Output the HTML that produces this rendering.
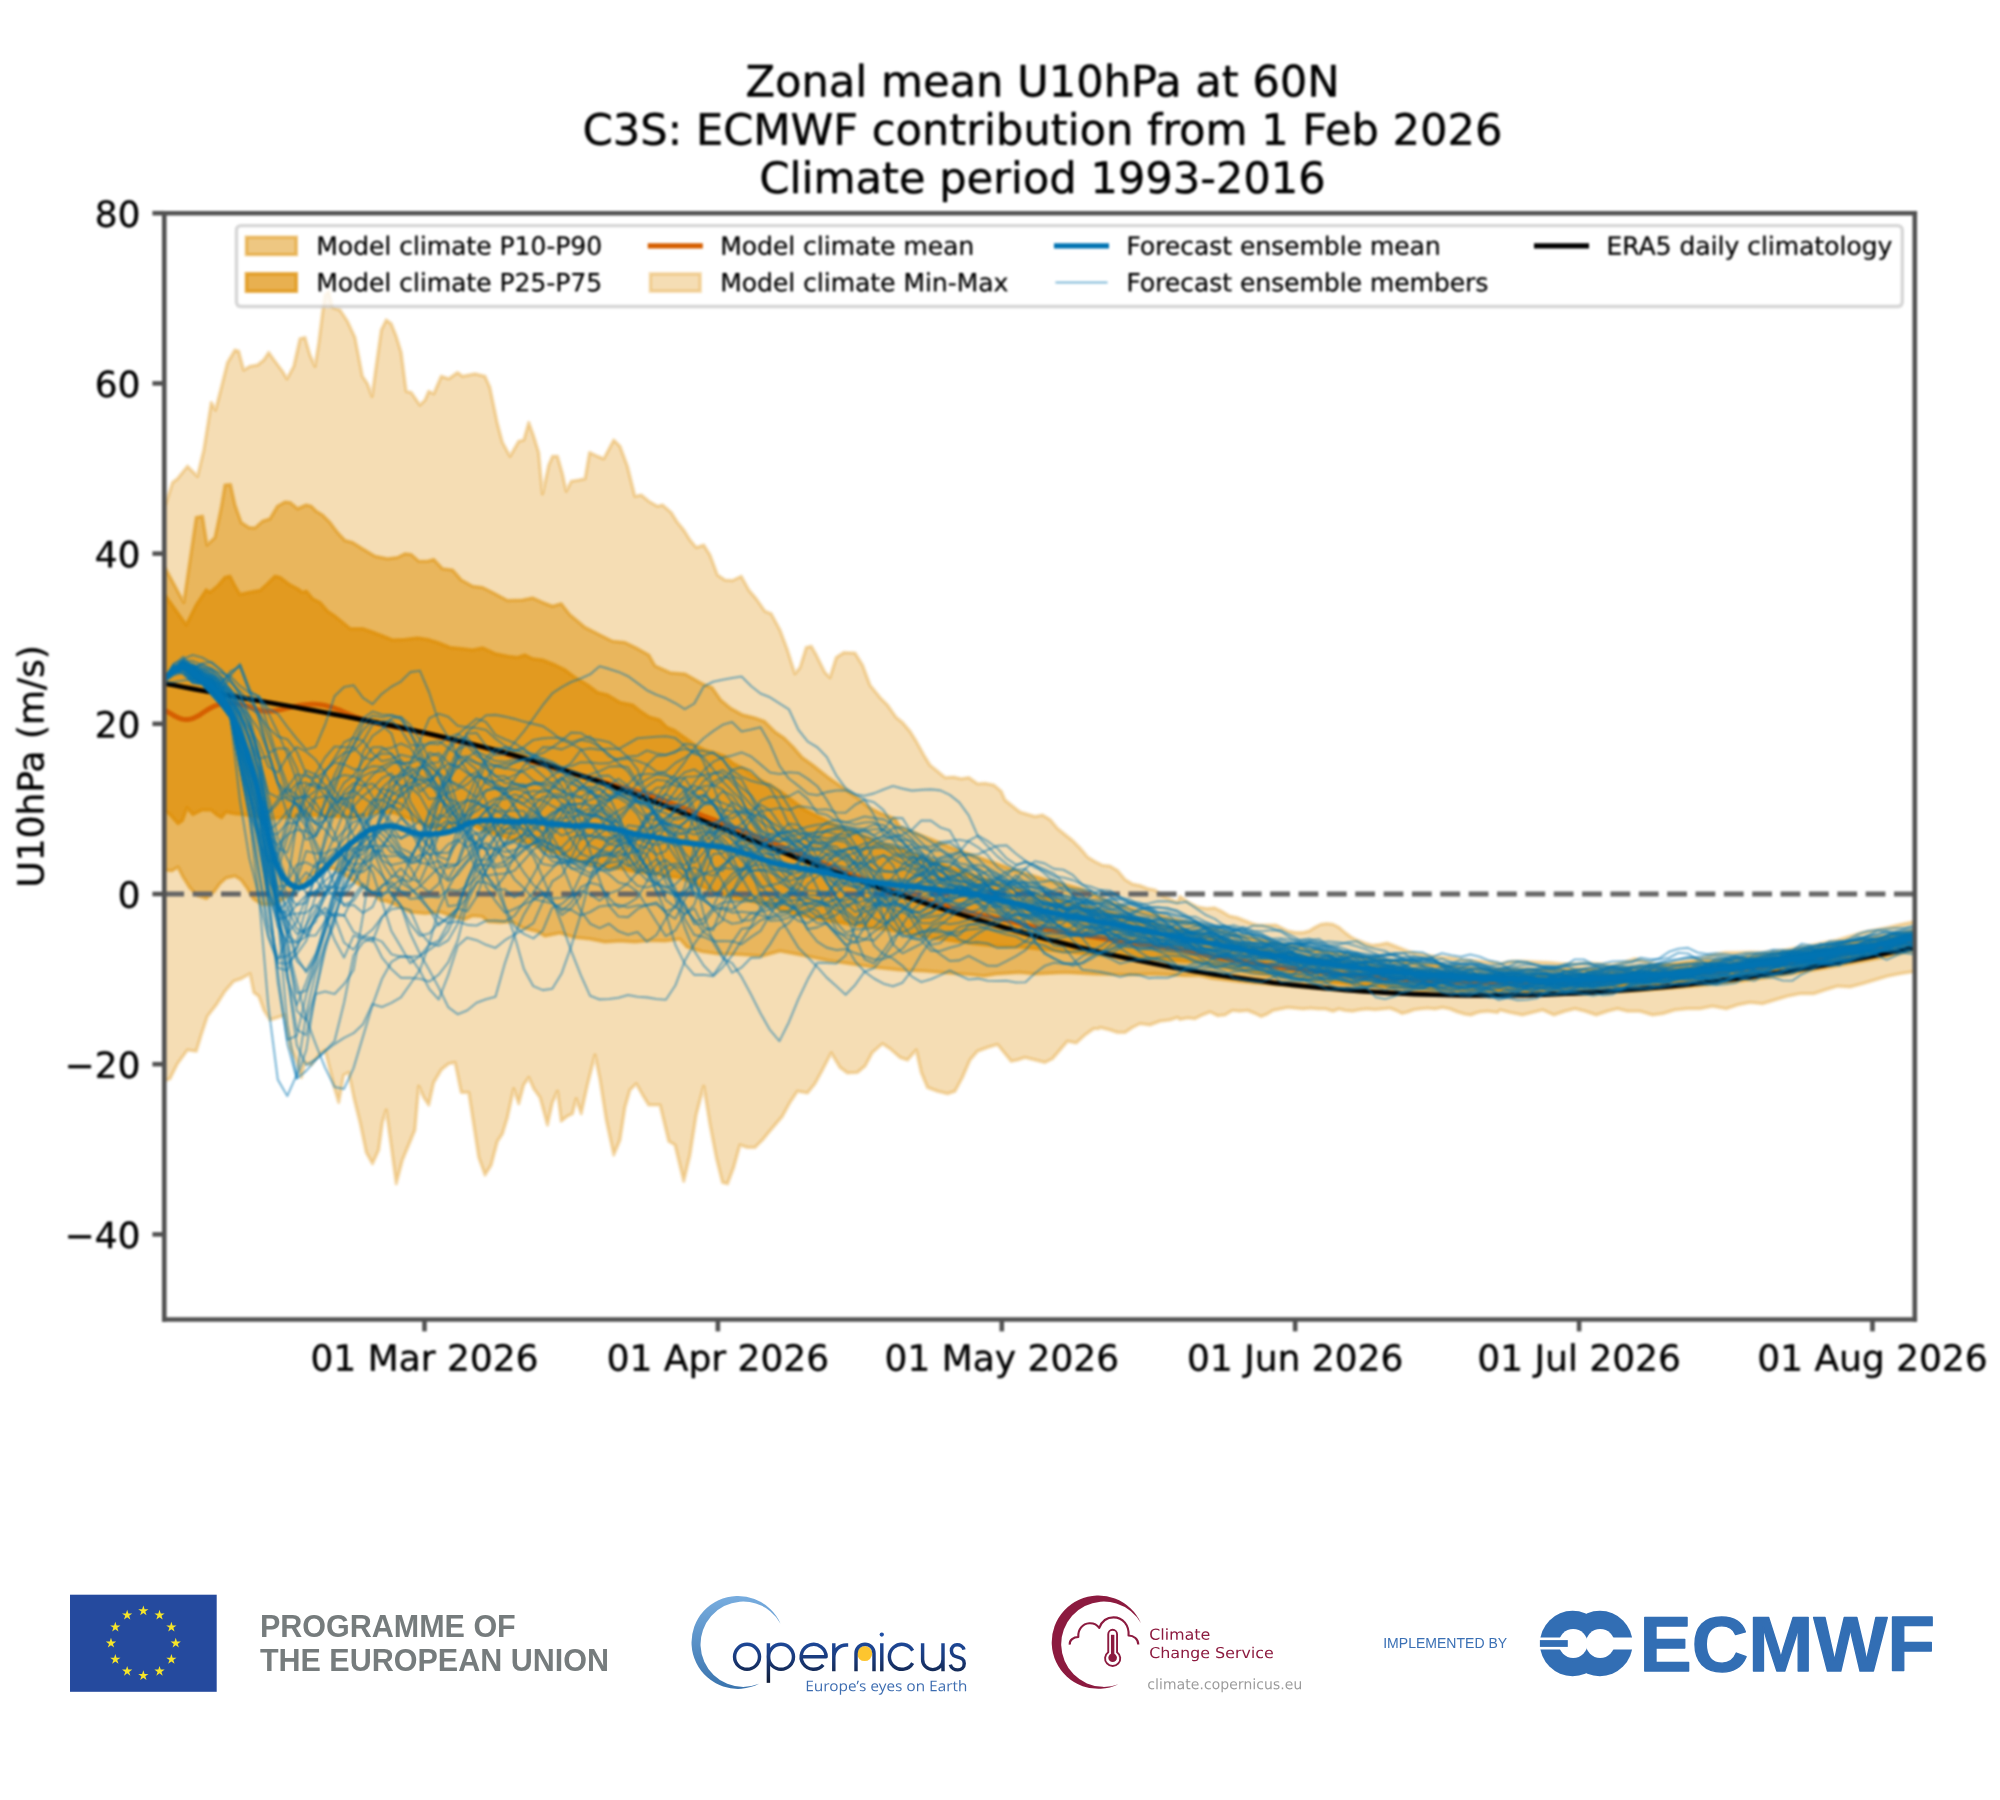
<!DOCTYPE html>
<html lang="en"><head><meta charset="utf-8"><title>Zonal mean U10hPa at 60N</title>
<style>
html,body{margin:0;padding:0;background:#fff;}
body{width:2000px;height:1800px;position:relative;overflow:hidden;font-family:"Liberation Sans",sans-serif;}
#page{position:relative;width:2000px;height:1800px;overflow:hidden;background:#fff;}
#chart{position:absolute;left:0;top:0;width:2000px;height:1800px;}
#txt span{position:absolute;color:transparent;white-space:nowrap;line-height:1.15;pointer-events:none;}
#chart svg{display:block;filter:blur(0.9px);}
#footer{filter:blur(0.55px);}
#chart g[id^="text_"] use{stroke:#000;stroke-width:70;}
</style></head><body>
<div id="page">
<div id="chart">
<svg width="2000" height="1800" viewBox="0 0 588.235294 529.411765" version="1.1">
 <defs>
  <style type="text/css">*{stroke-linejoin: round; stroke-linecap: butt}</style>
 </defs>
 <g id="figure_1">
  <g id="patch_1">
   <path d="M 0 529.41 L 588.23 529.41 L 588.23 0 L 0 0 L 0 529.41 z " style="fill: none"/>
  </g>
  <g id="axes_1">
   <g id="patch_2">
    <path d="M 48.32 388.08 L 563.17 388.08 L 563.17 62.70 L 48.32 62.70 L 48.32 388.08 z " style="fill: none"/>
   </g>
   <g id="patch_3">
    <path d="M 48.32 148.89 L 48.52 148.89 L 50.73 141.91 L 52.20 140.80 L 55.14 137.13 L 58.08 140.07 L 59.92 132.35 L 62.13 118.38 L 63.38 120.58 L 64.70 115.44 L 66.91 106.61 L 69.11 102.94 L 70.22 103.30 L 71.69 108.82 L 73.52 107.72 L 75.73 107.35 L 77.57 105.88 L 79.04 103.67 L 80.88 106.25 L 83.08 109.19 L 84.41 111.39 L 86.39 107.72 L 88.23 99.63 L 89.70 99.26 L 91.17 104.41 L 92.64 107.72 L 93.75 100.73 L 94.85 91.91 L 95.58 86.76 L 96.69 85.66 L 97.79 90.44 L 100 91.17 L 102.20 94.48 L 104.41 99.26 L 106.61 110.66 L 108.08 112.86 L 109.41 116.54 L 110.66 107.35 L 112.13 97.05 L 113.60 94.11 L 115.07 95.22 L 116.54 98.89 L 118.01 103.67 L 119.48 115.07 L 120.95 115.44 L 123.52 119.11 L 125 117.64 L 126.10 115.07 L 127.57 115.80 L 129.77 110.66 L 131.98 111.39 L 134.55 109.55 L 136.02 110.66 L 139.70 109.92 L 142.64 110.66 L 144.11 113.97 L 146.32 124.63 L 147.79 130.14 L 150 134.19 L 152.57 129.77 L 154.04 129.41 L 155.51 124.26 L 156.98 128.30 L 158.45 133.08 L 159.55 145.22 L 161.39 136.76 L 162.5 134.19 L 163.97 134.19 L 165.44 139.33 L 166.54 144.48 L 168.01 141.54 L 170.22 141.17 L 172.05 140.80 L 173.38 133.08 L 175.73 134.19 L 177.57 134.92 L 180.51 129.41 L 182.35 131.25 L 184.55 137.13 L 186.76 145.95 L 188.60 145.58 L 190.80 147.42 L 193.38 148.89 L 194.85 148.52 L 197.42 150.73 L 199.26 153.67 L 201.10 155.88 L 202.94 158.82 L 204.77 161.02 L 206.98 160.29 L 208.82 163.23 L 211.02 169.11 L 213.23 170.58 L 215.44 170.73 L 218.01 169.48 L 220.22 173.52 L 222.42 176.10 L 225 179.77 L 226.83 180.51 L 229.41 185.29 L 231.61 191.17 L 233.82 198.16 L 235.29 196.32 L 237.13 190.44 L 238.60 190.07 L 240.07 192.64 L 242.64 197.79 L 244.11 199.26 L 245.95 193.38 L 248.16 191.91 L 251.47 192.05 L 253.67 195.58 L 255.88 201.47 L 258.82 205.14 L 261.02 207.35 L 263.60 211.02 L 265.44 212.5 L 267.64 215.07 L 269.48 218.01 L 271.69 222.05 L 273.52 225 L 275.73 226.83 L 277.94 228.67 L 280.51 228.52 L 282.72 229.04 L 284.92 228.67 L 287.5 230.51 L 289.70 230.36 L 292.27 230.88 L 294.48 232.72 L 295.58 235.29 L 299.99 238.82 L 304.41 240.14 L 306.61 239.70 L 308.82 241.02 L 311.02 243.67 L 313.23 245.44 L 315.44 247.20 L 317.64 249.41 L 319.85 252.05 L 322.05 253.38 L 324.26 254.48 L 326.47 254.70 L 328.67 256.02 L 330.88 258.67 L 333.08 259.99 L 335.29 260.44 L 337.49 261.32 L 339.70 261.76 L 341.91 263.52 L 344.11 264.41 L 346.32 265.29 L 346.32 265.44 L 347.05 263.67 L 349.70 265.44 L 352.35 266.76 L 354.99 267.20 L 357.20 266.98 L 359.41 268.08 L 361.61 269.41 L 363.82 269.85 L 366.02 270.73 L 368.23 271.61 L 369.99 272.05 L 372.64 272.05 L 375.29 272.05 L 377.05 272.94 L 378.82 273.82 L 381.02 274.26 L 383.23 274.26 L 384.99 273.82 L 386.76 272.72 L 388.52 271.83 L 390.29 271.61 L 392.05 271.83 L 393.82 272.72 L 395.58 274.26 L 397.35 275.58 L 399.11 276.47 L 401.32 277.35 L 403.52 278.01 L 405.73 277.79 L 407.94 277.35 L 409.70 278.01 L 411.91 278.89 L 414.11 279.77 L 416.76 280.44 L 419.41 280.88 L 422.05 281.32 L 424.70 281.54 L 427.35 281.76 L 429.99 282.20 L 432.64 282.42 L 435.29 282.64 L 437.5 282.94 L 440.44 283.23 L 441.17 283.45 L 444.85 282.72 L 448.52 282.72 L 452.20 282.94 L 455.88 283.08 L 459.55 283.45 L 463.23 283.45 L 466.91 283.23 L 470.58 283.45 L 474.26 283.82 L 477.94 282.94 L 480.88 281.98 L 483.82 282.72 L 486.76 283.45 L 491.17 283.45 L 495.58 282.72 L 500 281.98 L 503.67 280.88 L 507.35 280.14 L 511.02 280.14 L 514.70 280 L 518.38 280.14 L 522.05 279.77 L 525.73 279.26 L 529.41 278.52 L 533.08 277.94 L 536.76 277.20 L 540.44 276.47 L 544.11 275.36 L 547.79 274.26 L 551.47 273.52 L 555.14 272.79 L 558.82 271.91 L 563.17 271.04 L 563.17 285.74 L 558.82 286.39 L 555.14 287.13 L 551.47 288.23 L 547.79 289.33 L 544.11 290.29 L 540.44 290.07 L 536.76 291.17 L 533.45 292.27 L 529.41 292.27 L 525.73 293.01 L 522.05 294.11 L 518.38 295.22 L 514.70 294.85 L 511.02 295.58 L 507.72 296.69 L 503.67 295.95 L 500 296.69 L 496.32 296.69 L 492.64 297.05 L 488.97 298.16 L 486.02 298.52 L 482.35 297.42 L 478.67 297.42 L 475.73 296.69 L 472.79 297.42 L 469.48 298.52 L 466.17 297.42 L 463.23 296.69 L 460.29 297.42 L 456.98 298.52 L 453.67 297.05 L 450.73 297.79 L 447.79 298.52 L 444.11 297.79 L 441.17 297.05 L 440.44 297.79 L 437.5 297.42 L 435.29 297.64 L 434.41 297.86 L 432.64 298.52 L 430.88 298.30 L 428.67 297.64 L 426.47 296.76 L 424.26 296.32 L 422.05 296.76 L 419.85 296.54 L 417.64 296.76 L 415.88 296.98 L 414.11 297.64 L 412.35 298.08 L 410.58 297.20 L 408.82 296.54 L 406.61 296.76 L 404.41 296.98 L 402.20 296.76 L 399.99 296.98 L 397.79 297.42 L 395.58 297.20 L 393.82 296.76 L 392.05 297.42 L 389.85 296.76 L 387.64 296.76 L 385.44 296.54 L 383.23 296.76 L 381.02 296.54 L 378.82 296.32 L 376.61 296.76 L 374.41 297.20 L 372.64 298.30 L 370.88 298.97 L 369.11 298.08 L 366.91 297.20 L 364.70 297.42 L 362.49 297.20 L 360.29 298.52 L 358.08 298.74 L 355.88 297.64 L 353.67 298.52 L 351.47 299.63 L 349.26 299.41 L 347.05 299.85 L 346.32 299.26 L 344.11 300 L 341.17 300.36 L 338.23 301.47 L 335.29 301.10 L 333.08 302.20 L 330.88 303.67 L 328.67 303.67 L 326.47 302.94 L 323.52 302.20 L 323.16 302.57 L 321.69 302.57 L 319.11 304.41 L 316.54 306.76 L 313.97 306.25 L 311.76 308.82 L 309.55 311.39 L 307.35 312.5 L 304.41 311.76 L 301.47 311.02 L 299.26 311.76 L 297.42 312.13 L 295.58 309.92 L 293.38 307.20 L 290.44 308.08 L 287.5 309.19 L 285.29 311.76 L 283.08 316.91 L 280.88 320.95 L 278.67 321.69 L 275.73 320.95 L 272.79 319.85 L 270.95 315.44 L 269.48 308.82 L 266.91 311.76 L 264.70 311.02 L 261.76 308.45 L 259.55 306.98 L 256.61 309.55 L 254.41 313.60 L 252.20 315.44 L 249.26 315.58 L 247.05 313.97 L 244.48 309.70 L 241.91 314.70 L 239.70 318.75 L 237.5 321.47 L 234.55 320.95 L 232.35 324.26 L 230.14 328.30 L 227.94 330.88 L 226.10 333.08 L 224.26 335.29 L 222.05 337.5 L 219.85 337.5 L 217.64 336.76 L 215.80 343.38 L 213.97 348.16 L 212.5 347.79 L 210.66 340.44 L 208.82 330.88 L 206.98 319.48 L 204.77 327.94 L 202.94 339.70 L 201.10 347.42 L 198.52 336.76 L 196.69 335.66 L 194.11 325 L 191.54 325 L 190.80 325 L 188.97 322.05 L 187.13 318.75 L 185.29 320.58 L 183.82 325.73 L 182.35 335.29 L 180.51 339.70 L 178.30 329.41 L 176.47 317.64 L 175 310.29 L 172.79 319.11 L 170.95 327.57 L 169.48 323.16 L 168.38 327.57 L 166.91 328.30 L 165.07 329.77 L 163.97 320.95 L 162.5 324.26 L 161.02 330.88 L 158.82 322.79 L 156.98 320.22 L 155.51 316.91 L 154.04 319.11 L 152.57 324.63 L 151.10 320.22 L 149.26 328.67 L 147.79 333.45 L 146.32 335.66 L 144.48 342.64 L 142.64 345.58 L 140.80 340.44 L 139.33 330.88 L 137.86 321.32 L 135.66 321.32 L 133.82 312.5 L 131.98 312.86 L 129.77 314.70 L 127.57 318.38 L 126.10 325 L 124.63 322.79 L 123.16 319.48 L 122.05 332.35 L 120.22 336.76 L 118.38 341.17 L 116.54 348.16 L 114.70 334.55 L 113.60 326.47 L 112.5 330.14 L 111.39 338.23 L 109.55 342.27 L 107.72 338.97 L 105.88 330.14 L 104.04 322.79 L 102.57 315.44 L 101.10 316.17 L 99.63 324.26 L 98.52 320.58 L 97.05 314.70 L 95.58 308.82 L 94.11 309.92 L 91.54 313.23 L 89.70 312.5 L 88.60 316.91 L 87.13 311.76 L 85.29 308.08 L 83.82 298.52 L 81.61 299.26 L 79.41 300 L 77.57 297.05 L 76.10 293.01 L 74.63 291.91 L 73.52 286.39 L 70.95 287.86 L 68.75 288.60 L 66.17 291.54 L 63.60 295.58 L 61.02 298.89 L 59.19 304.41 L 57.72 309.19 L 55.14 308.82 L 52.20 312.86 L 50 317.27 L 48.32 318.00 z " clip-path="url(#p6716cef48e)" style="fill: #de8f05; fill-opacity: 0.3; stroke: #de8f05; stroke-opacity: 0.3; stroke-width: 1.05"/>
   </g>
   <g id="patch_4">
    <path d="M 48.32 166.91 L 48.52 166.91 L 54.04 177.20 L 57.72 152.20 L 59.55 151.83 L 60.88 160.29 L 63.23 158.08 L 65.07 149.26 L 66.17 142.64 L 67.79 142.5 L 69.11 148.52 L 70.95 153.67 L 73.16 155.14 L 75 155.29 L 77.20 153.30 L 79.41 152.57 L 81.61 148.89 L 83.82 147.64 L 85.29 147.79 L 87.5 149.63 L 90.07 148.52 L 91.54 148.89 L 93.01 150.36 L 94.85 151.47 L 97.05 153.67 L 99.26 156.61 L 101.47 158.97 L 103.67 159.55 L 106.61 161.39 L 110.29 163.60 L 113.97 164.33 L 116.91 163.97 L 119.11 162.86 L 120.95 163.08 L 123.16 165.07 L 125.73 165.07 L 127.57 164.55 L 130.14 167.27 L 133.08 167.64 L 135.66 170.58 L 138.97 172.42 L 141.91 172.79 L 144.85 174.26 L 149.26 176.61 L 153.67 176.47 L 156.61 175.88 L 159.55 177.20 L 162.5 178.30 L 165.07 177.57 L 167.64 180.88 L 172.05 184.55 L 176.47 186.76 L 180.14 188.60 L 183.82 188.97 L 187.5 190.80 L 190.80 192.64 L 192.64 195.88 L 197.05 197.85 L 201.47 198.23 L 205.88 200.73 L 207.64 201.61 L 209.41 202.26 L 212.05 206.02 L 214.70 208.23 L 218.23 210.20 L 221.76 211.08 L 224.85 212.20 L 227.94 215.29 L 230.58 217.05 L 233.23 219.70 L 235.88 222.79 L 238.97 225 L 243.38 228.52 L 247.79 231.61 L 252.20 234.70 L 255.29 237.35 L 258.82 239.11 L 263.23 240.88 L 264.70 243.23 L 273.52 246.76 L 282.35 250.29 L 291.17 253.38 L 300 256.47 L 308.82 259.11 L 317.64 261.32 L 326.47 265.29 L 335.29 267.94 L 344.11 270.14 L 352.94 271.91 L 355.88 272.96 L 360.29 274.02 L 364.70 275.05 L 369.11 276.03 L 373.52 276.97 L 377.94 277.88 L 382.35 278.74 L 386.76 279.46 L 391.17 280.14 L 395.58 280.79 L 400 281.39 L 404.41 281.95 L 408.82 282.48 L 413.23 282.97 L 417.64 283.42 L 422.05 283.83 L 426.47 284.20 L 430.88 284.54 L 435.29 284.84 L 439.70 284.99 L 444.11 285.09 L 448.52 285.16 L 452.94 285.19 L 457.35 285.19 L 461.76 285.15 L 466.17 285.08 L 470.58 284.97 L 475 284.77 L 479.41 284.53 L 483.82 284.26 L 488.23 283.95 L 492.64 283.61 L 497.05 283.23 L 501.47 282.83 L 505.88 282.39 L 510.29 281.91 L 514.70 281.40 L 519.11 280.86 L 523.52 280.28 L 527.94 279.67 L 532.35 279.02 L 536.76 278.34 L 541.17 277.64 L 545.58 276.90 L 550 276.13 L 554.41 275.33 L 558.82 274.49 L 563.17 273.69 L 563.17 279.57 L 558.82 280.45 L 554.41 281.37 L 550 282.25 L 545.58 283.10 L 541.17 283.92 L 536.76 284.71 L 532.35 285.46 L 527.94 286.19 L 523.52 286.88 L 519.11 287.54 L 514.70 288.17 L 510.29 288.71 L 505.88 289.21 L 501.47 289.68 L 497.05 290.12 L 492.64 290.52 L 488.23 290.89 L 483.82 291.23 L 479.41 291.53 L 475 291.79 L 470.58 292.03 L 466.17 292.25 L 461.76 292.43 L 457.35 292.58 L 452.94 292.69 L 448.52 292.77 L 444.11 292.81 L 439.70 292.82 L 435.29 292.78 L 430.88 292.78 L 426.47 292.73 L 422.05 292.65 L 417.64 292.53 L 413.23 292.38 L 408.82 292.18 L 404.41 291.95 L 400 291.68 L 395.58 291.37 L 391.17 291.03 L 386.76 290.64 L 382.35 290.21 L 377.94 289.88 L 373.52 289.50 L 369.11 289.09 L 364.70 288.64 L 360.29 288.14 L 355.88 287.61 L 352.94 286.91 L 348.52 286.91 L 339.70 286.47 L 330.88 286.67 L 322.05 286.47 L 313.23 286.02 L 304.41 286.47 L 300 286 L 292.94 286.47 L 289.41 287.05 L 285.88 286.70 L 278.82 286.17 L 271.76 285.58 L 264.70 285.29 L 257.64 284.58 L 250.58 283.52 L 243.52 282.47 L 236.47 281.05 L 229.41 279.70 L 224.11 281.17 L 217.64 280.73 L 210.88 280.5 L 206.47 279.85 L 202.05 278.52 L 200 276.17 L 195.58 276.76 L 191.17 276.61 L 186.76 277.05 L 182.35 276.76 L 177.94 277.05 L 173.52 276.17 L 169.11 275.73 L 164.70 274.41 L 160.29 275.29 L 158.08 273.97 L 153.67 272.85 L 150.58 271.08 L 147.05 271.32 L 143.52 271.08 L 141.76 269.55 L 139.11 269.32 L 136.47 270.44 L 133.82 269.70 L 129.41 268.23 L 125 268.67 L 120.58 268.23 L 116.17 266.02 L 113.97 265.14 L 111.76 264.70 L 108.82 262.05 L 104.41 259.41 L 100 256.32 L 97.64 255.29 L 93.52 255.88 L 89.70 258.82 L 85.29 263.23 L 80.58 266.02 L 77.05 266.02 L 74.41 264.26 L 72.64 261.17 L 70.88 258.73 L 69.11 257.64 L 66.47 258.23 L 64.70 259.85 L 62.94 262.26 L 60.73 264.26 L 58.08 263.38 L 55.88 261.17 L 53.67 257.64 L 52.35 255 L 50.58 256.08 L 48.32 255.88 z " clip-path="url(#p6716cef48e)" style="fill: #de8f05; fill-opacity: 0.5; stroke: #de8f05; stroke-opacity: 0.5; stroke-width: 1.05"/>
   </g>
   <g id="patch_5">
    <path d="M 48.32 175 L 48.52 175 L 54.77 183.82 L 57.72 177.94 L 60.66 173.52 L 61.76 174.26 L 63.97 172.42 L 66.17 169.85 L 67.64 169.48 L 69.11 172.42 L 70.58 174.85 L 73.16 174.26 L 76.47 173.67 L 78.67 171.69 L 80.88 169.48 L 82.35 169.85 L 85.29 172.05 L 87.5 173.16 L 88.97 174.26 L 90.07 173.89 L 91.91 176.10 L 94.11 177.20 L 96.32 179.77 L 98.52 181.25 L 100.73 183.08 L 102.94 184.92 L 106.61 184.92 L 108.82 185.66 L 111.76 186.76 L 115.44 188.23 L 119.11 188.08 L 122.79 187.64 L 125.73 188.08 L 128.67 188.97 L 132.35 190.44 L 136.02 190.80 L 138.97 191.17 L 141.91 190.58 L 145.58 192.27 L 149.26 193.01 L 152.20 193.38 L 154.41 192.64 L 156.61 193.75 L 159.55 194.11 L 163.23 195.58 L 166.17 197.05 L 169.11 199.26 L 172.79 201.47 L 175.73 203.67 L 178.67 204.41 L 182.35 206.61 L 186.02 207.35 L 188.23 209.11 L 190.88 210.88 L 193.97 211.76 L 196.17 213.97 L 198.38 214.85 L 201.47 217.05 L 204.55 219.26 L 207.20 220.58 L 210.29 221.47 L 212.94 222.35 L 215.58 224.55 L 219.11 226.32 L 222.64 228.97 L 226.17 230.73 L 229.70 232.94 L 233.23 235.58 L 236.76 238.23 L 241.17 240.44 L 245.58 242.64 L 250 244.41 L 254.41 246.17 L 258.82 247.94 L 263.23 249.26 L 264.70 249.70 L 273.52 252.94 L 282.35 256.17 L 291.17 259.11 L 300 261.76 L 308.82 264.11 L 317.64 266.32 L 326.47 268.52 L 335.29 270.73 L 344.11 272.79 L 352.94 274.70 L 355.88 275.71 L 360.29 276.71 L 364.70 277.66 L 369.11 278.58 L 373.52 279.46 L 377.94 280.30 L 382.35 281.10 L 386.76 281.77 L 391.17 282.40 L 395.58 282.99 L 400 283.54 L 404.41 284.06 L 408.82 284.54 L 413.23 284.98 L 417.64 285.38 L 422.05 285.74 L 426.47 286.07 L 430.88 286.36 L 435.29 286.61 L 439.70 286.71 L 444.11 286.78 L 448.52 286.81 L 452.94 286.81 L 457.35 286.77 L 461.76 286.69 L 466.17 286.58 L 470.58 286.44 L 475 286.24 L 479.41 286.00 L 483.82 285.73 L 488.23 285.42 L 492.64 285.08 L 497.05 284.70 L 501.47 284.30 L 505.88 283.86 L 510.29 283.38 L 514.70 282.87 L 519.11 282.30 L 523.52 281.69 L 527.94 281.06 L 532.35 280.38 L 536.76 279.68 L 541.17 278.95 L 545.58 278.18 L 550 277.38 L 554.41 276.56 L 558.82 275.70 L 563.17 274.86 L 563.17 277.80 L 558.82 278.66 L 554.41 279.55 L 550 280.40 L 545.58 281.23 L 541.17 282.02 L 536.76 282.78 L 532.35 283.51 L 527.94 284.21 L 523.52 284.88 L 519.11 285.51 L 514.70 286.11 L 510.29 286.69 L 505.88 287.24 L 501.47 287.75 L 497.05 288.23 L 492.64 288.67 L 488.23 289.09 L 483.82 289.47 L 479.41 289.81 L 475 290.12 L 470.58 290.39 L 466.17 290.63 L 461.76 290.84 L 457.35 291.01 L 452.94 291.14 L 448.52 291.24 L 444.11 291.30 L 439.70 291.32 L 435.29 291.31 L 430.88 291.23 L 426.47 291.11 L 422.05 290.96 L 417.64 290.77 L 413.23 290.54 L 408.82 290.27 L 404.41 289.97 L 400 289.62 L 395.58 289.24 L 391.17 288.82 L 386.76 288.36 L 382.35 287.86 L 377.94 287.28 L 373.52 286.67 L 369.11 286.01 L 364.70 285.31 L 360.29 284.58 L 355.88 283.80 L 352.94 282.94 L 338.23 282.05 L 323.52 280.88 L 311.76 279.70 L 300 278.52 L 292.94 278.23 L 285.88 277.52 L 278.82 276.47 L 271.76 275.41 L 264.70 274 L 257.64 272.94 L 250.58 271.88 L 243.52 270.82 L 236.47 269.41 L 229.41 267.64 L 228.67 267.05 L 222.05 265.29 L 215.44 263.97 L 208.82 261.76 L 200 258.08 L 195.58 257.64 L 191.17 256.76 L 186.76 256.32 L 182.35 255.44 L 177.94 255 L 173.52 254.11 L 169.11 252.79 L 164.70 251.02 L 160.29 250.14 L 155.88 247.94 L 151.47 247.05 L 147.05 245.73 L 142.64 244.41 L 138.23 242.20 L 133.82 242.64 L 129.41 243.97 L 125 242.64 L 120.58 240.88 L 116.17 239.11 L 111.76 238.82 L 104.41 240.44 L 91.17 239.70 L 77.94 240.88 L 71.76 239.55 L 69.11 239.32 L 66.47 238.82 L 65.14 240.44 L 63.82 239.70 L 62.05 238.23 L 59.41 238.23 L 56.76 239.55 L 55 237.55 L 53.67 241.32 L 52.35 242.20 L 50.14 239.70 L 48.32 238.23 z " clip-path="url(#p6716cef48e)" style="fill: #de8f05; fill-opacity: 0.7; stroke: #de8f05; stroke-opacity: 0.7; stroke-width: 1.05"/>
   </g>
   <g id="line2d_1">
    <path d="M 48.32 262.94 L 563.17 262.94 " clip-path="url(#p6716cef48e)" style="fill: none; stroke-dasharray: 5.82,2.52; stroke-dashoffset: 0; stroke: #666666; stroke-width: 1.5"/>
   </g>
   <g id="matplotlib.axis_1">
    <g id="xtick_1">
     <g id="line2d_2">
      <defs>
       <path id="m277474217e" d="M 0 0 L 0 3.5 " style="stroke: #525252; stroke-width: 1.35"/>
      </defs>
      <g>
       <use href="#m277474217e" x="124.850588" y="388.088235" style="fill: #525252; stroke: #525252; stroke-width: 1.35"/>
      </g>
     </g>
     <g id="text_1">
      <g transform="translate(91.312815 403.127382) scale(0.1058 -0.1058)">
       <defs>
        <path id="DejaVuSans-30" d="M 2034 4250 Q 1547 4250 1301 3770 Q 1056 3291 1056 2328 Q 1056 1369 1301 889 Q 1547 409 2034 409 Q 2525 409 2770 889 Q 3016 1369 3016 2328 Q 3016 3291 2770 3770 Q 2525 4250 2034 4250 z M 2034 4750 Q 2819 4750 3233 4129 Q 3647 3509 3647 2328 Q 3647 1150 3233 529 Q 2819 -91 2034 -91 Q 1250 -91 836 529 Q 422 1150 422 2328 Q 422 3509 836 4129 Q 1250 4750 2034 4750 z " transform="scale(0.015625)"/>
        <path id="DejaVuSans-31" d="M 794 531 L 1825 531 L 1825 4091 L 703 3866 L 703 4441 L 1819 4666 L 2450 4666 L 2450 531 L 3481 531 L 3481 0 L 794 0 L 794 531 z " transform="scale(0.015625)"/>
        <path id="DejaVuSans-20" transform="scale(0.015625)"/>
        <path id="DejaVuSans-4d" d="M 628 4666 L 1569 4666 L 2759 1491 L 3956 4666 L 4897 4666 L 4897 0 L 4281 0 L 4281 4097 L 3078 897 L 2444 897 L 1241 4097 L 1241 0 L 628 0 L 628 4666 z " transform="scale(0.015625)"/>
        <path id="DejaVuSans-61" d="M 2194 1759 Q 1497 1759 1228 1600 Q 959 1441 959 1056 Q 959 750 1161 570 Q 1363 391 1709 391 Q 2188 391 2477 730 Q 2766 1069 2766 1631 L 2766 1759 L 2194 1759 z M 3341 1997 L 3341 0 L 2766 0 L 2766 531 Q 2569 213 2275 61 Q 1981 -91 1556 -91 Q 1019 -91 701 211 Q 384 513 384 1019 Q 384 1609 779 1909 Q 1175 2209 1959 2209 L 2766 2209 L 2766 2266 Q 2766 2663 2505 2880 Q 2244 3097 1772 3097 Q 1472 3097 1187 3025 Q 903 2953 641 2809 L 641 3341 Q 956 3463 1253 3523 Q 1550 3584 1831 3584 Q 2591 3584 2966 3190 Q 3341 2797 3341 1997 z " transform="scale(0.015625)"/>
        <path id="DejaVuSans-72" d="M 2631 2963 Q 2534 3019 2420 3045 Q 2306 3072 2169 3072 Q 1681 3072 1420 2755 Q 1159 2438 1159 1844 L 1159 0 L 581 0 L 581 3500 L 1159 3500 L 1159 2956 Q 1341 3275 1631 3429 Q 1922 3584 2338 3584 Q 2397 3584 2469 3576 Q 2541 3569 2628 3553 L 2631 2963 z " transform="scale(0.015625)"/>
        <path id="DejaVuSans-32" d="M 1228 531 L 3431 531 L 3431 0 L 469 0 L 469 531 Q 828 903 1448 1529 Q 2069 2156 2228 2338 Q 2531 2678 2651 2914 Q 2772 3150 2772 3378 Q 2772 3750 2511 3984 Q 2250 4219 1831 4219 Q 1534 4219 1204 4116 Q 875 4013 500 3803 L 500 4441 Q 881 4594 1212 4672 Q 1544 4750 1819 4750 Q 2544 4750 2975 4387 Q 3406 4025 3406 3419 Q 3406 3131 3298 2873 Q 3191 2616 2906 2266 Q 2828 2175 2409 1742 Q 1991 1309 1228 531 z " transform="scale(0.015625)"/>
        <path id="DejaVuSans-36" d="M 2113 2584 Q 1688 2584 1439 2293 Q 1191 2003 1191 1497 Q 1191 994 1439 701 Q 1688 409 2113 409 Q 2538 409 2786 701 Q 3034 994 3034 1497 Q 3034 2003 2786 2293 Q 2538 2584 2113 2584 z M 3366 4563 L 3366 3988 Q 3128 4100 2886 4159 Q 2644 4219 2406 4219 Q 1781 4219 1451 3797 Q 1122 3375 1075 2522 Q 1259 2794 1537 2939 Q 1816 3084 2150 3084 Q 2853 3084 3261 2657 Q 3669 2231 3669 1497 Q 3669 778 3244 343 Q 2819 -91 2113 -91 Q 1303 -91 875 529 Q 447 1150 447 2328 Q 447 3434 972 4092 Q 1497 4750 2381 4750 Q 2619 4750 2861 4703 Q 3103 4656 3366 4563 z " transform="scale(0.015625)"/>
       </defs>
       <use href="#DejaVuSans-30"/>
       <use href="#DejaVuSans-31" transform="translate(63.623047 0)"/>
       <use href="#DejaVuSans-20" transform="translate(127.246094 0)"/>
       <use href="#DejaVuSans-4d" transform="translate(159.033203 0)"/>
       <use href="#DejaVuSans-61" transform="translate(245.3125 0)"/>
       <use href="#DejaVuSans-72" transform="translate(306.591797 0)"/>
       <use href="#DejaVuSans-20" transform="translate(347.705078 0)"/>
       <use href="#DejaVuSans-32" transform="translate(379.492188 0)"/>
       <use href="#DejaVuSans-30" transform="translate(443.115234 0)"/>
       <use href="#DejaVuSans-32" transform="translate(506.738281 0)"/>
       <use href="#DejaVuSans-36" transform="translate(570.361328 0)"/>
      </g>
     </g>
    </g>
    <g id="xtick_2">
     <g id="line2d_3">
      <g>
       <use href="#m277474217e" x="211.14" y="388.088235" style="fill: #525252; stroke: #525252; stroke-width: 1.35"/>
      </g>
     </g>
     <g id="text_2">
      <g transform="translate(178.431269 403.127382) scale(0.1058 -0.1058)">
       <defs>
        <path id="DejaVuSans-41" d="M 2188 4044 L 1331 1722 L 3047 1722 L 2188 4044 z M 1831 4666 L 2547 4666 L 4325 0 L 3669 0 L 3244 1197 L 1141 1197 L 716 0 L 50 0 L 1831 4666 z " transform="scale(0.015625)"/>
        <path id="DejaVuSans-70" d="M 1159 525 L 1159 -1331 L 581 -1331 L 581 3500 L 1159 3500 L 1159 2969 Q 1341 3281 1617 3432 Q 1894 3584 2278 3584 Q 2916 3584 3314 3078 Q 3713 2572 3713 1747 Q 3713 922 3314 415 Q 2916 -91 2278 -91 Q 1894 -91 1617 61 Q 1341 213 1159 525 z M 3116 1747 Q 3116 2381 2855 2742 Q 2594 3103 2138 3103 Q 1681 3103 1420 2742 Q 1159 2381 1159 1747 Q 1159 1113 1420 752 Q 1681 391 2138 391 Q 2594 391 2855 752 Q 3116 1113 3116 1747 z " transform="scale(0.015625)"/>
       </defs>
       <use href="#DejaVuSans-30"/>
       <use href="#DejaVuSans-31" transform="translate(63.623047 0)"/>
       <use href="#DejaVuSans-20" transform="translate(127.246094 0)"/>
       <use href="#DejaVuSans-41" transform="translate(159.033203 0)"/>
       <use href="#DejaVuSans-70" transform="translate(227.441406 0)"/>
       <use href="#DejaVuSans-72" transform="translate(290.917969 0)"/>
       <use href="#DejaVuSans-20" transform="translate(332.03125 0)"/>
       <use href="#DejaVuSans-32" transform="translate(363.818359 0)"/>
       <use href="#DejaVuSans-30" transform="translate(427.441406 0)"/>
       <use href="#DejaVuSans-32" transform="translate(491.064453 0)"/>
       <use href="#DejaVuSans-36" transform="translate(554.6875 0)"/>
      </g>
     </g>
    </g>
    <g id="xtick_3">
     <g id="line2d_4">
      <g>
       <use href="#m277474217e" x="294.645882" y="388.088235" style="fill: #525252; stroke: #525252; stroke-width: 1.35"/>
      </g>
     </g>
     <g id="text_3">
      <g transform="translate(260.151776 403.127382) scale(0.1058 -0.1058)">
       <defs>
        <path id="DejaVuSans-79" d="M 2059 -325 Q 1816 -950 1584 -1140 Q 1353 -1331 966 -1331 L 506 -1331 L 506 -850 L 844 -850 Q 1081 -850 1212 -737 Q 1344 -625 1503 -206 L 1606 56 L 191 3500 L 800 3500 L 1894 763 L 2988 3500 L 3597 3500 L 2059 -325 z " transform="scale(0.015625)"/>
       </defs>
       <use href="#DejaVuSans-30"/>
       <use href="#DejaVuSans-31" transform="translate(63.623047 0)"/>
       <use href="#DejaVuSans-20" transform="translate(127.246094 0)"/>
       <use href="#DejaVuSans-4d" transform="translate(159.033203 0)"/>
       <use href="#DejaVuSans-61" transform="translate(245.3125 0)"/>
       <use href="#DejaVuSans-79" transform="translate(306.591797 0)"/>
       <use href="#DejaVuSans-20" transform="translate(365.771484 0)"/>
       <use href="#DejaVuSans-32" transform="translate(397.558594 0)"/>
       <use href="#DejaVuSans-30" transform="translate(461.181641 0)"/>
       <use href="#DejaVuSans-32" transform="translate(524.804688 0)"/>
       <use href="#DejaVuSans-36" transform="translate(588.427734 0)"/>
      </g>
     </g>
    </g>
    <g id="xtick_4">
     <g id="line2d_5">
      <g>
       <use href="#m277474217e" x="380.935294" y="388.088235" style="fill: #525252; stroke: #525252; stroke-width: 1.35"/>
      </g>
     </g>
     <g id="text_4">
      <g transform="translate(349.112638 403.127382) scale(0.1058 -0.1058)">
       <defs>
        <path id="DejaVuSans-4a" d="M 628 4666 L 1259 4666 L 1259 325 Q 1259 -519 939 -900 Q 619 -1281 -91 -1281 L -331 -1281 L -331 -750 L -134 -750 Q 284 -750 456 -515 Q 628 -281 628 325 L 628 4666 z " transform="scale(0.015625)"/>
        <path id="DejaVuSans-75" d="M 544 1381 L 544 3500 L 1119 3500 L 1119 1403 Q 1119 906 1312 657 Q 1506 409 1894 409 Q 2359 409 2629 706 Q 2900 1003 2900 1516 L 2900 3500 L 3475 3500 L 3475 0 L 2900 0 L 2900 538 Q 2691 219 2414 64 Q 2138 -91 1772 -91 Q 1169 -91 856 284 Q 544 659 544 1381 z M 1991 3584 L 1991 3584 z " transform="scale(0.015625)"/>
        <path id="DejaVuSans-6e" d="M 3513 2113 L 3513 0 L 2938 0 L 2938 2094 Q 2938 2591 2744 2837 Q 2550 3084 2163 3084 Q 1697 3084 1428 2787 Q 1159 2491 1159 1978 L 1159 0 L 581 0 L 581 3500 L 1159 3500 L 1159 2956 Q 1366 3272 1645 3428 Q 1925 3584 2291 3584 Q 2894 3584 3203 3211 Q 3513 2838 3513 2113 z " transform="scale(0.015625)"/>
       </defs>
       <use href="#DejaVuSans-30"/>
       <use href="#DejaVuSans-31" transform="translate(63.623047 0)"/>
       <use href="#DejaVuSans-20" transform="translate(127.246094 0)"/>
       <use href="#DejaVuSans-4a" transform="translate(159.033203 0)"/>
       <use href="#DejaVuSans-75" transform="translate(188.525391 0)"/>
       <use href="#DejaVuSans-6e" transform="translate(251.904297 0)"/>
       <use href="#DejaVuSans-20" transform="translate(315.283203 0)"/>
       <use href="#DejaVuSans-32" transform="translate(347.070312 0)"/>
       <use href="#DejaVuSans-30" transform="translate(410.693359 0)"/>
       <use href="#DejaVuSans-32" transform="translate(474.316406 0)"/>
       <use href="#DejaVuSans-36" transform="translate(537.939453 0)"/>
      </g>
     </g>
    </g>
    <g id="xtick_5">
     <g id="line2d_6">
      <g>
       <use href="#m277474217e" x="464.441176" y="388.088235" style="fill: #525252; stroke: #525252; stroke-width: 1.35"/>
      </g>
     </g>
     <g id="text_5">
      <g transform="translate(434.50143 403.127382) scale(0.1058 -0.1058)">
       <defs>
        <path id="DejaVuSans-6c" d="M 603 4863 L 1178 4863 L 1178 0 L 603 0 L 603 4863 z " transform="scale(0.015625)"/>
       </defs>
       <use href="#DejaVuSans-30"/>
       <use href="#DejaVuSans-31" transform="translate(63.623047 0)"/>
       <use href="#DejaVuSans-20" transform="translate(127.246094 0)"/>
       <use href="#DejaVuSans-4a" transform="translate(159.033203 0)"/>
       <use href="#DejaVuSans-75" transform="translate(188.525391 0)"/>
       <use href="#DejaVuSans-6c" transform="translate(251.904297 0)"/>
       <use href="#DejaVuSans-20" transform="translate(279.6875 0)"/>
       <use href="#DejaVuSans-32" transform="translate(311.474609 0)"/>
       <use href="#DejaVuSans-30" transform="translate(375.097656 0)"/>
       <use href="#DejaVuSans-32" transform="translate(438.720703 0)"/>
       <use href="#DejaVuSans-36" transform="translate(502.34375 0)"/>
      </g>
     </g>
    </g>
    <g id="xtick_6">
     <g id="line2d_7">
      <g>
       <use href="#m277474217e" x="550.730588" y="388.088235" style="fill: #525252; stroke: #525252; stroke-width: 1.35"/>
      </g>
     </g>
     <g id="text_6">
      <g transform="translate(516.844005 403.127382) scale(0.1058 -0.1058)">
       <defs>
        <path id="DejaVuSans-67" d="M 2906 1791 Q 2906 2416 2648 2759 Q 2391 3103 1925 3103 Q 1463 3103 1205 2759 Q 947 2416 947 1791 Q 947 1169 1205 825 Q 1463 481 1925 481 Q 2391 481 2648 825 Q 2906 1169 2906 1791 z M 3481 434 Q 3481 -459 3084 -895 Q 2688 -1331 1869 -1331 Q 1566 -1331 1297 -1286 Q 1028 -1241 775 -1147 L 775 -588 Q 1028 -725 1275 -790 Q 1522 -856 1778 -856 Q 2344 -856 2625 -561 Q 2906 -266 2906 331 L 2906 616 Q 2728 306 2450 153 Q 2172 0 1784 0 Q 1141 0 747 490 Q 353 981 353 1791 Q 353 2603 747 3093 Q 1141 3584 1784 3584 Q 2172 3584 2450 3431 Q 2728 3278 2906 2969 L 2906 3500 L 3481 3500 L 3481 434 z " transform="scale(0.015625)"/>
       </defs>
       <use href="#DejaVuSans-30"/>
       <use href="#DejaVuSans-31" transform="translate(63.623047 0)"/>
       <use href="#DejaVuSans-20" transform="translate(127.246094 0)"/>
       <use href="#DejaVuSans-41" transform="translate(159.033203 0)"/>
       <use href="#DejaVuSans-75" transform="translate(227.441406 0)"/>
       <use href="#DejaVuSans-67" transform="translate(290.820312 0)"/>
       <use href="#DejaVuSans-20" transform="translate(354.296875 0)"/>
       <use href="#DejaVuSans-32" transform="translate(386.083984 0)"/>
       <use href="#DejaVuSans-30" transform="translate(449.707031 0)"/>
       <use href="#DejaVuSans-32" transform="translate(513.330078 0)"/>
       <use href="#DejaVuSans-36" transform="translate(576.953125 0)"/>
      </g>
     </g>
    </g>
   </g>
   <g id="matplotlib.axis_2">
    <g id="ytick_1">
     <g id="line2d_8">
      <defs>
       <path id="m984b49b2c6" d="M 0 0 L -3.5 0 " style="stroke: #525252; stroke-width: 1.35"/>
      </defs>
      <g>
       <use href="#m984b49b2c6" x="48.323529" y="62.705882" style="fill: #525252; stroke: #525252; stroke-width: 1.35"/>
      </g>
     </g>
     <g id="text_7">
      <g transform="translate(27.860479 66.725456) scale(0.1058 -0.1058)">
       <defs>
        <path id="DejaVuSans-38" d="M 2034 2216 Q 1584 2216 1326 1975 Q 1069 1734 1069 1313 Q 1069 891 1326 650 Q 1584 409 2034 409 Q 2484 409 2743 651 Q 3003 894 3003 1313 Q 3003 1734 2745 1975 Q 2488 2216 2034 2216 z M 1403 2484 Q 997 2584 770 2862 Q 544 3141 544 3541 Q 544 4100 942 4425 Q 1341 4750 2034 4750 Q 2731 4750 3128 4425 Q 3525 4100 3525 3541 Q 3525 3141 3298 2862 Q 3072 2584 2669 2484 Q 3125 2378 3379 2068 Q 3634 1759 3634 1313 Q 3634 634 3220 271 Q 2806 -91 2034 -91 Q 1263 -91 848 271 Q 434 634 434 1313 Q 434 1759 690 2068 Q 947 2378 1403 2484 z M 1172 3481 Q 1172 3119 1398 2916 Q 1625 2713 2034 2713 Q 2441 2713 2670 2916 Q 2900 3119 2900 3481 Q 2900 3844 2670 4047 Q 2441 4250 2034 4250 Q 1625 4250 1398 4047 Q 1172 3844 1172 3481 z " transform="scale(0.015625)"/>
       </defs>
       <use href="#DejaVuSans-38"/>
       <use href="#DejaVuSans-30" transform="translate(63.623047 0)"/>
      </g>
     </g>
    </g>
    <g id="ytick_2">
     <g id="line2d_9">
      <g>
       <use href="#m984b49b2c6" x="48.323529" y="112.764706" style="fill: #525252; stroke: #525252; stroke-width: 1.35"/>
      </g>
     </g>
     <g id="text_8">
      <g transform="translate(27.860479 116.784279) scale(0.1058 -0.1058)">
       <use href="#DejaVuSans-36"/>
       <use href="#DejaVuSans-30" transform="translate(63.623047 0)"/>
      </g>
     </g>
    </g>
    <g id="ytick_3">
     <g id="line2d_10">
      <g>
       <use href="#m984b49b2c6" x="48.323529" y="162.823529" style="fill: #525252; stroke: #525252; stroke-width: 1.35"/>
      </g>
     </g>
     <g id="text_9">
      <g transform="translate(27.860479 166.843103) scale(0.1058 -0.1058)">
       <defs>
        <path id="DejaVuSans-34" d="M 2419 4116 L 825 1625 L 2419 1625 L 2419 4116 z M 2253 4666 L 3047 4666 L 3047 1625 L 3713 1625 L 3713 1100 L 3047 1100 L 3047 0 L 2419 0 L 2419 1100 L 313 1100 L 313 1709 L 2253 4666 z " transform="scale(0.015625)"/>
       </defs>
       <use href="#DejaVuSans-34"/>
       <use href="#DejaVuSans-30" transform="translate(63.623047 0)"/>
      </g>
     </g>
    </g>
    <g id="ytick_4">
     <g id="line2d_11">
      <g>
       <use href="#m984b49b2c6" x="48.323529" y="212.882353" style="fill: #525252; stroke: #525252; stroke-width: 1.35"/>
      </g>
     </g>
     <g id="text_10">
      <g transform="translate(27.860479 216.901926) scale(0.1058 -0.1058)">
       <use href="#DejaVuSans-32"/>
       <use href="#DejaVuSans-30" transform="translate(63.623047 0)"/>
      </g>
     </g>
    </g>
    <g id="ytick_5">
     <g id="line2d_12">
      <g>
       <use href="#m984b49b2c6" x="48.323529" y="262.941176" style="fill: #525252; stroke: #525252; stroke-width: 1.35"/>
      </g>
     </g>
     <g id="text_11">
      <g transform="translate(34.592004 266.96075) scale(0.1058 -0.1058)">
       <use href="#DejaVuSans-30"/>
      </g>
     </g>
    </g>
    <g id="ytick_6">
     <g id="line2d_13">
      <g>
       <use href="#m984b49b2c6" x="48.323529" y="313" style="fill: #525252; stroke: #525252; stroke-width: 1.35"/>
      </g>
     </g>
     <g id="text_12">
      <g transform="translate(18.99477 317.019573) scale(0.1058 -0.1058)">
       <defs>
        <path id="DejaVuSans-2212" d="M 678 2272 L 4684 2272 L 4684 1741 L 678 1741 L 678 2272 z " transform="scale(0.015625)"/>
       </defs>
       <use href="#DejaVuSans-2212"/>
       <use href="#DejaVuSans-32" transform="translate(83.789062 0)"/>
       <use href="#DejaVuSans-30" transform="translate(147.412109 0)"/>
      </g>
     </g>
    </g>
    <g id="ytick_7">
     <g id="line2d_14">
      <g>
       <use href="#m984b49b2c6" x="48.323529" y="363.058824" style="fill: #525252; stroke: #525252; stroke-width: 1.35"/>
      </g>
     </g>
     <g id="text_13">
      <g transform="translate(18.99477 367.078397) scale(0.1058 -0.1058)">
       <use href="#DejaVuSans-2212"/>
       <use href="#DejaVuSans-34" transform="translate(83.789062 0)"/>
       <use href="#DejaVuSans-30" transform="translate(147.412109 0)"/>
      </g>
     </g>
    </g>
    <g id="text_14">
     <g transform="translate(12.794461 261.045873) rotate(-90) scale(0.1058 -0.1058)">
      <defs>
       <path id="DejaVuSans-55" d="M 556 4666 L 1191 4666 L 1191 1831 Q 1191 1081 1462 751 Q 1734 422 2344 422 Q 2950 422 3222 751 Q 3494 1081 3494 1831 L 3494 4666 L 4128 4666 L 4128 1753 Q 4128 841 3676 375 Q 3225 -91 2344 -91 Q 1459 -91 1007 375 Q 556 841 556 1753 L 556 4666 z " transform="scale(0.015625)"/>
       <path id="DejaVuSans-68" d="M 3513 2113 L 3513 0 L 2938 0 L 2938 2094 Q 2938 2591 2744 2837 Q 2550 3084 2163 3084 Q 1697 3084 1428 2787 Q 1159 2491 1159 1978 L 1159 0 L 581 0 L 581 4863 L 1159 4863 L 1159 2956 Q 1366 3272 1645 3428 Q 1925 3584 2291 3584 Q 2894 3584 3203 3211 Q 3513 2838 3513 2113 z " transform="scale(0.015625)"/>
       <path id="DejaVuSans-50" d="M 1259 4147 L 1259 2394 L 2053 2394 Q 2494 2394 2734 2622 Q 2975 2850 2975 3272 Q 2975 3691 2734 3919 Q 2494 4147 2053 4147 L 1259 4147 z M 628 4666 L 2053 4666 Q 2838 4666 3239 4311 Q 3641 3956 3641 3272 Q 3641 2581 3239 2228 Q 2838 1875 2053 1875 L 1259 1875 L 1259 0 L 628 0 L 628 4666 z " transform="scale(0.015625)"/>
       <path id="DejaVuSans-28" d="M 1984 4856 Q 1566 4138 1362 3434 Q 1159 2731 1159 2009 Q 1159 1288 1364 580 Q 1569 -128 1984 -844 L 1484 -844 Q 1016 -109 783 600 Q 550 1309 550 2009 Q 550 2706 781 3412 Q 1013 4119 1484 4856 L 1984 4856 z " transform="scale(0.015625)"/>
       <path id="DejaVuSans-6d" d="M 3328 2828 Q 3544 3216 3844 3400 Q 4144 3584 4550 3584 Q 5097 3584 5394 3201 Q 5691 2819 5691 2113 L 5691 0 L 5113 0 L 5113 2094 Q 5113 2597 4934 2840 Q 4756 3084 4391 3084 Q 3944 3084 3684 2787 Q 3425 2491 3425 1978 L 3425 0 L 2847 0 L 2847 2094 Q 2847 2600 2669 2842 Q 2491 3084 2119 3084 Q 1678 3084 1418 2786 Q 1159 2488 1159 1978 L 1159 0 L 581 0 L 581 3500 L 1159 3500 L 1159 2956 Q 1356 3278 1631 3431 Q 1906 3584 2284 3584 Q 2666 3584 2933 3390 Q 3200 3197 3328 2828 z " transform="scale(0.015625)"/>
       <path id="DejaVuSans-2f" d="M 1625 4666 L 2156 4666 L 531 -594 L 0 -594 L 1625 4666 z " transform="scale(0.015625)"/>
       <path id="DejaVuSans-73" d="M 2834 3397 L 2834 2853 Q 2591 2978 2328 3040 Q 2066 3103 1784 3103 Q 1356 3103 1142 2972 Q 928 2841 928 2578 Q 928 2378 1081 2264 Q 1234 2150 1697 2047 L 1894 2003 Q 2506 1872 2764 1633 Q 3022 1394 3022 966 Q 3022 478 2636 193 Q 2250 -91 1575 -91 Q 1294 -91 989 -36 Q 684 19 347 128 L 347 722 Q 666 556 975 473 Q 1284 391 1588 391 Q 1994 391 2212 530 Q 2431 669 2431 922 Q 2431 1156 2273 1281 Q 2116 1406 1581 1522 L 1381 1569 Q 847 1681 609 1914 Q 372 2147 372 2553 Q 372 3047 722 3315 Q 1072 3584 1716 3584 Q 2034 3584 2315 3537 Q 2597 3491 2834 3397 z " transform="scale(0.015625)"/>
       <path id="DejaVuSans-29" d="M 513 4856 L 1013 4856 Q 1481 4119 1714 3412 Q 1947 2706 1947 2009 Q 1947 1309 1714 600 Q 1481 -109 1013 -844 L 513 -844 Q 928 -128 1133 580 Q 1338 1288 1338 2009 Q 1338 2731 1133 3434 Q 928 4138 513 4856 z " transform="scale(0.015625)"/>
      </defs>
      <use href="#DejaVuSans-55"/>
      <use href="#DejaVuSans-31" transform="translate(73.193359 0)"/>
      <use href="#DejaVuSans-30" transform="translate(136.816406 0)"/>
      <use href="#DejaVuSans-68" transform="translate(200.439453 0)"/>
      <use href="#DejaVuSans-50" transform="translate(263.818359 0)"/>
      <use href="#DejaVuSans-61" transform="translate(319.621094 0)"/>
      <use href="#DejaVuSans-20" transform="translate(380.900391 0)"/>
      <use href="#DejaVuSans-28" transform="translate(412.6875 0)"/>
      <use href="#DejaVuSans-6d" transform="translate(451.701172 0)"/>
      <use href="#DejaVuSans-2f" transform="translate(549.113281 0)"/>
      <use href="#DejaVuSans-73" transform="translate(582.804688 0)"/>
      <use href="#DejaVuSans-29" transform="translate(634.904297 0)"/>
     </g>
    </g>
   </g>
   <g id="line2d_15">
    <path d="M 48.32 208.88 L 49.20 209.32 L 50.08 209.83 L 50.97 210.36 L 51.85 210.84 L 52.73 211.23 L 53.61 211.50 L 54.5 211.64 L 55.38 211.62 L 56.26 211.45 L 57.14 211.13 L 58.02 210.68 L 58.91 210.15 L 59.79 209.57 L 60.67 208.98 L 61.55 208.44 L 62.44 207.97 L 63.32 207.57 L 64.20 207.27 L 65.08 207.05 L 65.97 206.91 L 66.85 206.83 L 67.73 206.82 L 68.61 206.86 L 69.5 206.95 L 70.38 207.08 L 71.26 207.27 L 72.14 207.49 L 73.02 207.77 L 73.91 208.07 L 74.79 208.39 L 75.67 208.69 L 76.55 208.94 L 77.44 209.12 L 78.32 209.21 L 79.20 209.22 L 80.08 209.16 L 80.97 209.04 L 81.85 208.88 L 82.73 208.70 L 83.61 208.49 L 84.5 208.28 L 85.38 208.07 L 86.26 207.87 L 87.14 207.68 L 88.02 207.50 L 88.91 207.36 L 89.79 207.24 L 90.67 207.17 L 91.55 207.13 L 92.44 207.14 L 93.32 207.18 L 94.20 207.27 L 95.08 207.40 L 95.97 207.58 L 96.85 207.81 L 97.73 208.07 L 98.61 208.38 L 99.5 208.72 L 100.38 209.08 L 101.26 209.46 L 102.14 209.84 L 103.02 210.22 L 103.91 210.58 L 104.79 210.91 L 105.67 211.23 L 106.55 211.52 L 107.44 211.80 L 108.32 212.06 L 109.20 212.30 L 110.08 212.52 L 110.97 212.73 L 111.85 212.93 L 112.73 213.12 L 113.61 213.30 L 114.5 213.48 L 115.38 213.66 L 116.26 213.84 L 117.14 214.01 L 118.02 214.19 L 118.91 214.37 L 119.79 214.54 L 120.67 214.72 L 121.55 214.90 L 122.44 215.08 L 123.32 215.26 L 124.20 215.45 L 125.08 215.65 L 125.97 215.86 L 126.85 216.08 L 127.73 216.30 L 128.61 216.52 L 129.5 216.75 L 130.38 216.98 L 131.26 217.20 L 132.14 217.41 L 133.02 217.62 L 133.91 217.83 L 134.79 218.03 L 135.67 218.23 L 136.55 218.42 L 137.44 218.62 L 138.32 218.83 L 139.20 219.04 L 140.08 219.26 L 140.97 219.49 L 141.85 219.72 L 142.73 219.97 L 143.61 220.21 L 144.5 220.46 L 145.38 220.71 L 146.26 220.96 L 147.14 221.21 L 148.02 221.47 L 148.91 221.73 L 149.79 221.99 L 150.67 222.26 L 151.55 222.52 L 152.44 222.78 L 153.32 223.05 L 154.20 223.31 L 155.08 223.57 L 155.97 223.83 L 156.85 224.08 L 157.73 224.34 L 158.61 224.60 L 159.5 224.85 L 160.38 225.11 L 161.26 225.36 L 162.14 225.62 L 163.02 225.88 L 163.91 226.13 L 164.79 226.39 L 165.67 226.64 L 166.55 226.90 L 167.44 227.16 L 168.32 227.41 L 169.20 227.67 L 170.08 227.92 L 170.97 228.18 L 171.85 228.44 L 172.73 228.69 L 173.61 228.95 L 174.5 229.20 L 175.38 229.45 L 176.26 229.70 L 177.14 229.95 L 178.02 230.20 L 178.91 230.44 L 179.79 230.69 L 180.67 230.93 L 181.55 231.17 L 182.44 231.42 L 183.32 231.66 L 184.20 231.90 L 185.08 232.14 L 185.97 232.39 L 186.85 232.63 L 187.73 232.88 L 188.61 233.13 L 189.5 233.38 L 190.38 233.66 L 191.26 233.94 L 192.14 234.25 L 193.02 234.56 L 193.91 234.90 L 194.79 235.23 L 195.67 235.57 L 196.55 235.92 L 197.44 236.26 L 198.32 236.61 L 199.20 236.95 L 200.08 237.29 L 200.97 237.64 L 201.85 237.98 L 202.73 238.33 L 203.61 238.67 L 204.5 239.01 L 205.38 239.36 L 206.26 239.70 L 207.14 240.05 L 208.02 240.39 L 208.91 240.74 L 209.79 241.08 L 210.67 241.42 L 211.55 241.77 L 212.44 242.11 L 213.32 242.46 L 214.20 242.80 L 215.08 243.14 L 215.97 243.49 L 216.85 243.83 L 217.73 244.18 L 218.61 244.52 L 219.5 244.87 L 220.38 245.22 L 221.26 245.56 L 222.14 245.92 L 223.02 246.27 L 223.91 246.62 L 224.79 246.97 L 225.67 247.32 L 226.55 247.68 L 227.44 248.03 L 228.32 248.38 L 229.20 248.74 L 230.08 249.09 L 230.97 249.44 L 231.85 249.8 L 232.73 250.15 L 233.61 250.50 L 234.5 250.85 L 235.38 251.21 L 236.26 251.56 L 237.14 251.91 L 238.02 252.27 L 238.91 252.62 L 239.79 252.97 L 240.67 253.32 L 241.55 253.68 L 242.44 254.03 L 243.32 254.38 L 244.20 254.74 L 245.08 255.09 L 245.97 255.44 L 246.85 255.79 L 247.73 256.15 L 248.61 256.49 L 249.5 256.84 L 250.38 257.19 L 251.26 257.53 L 252.14 257.87 L 253.02 258.20 L 253.91 258.54 L 254.79 258.88 L 255.67 259.21 L 256.55 259.55 L 257.44 259.88 L 258.32 260.22 L 259.20 260.55 L 260.08 260.89 L 260.97 261.22 L 261.85 261.55 L 262.73 261.87 L 263.61 262.19 L 264.5 262.49 L 265.38 262.78 L 266.26 263.05 L 267.14 263.31 L 268.02 263.57 L 268.91 263.82 L 269.79 264.07 L 270.67 264.31 L 271.55 264.56 L 272.44 264.81 L 273.32 265.05 L 274.20 265.30 L 275.08 265.55 L 275.97 265.80 L 276.85 266.04 L 277.73 266.29 L 278.61 266.54 L 279.5 266.78 L 280.38 267.03 L 281.26 267.28 L 282.14 267.52 L 283.02 267.77 L 283.91 268.01 L 284.79 268.25 L 285.67 268.48 L 286.55 268.70 L 287.44 268.91 L 288.32 269.11 L 289.20 269.30 L 290.08 269.48 L 290.97 269.66 L 291.85 269.84 L 292.73 270.02 L 293.61 270.20 L 294.5 270.39 L 295.38 270.58 L 296.26 270.78 L 297.14 270.99 L 298.02 271.20 L 298.91 271.42 L 299.79 271.63 L 300.67 271.85 L 301.55 272.07 L 302.44 272.28 L 303.32 272.49 L 304.20 272.68 L 305.08 272.87 L 305.97 273.04 L 306.85 273.20 L 307.73 273.36 L 308.61 273.52 L 309.5 273.67 L 310.38 273.82 L 311.26 273.97 L 312.14 274.12 L 313.02 274.26 L 313.91 274.40 L 314.79 274.53 L 315.67 274.66 L 316.55 274.79 L 317.44 274.92 L 318.32 275.05 L 319.20 275.18 L 320.08 275.31 L 320.97 275.44 L 321.85 275.58 L 322.73 275.73 L 323.61 275.88 L 324.5 276.04 L 325.38 276.19 L 326.26 276.35 L 327.14 276.51 L 328.02 276.67 L 328.91 276.83 L 329.79 276.98 L 330.67 277.11 L 331.55 277.24 L 332.44 277.36 L 333.32 277.48 L 334.20 277.59 L 335.08 277.69 L 335.97 277.79 L 336.85 277.90 L 337.73 278.00 L 338.61 278.11 L 339.5 278.22 L 340.38 278.33 L 341.26 278.44 L 342.14 278.56 L 343.02 278.67 L 343.91 278.79 L 344.79 278.91 L 345.67 279.03 L 346.55 279.16 L 347.44 279.30 L 348.32 279.45 L 349.20 279.62 L 350.08 279.80 L 350.97 280.00 L 351.85 280.20 L 352.73 280.40 L 353.61 280.60 L 354.5 280.80 L 355.38 280.99 L 356.26 281.18 L 357.14 281.35 L 358.02 281.52 L 358.91 281.68 L 359.79 281.83 L 360.67 281.99 L 361.55 282.14 L 362.44 282.28 L 363.32 282.43 L 364.20 282.58 L 365.08 282.72 L 365.97 282.86 L 366.85 283.00 L 367.73 283.14 L 368.61 283.28 L 369.5 283.41 L 370.38 283.55 L 371.26 283.68 L 372.14 283.81 L 373.02 283.94 L 373.91 284.07 L 374.79 284.19 L 375.67 284.32 L 376.55 284.44 L 377.44 284.56 L 378.32 284.68 L 379.20 284.80 L 380.08 284.91 L 380.97 285.03 L 381.85 285.14 L 382.73 285.25 L 383.61 285.36 L 384.5 285.47 L 385.38 285.57 L 386.26 285.67 L 387.14 285.77 L 388.02 285.87 L 388.91 285.97 L 389.79 286.07 L 390.67 286.16 L 391.55 286.25 L 392.44 286.35 L 393.32 286.44 L 394.20 286.52 L 395.08 286.61 L 395.97 286.70 L 396.85 286.78 L 397.73 286.86 L 398.61 286.94 L 399.5 287.02 L 400.38 287.10 L 401.26 287.18 L 402.14 287.25 L 403.02 287.32 L 403.91 287.40 L 404.79 287.47 L 405.67 287.53 L 406.55 287.60 L 407.44 287.67 L 408.32 287.73 L 409.20 287.79 L 410.08 287.85 L 410.97 287.91 L 411.85 287.97 L 412.73 288.03 L 413.61 288.08 L 414.5 288.13 L 415.38 288.18 L 416.26 288.24 L 417.14 288.28 L 418.02 288.33 L 418.91 288.38 L 419.79 288.42 L 420.67 288.46 L 421.55 288.50 L 422.44 288.54 L 423.32 288.58 L 424.20 288.62 L 425.08 288.65 L 425.97 288.69 L 426.85 288.72 L 427.73 288.75 L 428.61 288.78 L 429.5 288.81 L 430.38 288.83 L 431.26 288.86 L 432.14 288.88 L 433.02 288.90 L 433.91 288.92 L 434.79 288.94 L 435.67 288.96 L 436.55 288.97 L 437.44 288.99 L 438.32 289.00 L 439.20 289.01 L 440.08 289.02 L 440.97 289.02 L 441.85 289.03 L 442.73 289.03 L 443.61 289.04 L 444.5 289.04 L 445.38 289.04 L 446.26 289.04 L 447.14 289.03 L 448.02 289.03 L 448.91 289.02 L 449.79 289.01 L 450.67 289.00 L 451.55 288.99 L 452.44 288.98 L 453.32 288.97 L 454.20 288.95 L 455.08 288.94 L 455.97 288.92 L 456.85 288.90 L 457.73 288.88 L 458.61 288.86 L 459.5 288.84 L 460.38 288.81 L 461.26 288.79 L 462.14 288.76 L 463.02 288.73 L 463.91 288.70 L 464.79 288.67 L 465.67 288.63 L 466.55 288.60 L 467.44 288.56 L 468.32 288.53 L 469.20 288.49 L 470.08 288.45 L 470.97 288.41 L 471.85 288.36 L 472.73 288.32 L 473.61 288.27 L 474.5 288.23 L 475.38 288.18 L 476.26 288.13 L 477.14 288.08 L 478.02 288.02 L 478.91 287.97 L 479.79 287.91 L 480.67 287.86 L 481.55 287.80 L 482.44 287.74 L 483.32 287.68 L 484.20 287.62 L 485.08 287.55 L 485.97 287.49 L 486.85 287.42 L 487.73 287.35 L 488.61 287.28 L 489.5 287.21 L 490.38 287.14 L 491.26 287.07 L 492.14 287.00 L 493.02 286.92 L 493.91 286.84 L 494.79 286.76 L 495.67 286.68 L 496.55 286.60 L 497.44 286.52 L 498.32 286.44 L 499.20 286.35 L 500.08 286.26 L 500.97 286.18 L 501.85 286.09 L 502.73 286.00 L 503.61 285.90 L 504.5 285.81 L 505.38 285.71 L 506.26 285.62 L 507.14 285.52 L 508.02 285.42 L 508.91 285.32 L 509.79 285.22 L 510.67 285.12 L 511.55 285.02 L 512.44 284.91 L 513.32 284.80 L 514.20 284.69 L 515.08 284.58 L 515.97 284.47 L 516.85 284.36 L 517.73 284.24 L 518.61 284.13 L 519.5 284.01 L 520.38 283.89 L 521.26 283.77 L 522.14 283.65 L 523.02 283.52 L 523.91 283.40 L 524.79 283.27 L 525.67 283.15 L 526.55 283.02 L 527.44 282.89 L 528.32 282.76 L 529.20 282.62 L 530.08 282.49 L 530.97 282.36 L 531.85 282.22 L 532.73 282.08 L 533.61 281.94 L 534.5 281.80 L 535.38 281.66 L 536.26 281.52 L 537.14 281.38 L 538.02 281.23 L 538.91 281.09 L 539.79 280.94 L 540.67 280.79 L 541.55 280.64 L 542.44 280.49 L 543.32 280.34 L 544.20 280.18 L 545.08 280.03 L 545.97 279.87 L 546.85 279.71 L 547.73 279.55 L 548.61 279.39 L 549.5 279.23 L 550.38 279.07 L 551.26 278.91 L 552.14 278.74 L 553.02 278.58 L 553.91 278.41 L 554.79 278.24 L 555.67 278.07 L 556.55 277.90 L 557.44 277.73 L 558.32 277.56 L 559.20 277.40 L 560.08 277.24 L 560.97 277.09 L 561.85 276.97 L 562.73 276.87 " clip-path="url(#p6716cef48e)" style="fill: none; stroke: #d55e00; stroke-width: 1.45; stroke-linecap: square"/>
   </g>
   <g id="line2d_16">
    <path d="M 48.32 200.99 L 51.26 201.56 L 54.20 202.13 L 57.14 202.68 L 60.08 203.22 L 63.02 203.76 L 65.97 204.30 L 68.91 204.82 L 71.85 205.35 L 74.79 205.87 L 77.73 206.39 L 80.67 206.91 L 83.61 207.43 L 86.55 207.95 L 89.5 208.48 L 92.44 209.01 L 95.38 209.55 L 98.32 210.10 L 101.26 210.65 L 104.20 211.21 L 107.14 211.79 L 110.08 212.37 L 113.02 212.97 L 115.97 213.58 L 118.91 214.20 L 121.85 214.84 L 124.79 215.50 L 127.73 216.17 L 130.67 216.86 L 133.61 217.56 L 136.55 218.28 L 139.5 219.02 L 142.44 219.77 L 145.38 220.55 L 148.32 221.34 L 151.26 222.16 L 154.20 222.99 L 157.14 223.84 L 160.08 224.72 L 163.02 225.62 L 165.97 226.54 L 168.91 227.48 L 171.85 228.45 L 174.79 229.44 L 177.73 230.45 L 180.67 231.49 L 183.61 232.55 L 186.55 233.63 L 189.5 234.72 L 192.44 235.84 L 195.38 236.96 L 198.32 238.10 L 201.26 239.25 L 204.20 240.41 L 207.14 241.57 L 210.08 242.74 L 213.02 243.91 L 215.97 245.07 L 218.91 246.24 L 221.85 247.40 L 224.79 248.56 L 227.73 249.71 L 230.67 250.84 L 233.61 251.97 L 236.55 253.09 L 239.5 254.20 L 242.44 255.29 L 245.38 256.37 L 248.32 257.45 L 251.26 258.50 L 254.20 259.55 L 257.14 260.59 L 260.08 261.61 L 263.02 262.62 L 265.97 263.61 L 268.91 264.60 L 271.85 265.57 L 274.79 266.52 L 277.73 267.46 L 280.67 268.39 L 283.61 269.30 L 286.55 270.19 L 289.5 271.08 L 292.44 271.94 L 295.38 272.79 L 298.32 273.62 L 301.26 274.44 L 304.20 275.24 L 307.14 276.03 L 310.08 276.79 L 313.02 277.54 L 315.97 278.27 L 318.91 278.99 L 321.85 279.68 L 324.79 280.36 L 327.73 281.02 L 330.67 281.66 L 333.61 282.28 L 336.55 282.88 L 339.5 283.47 L 342.44 284.03 L 345.38 284.58 L 348.32 285.11 L 351.26 285.62 L 354.20 286.11 L 357.14 286.59 L 360.08 287.05 L 363.02 287.48 L 365.97 287.90 L 368.91 288.31 L 371.85 288.69 L 374.79 289.06 L 377.73 289.41 L 380.67 289.74 L 383.61 290.05 L 386.55 290.35 L 389.5 290.63 L 392.44 290.89 L 395.38 291.14 L 398.32 291.37 L 401.26 291.58 L 404.20 291.77 L 407.14 291.95 L 410.08 292.10 L 413.02 292.25 L 415.97 292.37 L 418.91 292.48 L 421.85 292.57 L 424.79 292.65 L 427.73 292.71 L 430.67 292.75 L 433.61 292.78 L 436.55 292.79 L 439.5 292.78 L 442.44 292.76 L 445.38 292.72 L 448.32 292.66 L 451.26 292.59 L 454.20 292.51 L 457.14 292.40 L 460.08 292.28 L 463.02 292.15 L 465.97 292.00 L 468.91 291.83 L 471.85 291.65 L 474.79 291.46 L 477.73 291.24 L 480.67 291.02 L 483.61 290.77 L 486.55 290.52 L 489.5 290.24 L 492.44 289.95 L 495.38 289.65 L 498.32 289.33 L 501.26 289.00 L 504.20 288.65 L 507.14 288.29 L 510.08 287.91 L 513.02 287.52 L 515.97 287.11 L 518.91 286.69 L 521.85 286.25 L 524.79 285.80 L 527.73 285.34 L 530.67 284.86 L 533.61 284.37 L 536.55 283.86 L 539.5 283.34 L 542.44 282.81 L 545.38 282.26 L 548.32 281.69 L 551.26 281.12 L 554.20 280.53 L 557.14 279.92 L 560.08 279.31 L 563.02 278.68 " clip-path="url(#p6716cef48e)" style="fill: none; stroke: #000000; stroke-width: 1.38; stroke-linecap: square"/>
   </g>
   <g id="line2d_17">
    <path d="M 48.31 199.91 L 51.09 196.70 L 53.88 194.94 L 56.66 197.64 L 59.44 199.56 L 62.23 202.22 L 65.01 205.51 L 67.79 210.33 L 70.58 218.08 L 73.36 228.47 L 76.15 239.90 L 78.93 255.84 L 81.71 265.52 L 84.50 271.47 L 87.28 281.43 L 90.06 286.00 L 92.85 282.04 L 95.63 273.57 L 98.41 264.88 L 101.20 255.28 L 103.98 251.11 L 106.76 249.42 L 109.55 247.26 L 112.33 244.02 L 115.11 238.56 L 117.90 232.63 L 120.68 228.75 L 123.47 225.78 L 126.25 226.41 L 129.03 232.93 L 131.82 239.40 L 134.60 242.78 L 137.38 244.94 L 140.17 249.41 L 142.95 249.42 L 145.73 246.13 L 148.52 242.34 L 151.30 241.57 L 154.08 241.84 L 156.87 240.51 L 159.65 240.59 L 162.43 242.44 L 165.22 241.61 L 168.00 237.93 L 170.79 239.03 L 173.57 242.59 L 176.35 245.56 L 179.14 248.23 L 181.92 248.94 L 184.70 247.79 L 187.49 246.92 L 190.27 246.84 L 193.05 246.06 L 195.84 247.00 L 198.62 248.89 L 201.40 247.20 L 204.19 240.31 L 206.97 234.50 L 209.75 230.12 L 212.54 228.53 L 215.32 228.91 L 218.11 231.74 L 220.89 233.88 L 223.67 237.90 L 226.46 242.38 L 229.24 245.89 L 232.02 248.09 L 234.81 248.75 L 237.59 252.06 L 240.37 255.75 L 243.16 253.92 L 245.94 250.80 L 248.72 249.78 L 251.51 249.30 L 254.29 248.06 L 257.07 247.34 L 259.86 249.21 L 262.64 251.14 L 265.43 251.50 L 268.21 249.73 L 270.99 248.95 L 273.78 249.05 L 276.56 247.65 L 279.34 247.35 L 282.13 246.98 L 284.91 247.54 L 287.69 249.21 L 290.48 251.56 L 293.26 255.06 L 296.04 256.97 L 298.83 259.21 L 301.61 261.80 L 304.39 263.69 L 307.18 265.53 L 309.96 265.89 L 312.75 267.00 L 315.53 269.33 L 318.31 269.97 L 321.10 269.70 L 323.88 268.99 L 326.66 270.15 L 329.45 270.88 L 332.23 270.74 L 335.01 271.03 L 337.80 272.00 L 340.58 273.40 L 343.36 273.59 L 346.15 274.64 L 348.93 274.37 L 351.71 274.58 L 354.50 274.73 L 357.28 275.41 L 360.07 275.88 L 362.85 275.08 L 365.63 274.83 L 368.42 274.64 L 371.20 274.93 L 373.98 276.12 L 376.77 276.00 L 379.55 276.42 L 382.33 276.47 L 385.12 276.07 L 387.90 276.97 L 390.68 278.63 L 393.47 279.01 L 396.25 280.40 L 399.03 280.98 L 401.82 281.18 L 404.60 280.98 L 407.39 280.94 L 410.17 280.94 L 412.95 281.90 L 415.74 282.62 L 418.52 282.91 L 421.30 283.04 L 424.09 283.28 L 426.87 285.15 L 429.65 286.07 L 432.44 286.30 L 435.22 285.91 L 438.00 286.00 L 440.79 286.34 L 443.57 287.44 L 446.35 288.22 L 449.14 288.50 L 451.92 289.56 L 454.71 289.79 L 457.49 289.73 L 460.27 289.73 L 463.06 288.93 L 465.84 289.14 L 468.62 289.87 L 471.41 289.31 L 474.19 289.88 L 476.97 290.47 L 479.76 290.14 L 482.54 289.84 L 485.32 288.64 L 488.11 288.11 L 490.89 287.76 L 493.67 287.91 L 496.46 287.06 L 499.24 286.93 L 502.03 286.79 L 504.81 285.65 L 507.59 285.43 L 510.38 284.72 L 513.16 282.96 L 515.94 282.47 L 518.73 281.40 L 521.51 279.77 L 524.29 280.24 L 527.08 279.93 L 529.86 279.04 L 532.64 278.44 L 535.43 277.76 L 538.21 277.45 L 540.99 277.37 L 543.78 276.24 L 546.56 274.71 L 549.35 273.86 L 552.13 273.56 L 554.91 273.18 L 557.70 272.94 L 560.48 272.97 L 563.26 272.11 " clip-path="url(#p6716cef48e)" style="fill: none; stroke: #0173b2; stroke-opacity: 0.5; stroke-width: 0.62; stroke-linecap: square"/>
   </g>
   <g id="line2d_18">
    <path d="M 48.31 199.65 L 51.09 195.17 L 53.88 194.09 L 56.66 196.12 L 59.44 198.60 L 62.23 201.61 L 65.01 206.08 L 67.79 210.63 L 70.58 220.79 L 73.36 232.24 L 76.15 243.74 L 78.93 252.22 L 81.71 261.66 L 84.50 264.20 L 87.28 270.38 L 90.06 275.20 L 92.85 275.12 L 95.63 270.90 L 98.41 268.54 L 101.20 269.32 L 103.98 263.62 L 106.76 259.89 L 109.55 262.69 L 112.33 260.72 L 115.11 258.12 L 117.90 255.38 L 120.68 258.38 L 123.47 259.42 L 126.25 253.04 L 129.03 245.69 L 131.82 241.70 L 134.60 242.40 L 137.38 244.33 L 140.17 250.49 L 142.95 257.32 L 145.73 260.67 L 148.52 267.32 L 151.30 275.14 L 154.08 285.00 L 156.87 290.04 L 159.65 291.22 L 162.43 290.82 L 165.22 286.23 L 168.00 278.34 L 170.79 269.08 L 173.57 258.19 L 176.35 251.33 L 179.14 246.23 L 181.92 245.75 L 184.70 246.37 L 187.49 246.02 L 190.27 246.02 L 193.05 244.82 L 195.84 243.61 L 198.62 245.40 L 201.40 250.92 L 204.19 253.83 L 206.97 250.74 L 209.75 247.47 L 212.54 248.68 L 215.32 251.79 L 218.11 258.05 L 220.89 262.82 L 223.67 266.77 L 226.46 270.82 L 229.24 270.67 L 232.02 269.82 L 234.81 269.07 L 237.59 268.18 L 240.37 266.18 L 243.16 265.20 L 245.94 264.56 L 248.72 264.74 L 251.51 264.17 L 254.29 261.21 L 257.07 259.81 L 259.86 260.59 L 262.64 262.47 L 265.43 262.52 L 268.21 259.61 L 270.99 256.66 L 273.78 256.21 L 276.56 255.58 L 279.34 258.97 L 282.13 260.33 L 284.91 261.18 L 287.69 265.22 L 290.48 267.77 L 293.26 268.54 L 296.04 270.11 L 298.83 271.07 L 301.61 270.30 L 304.39 269.61 L 307.18 269.73 L 309.96 270.02 L 312.75 269.85 L 315.53 269.69 L 318.31 269.27 L 321.10 269.35 L 323.88 269.89 L 326.66 270.40 L 329.45 271.03 L 332.23 272.96 L 335.01 274.36 L 337.80 275.49 L 340.58 276.55 L 343.36 276.37 L 346.15 276.66 L 348.93 277.63 L 351.71 278.79 L 354.50 279.85 L 357.28 281.46 L 360.07 280.62 L 362.85 280.28 L 365.63 280.75 L 368.42 282.37 L 371.20 283.27 L 373.98 285.32 L 376.77 287.57 L 379.55 287.77 L 382.33 287.87 L 385.12 288.06 L 387.90 288.37 L 390.68 287.91 L 393.47 287.06 L 396.25 288.42 L 399.03 290.25 L 401.82 290.57 L 404.60 289.62 L 407.39 288.60 L 410.17 288.71 L 412.95 288.00 L 415.74 287.55 L 418.52 287.42 L 421.30 286.98 L 424.09 286.93 L 426.87 286.33 L 429.65 286.39 L 432.44 286.65 L 435.22 286.45 L 438.00 286.78 L 440.79 287.16 L 443.57 288.13 L 446.35 288.49 L 449.14 287.26 L 451.92 285.84 L 454.71 286.11 L 457.49 286.63 L 460.27 286.86 L 463.06 287.73 L 465.84 288.15 L 468.62 287.47 L 471.41 287.35 L 474.19 288.21 L 476.97 288.78 L 479.76 288.71 L 482.54 287.71 L 485.32 287.69 L 488.11 288.76 L 490.89 288.60 L 493.67 288.17 L 496.46 287.58 L 499.24 287.47 L 502.03 287.43 L 504.81 286.42 L 507.59 287.37 L 510.38 286.56 L 513.16 286.93 L 515.94 286.52 L 518.73 285.96 L 521.51 285.08 L 524.29 283.80 L 527.08 282.35 L 529.86 281.22 L 532.64 280.16 L 535.43 279.09 L 538.21 278.19 L 540.99 277.24 L 543.78 276.46 L 546.56 276.40 L 549.35 275.38 L 552.13 274.90 L 554.91 273.91 L 557.70 274.14 L 560.48 273.05 L 563.26 272.98 " clip-path="url(#p6716cef48e)" style="fill: none; stroke: #0173b2; stroke-opacity: 0.5; stroke-width: 0.62; stroke-linecap: square"/>
   </g>
   <g id="line2d_19">
    <path d="M 48.31 199.91 L 51.09 198.29 L 53.88 197.00 L 56.66 196.62 L 59.44 195.16 L 62.23 194.69 L 65.01 197.11 L 67.79 200.12 L 70.58 204.13 L 73.36 210.56 L 76.15 221.53 L 78.93 241.61 L 81.71 269.01 L 84.50 301.31 L 87.28 317.01 L 90.06 308.86 L 92.85 291.48 L 95.63 277.67 L 98.41 269.07 L 101.20 262.12 L 103.98 255.50 L 106.76 245.80 L 109.55 236.17 L 112.33 231.99 L 115.11 232.82 L 117.90 234.40 L 120.68 231.80 L 123.47 230.60 L 126.25 229.58 L 129.03 226.52 L 131.82 220.79 L 134.60 217.50 L 137.38 216.82 L 140.17 220.49 L 142.95 225.02 L 145.73 228.34 L 148.52 228.24 L 151.30 230.51 L 154.08 231.68 L 156.87 230.70 L 159.65 230.23 L 162.43 228.14 L 165.22 226.51 L 168.00 224.39 L 170.79 220.60 L 173.57 220.10 L 176.35 220.48 L 179.14 220.17 L 181.92 220.33 L 184.70 218.74 L 187.49 217.14 L 190.27 216.89 L 193.05 216.67 L 195.84 216.55 L 198.62 217.08 L 201.40 219.41 L 204.19 221.75 L 206.97 222.28 L 209.75 221.24 L 212.54 223.54 L 215.32 226.54 L 218.11 228.49 L 220.89 229.65 L 223.67 230.35 L 226.46 230.76 L 229.24 232.72 L 232.02 237.23 L 234.81 242.39 L 237.59 247.09 L 240.37 252.30 L 243.16 259.50 L 245.94 263.97 L 248.72 268.63 L 251.51 275.42 L 254.29 282.13 L 257.07 283.38 L 259.86 279.77 L 262.64 275.63 L 265.43 274.26 L 268.21 272.89 L 270.99 269.97 L 273.78 269.67 L 276.56 269.22 L 279.34 268.01 L 282.13 266.86 L 284.91 264.50 L 287.69 262.31 L 290.48 260.28 L 293.26 260.19 L 296.04 259.26 L 298.83 259.53 L 301.61 259.80 L 304.39 259.54 L 307.18 259.30 L 309.96 258.69 L 312.75 260.18 L 315.53 263.30 L 318.31 265.29 L 321.10 266.54 L 323.88 269.56 L 326.66 269.39 L 329.45 269.72 L 332.23 270.79 L 335.01 271.30 L 337.80 271.74 L 340.58 273.03 L 343.36 273.40 L 346.15 274.04 L 348.93 275.51 L 351.71 277.53 L 354.50 279.32 L 357.28 279.58 L 360.07 280.27 L 362.85 280.88 L 365.63 281.59 L 368.42 280.67 L 371.20 280.10 L 373.98 281.49 L 376.77 283.10 L 379.55 284.59 L 382.33 285.47 L 385.12 285.80 L 387.90 286.17 L 390.68 286.81 L 393.47 286.75 L 396.25 287.34 L 399.03 287.28 L 401.82 286.73 L 404.60 286.13 L 407.39 286.53 L 410.17 286.77 L 412.95 285.44 L 415.74 284.78 L 418.52 285.51 L 421.30 286.03 L 424.09 286.48 L 426.87 287.28 L 429.65 287.47 L 432.44 288.41 L 435.22 288.60 L 438.00 288.07 L 440.79 287.12 L 443.57 286.00 L 446.35 285.87 L 449.14 286.89 L 451.92 287.46 L 454.71 288.29 L 457.49 288.29 L 460.27 288.80 L 463.06 288.35 L 465.84 286.56 L 468.62 286.50 L 471.41 285.56 L 474.19 284.14 L 476.97 283.48 L 479.76 283.10 L 482.54 281.71 L 485.32 282.14 L 488.11 282.14 L 490.89 281.70 L 493.67 280.23 L 496.46 280.44 L 499.24 282.11 L 502.03 281.89 L 504.81 282.09 L 507.59 281.93 L 510.38 281.64 L 513.16 281.96 L 515.94 283.12 L 518.73 283.10 L 521.51 282.60 L 524.29 282.86 L 527.08 282.75 L 529.86 283.61 L 532.64 283.32 L 535.43 283.61 L 538.21 283.26 L 540.99 282.14 L 543.78 282.08 L 546.56 281.42 L 549.35 281.26 L 552.13 280.03 L 554.91 279.14 L 557.70 278.39 L 560.48 279.20 L 563.26 279.85 " clip-path="url(#p6716cef48e)" style="fill: none; stroke: #0173b2; stroke-opacity: 0.5; stroke-width: 0.62; stroke-linecap: square"/>
   </g>
   <g id="line2d_20">
    <path d="M 48.31 200.32 L 51.09 197.75 L 53.88 197.96 L 56.66 200.71 L 59.44 201.16 L 62.23 204.19 L 65.01 207.34 L 67.79 211.08 L 70.58 225.04 L 73.36 235.76 L 76.15 247.79 L 78.93 253.46 L 81.71 252.66 L 84.50 243.39 L 87.28 231.71 L 90.06 226.60 L 92.85 227.82 L 95.63 230.94 L 98.41 235.50 L 101.20 239.64 L 103.98 245.82 L 106.76 249.06 L 109.55 249.12 L 112.33 251.85 L 115.11 251.83 L 117.90 251.56 L 120.68 253.99 L 123.47 253.36 L 126.25 245.54 L 129.03 235.93 L 131.82 229.47 L 134.60 223.39 L 137.38 215.80 L 140.17 215.54 L 142.95 219.40 L 145.73 222.13 L 148.52 221.77 L 151.30 218.43 L 154.08 215.09 L 156.87 211.26 L 159.65 207.36 L 162.43 203.96 L 165.22 202.10 L 168.00 200.59 L 170.79 199.58 L 173.57 198.33 L 176.35 195.97 L 179.14 196.73 L 181.92 197.62 L 184.70 198.88 L 187.49 200.94 L 190.27 203.00 L 193.05 204.33 L 195.84 205.39 L 198.62 206.82 L 201.40 208.56 L 204.19 206.95 L 206.97 201.90 L 209.75 200.53 L 212.54 199.93 L 215.32 199.40 L 218.11 198.99 L 220.89 201.77 L 223.67 203.98 L 226.46 205.09 L 229.24 206.85 L 232.02 208.62 L 234.81 214.63 L 237.59 218.14 L 240.37 219.77 L 243.16 222.67 L 245.94 228.03 L 248.72 231.81 L 251.51 233.59 L 254.29 234.03 L 257.07 233.34 L 259.86 232.23 L 262.64 231.20 L 265.43 231.95 L 268.21 232.54 L 270.99 232.32 L 273.78 232.17 L 276.56 232.45 L 279.34 233.79 L 282.13 235.99 L 284.91 239.80 L 287.69 246.09 L 290.48 248.92 L 293.26 251.80 L 296.04 254.09 L 298.83 255.77 L 301.61 257.46 L 304.39 259.69 L 307.18 261.10 L 309.96 262.45 L 312.75 264.12 L 315.53 265.79 L 318.31 267.03 L 321.10 268.64 L 323.88 270.06 L 326.66 270.69 L 329.45 271.93 L 332.23 272.28 L 335.01 272.41 L 337.80 272.86 L 340.58 274.00 L 343.36 274.74 L 346.15 274.10 L 348.93 273.26 L 351.71 272.46 L 354.50 272.00 L 357.28 272.36 L 360.07 273.33 L 362.85 274.64 L 365.63 276.82 L 368.42 277.56 L 371.20 278.84 L 373.98 280.78 L 376.77 280.30 L 379.55 281.34 L 382.33 284.61 L 385.12 285.30 L 387.90 284.67 L 390.68 282.84 L 393.47 281.91 L 396.25 282.55 L 399.03 283.93 L 401.82 285.03 L 404.60 286.30 L 407.39 287.61 L 410.17 288.41 L 412.95 287.88 L 415.74 287.15 L 418.52 288.78 L 421.30 289.80 L 424.09 291.96 L 426.87 292.65 L 429.65 291.97 L 432.44 292.53 L 435.22 291.79 L 438.00 290.42 L 440.79 289.65 L 443.57 289.70 L 446.35 290.45 L 449.14 290.36 L 451.92 290.91 L 454.71 291.16 L 457.49 290.35 L 460.27 290.10 L 463.06 289.94 L 465.84 290.15 L 468.62 288.95 L 471.41 288.25 L 474.19 287.69 L 476.97 287.08 L 479.76 287.03 L 482.54 286.49 L 485.32 285.69 L 488.11 286.45 L 490.89 286.32 L 493.67 286.87 L 496.46 286.04 L 499.24 284.95 L 502.03 283.72 L 504.81 281.94 L 507.59 281.92 L 510.38 283.43 L 513.16 283.43 L 515.94 282.14 L 518.73 282.11 L 521.51 282.94 L 524.29 282.42 L 527.08 281.39 L 529.86 281.51 L 532.64 282.59 L 535.43 282.59 L 538.21 281.92 L 540.99 281.27 L 543.78 280.84 L 546.56 280.54 L 549.35 279.07 L 552.13 277.57 L 554.91 277.32 L 557.70 276.28 L 560.48 274.50 L 563.26 274.81 " clip-path="url(#p6716cef48e)" style="fill: none; stroke: #0173b2; stroke-opacity: 0.5; stroke-width: 0.62; stroke-linecap: square"/>
   </g>
   <g id="line2d_21">
    <path d="M 48.31 199.84 L 51.09 196.53 L 53.88 194.06 L 56.66 196.25 L 59.44 197.86 L 62.23 199.07 L 65.01 201.57 L 67.79 204.54 L 70.58 207.68 L 73.36 210.62 L 76.15 214.55 L 78.93 221.50 L 81.71 220.12 L 84.50 220.17 L 87.28 225.99 L 90.06 235.33 L 92.85 238.49 L 95.63 240.30 L 98.41 245.08 L 101.20 252.24 L 103.98 254.31 L 106.76 253.83 L 109.55 252.56 L 112.33 249.83 L 115.11 244.69 L 117.90 240.49 L 120.68 242.78 L 123.47 245.04 L 126.25 249.02 L 129.03 251.92 L 131.82 252.92 L 134.60 246.83 L 137.38 238.73 L 140.17 236.39 L 142.95 237.43 L 145.73 241.77 L 148.52 244.91 L 151.30 245.23 L 154.08 240.95 L 156.87 238.39 L 159.65 241.41 L 162.43 243.40 L 165.22 243.15 L 168.00 243.49 L 170.79 243.34 L 173.57 239.81 L 176.35 235.55 L 179.14 234.85 L 181.92 233.23 L 184.70 232.61 L 187.49 235.86 L 190.27 236.21 L 193.05 234.90 L 195.84 233.61 L 198.62 235.17 L 201.40 234.97 L 204.19 232.50 L 206.97 231.28 L 209.75 230.87 L 212.54 232.18 L 215.32 236.07 L 218.11 241.56 L 220.89 245.10 L 223.67 245.80 L 226.46 246.77 L 229.24 244.91 L 232.02 242.22 L 234.81 242.67 L 237.59 245.28 L 240.37 246.23 L 243.16 248.47 L 245.94 250.27 L 248.72 249.80 L 251.51 249.23 L 254.29 251.91 L 257.07 254.18 L 259.86 256.01 L 262.64 256.60 L 265.43 255.79 L 268.21 253.79 L 270.99 252.08 L 273.78 252.90 L 276.56 254.64 L 279.34 256.64 L 282.13 259.13 L 284.91 260.05 L 287.69 260.79 L 290.48 261.92 L 293.26 262.17 L 296.04 263.51 L 298.83 265.83 L 301.61 267.06 L 304.39 269.20 L 307.18 270.92 L 309.96 271.01 L 312.75 269.43 L 315.53 269.41 L 318.31 268.96 L 321.10 268.75 L 323.88 268.35 L 326.66 269.29 L 329.45 269.62 L 332.23 270.01 L 335.01 271.06 L 337.80 271.24 L 340.58 272.78 L 343.36 274.18 L 346.15 274.39 L 348.93 274.88 L 351.71 275.92 L 354.50 276.58 L 357.28 277.52 L 360.07 277.61 L 362.85 277.88 L 365.63 278.99 L 368.42 280.80 L 371.20 281.29 L 373.98 280.81 L 376.77 280.64 L 379.55 282.13 L 382.33 281.43 L 385.12 283.21 L 387.90 284.66 L 390.68 285.98 L 393.47 288.01 L 396.25 288.87 L 399.03 289.01 L 401.82 288.14 L 404.60 288.69 L 407.39 287.43 L 410.17 287.99 L 412.95 289.12 L 415.74 289.14 L 418.52 289.02 L 421.30 288.97 L 424.09 289.09 L 426.87 290.41 L 429.65 291.47 L 432.44 291.53 L 435.22 291.11 L 438.00 291.06 L 440.79 290.46 L 443.57 291.40 L 446.35 291.85 L 449.14 290.39 L 451.92 289.30 L 454.71 288.54 L 457.49 288.31 L 460.27 287.63 L 463.06 287.53 L 465.84 287.27 L 468.62 287.65 L 471.41 287.99 L 474.19 288.98 L 476.97 288.75 L 479.76 288.29 L 482.54 288.27 L 485.32 288.22 L 488.11 287.69 L 490.89 286.74 L 493.67 286.28 L 496.46 285.08 L 499.24 283.34 L 502.03 283.48 L 504.81 284.05 L 507.59 284.15 L 510.38 283.55 L 513.16 282.47 L 515.94 281.58 L 518.73 281.37 L 521.51 281.48 L 524.29 281.50 L 527.08 281.04 L 529.86 281.42 L 532.64 280.77 L 535.43 280.08 L 538.21 280.03 L 540.99 279.78 L 543.78 278.02 L 546.56 278.19 L 549.35 277.47 L 552.13 277.60 L 554.91 278.30 L 557.70 277.05 L 560.48 276.14 L 563.26 277.45 " clip-path="url(#p6716cef48e)" style="fill: none; stroke: #0173b2; stroke-opacity: 0.5; stroke-width: 0.62; stroke-linecap: square"/>
   </g>
   <g id="line2d_22">
    <path d="M 48.31 199.88 L 51.09 196.55 L 53.88 195.85 L 56.66 199.39 L 59.44 200.72 L 62.23 203.72 L 65.01 207.07 L 67.79 211.03 L 70.58 222.48 L 73.36 232.13 L 76.15 244.87 L 78.93 261.53 L 81.71 272.63 L 84.50 276.89 L 87.28 277.27 L 90.06 275.49 L 92.85 269.86 L 95.63 268.21 L 98.41 269.38 L 101.20 269.12 L 103.98 274.10 L 106.76 275.41 L 109.55 275.95 L 112.33 281.57 L 115.11 284.99 L 117.90 287.60 L 120.68 287.62 L 123.47 287.88 L 126.25 288.69 L 129.03 286.64 L 131.82 283.08 L 134.60 276.66 L 137.38 265.56 L 140.17 259.41 L 142.95 259.55 L 145.73 261.17 L 148.52 257.64 L 151.30 251.51 L 154.08 244.98 L 156.87 241.46 L 159.65 237.63 L 162.43 234.48 L 165.22 234.24 L 168.00 236.86 L 170.79 236.31 L 173.57 235.30 L 176.35 234.07 L 179.14 230.90 L 181.92 229.04 L 184.70 231.15 L 187.49 235.36 L 190.27 240.38 L 193.05 246.70 L 195.84 254.51 L 198.62 262.75 L 201.40 267.47 L 204.19 270.31 L 206.97 274.24 L 209.75 276.10 L 212.54 281.02 L 215.32 286.08 L 218.11 284.55 L 220.89 281.72 L 223.67 281.58 L 226.46 277.76 L 229.24 273.18 L 232.02 271.47 L 234.81 268.35 L 237.59 267.44 L 240.37 269.54 L 243.16 270.22 L 245.94 269.09 L 248.72 266.94 L 251.51 265.46 L 254.29 265.01 L 257.07 263.39 L 259.86 263.66 L 262.64 265.12 L 265.43 266.25 L 268.21 270.62 L 270.99 275.28 L 273.78 277.85 L 276.56 277.35 L 279.34 274.69 L 282.13 272.65 L 284.91 271.84 L 287.69 272.14 L 290.48 273.25 L 293.26 274.07 L 296.04 274.85 L 298.83 275.38 L 301.61 276.99 L 304.39 277.50 L 307.18 278.09 L 309.96 279.48 L 312.75 280.11 L 315.53 279.94 L 318.31 279.60 L 321.10 279.49 L 323.88 280.35 L 326.66 279.07 L 329.45 277.75 L 332.23 277.22 L 335.01 277.03 L 337.80 277.76 L 340.58 278.08 L 343.36 277.29 L 346.15 277.24 L 348.93 277.62 L 351.71 277.87 L 354.50 279.03 L 357.28 279.66 L 360.07 279.30 L 362.85 279.32 L 365.63 279.27 L 368.42 279.20 L 371.20 279.90 L 373.98 281.75 L 376.77 281.07 L 379.55 280.02 L 382.33 278.30 L 385.12 277.37 L 387.90 277.60 L 390.68 278.90 L 393.47 279.83 L 396.25 279.76 L 399.03 280.07 L 401.82 281.12 L 404.60 281.24 L 407.39 281.09 L 410.17 280.68 L 412.95 282.03 L 415.74 283.45 L 418.52 284.25 L 421.30 285.94 L 424.09 286.85 L 426.87 287.17 L 429.65 287.85 L 432.44 288.56 L 435.22 287.53 L 438.00 287.86 L 440.79 288.28 L 443.57 289.43 L 446.35 290.37 L 449.14 290.28 L 451.92 290.21 L 454.71 290.72 L 457.49 290.56 L 460.27 291.77 L 463.06 292.06 L 465.84 292.18 L 468.62 291.69 L 471.41 292.71 L 474.19 292.52 L 476.97 291.02 L 479.76 289.08 L 482.54 288.89 L 485.32 288.83 L 488.11 287.81 L 490.89 286.94 L 493.67 285.21 L 496.46 284.89 L 499.24 286.04 L 502.03 284.98 L 504.81 283.64 L 507.59 283.48 L 510.38 283.83 L 513.16 283.43 L 515.94 283.53 L 518.73 283.27 L 521.51 282.35 L 524.29 281.03 L 527.08 279.98 L 529.86 280.78 L 532.64 280.68 L 535.43 280.08 L 538.21 279.07 L 540.99 278.23 L 543.78 277.03 L 546.56 276.21 L 549.35 275.18 L 552.13 274.80 L 554.91 274.27 L 557.70 274.89 L 560.48 274.77 L 563.26 274.11 " clip-path="url(#p6716cef48e)" style="fill: none; stroke: #0173b2; stroke-opacity: 0.5; stroke-width: 0.62; stroke-linecap: square"/>
   </g>
   <g id="line2d_23">
    <path d="M 48.31 199.81 L 51.09 196.56 L 53.88 194.77 L 56.66 197.47 L 59.44 198.91 L 62.23 200.25 L 65.01 202.88 L 67.79 207.66 L 70.58 214.50 L 73.36 221.46 L 76.15 229.94 L 78.93 248.99 L 81.71 261.65 L 84.50 266.85 L 87.28 273.16 L 90.06 274.38 L 92.85 269.43 L 95.63 267.01 L 98.41 269.74 L 101.20 277.27 L 103.98 279.33 L 106.76 275.63 L 109.55 273.39 L 112.33 269.77 L 115.11 266.29 L 117.90 259.84 L 120.68 252.63 L 123.47 247.67 L 126.25 239.54 L 129.03 235.44 L 131.82 236.95 L 134.60 241.35 L 137.38 246.49 L 140.17 247.82 L 142.95 249.98 L 145.73 256.65 L 148.52 266.54 L 151.30 272.39 L 154.08 274.67 L 156.87 275.99 L 159.65 273.66 L 162.43 266.95 L 165.22 265.89 L 168.00 263.51 L 170.79 257.31 L 173.57 252.69 L 176.35 251.92 L 179.14 251.17 L 181.92 248.72 L 184.70 247.16 L 187.49 250.08 L 190.27 255.33 L 193.05 256.73 L 195.84 257.85 L 198.62 261.20 L 201.40 270.30 L 204.19 274.96 L 206.97 275.55 L 209.75 276.79 L 212.54 276.75 L 215.32 276.86 L 218.11 277.72 L 220.89 275.63 L 223.67 273.81 L 226.46 269.08 L 229.24 264.98 L 232.02 262.16 L 234.81 258.54 L 237.59 255.60 L 240.37 253.63 L 243.16 251.11 L 245.94 250.38 L 248.72 250.50 L 251.51 254.12 L 254.29 255.92 L 257.07 260.43 L 259.86 269.98 L 262.64 277.74 L 265.43 280.39 L 268.21 278.97 L 270.99 277.59 L 273.78 274.15 L 276.56 272.12 L 279.34 269.84 L 282.13 267.47 L 284.91 266.16 L 287.69 264.94 L 290.48 264.99 L 293.26 265.58 L 296.04 265.64 L 298.83 267.75 L 301.61 269.70 L 304.39 270.55 L 307.18 270.87 L 309.96 270.90 L 312.75 270.47 L 315.53 268.87 L 318.31 267.60 L 321.10 267.47 L 323.88 268.03 L 326.66 268.78 L 329.45 269.85 L 332.23 270.57 L 335.01 272.28 L 337.80 273.61 L 340.58 274.15 L 343.36 275.05 L 346.15 274.68 L 348.93 274.18 L 351.71 274.07 L 354.50 274.30 L 357.28 274.35 L 360.07 275.04 L 362.85 275.26 L 365.63 275.64 L 368.42 275.81 L 371.20 276.76 L 373.98 277.94 L 376.77 278.38 L 379.55 277.62 L 382.33 277.11 L 385.12 278.26 L 387.90 279.45 L 390.68 281.16 L 393.47 282.31 L 396.25 281.84 L 399.03 282.95 L 401.82 282.89 L 404.60 283.62 L 407.39 284.33 L 410.17 283.75 L 412.95 284.72 L 415.74 284.92 L 418.52 284.28 L 421.30 284.72 L 424.09 285.86 L 426.87 286.94 L 429.65 286.91 L 432.44 286.75 L 435.22 286.79 L 438.00 286.92 L 440.79 286.38 L 443.57 287.71 L 446.35 290.16 L 449.14 290.72 L 451.92 289.36 L 454.71 289.06 L 457.49 289.58 L 460.27 289.25 L 463.06 288.91 L 465.84 288.93 L 468.62 289.56 L 471.41 289.07 L 474.19 289.41 L 476.97 288.39 L 479.76 288.32 L 482.54 288.36 L 485.32 286.84 L 488.11 285.06 L 490.89 285.30 L 493.67 285.00 L 496.46 284.84 L 499.24 284.70 L 502.03 285.69 L 504.81 284.70 L 507.59 284.90 L 510.38 283.88 L 513.16 284.28 L 515.94 285.46 L 518.73 285.45 L 521.51 286.27 L 524.29 285.93 L 527.08 284.45 L 529.86 283.10 L 532.64 282.78 L 535.43 282.59 L 538.21 281.42 L 540.99 280.20 L 543.78 279.81 L 546.56 279.35 L 549.35 278.93 L 552.13 277.71 L 554.91 277.28 L 557.70 277.08 L 560.48 275.54 L 563.26 274.13 " clip-path="url(#p6716cef48e)" style="fill: none; stroke: #0173b2; stroke-opacity: 0.5; stroke-width: 0.62; stroke-linecap: square"/>
   </g>
   <g id="line2d_24">
    <path d="M 48.31 200.55 L 51.09 198.61 L 53.88 197.89 L 56.66 200.39 L 59.44 200.97 L 62.23 203.75 L 65.01 206.90 L 67.79 211.00 L 70.58 222.26 L 73.36 232.85 L 76.15 244.14 L 78.93 258.99 L 81.71 263.87 L 84.50 259.54 L 87.28 254.36 L 90.06 253.62 L 92.85 255.10 L 95.63 252.25 L 98.41 245.80 L 101.20 238.51 L 103.98 231.85 L 106.76 226.87 L 109.55 223.11 L 112.33 221.63 L 115.11 221.76 L 117.90 225.82 L 120.68 228.14 L 123.47 230.89 L 126.25 235.00 L 129.03 234.61 L 131.82 233.27 L 134.60 232.06 L 137.38 230.74 L 140.17 228.16 L 142.95 228.95 L 145.73 230.43 L 148.52 232.06 L 151.30 236.82 L 154.08 242.02 L 156.87 245.82 L 159.65 250.32 L 162.43 253.35 L 165.22 253.80 L 168.00 253.89 L 170.79 254.56 L 173.57 253.04 L 176.35 250.26 L 179.14 248.29 L 181.92 247.19 L 184.70 242.71 L 187.49 243.12 L 190.27 243.44 L 193.05 243.35 L 195.84 241.01 L 198.62 237.70 L 201.40 233.70 L 204.19 230.17 L 206.97 226.63 L 209.75 224.09 L 212.54 222.81 L 215.32 222.24 L 218.11 221.29 L 220.89 222.51 L 223.67 224.81 L 226.46 227.22 L 229.24 227.65 L 232.02 227.14 L 234.81 227.34 L 237.59 229.09 L 240.37 231.24 L 243.16 235.26 L 245.94 239.96 L 248.72 244.31 L 251.51 248.42 L 254.29 253.56 L 257.07 256.26 L 259.86 259.18 L 262.64 264.50 L 265.43 267.36 L 268.21 268.42 L 270.99 268.15 L 273.78 266.54 L 276.56 262.91 L 279.34 260.24 L 282.13 261.04 L 284.91 261.40 L 287.69 263.38 L 290.48 265.29 L 293.26 266.52 L 296.04 269.34 L 298.83 270.73 L 301.61 271.88 L 304.39 273.62 L 307.18 275.46 L 309.96 278.12 L 312.75 278.41 L 315.53 281.80 L 318.31 285.22 L 321.10 285.52 L 323.88 285.91 L 326.66 286.50 L 329.45 287.28 L 332.23 286.61 L 335.01 286.79 L 337.80 287.67 L 340.58 287.52 L 343.36 287.58 L 346.15 286.69 L 348.93 284.81 L 351.71 284.14 L 354.50 284.70 L 357.28 284.49 L 360.07 284.07 L 362.85 284.85 L 365.63 285.63 L 368.42 286.32 L 371.20 286.45 L 373.98 286.46 L 376.77 286.26 L 379.55 287.30 L 382.33 287.83 L 385.12 289.03 L 387.90 289.78 L 390.68 291.11 L 393.47 290.93 L 396.25 290.46 L 399.03 290.38 L 401.82 290.15 L 404.60 290.33 L 407.39 291.08 L 410.17 290.37 L 412.95 290.78 L 415.74 290.37 L 418.52 288.85 L 421.30 286.28 L 424.09 284.80 L 426.87 283.43 L 429.65 282.25 L 432.44 282.36 L 435.22 283.40 L 438.00 284.30 L 440.79 284.95 L 443.57 285.04 L 446.35 286.22 L 449.14 286.77 L 451.92 288.54 L 454.71 289.61 L 457.49 290.52 L 460.27 290.09 L 463.06 289.34 L 465.84 289.82 L 468.62 290.65 L 471.41 290.30 L 474.19 290.90 L 476.97 290.59 L 479.76 290.27 L 482.54 290.70 L 485.32 290.54 L 488.11 289.90 L 490.89 288.67 L 493.67 287.05 L 496.46 286.03 L 499.24 285.14 L 502.03 284.68 L 504.81 283.75 L 507.59 284.34 L 510.38 284.09 L 513.16 282.95 L 515.94 282.47 L 518.73 282.88 L 521.51 284.01 L 524.29 283.93 L 527.08 283.82 L 529.86 284.39 L 532.64 283.49 L 535.43 282.36 L 538.21 281.40 L 540.99 280.49 L 543.78 279.57 L 546.56 279.62 L 549.35 278.09 L 552.13 277.57 L 554.91 278.55 L 557.70 278.18 L 560.48 276.79 L 563.26 275.40 " clip-path="url(#p6716cef48e)" style="fill: none; stroke: #0173b2; stroke-opacity: 0.5; stroke-width: 0.62; stroke-linecap: square"/>
   </g>
   <g id="line2d_25">
    <path d="M 48.31 199.87 L 51.09 197.26 L 53.88 196.01 L 56.66 198.25 L 59.44 200.43 L 62.23 202.95 L 65.01 205.92 L 67.79 210.43 L 70.58 219.05 L 73.36 230.78 L 76.15 245.80 L 78.93 265.95 L 81.71 284.64 L 84.50 285.49 L 87.28 278.45 L 90.06 272.18 L 92.85 267.46 L 95.63 262.55 L 98.41 260.15 L 101.20 255.51 L 103.98 252.12 L 106.76 251.28 L 109.55 246.93 L 112.33 240.02 L 115.11 234.05 L 117.90 231.84 L 120.68 230.25 L 123.47 229.00 L 126.25 231.17 L 129.03 232.26 L 131.82 229.54 L 134.60 225.39 L 137.38 223.34 L 140.17 224.46 L 142.95 226.01 L 145.73 228.18 L 148.52 230.35 L 151.30 230.28 L 154.08 231.17 L 156.87 230.23 L 159.65 230.48 L 162.43 230.30 L 165.22 228.98 L 168.00 230.48 L 170.79 231.45 L 173.57 231.41 L 176.35 231.80 L 179.14 234.30 L 181.92 239.98 L 184.70 246.44 L 187.49 251.50 L 190.27 254.79 L 193.05 259.76 L 195.84 262.43 L 198.62 263.47 L 201.40 266.21 L 204.19 271.07 L 206.97 270.25 L 209.75 266.96 L 212.54 265.50 L 215.32 265.14 L 218.11 265.20 L 220.89 263.05 L 223.67 264.78 L 226.46 267.10 L 229.24 265.53 L 232.02 262.92 L 234.81 259.62 L 237.59 261.96 L 240.37 262.12 L 243.16 262.37 L 245.94 266.18 L 248.72 270.62 L 251.51 272.08 L 254.29 270.44 L 257.07 266.05 L 259.86 262.32 L 262.64 260.31 L 265.43 260.75 L 268.21 263.51 L 270.99 264.49 L 273.78 265.34 L 276.56 265.48 L 279.34 265.14 L 282.13 263.55 L 284.91 261.70 L 287.69 260.21 L 290.48 261.70 L 293.26 262.23 L 296.04 263.11 L 298.83 263.55 L 301.61 262.81 L 304.39 262.95 L 307.18 263.56 L 309.96 264.31 L 312.75 264.37 L 315.53 265.15 L 318.31 265.56 L 321.10 265.54 L 323.88 265.69 L 326.66 265.55 L 329.45 267.20 L 332.23 269.02 L 335.01 270.87 L 337.80 272.64 L 340.58 274.01 L 343.36 274.86 L 346.15 274.98 L 348.93 274.56 L 351.71 275.52 L 354.50 275.72 L 357.28 275.04 L 360.07 275.37 L 362.85 276.99 L 365.63 277.01 L 368.42 278.36 L 371.20 278.75 L 373.98 278.61 L 376.77 278.92 L 379.55 278.83 L 382.33 278.33 L 385.12 278.59 L 387.90 278.43 L 390.68 278.56 L 393.47 278.47 L 396.25 279.31 L 399.03 280.36 L 401.82 281.55 L 404.60 282.05 L 407.39 282.60 L 410.17 282.78 L 412.95 281.56 L 415.74 281.10 L 418.52 281.87 L 421.30 282.27 L 424.09 283.57 L 426.87 284.70 L 429.65 284.58 L 432.44 285.09 L 435.22 285.42 L 438.00 285.51 L 440.79 285.88 L 443.57 286.92 L 446.35 287.24 L 449.14 287.43 L 451.92 286.60 L 454.71 285.95 L 457.49 285.94 L 460.27 286.68 L 463.06 286.86 L 465.84 286.89 L 468.62 287.11 L 471.41 286.87 L 474.19 287.24 L 476.97 287.32 L 479.76 288.66 L 482.54 288.91 L 485.32 288.58 L 488.11 288.42 L 490.89 288.42 L 493.67 287.48 L 496.46 286.33 L 499.24 286.43 L 502.03 287.75 L 504.81 287.84 L 507.59 287.14 L 510.38 287.03 L 513.16 287.52 L 515.94 286.89 L 518.73 286.29 L 521.51 286.83 L 524.29 285.91 L 527.08 284.80 L 529.86 284.43 L 532.64 284.17 L 535.43 282.73 L 538.21 281.76 L 540.99 281.02 L 543.78 279.85 L 546.56 278.64 L 549.35 278.62 L 552.13 278.15 L 554.91 278.41 L 557.70 278.73 L 560.48 277.82 L 563.26 277.50 " clip-path="url(#p6716cef48e)" style="fill: none; stroke: #0173b2; stroke-opacity: 0.5; stroke-width: 0.62; stroke-linecap: square"/>
   </g>
   <g id="line2d_26">
    <path d="M 48.31 199.90 L 51.09 196.40 L 53.88 195.20 L 56.66 198.55 L 59.44 200.32 L 62.23 203.20 L 65.01 206.78 L 67.79 210.94 L 70.58 220.00 L 73.36 225.67 L 76.15 232.83 L 78.93 238.93 L 81.71 235.15 L 84.50 234.47 L 87.28 236.69 L 90.06 239.74 L 92.85 245.78 L 95.63 240.45 L 98.41 235.95 L 101.20 234.84 L 103.98 234.54 L 106.76 231.42 L 109.55 227.99 L 112.33 225.52 L 115.11 224.00 L 117.90 224.57 L 120.68 224.23 L 123.47 217.89 L 126.25 211.27 L 129.03 209.90 L 131.82 210.79 L 134.60 213.45 L 137.38 213.92 L 140.17 214.12 L 142.95 214.70 L 145.73 217.24 L 148.52 219.34 L 151.30 220.62 L 154.08 221.59 L 156.87 221.72 L 159.65 223.47 L 162.43 227.74 L 165.22 231.23 L 168.00 237.88 L 170.79 244.64 L 173.57 248.77 L 176.35 249.94 L 179.14 250.70 L 181.92 252.75 L 184.70 254.76 L 187.49 253.71 L 190.27 248.23 L 193.05 242.86 L 195.84 240.40 L 198.62 238.97 L 201.40 238.39 L 204.19 235.56 L 206.97 233.77 L 209.75 235.91 L 212.54 240.06 L 215.32 240.80 L 218.11 238.96 L 220.89 240.96 L 223.67 244.88 L 226.46 249.76 L 229.24 255.62 L 232.02 259.09 L 234.81 258.28 L 237.59 256.56 L 240.37 255.87 L 243.16 259.55 L 245.94 262.79 L 248.72 259.79 L 251.51 259.29 L 254.29 262.54 L 257.07 262.81 L 259.86 262.54 L 262.64 262.05 L 265.43 262.67 L 268.21 260.22 L 270.99 259.43 L 273.78 259.63 L 276.56 258.62 L 279.34 257.73 L 282.13 257.40 L 284.91 255.78 L 287.69 255.64 L 290.48 257.59 L 293.26 260.49 L 296.04 260.21 L 298.83 258.66 L 301.61 259.93 L 304.39 261.28 L 307.18 262.36 L 309.96 264.96 L 312.75 267.31 L 315.53 268.25 L 318.31 269.38 L 321.10 270.08 L 323.88 271.68 L 326.66 274.23 L 329.45 275.91 L 332.23 277.23 L 335.01 279.24 L 337.80 279.06 L 340.58 277.71 L 343.36 277.72 L 346.15 278.09 L 348.93 278.33 L 351.71 278.26 L 354.50 277.76 L 357.28 276.83 L 360.07 275.19 L 362.85 273.82 L 365.63 272.65 L 368.42 273.76 L 371.20 273.88 L 373.98 273.61 L 376.77 273.63 L 379.55 275.02 L 382.33 276.51 L 385.12 276.57 L 387.90 276.16 L 390.68 278.05 L 393.47 279.36 L 396.25 281.14 L 399.03 282.07 L 401.82 281.54 L 404.60 281.48 L 407.39 281.14 L 410.17 280.28 L 412.95 280.35 L 415.74 282.36 L 418.52 283.52 L 421.30 283.33 L 424.09 283.77 L 426.87 284.10 L 429.65 283.37 L 432.44 282.95 L 435.22 284.54 L 438.00 285.39 L 440.79 285.71 L 443.57 284.93 L 446.35 285.21 L 449.14 286.33 L 451.92 285.46 L 454.71 284.82 L 457.49 285.09 L 460.27 285.74 L 463.06 285.57 L 465.84 284.90 L 468.62 284.59 L 471.41 284.19 L 474.19 284.17 L 476.97 285.16 L 479.76 285.80 L 482.54 286.31 L 485.32 286.30 L 488.11 286.04 L 490.89 286.48 L 493.67 287.22 L 496.46 287.69 L 499.24 286.69 L 502.03 285.48 L 504.81 284.83 L 507.59 283.90 L 510.38 283.81 L 513.16 283.10 L 515.94 283.68 L 518.73 283.10 L 521.51 282.27 L 524.29 281.36 L 527.08 280.80 L 529.86 280.99 L 532.64 281.09 L 535.43 280.36 L 538.21 279.57 L 540.99 279.90 L 543.78 279.72 L 546.56 278.74 L 549.35 278.53 L 552.13 277.36 L 554.91 275.49 L 557.70 274.19 L 560.48 274.79 L 563.26 274.67 " clip-path="url(#p6716cef48e)" style="fill: none; stroke: #0173b2; stroke-opacity: 0.5; stroke-width: 0.62; stroke-linecap: square"/>
   </g>
   <g id="line2d_27">
    <path d="M 48.31 200.04 L 51.09 197.69 L 53.88 195.95 L 56.66 196.67 L 59.44 198.74 L 62.23 199.91 L 65.01 201.55 L 67.79 203.72 L 70.58 206.01 L 73.36 208.23 L 76.15 210.16 L 78.93 214.06 L 81.71 216.63 L 84.50 217.43 L 87.28 221.02 L 90.06 227.66 L 92.85 230.53 L 95.63 234.14 L 98.41 238.23 L 101.20 240.10 L 103.98 240.46 L 106.76 239.34 L 109.55 244.64 L 112.33 253.45 L 115.11 257.74 L 117.90 257.85 L 120.68 260.91 L 123.47 264.42 L 126.25 267.41 L 129.03 272.21 L 131.82 269.56 L 134.60 267.16 L 137.38 264.08 L 140.17 255.31 L 142.95 251.46 L 145.73 246.09 L 148.52 244.21 L 151.30 243.30 L 154.08 241.82 L 156.87 241.14 L 159.65 240.47 L 162.43 241.25 L 165.22 240.66 L 168.00 240.28 L 170.79 239.75 L 173.57 239.55 L 176.35 239.85 L 179.14 241.91 L 181.92 243.33 L 184.70 246.03 L 187.49 250.54 L 190.27 248.61 L 193.05 244.41 L 195.84 242.42 L 198.62 237.89 L 201.40 236.02 L 204.19 234.45 L 206.97 233.86 L 209.75 236.60 L 212.54 240.63 L 215.32 244.51 L 218.11 246.86 L 220.89 250.27 L 223.67 252.78 L 226.46 253.20 L 229.24 254.61 L 232.02 257.03 L 234.81 256.70 L 237.59 255.68 L 240.37 255.48 L 243.16 256.99 L 245.94 260.64 L 248.72 263.02 L 251.51 265.21 L 254.29 271.48 L 257.07 278.06 L 259.86 280.66 L 262.64 281.95 L 265.43 284.06 L 268.21 287.23 L 270.99 288.85 L 273.78 288.02 L 276.56 286.81 L 279.34 285.45 L 282.13 286.85 L 284.91 288.10 L 287.69 287.82 L 290.48 288.47 L 293.26 288.55 L 296.04 288.46 L 298.83 288.95 L 301.61 288.89 L 304.39 286.26 L 307.18 284.15 L 309.96 283.17 L 312.75 283.44 L 315.53 283.54 L 318.31 283.37 L 321.10 281.94 L 323.88 280.18 L 326.66 277.88 L 329.45 276.03 L 332.23 275.39 L 335.01 275.17 L 337.80 274.67 L 340.58 274.19 L 343.36 274.59 L 346.15 275.87 L 348.93 276.23 L 351.71 276.76 L 354.50 277.17 L 357.28 277.65 L 360.07 278.14 L 362.85 278.34 L 365.63 278.25 L 368.42 278.30 L 371.20 278.87 L 373.98 279.17 L 376.77 279.94 L 379.55 280.15 L 382.33 281.98 L 385.12 283.20 L 387.90 283.53 L 390.68 285.12 L 393.47 286.42 L 396.25 286.75 L 399.03 286.76 L 401.82 286.73 L 404.60 286.30 L 407.39 286.54 L 410.17 285.93 L 412.95 286.20 L 415.74 286.82 L 418.52 286.49 L 421.30 286.54 L 424.09 285.60 L 426.87 283.98 L 429.65 283.54 L 432.44 283.51 L 435.22 283.47 L 438.00 284.81 L 440.79 286.34 L 443.57 286.22 L 446.35 286.89 L 449.14 288.31 L 451.92 289.18 L 454.71 289.25 L 457.49 289.81 L 460.27 289.65 L 463.06 287.50 L 465.84 286.46 L 468.62 285.32 L 471.41 285.42 L 474.19 285.24 L 476.97 285.39 L 479.76 286.69 L 482.54 286.79 L 485.32 287.02 L 488.11 287.22 L 490.89 286.48 L 493.67 285.10 L 496.46 284.44 L 499.24 285.92 L 502.03 285.94 L 504.81 285.92 L 507.59 286.40 L 510.38 285.18 L 513.16 285.23 L 515.94 284.47 L 518.73 284.76 L 521.51 284.25 L 524.29 282.93 L 527.08 282.52 L 529.86 283.02 L 532.64 283.21 L 535.43 282.73 L 538.21 281.32 L 540.99 280.33 L 543.78 279.86 L 546.56 279.71 L 549.35 279.62 L 552.13 278.35 L 554.91 277.88 L 557.70 277.47 L 560.48 277.33 L 563.26 278.36 " clip-path="url(#p6716cef48e)" style="fill: none; stroke: #0173b2; stroke-opacity: 0.5; stroke-width: 0.62; stroke-linecap: square"/>
   </g>
   <g id="line2d_28">
    <path d="M 48.31 200.05 L 51.09 197.88 L 53.88 195.84 L 56.66 195.74 L 59.44 197.71 L 62.23 198.90 L 65.01 199.97 L 67.79 204.21 L 70.58 209.57 L 73.36 217.08 L 76.15 226.90 L 78.93 240.44 L 81.71 256.89 L 84.50 263.27 L 87.28 266.15 L 90.06 265.55 L 92.85 257.45 L 95.63 245.82 L 98.41 236.88 L 101.20 233.68 L 103.98 232.44 L 106.76 234.59 L 109.55 236.36 L 112.33 239.03 L 115.11 242.94 L 117.90 246.74 L 120.68 244.53 L 123.47 246.12 L 126.25 249.41 L 129.03 245.36 L 131.82 242.19 L 134.60 241.86 L 137.38 239.16 L 140.17 231.51 L 142.95 224.16 L 145.73 221.35 L 148.52 219.75 L 151.30 220.81 L 154.08 219.68 L 156.87 217.63 L 159.65 217.17 L 162.43 216.98 L 165.22 217.07 L 168.00 218.30 L 170.79 217.42 L 173.57 216.62 L 176.35 219.54 L 179.14 222.46 L 181.92 223.47 L 184.70 223.18 L 187.49 223.80 L 190.27 224.88 L 193.05 226.94 L 195.84 227.53 L 198.62 229.91 L 201.40 231.81 L 204.19 237.83 L 206.97 244.48 L 209.75 248.29 L 212.54 251.92 L 215.32 254.58 L 218.11 255.67 L 220.89 254.95 L 223.67 254.27 L 226.46 254.96 L 229.24 255.81 L 232.02 256.67 L 234.81 258.66 L 237.59 257.65 L 240.37 256.23 L 243.16 255.30 L 245.94 254.99 L 248.72 256.81 L 251.51 260.31 L 254.29 263.98 L 257.07 265.50 L 259.86 265.64 L 262.64 267.81 L 265.43 271.85 L 268.21 275.78 L 270.99 276.19 L 273.78 272.42 L 276.56 271.26 L 279.34 271.84 L 282.13 271.41 L 284.91 270.51 L 287.69 269.81 L 290.48 266.34 L 293.26 262.39 L 296.04 260.71 L 298.83 259.79 L 301.61 260.49 L 304.39 261.32 L 307.18 261.06 L 309.96 262.39 L 312.75 263.50 L 315.53 264.15 L 318.31 264.72 L 321.10 265.91 L 323.88 267.61 L 326.66 267.61 L 329.45 268.42 L 332.23 270.39 L 335.01 270.13 L 337.80 270.61 L 340.58 271.86 L 343.36 273.06 L 346.15 273.64 L 348.93 273.23 L 351.71 274.86 L 354.50 276.52 L 357.28 278.80 L 360.07 280.08 L 362.85 279.61 L 365.63 279.27 L 368.42 279.35 L 371.20 279.70 L 373.98 280.10 L 376.77 280.18 L 379.55 279.48 L 382.33 279.53 L 385.12 279.76 L 387.90 279.16 L 390.68 279.82 L 393.47 280.09 L 396.25 280.04 L 399.03 281.15 L 401.82 282.72 L 404.60 282.88 L 407.39 283.73 L 410.17 285.65 L 412.95 287.04 L 415.74 286.44 L 418.52 286.98 L 421.30 288.24 L 424.09 289.26 L 426.87 289.67 L 429.65 290.17 L 432.44 290.09 L 435.22 289.34 L 438.00 289.29 L 440.79 288.02 L 443.57 286.58 L 446.35 286.94 L 449.14 288.02 L 451.92 288.83 L 454.71 288.25 L 457.49 288.12 L 460.27 288.06 L 463.06 288.38 L 465.84 288.59 L 468.62 288.86 L 471.41 288.04 L 474.19 287.61 L 476.97 288.00 L 479.76 287.80 L 482.54 287.83 L 485.32 288.27 L 488.11 287.51 L 490.89 287.01 L 493.67 285.89 L 496.46 286.42 L 499.24 286.78 L 502.03 285.84 L 504.81 285.38 L 507.59 285.20 L 510.38 286.03 L 513.16 285.12 L 515.94 283.80 L 518.73 283.37 L 521.51 283.60 L 524.29 282.32 L 527.08 281.15 L 529.86 279.99 L 532.64 279.56 L 535.43 279.73 L 538.21 279.79 L 540.99 280.10 L 543.78 279.29 L 546.56 279.61 L 549.35 279.61 L 552.13 278.56 L 554.91 277.69 L 557.70 276.28 L 560.48 274.82 L 563.26 275.17 " clip-path="url(#p6716cef48e)" style="fill: none; stroke: #0173b2; stroke-opacity: 0.5; stroke-width: 0.62; stroke-linecap: square"/>
   </g>
   <g id="line2d_29">
    <path d="M 48.31 200.20 L 51.09 197.43 L 53.88 197.26 L 56.66 200.21 L 59.44 201.03 L 62.23 204.07 L 65.01 207.31 L 67.79 211.08 L 70.58 225.34 L 73.36 238.86 L 76.15 256.92 L 78.93 275.09 L 81.71 282.53 L 84.50 275.68 L 87.28 256.72 L 90.06 242.58 L 92.85 234.79 L 95.63 234.16 L 98.41 234.90 L 101.20 234.68 L 103.98 237.07 L 106.76 242.79 L 109.55 249.09 L 112.33 256.80 L 115.11 263.40 L 117.90 266.26 L 120.68 274.58 L 123.47 280.44 L 126.25 285.30 L 129.03 290.46 L 131.82 296.19 L 134.60 298.28 L 137.38 297.21 L 140.17 294.94 L 142.95 293.88 L 145.73 293.15 L 148.52 283.26 L 151.30 275.06 L 154.08 268.95 L 156.87 264.37 L 159.65 263.06 L 162.43 265.32 L 165.22 267.91 L 168.00 265.42 L 170.79 260.94 L 173.57 259.61 L 176.35 260.30 L 179.14 264.15 L 181.92 266.91 L 184.70 265.84 L 187.49 264.01 L 190.27 259.24 L 193.05 254.29 L 195.84 252.90 L 198.62 255.37 L 201.40 258.00 L 204.19 258.85 L 206.97 256.95 L 209.75 256.13 L 212.54 254.51 L 215.32 252.57 L 218.11 249.12 L 220.89 247.95 L 223.67 249.61 L 226.46 251.48 L 229.24 250.86 L 232.02 248.74 L 234.81 247.45 L 237.59 246.18 L 240.37 245.93 L 243.16 246.66 L 245.94 246.07 L 248.72 246.87 L 251.51 249.74 L 254.29 253.02 L 257.07 258.08 L 259.86 263.18 L 262.64 267.57 L 265.43 268.26 L 268.21 269.76 L 270.99 269.60 L 273.78 268.16 L 276.56 266.71 L 279.34 263.57 L 282.13 262.12 L 284.91 260.89 L 287.69 260.10 L 290.48 260.21 L 293.26 260.39 L 296.04 261.81 L 298.83 264.13 L 301.61 267.02 L 304.39 268.56 L 307.18 270.14 L 309.96 270.38 L 312.75 269.03 L 315.53 266.43 L 318.31 265.18 L 321.10 265.05 L 323.88 266.28 L 326.66 267.19 L 329.45 267.76 L 332.23 269.38 L 335.01 270.60 L 337.80 270.92 L 340.58 270.18 L 343.36 270.12 L 346.15 271.79 L 348.93 274.18 L 351.71 275.14 L 354.50 274.80 L 357.28 275.76 L 360.07 276.61 L 362.85 277.29 L 365.63 278.47 L 368.42 279.40 L 371.20 278.35 L 373.98 277.14 L 376.77 278.23 L 379.55 279.59 L 382.33 281.84 L 385.12 282.57 L 387.90 282.48 L 390.68 282.85 L 393.47 283.90 L 396.25 283.27 L 399.03 283.17 L 401.82 283.78 L 404.60 284.73 L 407.39 286.01 L 410.17 286.98 L 412.95 288.54 L 415.74 289.91 L 418.52 290.08 L 421.30 289.82 L 424.09 290.17 L 426.87 290.06 L 429.65 290.04 L 432.44 290.73 L 435.22 291.07 L 438.00 290.23 L 440.79 289.89 L 443.57 290.06 L 446.35 290.56 L 449.14 289.70 L 451.92 289.48 L 454.71 289.69 L 457.49 290.43 L 460.27 290.14 L 463.06 289.13 L 465.84 288.33 L 468.62 288.96 L 471.41 288.70 L 474.19 287.96 L 476.97 288.24 L 479.76 289.00 L 482.54 288.87 L 485.32 289.14 L 488.11 288.75 L 490.89 288.19 L 493.67 287.51 L 496.46 285.86 L 499.24 285.21 L 502.03 284.71 L 504.81 284.68 L 507.59 284.55 L 510.38 284.75 L 513.16 286.19 L 515.94 285.79 L 518.73 285.74 L 521.51 284.83 L 524.29 284.41 L 527.08 284.83 L 529.86 283.98 L 532.64 283.45 L 535.43 282.66 L 538.21 281.54 L 540.99 280.97 L 543.78 279.96 L 546.56 279.59 L 549.35 278.77 L 552.13 278.02 L 554.91 276.53 L 557.70 275.60 L 560.48 274.93 L 563.26 275.02 " clip-path="url(#p6716cef48e)" style="fill: none; stroke: #0173b2; stroke-opacity: 0.5; stroke-width: 0.62; stroke-linecap: square"/>
   </g>
   <g id="line2d_30">
    <path d="M 48.31 199.80 L 51.09 196.94 L 53.88 194.70 L 56.66 195.25 L 59.44 197.22 L 62.23 198.47 L 65.01 201.08 L 67.79 205.72 L 70.58 212.57 L 73.36 220.96 L 76.15 231.37 L 78.93 247.59 L 81.71 266.30 L 84.50 274.55 L 87.28 271.17 L 90.06 263.89 L 92.85 261.84 L 95.63 263.19 L 98.41 262.49 L 101.20 263.14 L 103.98 260.02 L 106.76 255.16 L 109.55 251.64 L 112.33 248.83 L 115.11 248.81 L 117.90 252.44 L 120.68 252.02 L 123.47 247.43 L 126.25 242.44 L 129.03 242.47 L 131.82 244.14 L 134.60 244.06 L 137.38 242.15 L 140.17 236.77 L 142.95 232.66 L 145.73 231.59 L 148.52 232.01 L 151.30 231.96 L 154.08 231.37 L 156.87 230.30 L 159.65 231.30 L 162.43 233.44 L 165.22 233.58 L 168.00 230.28 L 170.79 228.73 L 173.57 227.77 L 176.35 226.85 L 179.14 225.48 L 181.92 225.34 L 184.70 225.62 L 187.49 229.87 L 190.27 234.24 L 193.05 240.27 L 195.84 243.94 L 198.62 247.38 L 201.40 252.88 L 204.19 257.17 L 206.97 268.88 L 209.75 277.14 L 212.54 281.83 L 215.32 283.26 L 218.11 287.34 L 220.89 292.52 L 223.67 297.99 L 226.46 302.92 L 229.24 306.21 L 232.02 300.65 L 234.81 293.85 L 237.59 288.04 L 240.37 283.19 L 243.16 283.19 L 245.94 283.39 L 248.72 281.03 L 251.51 272.05 L 254.29 266.19 L 257.07 263.81 L 259.86 265.43 L 262.64 269.96 L 265.43 274.89 L 268.21 276.02 L 270.99 276.61 L 273.78 279.66 L 276.56 279.71 L 279.34 278.78 L 282.13 278.01 L 284.91 276.53 L 287.69 274.48 L 290.48 272.91 L 293.26 273.66 L 296.04 273.85 L 298.83 273.69 L 301.61 272.83 L 304.39 273.10 L 307.18 273.04 L 309.96 272.96 L 312.75 271.60 L 315.53 269.15 L 318.31 268.26 L 321.10 268.23 L 323.88 266.62 L 326.66 266.36 L 329.45 266.07 L 332.23 265.53 L 335.01 266.25 L 337.80 267.75 L 340.58 269.44 L 343.36 272.03 L 346.15 273.87 L 348.93 276.83 L 351.71 279.77 L 354.50 281.39 L 357.28 282.43 L 360.07 283.14 L 362.85 284.12 L 365.63 283.93 L 368.42 284.35 L 371.20 285.19 L 373.98 286.45 L 376.77 288.86 L 379.55 288.61 L 382.33 288.52 L 385.12 287.91 L 387.90 287.35 L 390.68 286.95 L 393.47 287.20 L 396.25 286.64 L 399.03 286.72 L 401.82 286.91 L 404.60 286.33 L 407.39 284.81 L 410.17 284.69 L 412.95 284.34 L 415.74 283.22 L 418.52 282.15 L 421.30 281.50 L 424.09 280.39 L 426.87 280.98 L 429.65 281.44 L 432.44 280.73 L 435.22 281.37 L 438.00 282.54 L 440.79 283.12 L 443.57 284.77 L 446.35 284.90 L 449.14 285.47 L 451.92 285.53 L 454.71 286.09 L 457.49 287.41 L 460.27 287.44 L 463.06 286.75 L 465.84 286.49 L 468.62 286.16 L 471.41 285.89 L 474.19 286.57 L 476.97 286.95 L 479.76 287.94 L 482.54 287.94 L 485.32 286.78 L 488.11 286.76 L 490.89 285.97 L 493.67 285.47 L 496.46 285.98 L 499.24 285.26 L 502.03 285.35 L 504.81 284.56 L 507.59 283.27 L 510.38 283.86 L 513.16 284.21 L 515.94 283.65 L 518.73 282.82 L 521.51 283.23 L 524.29 283.92 L 527.08 283.76 L 529.86 283.29 L 532.64 282.18 L 535.43 280.47 L 538.21 279.69 L 540.99 279.80 L 543.78 279.82 L 546.56 279.31 L 549.35 278.56 L 552.13 277.77 L 554.91 276.91 L 557.70 275.76 L 560.48 275.40 L 563.26 275.55 " clip-path="url(#p6716cef48e)" style="fill: none; stroke: #0173b2; stroke-opacity: 0.5; stroke-width: 0.62; stroke-linecap: square"/>
   </g>
   <g id="line2d_31">
    <path d="M 48.31 199.89 L 51.09 196.96 L 53.88 194.94 L 56.66 197.12 L 59.44 198.68 L 62.23 199.77 L 65.01 202.38 L 67.79 207.00 L 70.58 213.78 L 73.36 221.48 L 76.15 231.37 L 78.93 249.75 L 81.71 268.60 L 84.50 286.33 L 87.28 307.34 L 90.06 313.26 L 92.85 311.54 L 95.63 309.09 L 98.41 306.14 L 101.20 294.95 L 103.98 280.96 L 106.76 277.18 L 109.55 275.82 L 112.33 276.95 L 115.11 280.64 L 117.90 281.38 L 120.68 281.44 L 123.47 285.45 L 126.25 290.90 L 129.03 293.98 L 131.82 286.82 L 134.60 278.23 L 137.38 275.78 L 140.17 276.52 L 142.95 277.90 L 145.73 278.80 L 148.52 276.53 L 151.30 274.91 L 154.08 273.36 L 156.87 271.51 L 159.65 265.24 L 162.43 259.25 L 165.22 257.48 L 168.00 252.40 L 170.79 246.30 L 173.57 240.62 L 176.35 237.75 L 179.14 240.00 L 181.92 242.24 L 184.70 247.49 L 187.49 250.31 L 190.27 251.21 L 193.05 258.19 L 195.84 264.75 L 198.62 266.80 L 201.40 268.87 L 204.19 266.10 L 206.97 258.30 L 209.75 251.22 L 212.54 250.94 L 215.32 248.45 L 218.11 247.05 L 220.89 245.60 L 223.67 247.45 L 226.46 250.03 L 229.24 250.32 L 232.02 250.12 L 234.81 250.62 L 237.59 252.44 L 240.37 252.86 L 243.16 251.50 L 245.94 251.47 L 248.72 253.26 L 251.51 257.27 L 254.29 260.17 L 257.07 263.59 L 259.86 266.37 L 262.64 266.04 L 265.43 265.87 L 268.21 268.71 L 270.99 271.45 L 273.78 271.55 L 276.56 270.01 L 279.34 267.45 L 282.13 266.11 L 284.91 264.56 L 287.69 262.08 L 290.48 261.97 L 293.26 262.17 L 296.04 260.43 L 298.83 257.39 L 301.61 259.74 L 304.39 264.28 L 307.18 265.63 L 309.96 266.56 L 312.75 265.95 L 315.53 264.52 L 318.31 264.03 L 321.10 265.34 L 323.88 265.98 L 326.66 265.57 L 329.45 267.02 L 332.23 268.60 L 335.01 269.76 L 337.80 270.18 L 340.58 272.26 L 343.36 274.40 L 346.15 275.85 L 348.93 277.98 L 351.71 279.36 L 354.50 280.35 L 357.28 280.80 L 360.07 281.88 L 362.85 283.39 L 365.63 283.96 L 368.42 284.58 L 371.20 284.54 L 373.98 284.03 L 376.77 283.06 L 379.55 282.52 L 382.33 282.22 L 385.12 281.54 L 387.90 282.26 L 390.68 282.74 L 393.47 282.66 L 396.25 281.85 L 399.03 281.07 L 401.82 281.45 L 404.60 282.65 L 407.39 282.59 L 410.17 282.35 L 412.95 282.51 L 415.74 282.07 L 418.52 282.83 L 421.30 282.40 L 424.09 281.97 L 426.87 283.10 L 429.65 283.84 L 432.44 284.28 L 435.22 284.45 L 438.00 285.27 L 440.79 286.25 L 443.57 285.79 L 446.35 286.04 L 449.14 285.17 L 451.92 285.13 L 454.71 285.21 L 457.49 284.64 L 460.27 283.58 L 463.06 283.63 L 465.84 283.34 L 468.62 283.83 L 471.41 285.01 L 474.19 285.78 L 476.97 286.55 L 479.76 286.55 L 482.54 285.29 L 485.32 283.88 L 488.11 283.18 L 490.89 282.36 L 493.67 282.15 L 496.46 281.51 L 499.24 281.95 L 502.03 283.54 L 504.81 283.74 L 507.59 284.38 L 510.38 284.54 L 513.16 284.48 L 515.94 283.85 L 518.73 283.17 L 521.51 282.94 L 524.29 283.32 L 527.08 282.64 L 529.86 281.46 L 532.64 282.01 L 535.43 283.15 L 538.21 282.63 L 540.99 282.32 L 543.78 281.71 L 546.56 280.69 L 549.35 280.99 L 552.13 280.22 L 554.91 279.54 L 557.70 277.74 L 560.48 277.31 L 563.26 278.91 " clip-path="url(#p6716cef48e)" style="fill: none; stroke: #0173b2; stroke-opacity: 0.5; stroke-width: 0.62; stroke-linecap: square"/>
   </g>
   <g id="line2d_32">
    <path d="M 48.31 199.86 L 51.09 195.81 L 53.88 196.20 L 56.66 199.19 L 59.44 201.00 L 62.23 204.18 L 65.01 207.37 L 67.79 211.09 L 70.58 225.63 L 73.36 239.41 L 76.15 245.82 L 78.93 259.66 L 81.71 270.81 L 84.50 278.00 L 87.28 289.36 L 90.06 299.61 L 92.85 307.12 L 95.63 314.08 L 98.41 319.68 L 101.20 320.25 L 103.98 314.16 L 106.76 304.88 L 109.55 295.60 L 112.33 287.95 L 115.11 282.93 L 117.90 281.25 L 120.68 281.43 L 123.47 281.17 L 126.25 279.37 L 129.03 277.35 L 131.82 273.83 L 134.60 267.42 L 137.38 259.78 L 140.17 254.35 L 142.95 254.45 L 145.73 255.11 L 148.52 254.70 L 151.30 252.73 L 154.08 250.12 L 156.87 248.12 L 159.65 246.67 L 162.43 240.42 L 165.22 236.56 L 168.00 236.49 L 170.79 236.48 L 173.57 236.87 L 176.35 237.04 L 179.14 238.90 L 181.92 242.10 L 184.70 247.13 L 187.49 253.99 L 190.27 256.97 L 193.05 260.28 L 195.84 261.00 L 198.62 260.18 L 201.40 257.37 L 204.19 252.14 L 206.97 247.60 L 209.75 245.47 L 212.54 243.75 L 215.32 245.52 L 218.11 246.69 L 220.89 248.37 L 223.67 248.51 L 226.46 247.42 L 229.24 245.39 L 232.02 244.47 L 234.81 246.90 L 237.59 250.12 L 240.37 254.18 L 243.16 259.44 L 245.94 263.71 L 248.72 267.75 L 251.51 270.16 L 254.29 268.17 L 257.07 267.12 L 259.86 264.86 L 262.64 262.65 L 265.43 260.82 L 268.21 257.95 L 270.99 257.35 L 273.78 256.89 L 276.56 258.35 L 279.34 260.12 L 282.13 260.82 L 284.91 262.64 L 287.69 265.50 L 290.48 266.92 L 293.26 266.80 L 296.04 265.45 L 298.83 266.21 L 301.61 267.00 L 304.39 267.79 L 307.18 268.86 L 309.96 270.21 L 312.75 270.62 L 315.53 270.68 L 318.31 271.70 L 321.10 272.57 L 323.88 273.62 L 326.66 273.31 L 329.45 273.00 L 332.23 273.33 L 335.01 273.68 L 337.80 274.86 L 340.58 274.67 L 343.36 274.43 L 346.15 275.37 L 348.93 277.01 L 351.71 278.93 L 354.50 278.76 L 357.28 278.96 L 360.07 279.75 L 362.85 281.95 L 365.63 283.33 L 368.42 283.95 L 371.20 284.27 L 373.98 283.68 L 376.77 284.14 L 379.55 284.98 L 382.33 284.87 L 385.12 283.56 L 387.90 281.84 L 390.68 281.19 L 393.47 282.52 L 396.25 283.99 L 399.03 284.63 L 401.82 284.88 L 404.60 284.67 L 407.39 284.59 L 410.17 285.17 L 412.95 286.83 L 415.74 288.10 L 418.52 289.31 L 421.30 289.82 L 424.09 290.63 L 426.87 291.49 L 429.65 290.83 L 432.44 290.44 L 435.22 289.58 L 438.00 287.64 L 440.79 285.82 L 443.57 286.29 L 446.35 285.82 L 449.14 285.21 L 451.92 284.87 L 454.71 284.15 L 457.49 284.33 L 460.27 284.42 L 463.06 283.70 L 465.84 283.32 L 468.62 283.63 L 471.41 283.46 L 474.19 282.81 L 476.97 282.77 L 479.76 282.74 L 482.54 282.43 L 485.32 282.80 L 488.11 281.82 L 490.89 279.95 L 493.67 279.03 L 496.46 278.80 L 499.24 280.13 L 502.03 280.59 L 504.81 280.36 L 507.59 280.71 L 510.38 281.14 L 513.16 281.77 L 515.94 282.48 L 518.73 282.40 L 521.51 282.91 L 524.29 283.03 L 527.08 281.27 L 529.86 280.34 L 532.64 280.21 L 535.43 280.43 L 538.21 280.46 L 540.99 280.39 L 543.78 280.10 L 546.56 280.16 L 549.35 279.83 L 552.13 279.32 L 554.91 278.25 L 557.70 278.36 L 560.48 278.36 L 563.26 277.49 " clip-path="url(#p6716cef48e)" style="fill: none; stroke: #0173b2; stroke-opacity: 0.5; stroke-width: 0.62; stroke-linecap: square"/>
   </g>
   <g id="line2d_33">
    <path d="M 48.31 199.92 L 51.09 197.21 L 53.88 195.05 L 56.66 195.79 L 59.44 197.59 L 62.23 199.42 L 65.01 202.22 L 67.79 205.89 L 70.58 210.61 L 73.36 216.62 L 76.15 226.71 L 78.93 240.10 L 81.71 251.42 L 84.50 259.11 L 87.28 262.67 L 90.06 259.45 L 92.85 253.91 L 95.63 253.51 L 98.41 260.26 L 101.20 266.42 L 103.98 266.14 L 106.76 268.48 L 109.55 266.77 L 112.33 260.44 L 115.11 259.39 L 117.90 262.17 L 120.68 262.53 L 123.47 260.75 L 126.25 257.90 L 129.03 255.22 L 131.82 254.19 L 134.60 254.38 L 137.38 247.23 L 140.17 244.85 L 142.95 250.26 L 145.73 254.43 L 148.52 253.46 L 151.30 250.99 L 154.08 246.97 L 156.87 244.36 L 159.65 242.14 L 162.43 239.42 L 165.22 238.00 L 168.00 242.26 L 170.79 246.95 L 173.57 245.69 L 176.35 246.65 L 179.14 247.33 L 181.92 245.16 L 184.70 245.58 L 187.49 248.63 L 190.27 249.35 L 193.05 251.38 L 195.84 250.27 L 198.62 245.04 L 201.40 241.75 L 204.19 239.84 L 206.97 236.39 L 209.75 235.25 L 212.54 236.14 L 215.32 237.25 L 218.11 240.43 L 220.89 246.29 L 223.67 250.97 L 226.46 255.41 L 229.24 259.40 L 232.02 261.17 L 234.81 261.82 L 237.59 263.37 L 240.37 263.28 L 243.16 262.86 L 245.94 259.43 L 248.72 256.82 L 251.51 255.29 L 254.29 252.84 L 257.07 249.10 L 259.86 248.45 L 262.64 249.19 L 265.43 249.57 L 268.21 248.39 L 270.99 251.00 L 273.78 252.19 L 276.56 252.60 L 279.34 252.11 L 282.13 250.81 L 284.91 251.36 L 287.69 251.26 L 290.48 250.02 L 293.26 248.78 L 296.04 248.64 L 298.83 251.10 L 301.61 253.20 L 304.39 255.17 L 307.18 256.18 L 309.96 257.73 L 312.75 258.07 L 315.53 258.86 L 318.31 260.09 L 321.10 262.17 L 323.88 264.14 L 326.66 265.19 L 329.45 267.46 L 332.23 268.89 L 335.01 269.95 L 337.80 270.52 L 340.58 270.78 L 343.36 271.56 L 346.15 271.33 L 348.93 271.15 L 351.71 271.18 L 354.50 272.91 L 357.28 274.69 L 360.07 276.73 L 362.85 277.95 L 365.63 277.82 L 368.42 278.44 L 371.20 278.70 L 373.98 277.33 L 376.77 277.60 L 379.55 277.51 L 382.33 277.77 L 385.12 278.19 L 387.90 279.19 L 390.68 280.38 L 393.47 282.48 L 396.25 284.00 L 399.03 283.47 L 401.82 283.14 L 404.60 283.79 L 407.39 282.64 L 410.17 282.36 L 412.95 282.46 L 415.74 281.62 L 418.52 281.57 L 421.30 282.02 L 424.09 283.54 L 426.87 284.21 L 429.65 284.74 L 432.44 285.17 L 435.22 287.30 L 438.00 287.83 L 440.79 286.88 L 443.57 286.57 L 446.35 286.30 L 449.14 287.49 L 451.92 288.56 L 454.71 288.16 L 457.49 287.96 L 460.27 288.23 L 463.06 288.67 L 465.84 288.32 L 468.62 287.53 L 471.41 288.28 L 474.19 287.89 L 476.97 287.89 L 479.76 288.36 L 482.54 288.26 L 485.32 287.67 L 488.11 286.42 L 490.89 285.72 L 493.67 285.69 L 496.46 285.80 L 499.24 285.02 L 502.03 284.66 L 504.81 284.34 L 507.59 283.82 L 510.38 283.38 L 513.16 283.71 L 515.94 282.86 L 518.73 282.30 L 521.51 282.11 L 524.29 282.03 L 527.08 281.53 L 529.86 280.50 L 532.64 279.92 L 535.43 279.32 L 538.21 277.81 L 540.99 276.78 L 543.78 276.97 L 546.56 276.66 L 549.35 275.30 L 552.13 273.67 L 554.91 273.95 L 557.70 274.71 L 560.48 274.40 L 563.26 274.33 " clip-path="url(#p6716cef48e)" style="fill: none; stroke: #0173b2; stroke-opacity: 0.5; stroke-width: 0.62; stroke-linecap: square"/>
   </g>
   <g id="line2d_34">
    <path d="M 48.31 200.00 L 51.09 196.90 L 53.88 195.39 L 56.66 198.77 L 59.44 200.50 L 62.23 203.29 L 65.01 206.61 L 67.79 210.95 L 70.58 222.46 L 73.36 233.59 L 76.15 247.00 L 78.93 265.58 L 81.71 285.45 L 84.50 306.97 L 87.28 317.24 L 90.06 314.95 L 92.85 311.75 L 95.63 309.15 L 98.41 307.06 L 101.20 305.26 L 103.98 303.87 L 106.76 301.23 L 109.55 295.33 L 112.33 296.18 L 115.11 294.97 L 117.90 293.37 L 120.68 289.41 L 123.47 285.34 L 126.25 277.62 L 129.03 267.33 L 131.82 261.21 L 134.60 256.28 L 137.38 253.18 L 140.17 249.36 L 142.95 247.91 L 145.73 250.03 L 148.52 252.19 L 151.30 252.07 L 154.08 249.61 L 156.87 247.87 L 159.65 245.41 L 162.43 243.06 L 165.22 242.27 L 168.00 247.04 L 170.79 251.09 L 173.57 252.27 L 176.35 251.56 L 179.14 251.72 L 181.92 251.73 L 184.70 250.97 L 187.49 250.47 L 190.27 245.61 L 193.05 240.16 L 195.84 236.54 L 198.62 232.68 L 201.40 228.52 L 204.19 228.37 L 206.97 227.92 L 209.75 227.38 L 212.54 227.41 L 215.32 230.07 L 218.11 233.49 L 220.89 236.75 L 223.67 239.40 L 226.46 241.56 L 229.24 243.23 L 232.02 246.49 L 234.81 250.97 L 237.59 255.46 L 240.37 261.10 L 243.16 267.64 L 245.94 273.39 L 248.72 275.87 L 251.51 277.24 L 254.29 276.41 L 257.07 274.00 L 259.86 272.21 L 262.64 269.90 L 265.43 267.67 L 268.21 265.01 L 270.99 263.91 L 273.78 262.96 L 276.56 261.86 L 279.34 262.18 L 282.13 260.91 L 284.91 260.90 L 287.69 262.45 L 290.48 264.22 L 293.26 265.95 L 296.04 267.90 L 298.83 270.10 L 301.61 272.09 L 304.39 273.79 L 307.18 274.70 L 309.96 274.86 L 312.75 274.66 L 315.53 274.50 L 318.31 275.47 L 321.10 274.96 L 323.88 274.01 L 326.66 273.29 L 329.45 273.68 L 332.23 273.55 L 335.01 273.69 L 337.80 274.45 L 340.58 276.47 L 343.36 279.08 L 346.15 278.51 L 348.93 277.55 L 351.71 276.72 L 354.50 276.79 L 357.28 277.57 L 360.07 278.30 L 362.85 279.25 L 365.63 279.16 L 368.42 280.24 L 371.20 281.45 L 373.98 281.77 L 376.77 282.60 L 379.55 282.95 L 382.33 283.09 L 385.12 282.36 L 387.90 282.20 L 390.68 281.76 L 393.47 282.78 L 396.25 285.11 L 399.03 285.89 L 401.82 286.04 L 404.60 286.24 L 407.39 287.30 L 410.17 288.59 L 412.95 290.05 L 415.74 289.99 L 418.52 289.81 L 421.30 290.24 L 424.09 290.49 L 426.87 290.93 L 429.65 290.52 L 432.44 290.06 L 435.22 291.05 L 438.00 292.27 L 440.79 292.04 L 443.57 291.02 L 446.35 290.55 L 449.14 289.56 L 451.92 288.94 L 454.71 288.69 L 457.49 289.45 L 460.27 290.29 L 463.06 290.17 L 465.84 290.46 L 468.62 289.88 L 471.41 289.39 L 474.19 287.82 L 476.97 287.39 L 479.76 286.19 L 482.54 285.55 L 485.32 286.46 L 488.11 287.32 L 490.89 286.38 L 493.67 285.69 L 496.46 285.19 L 499.24 284.59 L 502.03 283.62 L 504.81 282.83 L 507.59 282.18 L 510.38 282.66 L 513.16 282.70 L 515.94 282.53 L 518.73 282.55 L 521.51 282.54 L 524.29 281.31 L 527.08 280.80 L 529.86 280.57 L 532.64 280.12 L 535.43 279.47 L 538.21 278.90 L 540.99 277.44 L 543.78 276.79 L 546.56 275.85 L 549.35 276.23 L 552.13 276.01 L 554.91 275.19 L 557.70 274.81 L 560.48 275.38 L 563.26 276.25 " clip-path="url(#p6716cef48e)" style="fill: none; stroke: #0173b2; stroke-opacity: 0.5; stroke-width: 0.62; stroke-linecap: square"/>
   </g>
   <g id="line2d_35">
    <path d="M 48.31 200.03 L 51.09 197.18 L 53.88 195.07 L 56.66 196.81 L 59.44 199.01 L 62.23 200.74 L 65.01 202.88 L 67.79 205.72 L 70.58 210.50 L 73.36 214.44 L 76.15 218.46 L 78.93 225.57 L 81.71 227.23 L 84.50 222.54 L 87.28 219.67 L 90.06 221.07 L 92.85 223.47 L 95.63 227.52 L 98.41 232.50 L 101.20 235.90 L 103.98 237.72 L 106.76 243.48 L 109.55 249.72 L 112.33 253.04 L 115.11 254.42 L 117.90 253.80 L 120.68 252.84 L 123.47 246.74 L 126.25 238.67 L 129.03 233.40 L 131.82 229.38 L 134.60 230.70 L 137.38 232.57 L 140.17 234.57 L 142.95 232.34 L 145.73 231.97 L 148.52 232.02 L 151.30 230.91 L 154.08 230.71 L 156.87 235.60 L 159.65 241.29 L 162.43 245.98 L 165.22 250.73 L 168.00 255.43 L 170.79 255.46 L 173.57 253.37 L 176.35 254.04 L 179.14 256.15 L 181.92 255.28 L 184.70 249.18 L 187.49 244.93 L 190.27 241.86 L 193.05 234.81 L 195.84 230.47 L 198.62 227.78 L 201.40 224.12 L 204.19 219.92 L 206.97 217.14 L 209.75 215.06 L 212.54 213.17 L 215.32 212.38 L 218.11 215.16 L 220.89 214.58 L 223.67 213.89 L 226.46 218.77 L 229.24 225.20 L 232.02 228.98 L 234.81 231.13 L 237.59 233.46 L 240.37 233.92 L 243.16 232.97 L 245.94 232.48 L 248.72 232.42 L 251.51 233.68 L 254.29 235.12 L 257.07 239.79 L 259.86 245.50 L 262.64 247.11 L 265.43 247.38 L 268.21 251.41 L 270.99 254.84 L 273.78 256.08 L 276.56 258.20 L 279.34 258.64 L 282.13 256.96 L 284.91 254.98 L 287.69 254.37 L 290.48 255.23 L 293.26 256.78 L 296.04 258.52 L 298.83 260.73 L 301.61 262.44 L 304.39 264.85 L 307.18 268.48 L 309.96 271.39 L 312.75 273.11 L 315.53 273.86 L 318.31 273.77 L 321.10 274.98 L 323.88 274.30 L 326.66 273.64 L 329.45 273.65 L 332.23 274.21 L 335.01 274.07 L 337.80 274.39 L 340.58 274.45 L 343.36 275.33 L 346.15 277.03 L 348.93 277.34 L 351.71 277.51 L 354.50 276.90 L 357.28 276.87 L 360.07 276.76 L 362.85 278.09 L 365.63 279.07 L 368.42 278.91 L 371.20 280.17 L 373.98 281.16 L 376.77 281.05 L 379.55 280.67 L 382.33 280.85 L 385.12 281.51 L 387.90 281.65 L 390.68 281.14 L 393.47 281.60 L 396.25 281.45 L 399.03 281.47 L 401.82 281.54 L 404.60 282.41 L 407.39 283.83 L 410.17 284.31 L 412.95 284.98 L 415.74 285.83 L 418.52 285.35 L 421.30 285.12 L 424.09 285.52 L 426.87 285.18 L 429.65 285.31 L 432.44 286.48 L 435.22 286.85 L 438.00 286.66 L 440.79 287.27 L 443.57 286.93 L 446.35 287.31 L 449.14 287.79 L 451.92 287.94 L 454.71 287.57 L 457.49 287.05 L 460.27 285.76 L 463.06 285.34 L 465.84 285.23 L 468.62 286.00 L 471.41 285.40 L 474.19 284.36 L 476.97 284.62 L 479.76 284.66 L 482.54 284.40 L 485.32 284.54 L 488.11 284.73 L 490.89 284.56 L 493.67 284.16 L 496.46 283.76 L 499.24 283.58 L 502.03 283.07 L 504.81 283.20 L 507.59 282.58 L 510.38 281.84 L 513.16 280.95 L 515.94 280.64 L 518.73 280.18 L 521.51 279.33 L 524.29 279.40 L 527.08 279.50 L 529.86 279.96 L 532.64 280.11 L 535.43 279.38 L 538.21 279.66 L 540.99 279.87 L 543.78 279.51 L 546.56 277.66 L 549.35 276.28 L 552.13 276.37 L 554.91 275.99 L 557.70 275.70 L 560.48 275.49 L 563.26 275.22 " clip-path="url(#p6716cef48e)" style="fill: none; stroke: #0173b2; stroke-opacity: 0.5; stroke-width: 0.62; stroke-linecap: square"/>
   </g>
   <g id="line2d_36">
    <path d="M 48.31 200.10 L 51.09 197.08 L 53.88 195.55 L 56.66 198.75 L 59.44 200.36 L 62.23 202.97 L 65.01 206.32 L 67.79 210.84 L 70.58 219.89 L 73.36 229.56 L 76.15 240.92 L 78.93 256.93 L 81.71 266.68 L 84.50 269.07 L 87.28 268.70 L 90.06 268.47 L 92.85 266.13 L 95.63 269.21 L 98.41 276.48 L 101.20 281.66 L 103.98 275.18 L 106.76 276.02 L 109.55 276.94 L 112.33 269.78 L 115.11 267.42 L 117.90 266.94 L 120.68 267.72 L 123.47 274.06 L 126.25 277.35 L 129.03 278.20 L 131.82 276.54 L 134.60 271.75 L 137.38 263.67 L 140.17 259.83 L 142.95 256.23 L 145.73 248.94 L 148.52 243.99 L 151.30 242.32 L 154.08 240.60 L 156.87 239.86 L 159.65 236.11 L 162.43 231.43 L 165.22 228.43 L 168.00 233.01 L 170.79 241.94 L 173.57 250.31 L 176.35 258.80 L 179.14 266.38 L 181.92 269.58 L 184.70 269.74 L 187.49 267.39 L 190.27 266.06 L 193.05 265.95 L 195.84 268.00 L 198.62 266.95 L 201.40 262.64 L 204.19 258.56 L 206.97 253.26 L 209.75 247.41 L 212.54 244.98 L 215.32 244.13 L 218.11 242.31 L 220.89 239.86 L 223.67 235.48 L 226.46 234.33 L 229.24 234.49 L 232.02 234.22 L 234.81 232.69 L 237.59 235.04 L 240.37 239.04 L 243.16 239.65 L 245.94 241.52 L 248.72 241.93 L 251.51 241.10 L 254.29 240.14 L 257.07 240.62 L 259.86 240.99 L 262.64 242.52 L 265.43 244.29 L 268.21 246.64 L 270.99 250.47 L 273.78 254.65 L 276.56 258.46 L 279.34 258.93 L 282.13 259.23 L 284.91 259.23 L 287.69 257.54 L 290.48 256.14 L 293.26 257.12 L 296.04 259.48 L 298.83 262.51 L 301.61 265.32 L 304.39 265.95 L 307.18 266.54 L 309.96 266.65 L 312.75 267.02 L 315.53 267.64 L 318.31 269.48 L 321.10 272.46 L 323.88 274.05 L 326.66 275.83 L 329.45 277.27 L 332.23 277.31 L 335.01 276.45 L 337.80 277.37 L 340.58 277.99 L 343.36 276.93 L 346.15 275.05 L 348.93 274.40 L 351.71 274.90 L 354.50 275.40 L 357.28 276.24 L 360.07 277.88 L 362.85 278.46 L 365.63 277.20 L 368.42 277.42 L 371.20 277.70 L 373.98 278.25 L 376.77 279.87 L 379.55 281.36 L 382.33 282.15 L 385.12 283.74 L 387.90 283.97 L 390.68 284.94 L 393.47 285.65 L 396.25 287.28 L 399.03 288.36 L 401.82 287.77 L 404.60 288.26 L 407.39 288.91 L 410.17 290.19 L 412.95 290.41 L 415.74 290.17 L 418.52 289.10 L 421.30 290.05 L 424.09 290.46 L 426.87 289.99 L 429.65 290.68 L 432.44 290.51 L 435.22 288.92 L 438.00 288.40 L 440.79 288.84 L 443.57 289.00 L 446.35 287.91 L 449.14 287.55 L 451.92 287.80 L 454.71 287.90 L 457.49 288.02 L 460.27 287.53 L 463.06 288.08 L 465.84 289.23 L 468.62 288.29 L 471.41 286.98 L 474.19 287.12 L 476.97 288.03 L 479.76 287.77 L 482.54 288.33 L 485.32 288.53 L 488.11 289.21 L 490.89 288.89 L 493.67 288.08 L 496.46 288.18 L 499.24 289.06 L 502.03 289.08 L 504.81 289.09 L 507.59 288.12 L 510.38 287.13 L 513.16 287.93 L 515.94 288.47 L 518.73 286.93 L 521.51 286.67 L 524.29 286.74 L 527.08 286.41 L 529.86 285.04 L 532.64 283.65 L 535.43 281.66 L 538.21 280.33 L 540.99 279.16 L 543.78 278.21 L 546.56 277.71 L 549.35 276.74 L 552.13 277.83 L 554.91 278.02 L 557.70 276.45 L 560.48 274.86 L 563.26 274.83 " clip-path="url(#p6716cef48e)" style="fill: none; stroke: #0173b2; stroke-opacity: 0.5; stroke-width: 0.62; stroke-linecap: square"/>
   </g>
   <g id="line2d_37">
    <path d="M 48.31 200.09 L 51.09 197.58 L 53.88 196.21 L 56.66 197.67 L 59.44 197.73 L 62.23 199.21 L 65.01 203.63 L 67.79 198.80 L 70.58 195.28 L 73.36 202.45 L 76.15 211.12 L 78.93 221.00 L 81.71 230.15 L 84.50 233.41 L 87.28 230.42 L 90.06 230.18 L 92.85 231.55 L 95.63 231.87 L 98.41 229.08 L 101.20 227.97 L 103.98 228.29 L 106.76 229.89 L 109.55 234.27 L 112.33 238.18 L 115.11 241.74 L 117.90 243.47 L 120.68 243.59 L 123.47 241.38 L 126.25 243.52 L 129.03 243.14 L 131.82 241.04 L 134.60 245.07 L 137.38 241.99 L 140.17 234.18 L 142.95 229.39 L 145.73 225.10 L 148.52 224.83 L 151.30 224.31 L 154.08 223.14 L 156.87 222.79 L 159.65 223.04 L 162.43 224.12 L 165.22 225.62 L 168.00 225.36 L 170.79 224.21 L 173.57 224.22 L 176.35 224.56 L 179.14 224.46 L 181.92 223.18 L 184.70 222.53 L 187.49 222.31 L 190.27 220.74 L 193.05 221.61 L 195.84 222.02 L 198.62 221.35 L 201.40 218.77 L 204.19 219.11 L 206.97 224.20 L 209.75 231.10 L 212.54 238.47 L 215.32 243.12 L 218.11 243.63 L 220.89 244.53 L 223.67 246.90 L 226.46 245.21 L 229.24 244.93 L 232.02 244.25 L 234.81 244.66 L 237.59 245.66 L 240.37 247.74 L 243.16 249.23 L 245.94 250.85 L 248.72 251.74 L 251.51 250.80 L 254.29 249.41 L 257.07 249.36 L 259.86 249.35 L 262.64 249.73 L 265.43 252.58 L 268.21 255.89 L 270.99 255.24 L 273.78 253.93 L 276.56 254.60 L 279.34 255.51 L 282.13 257.18 L 284.91 259.78 L 287.69 261.49 L 290.48 263.02 L 293.26 261.93 L 296.04 261.53 L 298.83 261.22 L 301.61 261.02 L 304.39 263.57 L 307.18 265.78 L 309.96 265.43 L 312.75 266.40 L 315.53 268.87 L 318.31 269.18 L 321.10 269.90 L 323.88 271.57 L 326.66 272.90 L 329.45 273.93 L 332.23 275.39 L 335.01 276.51 L 337.80 276.81 L 340.58 276.80 L 343.36 278.23 L 346.15 278.80 L 348.93 279.28 L 351.71 279.54 L 354.50 280.12 L 357.28 281.39 L 360.07 281.52 L 362.85 281.08 L 365.63 281.41 L 368.42 281.14 L 371.20 281.59 L 373.98 281.42 L 376.77 280.59 L 379.55 280.07 L 382.33 280.67 L 385.12 281.81 L 387.90 283.37 L 390.68 284.39 L 393.47 284.99 L 396.25 285.69 L 399.03 286.06 L 401.82 286.09 L 404.60 285.96 L 407.39 285.62 L 410.17 285.70 L 412.95 286.65 L 415.74 288.76 L 418.52 289.17 L 421.30 290.26 L 424.09 291.16 L 426.87 291.44 L 429.65 292.75 L 432.44 292.82 L 435.22 291.71 L 438.00 292.28 L 440.79 293.42 L 443.57 293.50 L 446.35 294.16 L 449.14 294.04 L 451.92 293.60 L 454.71 291.91 L 457.49 291.20 L 460.27 290.55 L 463.06 289.67 L 465.84 289.56 L 468.62 290.34 L 471.41 289.84 L 474.19 289.56 L 476.97 289.24 L 479.76 288.54 L 482.54 288.06 L 485.32 288.51 L 488.11 287.95 L 490.89 286.32 L 493.67 286.82 L 496.46 286.48 L 499.24 285.23 L 502.03 284.60 L 504.81 284.72 L 507.59 284.15 L 510.38 283.74 L 513.16 283.15 L 515.94 282.05 L 518.73 281.82 L 521.51 281.69 L 524.29 282.02 L 527.08 281.53 L 529.86 280.66 L 532.64 280.16 L 535.43 279.36 L 538.21 278.90 L 540.99 279.40 L 543.78 278.99 L 546.56 280.30 L 549.35 280.92 L 552.13 280.18 L 554.91 279.09 L 557.70 278.97 L 560.48 278.47 L 563.26 277.92 " clip-path="url(#p6716cef48e)" style="fill: none; stroke: #0173b2; stroke-opacity: 0.5; stroke-width: 0.62; stroke-linecap: square"/>
   </g>
   <g id="line2d_38">
    <path d="M 48.31 199.99 L 51.09 197.47 L 53.88 195.73 L 56.66 196.40 L 59.44 196.88 L 62.23 198.02 L 65.01 201.19 L 67.79 197.39 L 70.58 196.11 L 73.36 203.62 L 76.15 211.29 L 78.93 221.44 L 81.71 230.44 L 84.50 235.31 L 87.28 236.28 L 90.06 240.70 L 92.85 242.02 L 95.63 244.05 L 98.41 247.38 L 101.20 244.22 L 103.98 237.16 L 106.76 234.15 L 109.55 231.91 L 112.33 228.86 L 115.11 227.46 L 117.90 232.09 L 120.68 238.75 L 123.47 248.73 L 126.25 251.44 L 129.03 250.79 L 131.82 250.85 L 134.60 247.79 L 137.38 244.48 L 140.17 241.60 L 142.95 238.19 L 145.73 236.56 L 148.52 238.89 L 151.30 243.18 L 154.08 247.47 L 156.87 250.70 L 159.65 254.14 L 162.43 254.61 L 165.22 253.81 L 168.00 252.61 L 170.79 253.32 L 173.57 254.78 L 176.35 255.12 L 179.14 253.78 L 181.92 253.35 L 184.70 257.73 L 187.49 260.50 L 190.27 261.04 L 193.05 260.18 L 195.84 257.22 L 198.62 254.68 L 201.40 255.74 L 204.19 262.50 L 206.97 264.33 L 209.75 259.15 L 212.54 254.53 L 215.32 252.15 L 218.11 251.27 L 220.89 250.16 L 223.67 250.65 L 226.46 254.45 L 229.24 258.00 L 232.02 259.40 L 234.81 263.61 L 237.59 266.87 L 240.37 267.84 L 243.16 271.79 L 245.94 274.94 L 248.72 277.86 L 251.51 282.72 L 254.29 285.75 L 257.07 287.80 L 259.86 289.31 L 262.64 290.07 L 265.43 289.02 L 268.21 285.43 L 270.99 280.63 L 273.78 276.61 L 276.56 275.52 L 279.34 274.32 L 282.13 274.05 L 284.91 273.39 L 287.69 273.14 L 290.48 272.50 L 293.26 271.71 L 296.04 269.58 L 298.83 269.07 L 301.61 269.22 L 304.39 270.93 L 307.18 272.40 L 309.96 272.85 L 312.75 274.41 L 315.53 275.31 L 318.31 274.92 L 321.10 275.17 L 323.88 274.70 L 326.66 273.20 L 329.45 272.94 L 332.23 274.22 L 335.01 274.99 L 337.80 276.33 L 340.58 278.32 L 343.36 278.07 L 346.15 277.86 L 348.93 278.35 L 351.71 279.22 L 354.50 279.90 L 357.28 280.01 L 360.07 280.62 L 362.85 282.36 L 365.63 283.98 L 368.42 283.72 L 371.20 283.72 L 373.98 283.26 L 376.77 283.29 L 379.55 283.55 L 382.33 284.41 L 385.12 285.53 L 387.90 285.21 L 390.68 285.60 L 393.47 286.26 L 396.25 286.55 L 399.03 286.05 L 401.82 287.53 L 404.60 286.98 L 407.39 286.24 L 410.17 285.71 L 412.95 285.12 L 415.74 285.91 L 418.52 287.94 L 421.30 288.22 L 424.09 288.31 L 426.87 288.11 L 429.65 287.08 L 432.44 287.27 L 435.22 287.81 L 438.00 287.41 L 440.79 287.98 L 443.57 288.24 L 446.35 288.49 L 449.14 288.15 L 451.92 288.13 L 454.71 288.48 L 457.49 287.94 L 460.27 287.75 L 463.06 286.80 L 465.84 286.69 L 468.62 286.82 L 471.41 287.81 L 474.19 288.55 L 476.97 288.53 L 479.76 288.70 L 482.54 288.92 L 485.32 289.79 L 488.11 288.94 L 490.89 289.09 L 493.67 289.79 L 496.46 289.59 L 499.24 288.11 L 502.03 287.58 L 504.81 287.53 L 507.59 287.13 L 510.38 286.67 L 513.16 286.61 L 515.94 286.32 L 518.73 286.07 L 521.51 284.94 L 524.29 284.19 L 527.08 283.59 L 529.86 282.54 L 532.64 282.29 L 535.43 281.13 L 538.21 280.28 L 540.99 279.46 L 543.78 278.19 L 546.56 278.64 L 549.35 279.30 L 552.13 278.82 L 554.91 278.27 L 557.70 277.01 L 560.48 275.92 L 563.26 275.14 " clip-path="url(#p6716cef48e)" style="fill: none; stroke: #0173b2; stroke-opacity: 0.5; stroke-width: 0.62; stroke-linecap: square"/>
   </g>
   <g id="line2d_39">
    <path d="M 48.31 199.90 L 51.09 197.18 L 53.88 195.02 L 56.66 195.67 L 59.44 196.39 L 62.23 196.85 L 65.01 197.96 L 67.79 198.92 L 70.58 201.75 L 73.36 203.81 L 76.15 204.78 L 78.93 208.39 L 81.71 209.93 L 84.50 213.76 L 87.28 217.28 L 90.06 220.44 L 92.85 219.62 L 95.63 213.09 L 98.41 204.74 L 101.20 202.06 L 103.98 201.53 L 106.76 205.25 L 109.55 207.11 L 112.33 204.06 L 115.11 201.99 L 117.90 200.47 L 120.68 197.69 L 123.47 197.26 L 126.25 203.76 L 129.03 212.34 L 131.82 216.79 L 134.60 222.33 L 137.38 226.69 L 140.17 230.10 L 142.95 235.50 L 145.73 244.53 L 148.52 248.70 L 151.30 247.68 L 154.08 249.10 L 156.87 248.18 L 159.65 247.26 L 162.43 248.43 L 165.22 250.72 L 168.00 252.70 L 170.79 253.60 L 173.57 252.65 L 176.35 250.66 L 179.14 251.22 L 181.92 250.58 L 184.70 251.78 L 187.49 255.39 L 190.27 256.91 L 193.05 257.22 L 195.84 254.80 L 198.62 253.97 L 201.40 254.39 L 204.19 251.69 L 206.97 246.37 L 209.75 242.84 L 212.54 240.93 L 215.32 239.13 L 218.11 238.93 L 220.89 239.35 L 223.67 243.63 L 226.46 247.05 L 229.24 252.36 L 232.02 256.15 L 234.81 254.05 L 237.59 252.09 L 240.37 252.40 L 243.16 248.77 L 245.94 246.69 L 248.72 246.40 L 251.51 245.08 L 254.29 244.40 L 257.07 243.89 L 259.86 243.82 L 262.64 246.79 L 265.43 251.15 L 268.21 253.48 L 270.99 254.53 L 273.78 257.04 L 276.56 258.73 L 279.34 260.99 L 282.13 261.74 L 284.91 261.34 L 287.69 261.04 L 290.48 259.48 L 293.26 258.38 L 296.04 259.91 L 298.83 262.33 L 301.61 263.97 L 304.39 265.19 L 307.18 265.94 L 309.96 268.94 L 312.75 269.34 L 315.53 268.60 L 318.31 269.56 L 321.10 271.78 L 323.88 272.88 L 326.66 274.32 L 329.45 275.59 L 332.23 276.77 L 335.01 276.76 L 337.80 277.11 L 340.58 277.31 L 343.36 277.79 L 346.15 277.63 L 348.93 277.03 L 351.71 275.96 L 354.50 275.97 L 357.28 275.95 L 360.07 276.55 L 362.85 277.55 L 365.63 279.35 L 368.42 280.71 L 371.20 281.26 L 373.98 281.22 L 376.77 281.30 L 379.55 283.72 L 382.33 284.60 L 385.12 283.97 L 387.90 285.01 L 390.68 285.52 L 393.47 285.85 L 396.25 286.96 L 399.03 288.25 L 401.82 288.24 L 404.60 288.89 L 407.39 289.71 L 410.17 290.94 L 412.95 291.99 L 415.74 291.11 L 418.52 290.69 L 421.30 289.86 L 424.09 289.19 L 426.87 289.53 L 429.65 288.03 L 432.44 287.43 L 435.22 287.17 L 438.00 287.02 L 440.79 286.11 L 443.57 286.11 L 446.35 286.29 L 449.14 287.27 L 451.92 287.68 L 454.71 287.89 L 457.49 286.50 L 460.27 287.05 L 463.06 287.09 L 465.84 287.57 L 468.62 288.30 L 471.41 288.12 L 474.19 287.54 L 476.97 286.80 L 479.76 286.61 L 482.54 286.27 L 485.32 285.81 L 488.11 286.67 L 490.89 287.71 L 493.67 287.71 L 496.46 286.99 L 499.24 287.00 L 502.03 286.27 L 504.81 285.56 L 507.59 285.49 L 510.38 284.84 L 513.16 284.84 L 515.94 284.58 L 518.73 283.73 L 521.51 283.90 L 524.29 283.01 L 527.08 281.92 L 529.86 281.09 L 532.64 279.86 L 535.43 279.19 L 538.21 278.74 L 540.99 278.05 L 543.78 278.14 L 546.56 277.83 L 549.35 276.77 L 552.13 276.25 L 554.91 275.14 L 557.70 273.99 L 560.48 274.04 L 563.26 273.96 " clip-path="url(#p6716cef48e)" style="fill: none; stroke: #0173b2; stroke-opacity: 0.5; stroke-width: 0.62; stroke-linecap: square"/>
   </g>
   <g id="line2d_40">
    <path d="M 48.31 200.24 L 51.09 197.51 L 53.88 196.79 L 56.66 199.90 L 59.44 200.86 L 62.23 203.82 L 65.01 207.10 L 67.79 210.99 L 70.58 219.67 L 73.36 226.82 L 76.15 233.27 L 78.93 239.31 L 81.71 236.32 L 84.50 231.93 L 87.28 233.65 L 90.06 241.22 L 92.85 249.34 L 95.63 254.62 L 98.41 251.82 L 101.20 244.53 L 103.98 241.73 L 106.76 240.82 L 109.55 244.49 L 112.33 247.43 L 115.11 250.78 L 117.90 250.65 L 120.68 253.17 L 123.47 251.50 L 126.25 251.04 L 129.03 257.40 L 131.82 266.56 L 134.60 266.17 L 137.38 259.03 L 140.17 252.39 L 142.95 243.53 L 145.73 238.42 L 148.52 239.86 L 151.30 241.82 L 154.08 240.37 L 156.87 237.02 L 159.65 234.35 L 162.43 234.22 L 165.22 234.51 L 168.00 233.68 L 170.79 231.58 L 173.57 232.03 L 176.35 236.34 L 179.14 241.58 L 181.92 247.76 L 184.70 251.43 L 187.49 256.14 L 190.27 258.91 L 193.05 259.58 L 195.84 260.81 L 198.62 262.50 L 201.40 265.96 L 204.19 271.85 L 206.97 271.63 L 209.75 267.81 L 212.54 266.87 L 215.32 267.53 L 218.11 265.28 L 220.89 264.82 L 223.67 265.65 L 226.46 265.56 L 229.24 265.45 L 232.02 264.89 L 234.81 264.68 L 237.59 264.11 L 240.37 265.25 L 243.16 266.29 L 245.94 266.34 L 248.72 266.41 L 251.51 265.00 L 254.29 261.71 L 257.07 260.64 L 259.86 264.13 L 262.64 266.46 L 265.43 266.85 L 268.21 267.63 L 270.99 269.13 L 273.78 268.72 L 276.56 265.88 L 279.34 263.94 L 282.13 263.85 L 284.91 263.05 L 287.69 262.38 L 290.48 261.96 L 293.26 262.88 L 296.04 263.75 L 298.83 263.00 L 301.61 261.97 L 304.39 262.24 L 307.18 264.61 L 309.96 265.97 L 312.75 266.27 L 315.53 266.66 L 318.31 266.88 L 321.10 267.97 L 323.88 268.85 L 326.66 269.58 L 329.45 269.46 L 332.23 269.18 L 335.01 267.77 L 337.80 266.80 L 340.58 266.75 L 343.36 267.34 L 346.15 267.76 L 348.93 269.19 L 351.71 271.12 L 354.50 271.49 L 357.28 272.44 L 360.07 272.87 L 362.85 273.31 L 365.63 274.20 L 368.42 275.05 L 371.20 275.93 L 373.98 276.22 L 376.77 277.42 L 379.55 279.63 L 382.33 280.96 L 385.12 281.52 L 387.90 280.45 L 390.68 280.99 L 393.47 282.21 L 396.25 283.14 L 399.03 282.82 L 401.82 282.55 L 404.60 282.09 L 407.39 282.02 L 410.17 282.36 L 412.95 283.91 L 415.74 285.69 L 418.52 285.96 L 421.30 286.48 L 424.09 286.83 L 426.87 287.66 L 429.65 288.15 L 432.44 287.64 L 435.22 286.30 L 438.00 286.52 L 440.79 287.48 L 443.57 287.05 L 446.35 288.04 L 449.14 288.23 L 451.92 289.01 L 454.71 289.59 L 457.49 288.81 L 460.27 288.65 L 463.06 287.91 L 465.84 288.24 L 468.62 287.85 L 471.41 287.09 L 474.19 286.63 L 476.97 286.54 L 479.76 286.33 L 482.54 285.02 L 485.32 283.66 L 488.11 284.22 L 490.89 285.26 L 493.67 285.80 L 496.46 285.91 L 499.24 286.15 L 502.03 285.26 L 504.81 284.82 L 507.59 285.11 L 510.38 285.71 L 513.16 286.05 L 515.94 285.95 L 518.73 284.83 L 521.51 284.48 L 524.29 283.74 L 527.08 283.84 L 529.86 283.49 L 532.64 283.41 L 535.43 283.21 L 538.21 282.39 L 540.99 281.45 L 543.78 280.88 L 546.56 280.23 L 549.35 279.87 L 552.13 279.98 L 554.91 279.16 L 557.70 277.72 L 560.48 277.33 L 563.26 275.82 " clip-path="url(#p6716cef48e)" style="fill: none; stroke: #0173b2; stroke-opacity: 0.5; stroke-width: 0.62; stroke-linecap: square"/>
   </g>
   <g id="line2d_41">
    <path d="M 48.31 199.88 L 51.09 195.94 L 53.88 196.10 L 56.66 199.15 L 59.44 200.90 L 62.23 203.96 L 65.01 207.33 L 67.79 211.08 L 70.58 224.90 L 73.36 233.68 L 76.15 240.67 L 78.93 244.32 L 81.71 242.15 L 84.50 238.61 L 87.28 236.24 L 90.06 238.82 L 92.85 242.49 L 95.63 241.31 L 98.41 235.26 L 101.20 230.24 L 103.98 228.10 L 106.76 223.78 L 109.55 219.79 L 112.33 219.70 L 115.11 221.71 L 117.90 224.77 L 120.68 224.22 L 123.47 220.89 L 126.25 218.37 L 129.03 217.94 L 131.82 219.94 L 134.60 221.93 L 137.38 224.15 L 140.17 226.38 L 142.95 230.31 L 145.73 231.84 L 148.52 233.44 L 151.30 237.54 L 154.08 241.73 L 156.87 246.24 L 159.65 248.82 L 162.43 250.36 L 165.22 253.18 L 168.00 255.25 L 170.79 256.65 L 173.57 257.89 L 176.35 255.68 L 179.14 252.32 L 181.92 247.86 L 184.70 245.76 L 187.49 245.00 L 190.27 244.09 L 193.05 242.59 L 195.84 242.17 L 198.62 243.52 L 201.40 241.96 L 204.19 239.04 L 206.97 236.68 L 209.75 236.32 L 212.54 241.50 L 215.32 247.06 L 218.11 249.76 L 220.89 251.76 L 223.67 256.12 L 226.46 260.49 L 229.24 262.74 L 232.02 264.05 L 234.81 268.58 L 237.59 273.28 L 240.37 272.75 L 243.16 271.50 L 245.94 274.37 L 248.72 277.89 L 251.51 277.02 L 254.29 272.62 L 257.07 267.47 L 259.86 261.44 L 262.64 257.91 L 265.43 254.38 L 268.21 252.22 L 270.99 252.30 L 273.78 253.32 L 276.56 256.51 L 279.34 257.64 L 282.13 257.71 L 284.91 260.05 L 287.69 261.67 L 290.48 260.37 L 293.26 259.12 L 296.04 258.83 L 298.83 259.50 L 301.61 261.35 L 304.39 264.26 L 307.18 265.71 L 309.96 266.76 L 312.75 270.17 L 315.53 271.80 L 318.31 272.47 L 321.10 272.61 L 323.88 272.83 L 326.66 272.96 L 329.45 271.94 L 332.23 270.41 L 335.01 269.99 L 337.80 271.28 L 340.58 273.75 L 343.36 275.74 L 346.15 276.01 L 348.93 275.48 L 351.71 274.36 L 354.50 274.35 L 357.28 275.04 L 360.07 276.08 L 362.85 276.61 L 365.63 277.41 L 368.42 277.31 L 371.20 277.46 L 373.98 277.28 L 376.77 276.55 L 379.55 277.25 L 382.33 277.84 L 385.12 277.43 L 387.90 278.51 L 390.68 279.48 L 393.47 279.86 L 396.25 280.11 L 399.03 281.92 L 401.82 283.64 L 404.60 285.68 L 407.39 287.15 L 410.17 288.03 L 412.95 287.87 L 415.74 287.80 L 418.52 287.30 L 421.30 287.26 L 424.09 285.93 L 426.87 284.94 L 429.65 285.79 L 432.44 287.28 L 435.22 287.71 L 438.00 287.19 L 440.79 288.21 L 443.57 287.66 L 446.35 287.19 L 449.14 286.79 L 451.92 286.25 L 454.71 286.45 L 457.49 286.87 L 460.27 285.65 L 463.06 285.92 L 465.84 286.71 L 468.62 286.82 L 471.41 286.29 L 474.19 286.80 L 476.97 286.83 L 479.76 287.86 L 482.54 288.52 L 485.32 288.42 L 488.11 287.91 L 490.89 287.11 L 493.67 286.28 L 496.46 285.08 L 499.24 284.18 L 502.03 284.22 L 504.81 284.86 L 507.59 285.15 L 510.38 285.05 L 513.16 285.13 L 515.94 285.36 L 518.73 285.44 L 521.51 284.66 L 524.29 284.12 L 527.08 283.65 L 529.86 283.57 L 532.64 282.60 L 535.43 281.38 L 538.21 281.79 L 540.99 281.43 L 543.78 279.76 L 546.56 278.84 L 549.35 278.28 L 552.13 277.42 L 554.91 276.26 L 557.70 275.22 L 560.48 275.77 L 563.26 276.01 " clip-path="url(#p6716cef48e)" style="fill: none; stroke: #0173b2; stroke-opacity: 0.5; stroke-width: 0.62; stroke-linecap: square"/>
   </g>
   <g id="line2d_42">
    <path d="M 48.31 200.07 L 51.09 196.95 L 53.88 195.45 L 56.66 198.63 L 59.44 200.38 L 62.23 203.05 L 65.01 206.32 L 67.79 210.82 L 70.58 219.82 L 73.36 229.07 L 76.15 239.60 L 78.93 253.87 L 81.71 264.84 L 84.50 275.36 L 87.28 277.09 L 90.06 266.82 L 92.85 256.68 L 95.63 247.72 L 98.41 238.87 L 101.20 232.72 L 103.98 230.29 L 106.76 231.11 L 109.55 230.45 L 112.33 233.09 L 115.11 235.48 L 117.90 236.39 L 120.68 238.68 L 123.47 241.57 L 126.25 245.46 L 129.03 251.35 L 131.82 248.35 L 134.60 246.99 L 137.38 249.26 L 140.17 247.68 L 142.95 245.78 L 145.73 243.34 L 148.52 239.58 L 151.30 236.14 L 154.08 233.21 L 156.87 232.62 L 159.65 233.02 L 162.43 232.03 L 165.22 229.40 L 168.00 226.69 L 170.79 227.58 L 173.57 229.75 L 176.35 230.67 L 179.14 231.62 L 181.92 233.67 L 184.70 234.70 L 187.49 235.72 L 190.27 236.05 L 193.05 239.69 L 195.84 244.02 L 198.62 249.59 L 201.40 256.00 L 204.19 263.49 L 206.97 264.80 L 209.75 266.79 L 212.54 267.44 L 215.32 268.41 L 218.11 268.17 L 220.89 268.49 L 223.67 268.23 L 226.46 267.56 L 229.24 266.46 L 232.02 263.62 L 234.81 261.48 L 237.59 255.83 L 240.37 252.22 L 243.16 252.84 L 245.94 251.93 L 248.72 249.93 L 251.51 249.31 L 254.29 249.89 L 257.07 248.57 L 259.86 247.05 L 262.64 246.16 L 265.43 245.47 L 268.21 244.04 L 270.99 241.32 L 273.78 241.35 L 276.56 243.35 L 279.34 244.28 L 282.13 249.17 L 284.91 253.30 L 287.69 255.48 L 290.48 257.26 L 293.26 257.88 L 296.04 259.73 L 298.83 260.59 L 301.61 260.81 L 304.39 260.64 L 307.18 261.97 L 309.96 263.77 L 312.75 264.94 L 315.53 266.00 L 318.31 267.58 L 321.10 269.10 L 323.88 270.59 L 326.66 269.62 L 329.45 268.94 L 332.23 268.65 L 335.01 267.42 L 337.80 266.88 L 340.58 266.98 L 343.36 267.00 L 346.15 268.11 L 348.93 269.83 L 351.71 270.81 L 354.50 272.54 L 357.28 274.28 L 360.07 276.11 L 362.85 277.01 L 365.63 277.67 L 368.42 278.60 L 371.20 280.35 L 373.98 281.92 L 376.77 283.08 L 379.55 283.50 L 382.33 283.58 L 385.12 283.30 L 387.90 282.85 L 390.68 283.23 L 393.47 283.88 L 396.25 283.71 L 399.03 284.37 L 401.82 286.18 L 404.60 287.69 L 407.39 288.98 L 410.17 289.41 L 412.95 289.84 L 415.74 290.19 L 418.52 290.43 L 421.30 289.77 L 424.09 289.02 L 426.87 288.20 L 429.65 287.88 L 432.44 288.97 L 435.22 288.84 L 438.00 288.01 L 440.79 288.42 L 443.57 289.95 L 446.35 289.90 L 449.14 289.83 L 451.92 289.21 L 454.71 289.51 L 457.49 289.51 L 460.27 289.47 L 463.06 290.23 L 465.84 290.09 L 468.62 290.03 L 471.41 289.99 L 474.19 290.00 L 476.97 291.03 L 479.76 289.87 L 482.54 289.27 L 485.32 289.05 L 488.11 287.12 L 490.89 287.20 L 493.67 287.48 L 496.46 286.37 L 499.24 285.64 L 502.03 284.47 L 504.81 283.03 L 507.59 283.75 L 510.38 284.15 L 513.16 283.56 L 515.94 283.29 L 518.73 284.04 L 521.51 284.26 L 524.29 283.45 L 527.08 282.57 L 529.86 282.45 L 532.64 281.52 L 535.43 280.77 L 538.21 280.80 L 540.99 279.91 L 543.78 278.89 L 546.56 278.54 L 549.35 277.61 L 552.13 277.21 L 554.91 277.09 L 557.70 276.28 L 560.48 276.38 L 563.26 277.12 " clip-path="url(#p6716cef48e)" style="fill: none; stroke: #0173b2; stroke-opacity: 0.5; stroke-width: 0.62; stroke-linecap: square"/>
   </g>
   <g id="line2d_43">
    <path d="M 48.31 200.01 L 51.09 197.52 L 53.88 196.17 L 56.66 198.95 L 59.44 200.44 L 62.23 202.39 L 65.01 205.20 L 67.79 209.76 L 70.58 216.68 L 73.36 225.27 L 76.15 234.94 L 78.93 248.58 L 81.71 251.42 L 84.50 240.61 L 87.28 234.29 L 90.06 234.66 L 92.85 232.61 L 95.63 226.52 L 98.41 224.25 L 101.20 224.81 L 103.98 226.21 L 106.76 226.60 L 109.55 225.32 L 112.33 225.56 L 115.11 228.52 L 117.90 228.40 L 120.68 226.77 L 123.47 225.56 L 126.25 225.10 L 129.03 227.80 L 131.82 234.74 L 134.60 239.37 L 137.38 239.95 L 140.17 238.58 L 142.95 236.50 L 145.73 234.85 L 148.52 235.04 L 151.30 233.63 L 154.08 234.64 L 156.87 236.85 L 159.65 240.70 L 162.43 249.33 L 165.22 254.27 L 168.00 261.20 L 170.79 267.89 L 173.57 271.69 L 176.35 272.99 L 179.14 271.70 L 181.92 273.92 L 184.70 274.93 L 187.49 274.12 L 190.27 276.98 L 193.05 275.00 L 195.84 270.14 L 198.62 266.30 L 201.40 260.91 L 204.19 248.92 L 206.97 245.56 L 209.75 244.80 L 212.54 243.24 L 215.32 242.75 L 218.11 243.97 L 220.89 246.77 L 223.67 249.12 L 226.46 249.48 L 229.24 248.71 L 232.02 249.25 L 234.81 252.49 L 237.59 252.30 L 240.37 253.98 L 243.16 256.06 L 245.94 253.65 L 248.72 251.87 L 251.51 254.02 L 254.29 257.52 L 257.07 259.44 L 259.86 261.32 L 262.64 262.62 L 265.43 262.47 L 268.21 260.82 L 270.99 259.02 L 273.78 256.86 L 276.56 253.55 L 279.34 253.03 L 282.13 255.30 L 284.91 258.63 L 287.69 261.03 L 290.48 262.80 L 293.26 263.62 L 296.04 263.94 L 298.83 266.00 L 301.61 268.95 L 304.39 269.30 L 307.18 268.75 L 309.96 269.02 L 312.75 269.71 L 315.53 270.72 L 318.31 272.21 L 321.10 273.56 L 323.88 274.34 L 326.66 275.79 L 329.45 275.81 L 332.23 276.26 L 335.01 277.51 L 337.80 277.07 L 340.58 277.29 L 343.36 277.58 L 346.15 277.87 L 348.93 278.58 L 351.71 278.73 L 354.50 278.96 L 357.28 279.51 L 360.07 280.57 L 362.85 282.09 L 365.63 283.07 L 368.42 283.95 L 371.20 284.41 L 373.98 284.22 L 376.77 284.29 L 379.55 284.01 L 382.33 283.66 L 385.12 284.70 L 387.90 285.22 L 390.68 287.51 L 393.47 287.95 L 396.25 288.58 L 399.03 288.53 L 401.82 287.71 L 404.60 286.32 L 407.39 286.25 L 410.17 287.40 L 412.95 286.51 L 415.74 286.78 L 418.52 287.66 L 421.30 288.60 L 424.09 288.71 L 426.87 287.68 L 429.65 288.04 L 432.44 287.93 L 435.22 287.97 L 438.00 287.12 L 440.79 286.49 L 443.57 287.05 L 446.35 286.51 L 449.14 286.17 L 451.92 286.25 L 454.71 286.59 L 457.49 287.23 L 460.27 287.58 L 463.06 287.63 L 465.84 287.34 L 468.62 286.64 L 471.41 287.06 L 474.19 287.75 L 476.97 287.74 L 479.76 287.64 L 482.54 289.02 L 485.32 289.08 L 488.11 287.93 L 490.89 287.52 L 493.67 286.71 L 496.46 286.65 L 499.24 286.10 L 502.03 284.71 L 504.81 284.19 L 507.59 282.36 L 510.38 282.04 L 513.16 282.24 L 515.94 282.61 L 518.73 282.54 L 521.51 281.44 L 524.29 279.72 L 527.08 280.85 L 529.86 282.95 L 532.64 282.54 L 535.43 281.71 L 538.21 282.07 L 540.99 281.89 L 543.78 280.89 L 546.56 280.46 L 549.35 280.46 L 552.13 280.11 L 554.91 278.31 L 557.70 277.24 L 560.48 276.40 L 563.26 277.09 " clip-path="url(#p6716cef48e)" style="fill: none; stroke: #0173b2; stroke-opacity: 0.5; stroke-width: 0.62; stroke-linecap: square"/>
   </g>
   <g id="line2d_44">
    <path d="M 48.31 200.15 L 51.09 197.54 L 53.88 196.29 L 56.66 199.36 L 59.44 200.76 L 62.23 203.63 L 65.01 206.78 L 67.79 210.97 L 70.58 222.33 L 73.36 234.48 L 76.15 246.21 L 78.93 262.32 L 81.71 267.98 L 84.50 265.39 L 87.28 259.96 L 90.06 256.61 L 92.85 258.65 L 95.63 262.81 L 98.41 260.41 L 101.20 252.39 L 103.98 247.02 L 106.76 243.47 L 109.55 238.98 L 112.33 235.19 L 115.11 231.63 L 117.90 229.02 L 120.68 224.56 L 123.47 223.16 L 126.25 225.27 L 129.03 227.56 L 131.82 235.18 L 134.60 241.97 L 137.38 249.46 L 140.17 256.16 L 142.95 257.58 L 145.73 257.13 L 148.52 256.95 L 151.30 256.04 L 154.08 253.08 L 156.87 249.88 L 159.65 248.12 L 162.43 244.40 L 165.22 239.52 L 168.00 234.66 L 170.79 231.75 L 173.57 229.11 L 176.35 228.21 L 179.14 228.14 L 181.92 230.38 L 184.70 232.87 L 187.49 235.52 L 190.27 237.44 L 193.05 238.21 L 195.84 239.17 L 198.62 241.10 L 201.40 240.51 L 204.19 240.27 L 206.97 242.04 L 209.75 245.06 L 212.54 247.68 L 215.32 254.51 L 218.11 258.56 L 220.89 255.03 L 223.67 252.62 L 226.46 252.40 L 229.24 253.24 L 232.02 254.67 L 234.81 256.28 L 237.59 255.56 L 240.37 256.17 L 243.16 258.26 L 245.94 260.43 L 248.72 259.57 L 251.51 256.58 L 254.29 254.60 L 257.07 252.23 L 259.86 251.64 L 262.64 252.63 L 265.43 254.00 L 268.21 254.54 L 270.99 257.68 L 273.78 259.49 L 276.56 259.85 L 279.34 260.54 L 282.13 260.45 L 284.91 261.91 L 287.69 263.30 L 290.48 263.90 L 293.26 263.10 L 296.04 262.93 L 298.83 263.81 L 301.61 264.79 L 304.39 265.47 L 307.18 265.02 L 309.96 266.36 L 312.75 269.10 L 315.53 271.98 L 318.31 273.38 L 321.10 272.10 L 323.88 271.42 L 326.66 271.91 L 329.45 272.45 L 332.23 273.64 L 335.01 274.37 L 337.80 274.08 L 340.58 275.91 L 343.36 276.83 L 346.15 276.56 L 348.93 277.12 L 351.71 278.81 L 354.50 279.25 L 357.28 279.90 L 360.07 281.35 L 362.85 281.84 L 365.63 281.60 L 368.42 282.84 L 371.20 283.98 L 373.98 284.73 L 376.77 285.66 L 379.55 285.08 L 382.33 285.38 L 385.12 286.68 L 387.90 286.00 L 390.68 285.21 L 393.47 284.70 L 396.25 283.63 L 399.03 284.96 L 401.82 285.25 L 404.60 285.47 L 407.39 286.30 L 410.17 287.86 L 412.95 287.87 L 415.74 287.52 L 418.52 288.13 L 421.30 289.69 L 424.09 289.07 L 426.87 288.65 L 429.65 288.38 L 432.44 288.34 L 435.22 288.05 L 438.00 286.36 L 440.79 284.80 L 443.57 284.43 L 446.35 284.19 L 449.14 283.69 L 451.92 283.77 L 454.71 284.71 L 457.49 284.96 L 460.27 284.09 L 463.06 282.21 L 465.84 282.22 L 468.62 283.69 L 471.41 283.90 L 474.19 284.65 L 476.97 284.40 L 479.76 285.33 L 482.54 286.51 L 485.32 285.72 L 488.11 285.47 L 490.89 286.13 L 493.67 285.49 L 496.46 285.16 L 499.24 285.93 L 502.03 286.44 L 504.81 286.32 L 507.59 286.77 L 510.38 286.86 L 513.16 286.53 L 515.94 284.92 L 518.73 283.27 L 521.51 282.13 L 524.29 281.19 L 527.08 280.14 L 529.86 279.63 L 532.64 279.08 L 535.43 279.63 L 538.21 281.85 L 540.99 281.84 L 543.78 280.72 L 546.56 280.23 L 549.35 279.43 L 552.13 278.11 L 554.91 277.13 L 557.70 277.32 L 560.48 276.40 L 563.26 275.23 " clip-path="url(#p6716cef48e)" style="fill: none; stroke: #0173b2; stroke-opacity: 0.5; stroke-width: 0.62; stroke-linecap: square"/>
   </g>
   <g id="line2d_45">
    <path d="M 48.31 200.01 L 51.09 196.83 L 53.88 196.75 L 56.66 199.93 L 59.44 200.98 L 62.23 203.97 L 65.01 207.25 L 67.79 211.01 L 70.58 221.26 L 73.36 229.65 L 76.15 240.14 L 78.93 245.36 L 81.71 245.21 L 84.50 242.07 L 87.28 242.11 L 90.06 246.99 L 92.85 245.82 L 95.63 235.01 L 98.41 227.84 L 101.20 222.16 L 103.98 216.44 L 106.76 211.29 L 109.55 209.27 L 112.33 210.13 L 115.11 210.29 L 117.90 211.00 L 120.68 215.24 L 123.47 222.57 L 126.25 229.68 L 129.03 234.36 L 131.82 237.31 L 134.60 241.19 L 137.38 245.19 L 140.17 253.62 L 142.95 260.86 L 145.73 265.00 L 148.52 268.47 L 151.30 267.36 L 154.08 265.99 L 156.87 264.70 L 159.65 262.70 L 162.43 265.42 L 165.22 269.14 L 168.00 267.07 L 170.79 263.62 L 173.57 258.93 L 176.35 255.51 L 179.14 253.38 L 181.92 250.47 L 184.70 248.43 L 187.49 244.26 L 190.27 239.85 L 193.05 239.12 L 195.84 242.54 L 198.62 246.41 L 201.40 251.85 L 204.19 259.31 L 206.97 263.82 L 209.75 267.30 L 212.54 270.24 L 215.32 271.68 L 218.11 271.23 L 220.89 268.53 L 223.67 269.22 L 226.46 270.10 L 229.24 269.55 L 232.02 268.78 L 234.81 270.89 L 237.59 271.50 L 240.37 269.69 L 243.16 268.89 L 245.94 266.07 L 248.72 263.44 L 251.51 263.07 L 254.29 261.47 L 257.07 257.88 L 259.86 254.28 L 262.64 251.76 L 265.43 252.12 L 268.21 252.13 L 270.99 253.01 L 273.78 253.95 L 276.56 254.66 L 279.34 256.19 L 282.13 257.20 L 284.91 258.70 L 287.69 260.50 L 290.48 259.13 L 293.26 260.19 L 296.04 262.87 L 298.83 265.37 L 301.61 267.46 L 304.39 268.61 L 307.18 269.82 L 309.96 270.15 L 312.75 268.38 L 315.53 266.96 L 318.31 267.38 L 321.10 269.29 L 323.88 272.55 L 326.66 276.38 L 329.45 278.80 L 332.23 280.78 L 335.01 282.04 L 337.80 281.67 L 340.58 282.01 L 343.36 283.10 L 346.15 285.08 L 348.93 285.45 L 351.71 285.09 L 354.50 285.59 L 357.28 285.82 L 360.07 286.49 L 362.85 285.84 L 365.63 285.40 L 368.42 285.02 L 371.20 285.53 L 373.98 285.46 L 376.77 286.21 L 379.55 286.46 L 382.33 286.41 L 385.12 285.90 L 387.90 285.64 L 390.68 284.68 L 393.47 284.25 L 396.25 284.76 L 399.03 285.31 L 401.82 284.65 L 404.60 284.17 L 407.39 283.46 L 410.17 284.49 L 412.95 284.09 L 415.74 282.44 L 418.52 282.02 L 421.30 282.33 L 424.09 284.09 L 426.87 285.90 L 429.65 286.63 L 432.44 285.21 L 435.22 284.79 L 438.00 285.66 L 440.79 286.90 L 443.57 287.04 L 446.35 287.35 L 449.14 287.22 L 451.92 287.33 L 454.71 286.78 L 457.49 286.57 L 460.27 286.51 L 463.06 286.32 L 465.84 286.67 L 468.62 287.32 L 471.41 288.07 L 474.19 288.54 L 476.97 287.89 L 479.76 287.98 L 482.54 287.70 L 485.32 286.62 L 488.11 286.41 L 490.89 287.14 L 493.67 287.74 L 496.46 286.70 L 499.24 284.78 L 502.03 283.60 L 504.81 283.57 L 507.59 282.14 L 510.38 280.95 L 513.16 280.34 L 515.94 280.24 L 518.73 280.18 L 521.51 280.71 L 524.29 280.02 L 527.08 279.40 L 529.86 278.36 L 532.64 278.91 L 535.43 278.76 L 538.21 279.00 L 540.99 279.76 L 543.78 280.39 L 546.56 279.84 L 549.35 280.04 L 552.13 279.87 L 554.91 279.90 L 557.70 280.41 L 560.48 279.67 L 563.26 277.96 " clip-path="url(#p6716cef48e)" style="fill: none; stroke: #0173b2; stroke-opacity: 0.5; stroke-width: 0.62; stroke-linecap: square"/>
   </g>
   <g id="line2d_46">
    <path d="M 48.31 199.92 L 51.09 197.10 L 53.88 195.22 L 56.66 197.56 L 59.44 199.64 L 62.23 201.14 L 65.01 203.51 L 67.79 206.30 L 70.58 210.77 L 73.36 217.44 L 76.15 226.32 L 78.93 243.67 L 81.71 260.89 L 84.50 260.27 L 87.28 241.85 L 90.06 231.00 L 92.85 230.44 L 95.63 232.15 L 98.41 235.29 L 101.20 236.60 L 103.98 238.61 L 106.76 242.18 L 109.55 240.35 L 112.33 238.52 L 115.11 237.25 L 117.90 233.67 L 120.68 231.52 L 123.47 226.34 L 126.25 221.33 L 129.03 222.35 L 131.82 227.57 L 134.60 236.97 L 137.38 242.35 L 140.17 241.93 L 142.95 243.73 L 145.73 247.30 L 148.52 254.21 L 151.30 258.58 L 154.08 261.20 L 156.87 264.38 L 159.65 265.09 L 162.43 265.72 L 165.22 267.19 L 168.00 267.62 L 170.79 269.27 L 173.57 268.24 L 176.35 266.60 L 179.14 266.26 L 181.92 266.07 L 184.70 266.91 L 187.49 266.30 L 190.27 266.35 L 193.05 265.36 L 195.84 268.60 L 198.62 277.86 L 201.40 283.50 L 204.19 286.73 L 206.97 286.71 L 209.75 287.09 L 212.54 284.53 L 215.32 281.01 L 218.11 276.67 L 220.89 272.50 L 223.67 266.88 L 226.46 264.72 L 229.24 263.80 L 232.02 262.56 L 234.81 262.72 L 237.59 264.24 L 240.37 264.91 L 243.16 266.08 L 245.94 267.64 L 248.72 268.87 L 251.51 271.02 L 254.29 271.68 L 257.07 268.70 L 259.86 263.31 L 262.64 260.88 L 265.43 260.11 L 268.21 260.51 L 270.99 260.37 L 273.78 262.56 L 276.56 266.02 L 279.34 268.33 L 282.13 268.09 L 284.91 265.52 L 287.69 262.85 L 290.48 260.36 L 293.26 258.47 L 296.04 257.52 L 298.83 254.60 L 301.61 253.38 L 304.39 254.45 L 307.18 256.92 L 309.96 259.42 L 312.75 261.87 L 315.53 261.91 L 318.31 263.38 L 321.10 265.91 L 323.88 265.71 L 326.66 264.14 L 329.45 264.14 L 332.23 264.51 L 335.01 266.05 L 337.80 265.74 L 340.58 265.07 L 343.36 265.10 L 346.15 265.64 L 348.93 265.23 L 351.71 267.09 L 354.50 269.03 L 357.28 270.25 L 360.07 272.28 L 362.85 272.78 L 365.63 274.58 L 368.42 274.93 L 371.20 275.57 L 373.98 276.84 L 376.77 277.85 L 379.55 277.42 L 382.33 277.83 L 385.12 280.04 L 387.90 281.32 L 390.68 280.87 L 393.47 280.92 L 396.25 282.18 L 399.03 283.39 L 401.82 282.89 L 404.60 282.80 L 407.39 284.30 L 410.17 284.19 L 412.95 285.07 L 415.74 286.36 L 418.52 288.74 L 421.30 289.88 L 424.09 289.10 L 426.87 288.85 L 429.65 289.11 L 432.44 289.71 L 435.22 290.49 L 438.00 290.07 L 440.79 288.86 L 443.57 288.21 L 446.35 286.24 L 449.14 286.05 L 451.92 286.51 L 454.71 286.78 L 457.49 287.73 L 460.27 287.74 L 463.06 287.49 L 465.84 288.25 L 468.62 289.17 L 471.41 289.65 L 474.19 288.92 L 476.97 288.84 L 479.76 288.38 L 482.54 287.40 L 485.32 286.64 L 488.11 287.58 L 490.89 287.48 L 493.67 287.69 L 496.46 287.61 L 499.24 287.83 L 502.03 288.05 L 504.81 287.34 L 507.59 286.72 L 510.38 285.08 L 513.16 284.84 L 515.94 285.17 L 518.73 283.57 L 521.51 281.68 L 524.29 281.32 L 527.08 280.27 L 529.86 279.60 L 532.64 278.93 L 535.43 279.50 L 538.21 279.15 L 540.99 278.53 L 543.78 278.24 L 546.56 278.70 L 549.35 279.81 L 552.13 279.87 L 554.91 279.04 L 557.70 279.41 L 560.48 280.36 L 563.26 280.70 " clip-path="url(#p6716cef48e)" style="fill: none; stroke: #0173b2; stroke-opacity: 0.5; stroke-width: 0.62; stroke-linecap: square"/>
   </g>
   <g id="line2d_47">
    <path d="M 48.31 200.80 L 51.09 200.59 L 53.88 200.17 L 56.66 199.74 L 59.44 198.49 L 62.23 199.71 L 65.01 201.57 L 67.79 203.99 L 70.58 207.51 L 73.36 213.27 L 76.15 222.62 L 78.93 233.14 L 81.71 234.58 L 84.50 231.62 L 87.28 227.79 L 90.06 228.28 L 92.85 228.74 L 95.63 226.96 L 98.41 223.73 L 101.20 221.43 L 103.98 220.83 L 106.76 218.05 L 109.55 213.19 L 112.33 212.18 L 115.11 211.94 L 117.90 214.58 L 120.68 219.12 L 123.47 219.24 L 126.25 218.65 L 129.03 218.88 L 131.82 216.92 L 134.60 215.88 L 137.38 217.81 L 140.17 221.02 L 142.95 224.79 L 145.73 231.69 L 148.52 233.94 L 151.30 235.07 L 154.08 236.30 L 156.87 234.24 L 159.65 232.07 L 162.43 233.63 L 165.22 236.26 L 168.00 240.01 L 170.79 244.00 L 173.57 245.96 L 176.35 246.02 L 179.14 246.40 L 181.92 247.36 L 184.70 248.16 L 187.49 246.50 L 190.27 247.90 L 193.05 248.54 L 195.84 247.71 L 198.62 251.99 L 201.40 256.10 L 204.19 255.13 L 206.97 256.85 L 209.75 257.56 L 212.54 255.18 L 215.32 255.59 L 218.11 255.86 L 220.89 252.14 L 223.67 249.32 L 226.46 246.87 L 229.24 245.24 L 232.02 244.96 L 234.81 244.00 L 237.59 243.17 L 240.37 242.59 L 243.16 242.30 L 245.94 242.69 L 248.72 243.01 L 251.51 243.54 L 254.29 243.83 L 257.07 245.83 L 259.86 248.00 L 262.64 248.41 L 265.43 249.06 L 268.21 252.64 L 270.99 256.76 L 273.78 259.73 L 276.56 261.21 L 279.34 262.53 L 282.13 262.75 L 284.91 263.83 L 287.69 266.03 L 290.48 268.74 L 293.26 270.78 L 296.04 270.63 L 298.83 268.65 L 301.61 269.16 L 304.39 268.75 L 307.18 265.67 L 309.96 266.54 L 312.75 267.21 L 315.53 267.19 L 318.31 267.38 L 321.10 267.83 L 323.88 267.81 L 326.66 269.50 L 329.45 269.91 L 332.23 269.33 L 335.01 270.52 L 337.80 271.27 L 340.58 270.57 L 343.36 270.83 L 346.15 271.28 L 348.93 271.37 L 351.71 272.03 L 354.50 273.32 L 357.28 274.44 L 360.07 275.80 L 362.85 276.53 L 365.63 278.98 L 368.42 281.94 L 371.20 284.48 L 373.98 286.06 L 376.77 287.10 L 379.55 287.84 L 382.33 288.41 L 385.12 288.15 L 387.90 288.23 L 390.68 287.79 L 393.47 286.24 L 396.25 286.46 L 399.03 286.64 L 401.82 286.58 L 404.60 286.41 L 407.39 286.87 L 410.17 287.29 L 412.95 286.74 L 415.74 286.11 L 418.52 285.71 L 421.30 286.81 L 424.09 286.19 L 426.87 286.03 L 429.65 287.83 L 432.44 287.98 L 435.22 288.39 L 438.00 288.47 L 440.79 288.43 L 443.57 289.34 L 446.35 289.67 L 449.14 291.11 L 451.92 292.32 L 454.71 291.83 L 457.49 290.79 L 460.27 289.64 L 463.06 289.60 L 465.84 289.81 L 468.62 289.96 L 471.41 290.01 L 474.19 289.54 L 476.97 289.19 L 479.76 288.81 L 482.54 288.80 L 485.32 288.83 L 488.11 288.70 L 490.89 288.85 L 493.67 288.12 L 496.46 286.51 L 499.24 285.13 L 502.03 284.30 L 504.81 285.00 L 507.59 284.20 L 510.38 283.24 L 513.16 283.19 L 515.94 282.98 L 518.73 282.50 L 521.51 281.71 L 524.29 282.21 L 527.08 282.41 L 529.86 282.66 L 532.64 283.08 L 535.43 283.46 L 538.21 284.08 L 540.99 283.65 L 543.78 282.84 L 546.56 281.29 L 549.35 280.29 L 552.13 278.66 L 554.91 276.83 L 557.70 276.03 L 560.48 275.94 L 563.26 276.31 " clip-path="url(#p6716cef48e)" style="fill: none; stroke: #0173b2; stroke-opacity: 0.5; stroke-width: 0.62; stroke-linecap: square"/>
   </g>
   <g id="line2d_48">
    <path d="M 48.31 199.79 L 51.09 195.56 L 53.88 197.11 L 56.66 200.83 L 59.44 201.26 L 62.23 204.33 L 65.01 207.39 L 67.79 211.09 L 70.58 225.70 L 73.36 240.32 L 76.15 264.57 L 78.93 275.67 L 81.71 283.24 L 84.50 283.44 L 87.28 280.63 L 90.06 276.75 L 92.85 269.05 L 95.63 263.92 L 98.41 256.80 L 101.20 248.94 L 103.98 249.41 L 106.76 250.16 L 109.55 248.85 L 112.33 248.70 L 115.11 245.68 L 117.90 246.44 L 120.68 245.46 L 123.47 246.84 L 126.25 244.85 L 129.03 239.68 L 131.82 240.43 L 134.60 237.86 L 137.38 235.27 L 140.17 236.13 L 142.95 237.31 L 145.73 238.29 L 148.52 238.63 L 151.30 238.38 L 154.08 238.54 L 156.87 243.24 L 159.65 244.91 L 162.43 241.34 L 165.22 237.35 L 168.00 236.40 L 170.79 238.67 L 173.57 239.96 L 176.35 240.49 L 179.14 241.65 L 181.92 241.78 L 184.70 238.05 L 187.49 234.52 L 190.27 231.29 L 193.05 229.36 L 195.84 229.65 L 198.62 231.09 L 201.40 231.53 L 204.19 233.65 L 206.97 236.13 L 209.75 235.49 L 212.54 232.72 L 215.32 233.87 L 218.11 237.86 L 220.89 239.45 L 223.67 239.96 L 226.46 241.60 L 229.24 245.91 L 232.02 247.52 L 234.81 247.41 L 237.59 245.48 L 240.37 244.63 L 243.16 244.64 L 245.94 245.38 L 248.72 245.57 L 251.51 244.67 L 254.29 246.02 L 257.07 246.83 L 259.86 246.18 L 262.64 246.14 L 265.43 246.96 L 268.21 247.30 L 270.99 249.29 L 273.78 250.34 L 276.56 248.30 L 279.34 247.79 L 282.13 249.73 L 284.91 253.19 L 287.69 256.75 L 290.48 260.69 L 293.26 264.17 L 296.04 265.25 L 298.83 267.39 L 301.61 268.84 L 304.39 269.83 L 307.18 270.91 L 309.96 271.02 L 312.75 273.30 L 315.53 275.21 L 318.31 272.89 L 321.10 272.82 L 323.88 274.51 L 326.66 274.81 L 329.45 275.00 L 332.23 274.68 L 335.01 273.79 L 337.80 272.34 L 340.58 272.18 L 343.36 272.58 L 346.15 273.28 L 348.93 273.81 L 351.71 274.60 L 354.50 274.48 L 357.28 273.53 L 360.07 272.13 L 362.85 273.92 L 365.63 276.74 L 368.42 277.33 L 371.20 277.90 L 373.98 279.96 L 376.77 282.21 L 379.55 283.17 L 382.33 283.38 L 385.12 283.54 L 387.90 284.44 L 390.68 284.20 L 393.47 282.17 L 396.25 282.32 L 399.03 282.38 L 401.82 283.87 L 404.60 284.66 L 407.39 284.85 L 410.17 283.53 L 412.95 283.72 L 415.74 285.36 L 418.52 286.25 L 421.30 286.99 L 424.09 287.27 L 426.87 287.77 L 429.65 288.06 L 432.44 287.50 L 435.22 287.19 L 438.00 287.49 L 440.79 288.73 L 443.57 289.36 L 446.35 289.51 L 449.14 288.34 L 451.92 286.68 L 454.71 287.17 L 457.49 287.18 L 460.27 285.66 L 463.06 285.36 L 465.84 286.27 L 468.62 285.57 L 471.41 285.30 L 474.19 284.79 L 476.97 285.08 L 479.76 285.55 L 482.54 286.11 L 485.32 285.14 L 488.11 283.66 L 490.89 283.61 L 493.67 283.93 L 496.46 283.66 L 499.24 282.95 L 502.03 283.44 L 504.81 283.87 L 507.59 283.15 L 510.38 281.93 L 513.16 282.20 L 515.94 282.16 L 518.73 280.96 L 521.51 280.32 L 524.29 280.86 L 527.08 280.26 L 529.86 278.96 L 532.64 278.16 L 535.43 278.09 L 538.21 277.50 L 540.99 277.60 L 543.78 276.90 L 546.56 275.61 L 549.35 275.73 L 552.13 276.31 L 554.91 275.51 L 557.70 274.59 L 560.48 274.92 L 563.26 276.19 " clip-path="url(#p6716cef48e)" style="fill: none; stroke: #0173b2; stroke-opacity: 0.5; stroke-width: 0.62; stroke-linecap: square"/>
   </g>
   <g id="line2d_49">
    <path d="M 48.31 199.90 L 51.09 196.29 L 53.88 195.86 L 56.66 198.82 L 59.44 200.61 L 62.23 203.73 L 65.01 207.31 L 67.79 211.08 L 70.58 225.52 L 73.36 239.31 L 76.15 255.74 L 78.93 271.81 L 81.71 281.65 L 84.50 281.23 L 87.28 278.98 L 90.06 272.02 L 92.85 263.38 L 95.63 256.66 L 98.41 252.84 L 101.20 249.55 L 103.98 250.21 L 106.76 253.18 L 109.55 256.52 L 112.33 265.13 L 115.11 273.81 L 117.90 278.49 L 120.68 283.31 L 123.47 281.22 L 126.25 277.84 L 129.03 276.69 L 131.82 271.65 L 134.60 267.21 L 137.38 268.04 L 140.17 263.76 L 142.95 255.91 L 145.73 251.93 L 148.52 248.22 L 151.30 243.06 L 154.08 241.55 L 156.87 241.19 L 159.65 245.59 L 162.43 251.92 L 165.22 252.68 L 168.00 253.71 L 170.79 253.42 L 173.57 253.40 L 176.35 256.04 L 179.14 255.78 L 181.92 254.47 L 184.70 252.21 L 187.49 246.57 L 190.27 239.59 L 193.05 238.70 L 195.84 237.41 L 198.62 237.28 L 201.40 236.56 L 204.19 233.35 L 206.97 229.68 L 209.75 227.60 L 212.54 226.45 L 215.32 228.24 L 218.11 229.24 L 220.89 234.32 L 223.67 240.23 L 226.46 246.36 L 229.24 247.61 L 232.02 246.71 L 234.81 249.61 L 237.59 251.30 L 240.37 252.45 L 243.16 254.94 L 245.94 257.54 L 248.72 260.41 L 251.51 260.90 L 254.29 259.93 L 257.07 262.01 L 259.86 263.51 L 262.64 263.83 L 265.43 262.89 L 268.21 261.80 L 270.99 260.62 L 273.78 261.36 L 276.56 263.12 L 279.34 264.86 L 282.13 266.55 L 284.91 267.88 L 287.69 269.10 L 290.48 269.95 L 293.26 270.15 L 296.04 270.68 L 298.83 273.86 L 301.61 274.52 L 304.39 274.17 L 307.18 275.75 L 309.96 276.08 L 312.75 275.68 L 315.53 274.98 L 318.31 274.41 L 321.10 274.39 L 323.88 274.40 L 326.66 275.00 L 329.45 275.61 L 332.23 276.59 L 335.01 277.80 L 337.80 278.39 L 340.58 279.79 L 343.36 281.04 L 346.15 281.19 L 348.93 281.47 L 351.71 282.47 L 354.50 283.22 L 357.28 283.14 L 360.07 283.46 L 362.85 283.49 L 365.63 285.19 L 368.42 285.41 L 371.20 285.25 L 373.98 286.44 L 376.77 287.07 L 379.55 287.18 L 382.33 285.13 L 385.12 282.68 L 387.90 282.59 L 390.68 282.67 L 393.47 281.79 L 396.25 280.17 L 399.03 280.61 L 401.82 282.39 L 404.60 281.41 L 407.39 280.51 L 410.17 280.55 L 412.95 280.29 L 415.74 280.00 L 418.52 280.18 L 421.30 281.62 L 424.09 284.44 L 426.87 285.90 L 429.65 285.52 L 432.44 285.48 L 435.22 287.35 L 438.00 289.54 L 440.79 290.24 L 443.57 289.60 L 446.35 289.95 L 449.14 290.26 L 451.92 290.30 L 454.71 289.16 L 457.49 287.89 L 460.27 287.13 L 463.06 287.97 L 465.84 287.98 L 468.62 286.95 L 471.41 286.97 L 474.19 287.91 L 476.97 286.52 L 479.76 286.70 L 482.54 286.38 L 485.32 286.22 L 488.11 286.78 L 490.89 287.70 L 493.67 287.39 L 496.46 287.36 L 499.24 287.86 L 502.03 286.50 L 504.81 286.49 L 507.59 286.14 L 510.38 284.97 L 513.16 284.27 L 515.94 283.89 L 518.73 284.19 L 521.51 283.46 L 524.29 281.75 L 527.08 280.98 L 529.86 280.66 L 532.64 280.35 L 535.43 280.06 L 538.21 279.28 L 540.99 278.69 L 543.78 278.69 L 546.56 278.26 L 549.35 277.83 L 552.13 277.51 L 554.91 277.07 L 557.70 276.48 L 560.48 276.09 L 563.26 275.41 " clip-path="url(#p6716cef48e)" style="fill: none; stroke: #0173b2; stroke-opacity: 0.5; stroke-width: 0.62; stroke-linecap: square"/>
   </g>
   <g id="line2d_50">
    <path d="M 48.31 199.83 L 51.09 196.51 L 53.88 194.38 L 56.66 196.69 L 59.44 198.08 L 62.23 200.05 L 65.01 203.05 L 67.79 208.66 L 70.58 215.56 L 73.36 223.15 L 76.15 233.09 L 78.93 246.02 L 81.71 248.50 L 84.50 245.49 L 87.28 244.08 L 90.06 244.50 L 92.85 246.07 L 95.63 241.14 L 98.41 232.38 L 101.20 224.47 L 103.98 219.23 L 106.76 214.78 L 109.55 211.86 L 112.33 213.38 L 115.11 215.73 L 117.90 224.37 L 120.68 235.80 L 123.47 240.54 L 126.25 245.65 L 129.03 253.96 L 131.82 258.58 L 134.60 253.54 L 137.38 245.40 L 140.17 241.41 L 142.95 238.49 L 145.73 235.85 L 148.52 232.70 L 151.30 229.13 L 154.08 225.22 L 156.87 222.58 L 159.65 221.49 L 162.43 219.79 L 165.22 217.80 L 168.00 215.47 L 170.79 215.58 L 173.57 217.31 L 176.35 217.63 L 179.14 218.29 L 181.92 220.22 L 184.70 222.68 L 187.49 226.30 L 190.27 234.23 L 193.05 240.55 L 195.84 242.14 L 198.62 242.70 L 201.40 243.87 L 204.19 243.99 L 206.97 243.44 L 209.75 245.86 L 212.54 248.37 L 215.32 249.74 L 218.11 248.58 L 220.89 250.22 L 223.67 253.33 L 226.46 259.43 L 229.24 264.79 L 232.02 266.56 L 234.81 267.79 L 237.59 269.31 L 240.37 271.56 L 243.16 271.57 L 245.94 274.31 L 248.72 275.01 L 251.51 275.34 L 254.29 276.22 L 257.07 276.62 L 259.86 273.84 L 262.64 268.31 L 265.43 259.68 L 268.21 254.62 L 270.99 251.56 L 273.78 254.77 L 276.56 259.63 L 279.34 261.93 L 282.13 261.72 L 284.91 262.49 L 287.69 263.47 L 290.48 265.16 L 293.26 266.39 L 296.04 267.00 L 298.83 267.15 L 301.61 267.55 L 304.39 268.63 L 307.18 267.86 L 309.96 265.95 L 312.75 265.37 L 315.53 265.01 L 318.31 265.72 L 321.10 268.69 L 323.88 269.98 L 326.66 271.16 L 329.45 273.04 L 332.23 274.67 L 335.01 275.65 L 337.80 276.44 L 340.58 278.35 L 343.36 279.15 L 346.15 279.24 L 348.93 278.96 L 351.71 279.55 L 354.50 279.19 L 357.28 280.10 L 360.07 281.92 L 362.85 282.26 L 365.63 282.61 L 368.42 283.06 L 371.20 283.63 L 373.98 285.06 L 376.77 286.15 L 379.55 286.47 L 382.33 286.73 L 385.12 286.82 L 387.90 287.63 L 390.68 288.06 L 393.47 288.15 L 396.25 288.55 L 399.03 289.18 L 401.82 290.41 L 404.60 293.27 L 407.39 293.82 L 410.17 293.04 L 412.95 291.57 L 415.74 290.76 L 418.52 290.90 L 421.30 291.22 L 424.09 291.64 L 426.87 292.39 L 429.65 292.25 L 432.44 291.99 L 435.22 292.66 L 438.00 293.39 L 440.79 293.28 L 443.57 292.83 L 446.35 292.68 L 449.14 292.66 L 451.92 290.93 L 454.71 290.11 L 457.49 289.36 L 460.27 289.47 L 463.06 289.85 L 465.84 288.46 L 468.62 287.69 L 471.41 287.11 L 474.19 286.51 L 476.97 285.62 L 479.76 284.64 L 482.54 284.54 L 485.32 284.09 L 488.11 283.27 L 490.89 282.97 L 493.67 282.23 L 496.46 281.79 L 499.24 281.43 L 502.03 280.98 L 504.81 281.08 L 507.59 281.44 L 510.38 281.44 L 513.16 281.51 L 515.94 282.07 L 518.73 282.98 L 521.51 282.55 L 524.29 283.85 L 527.08 285.25 L 529.86 284.54 L 532.64 283.32 L 535.43 282.57 L 538.21 282.30 L 540.99 280.61 L 543.78 279.32 L 546.56 277.75 L 549.35 277.68 L 552.13 277.51 L 554.91 276.37 L 557.70 276.29 L 560.48 275.93 L 563.26 275.25 " clip-path="url(#p6716cef48e)" style="fill: none; stroke: #0173b2; stroke-opacity: 0.5; stroke-width: 0.62; stroke-linecap: square"/>
   </g>
   <g id="line2d_51">
    <path d="M 48.31 199.84 L 51.09 196.88 L 53.88 194.27 L 56.66 194.40 L 59.44 195.51 L 62.23 196.53 L 65.01 199.07 L 67.79 203.26 L 70.58 209.72 L 73.36 218.08 L 76.15 229.32 L 78.93 247.43 L 81.71 268.83 L 84.50 281.00 L 87.28 292.13 L 90.06 291.40 L 92.85 284.61 L 95.63 273.57 L 98.41 262.14 L 101.20 255.40 L 103.98 256.30 L 106.76 256.44 L 109.55 254.40 L 112.33 257.44 L 115.11 260.88 L 117.90 262.14 L 120.68 264.41 L 123.47 264.07 L 126.25 263.66 L 129.03 263.96 L 131.82 261.57 L 134.60 262.02 L 137.38 260.69 L 140.17 258.12 L 142.95 253.84 L 145.73 249.98 L 148.52 247.83 L 151.30 247.00 L 154.08 245.55 L 156.87 245.78 L 159.65 247.29 L 162.43 248.61 L 165.22 249.57 L 168.00 253.31 L 170.79 255.48 L 173.57 256.79 L 176.35 255.41 L 179.14 257.16 L 181.92 259.56 L 184.70 260.26 L 187.49 262.25 L 190.27 266.69 L 193.05 271.10 L 195.84 275.31 L 198.62 273.68 L 201.40 268.86 L 204.19 267.16 L 206.97 272.74 L 209.75 273.58 L 212.54 265.95 L 215.32 261.74 L 218.11 263.69 L 220.89 265.14 L 223.67 262.62 L 226.46 262.66 L 229.24 263.90 L 232.02 266.12 L 234.81 267.23 L 237.59 265.66 L 240.37 265.67 L 243.16 263.64 L 245.94 259.14 L 248.72 259.61 L 251.51 261.11 L 254.29 260.98 L 257.07 260.24 L 259.86 259.56 L 262.64 259.20 L 265.43 259.38 L 268.21 258.42 L 270.99 256.74 L 273.78 254.54 L 276.56 253.22 L 279.34 253.76 L 282.13 254.93 L 284.91 256.19 L 287.69 258.38 L 290.48 260.52 L 293.26 262.44 L 296.04 264.89 L 298.83 266.38 L 301.61 266.77 L 304.39 268.36 L 307.18 269.00 L 309.96 267.18 L 312.75 266.84 L 315.53 267.42 L 318.31 268.31 L 321.10 268.37 L 323.88 268.97 L 326.66 269.96 L 329.45 269.98 L 332.23 269.94 L 335.01 270.78 L 337.80 272.01 L 340.58 273.12 L 343.36 273.02 L 346.15 271.68 L 348.93 273.60 L 351.71 274.16 L 354.50 273.16 L 357.28 273.11 L 360.07 274.65 L 362.85 275.49 L 365.63 277.86 L 368.42 280.14 L 371.20 280.72 L 373.98 280.64 L 376.77 280.73 L 379.55 280.26 L 382.33 280.71 L 385.12 281.70 L 387.90 282.04 L 390.68 282.43 L 393.47 283.42 L 396.25 283.70 L 399.03 283.71 L 401.82 285.42 L 404.60 286.63 L 407.39 286.33 L 410.17 284.60 L 412.95 284.40 L 415.74 285.67 L 418.52 286.48 L 421.30 288.05 L 424.09 288.73 L 426.87 289.56 L 429.65 290.51 L 432.44 291.48 L 435.22 291.78 L 438.00 292.64 L 440.79 294.11 L 443.57 293.35 L 446.35 291.87 L 449.14 292.39 L 451.92 292.56 L 454.71 292.52 L 457.49 292.47 L 460.27 292.30 L 463.06 290.77 L 465.84 289.96 L 468.62 289.76 L 471.41 288.96 L 474.19 289.18 L 476.97 289.14 L 479.76 288.35 L 482.54 288.31 L 485.32 288.46 L 488.11 287.11 L 490.89 286.23 L 493.67 286.89 L 496.46 286.65 L 499.24 287.12 L 502.03 288.09 L 504.81 288.73 L 507.59 288.71 L 510.38 287.56 L 513.16 286.59 L 515.94 285.55 L 518.73 284.49 L 521.51 284.04 L 524.29 285.24 L 527.08 284.05 L 529.86 282.53 L 532.64 281.44 L 535.43 280.83 L 538.21 280.12 L 540.99 280.17 L 543.78 280.76 L 546.56 280.53 L 549.35 280.02 L 552.13 279.12 L 554.91 279.21 L 557.70 279.73 L 560.48 278.27 L 563.26 276.69 " clip-path="url(#p6716cef48e)" style="fill: none; stroke: #0173b2; stroke-opacity: 0.5; stroke-width: 0.62; stroke-linecap: square"/>
   </g>
   <g id="line2d_52">
    <path d="M 48.31 200.25 L 51.09 198.02 L 53.88 195.88 L 56.66 196.64 L 59.44 198.86 L 62.23 200.31 L 65.01 202.33 L 67.79 204.72 L 70.58 209.81 L 73.36 216.76 L 76.15 226.66 L 78.93 239.97 L 81.71 249.48 L 84.50 250.78 L 87.28 242.38 L 90.06 233.68 L 92.85 227.62 L 95.63 222.80 L 98.41 219.56 L 101.20 219.73 L 103.98 219.78 L 106.76 222.74 L 109.55 223.56 L 112.33 220.43 L 115.11 219.96 L 117.90 218.68 L 120.68 219.93 L 123.47 224.16 L 126.25 227.45 L 129.03 231.47 L 131.82 234.93 L 134.60 235.98 L 137.38 240.98 L 140.17 249.94 L 142.95 257.24 L 145.73 261.70 L 148.52 261.54 L 151.30 263.95 L 154.08 262.04 L 156.87 257.34 L 159.65 252.22 L 162.43 245.59 L 165.22 242.39 L 168.00 241.46 L 170.79 238.74 L 173.57 237.77 L 176.35 240.30 L 179.14 244.77 L 181.92 246.77 L 184.70 247.02 L 187.49 244.87 L 190.27 241.09 L 193.05 237.98 L 195.84 233.35 L 198.62 228.95 L 201.40 228.85 L 204.19 233.25 L 206.97 235.68 L 209.75 236.66 L 212.54 238.19 L 215.32 238.60 L 218.11 238.43 L 220.89 239.03 L 223.67 241.77 L 226.46 243.44 L 229.24 244.74 L 232.02 246.63 L 234.81 247.61 L 237.59 249.03 L 240.37 249.37 L 243.16 249.78 L 245.94 251.03 L 248.72 252.71 L 251.51 254.48 L 254.29 259.07 L 257.07 265.81 L 259.86 270.00 L 262.64 272.94 L 265.43 275.48 L 268.21 275.09 L 270.99 274.15 L 273.78 273.12 L 276.56 273.48 L 279.34 275.05 L 282.13 275.04 L 284.91 272.16 L 287.69 271.36 L 290.48 271.71 L 293.26 270.50 L 296.04 268.84 L 298.83 266.69 L 301.61 263.86 L 304.39 262.58 L 307.18 262.33 L 309.96 261.87 L 312.75 260.97 L 315.53 261.56 L 318.31 261.72 L 321.10 262.02 L 323.88 263.18 L 326.66 262.82 L 329.45 263.70 L 332.23 265.47 L 335.01 266.10 L 337.80 267.21 L 340.58 268.47 L 343.36 268.76 L 346.15 271.40 L 348.93 271.97 L 351.71 271.19 L 354.50 272.38 L 357.28 273.64 L 360.07 274.34 L 362.85 275.08 L 365.63 275.66 L 368.42 277.24 L 371.20 277.18 L 373.98 278.19 L 376.77 279.64 L 379.55 280.36 L 382.33 281.71 L 385.12 282.52 L 387.90 283.35 L 390.68 283.70 L 393.47 284.51 L 396.25 283.92 L 399.03 283.43 L 401.82 282.88 L 404.60 282.88 L 407.39 282.22 L 410.17 282.48 L 412.95 283.62 L 415.74 284.94 L 418.52 285.95 L 421.30 286.63 L 424.09 287.91 L 426.87 289.72 L 429.65 290.38 L 432.44 290.14 L 435.22 290.59 L 438.00 291.33 L 440.79 292.01 L 443.57 291.85 L 446.35 291.48 L 449.14 290.83 L 451.92 291.43 L 454.71 292.38 L 457.49 292.35 L 460.27 291.37 L 463.06 291.23 L 465.84 291.07 L 468.62 290.88 L 471.41 291.32 L 474.19 291.39 L 476.97 290.99 L 479.76 289.62 L 482.54 288.83 L 485.32 289.03 L 488.11 288.47 L 490.89 288.14 L 493.67 287.88 L 496.46 287.43 L 499.24 286.54 L 502.03 285.21 L 504.81 284.77 L 507.59 284.36 L 510.38 284.05 L 513.16 282.69 L 515.94 280.77 L 518.73 280.93 L 521.51 280.63 L 524.29 280.22 L 527.08 280.80 L 529.86 280.15 L 532.64 280.08 L 535.43 279.74 L 538.21 279.46 L 540.99 279.51 L 543.78 279.94 L 546.56 280.40 L 549.35 279.32 L 552.13 277.65 L 554.91 277.53 L 557.70 277.19 L 560.48 276.01 L 563.26 275.25 " clip-path="url(#p6716cef48e)" style="fill: none; stroke: #0173b2; stroke-opacity: 0.5; stroke-width: 0.62; stroke-linecap: square"/>
   </g>
   <g id="line2d_53">
    <path d="M 48.31 199.97 L 51.09 197.43 L 53.88 195.73 L 56.66 196.57 L 59.44 198.94 L 62.23 200.79 L 65.01 203.03 L 67.79 207.01 L 70.58 214.03 L 73.36 223.76 L 76.15 237.08 L 78.93 253.74 L 81.71 268.16 L 84.50 268.10 L 87.28 258.94 L 90.06 250.31 L 92.85 251.00 L 95.63 250.89 L 98.41 249.59 L 101.20 252.06 L 103.98 256.10 L 106.76 260.81 L 109.55 262.65 L 112.33 262.75 L 115.11 262.40 L 117.90 266.47 L 120.68 271.69 L 123.47 275.22 L 126.25 274.56 L 129.03 271.56 L 131.82 270.25 L 134.60 267.23 L 137.38 259.19 L 140.17 253.06 L 142.95 252.78 L 145.73 251.26 L 148.52 248.43 L 151.30 247.29 L 154.08 245.31 L 156.87 243.50 L 159.65 241.25 L 162.43 238.94 L 165.22 237.69 L 168.00 237.39 L 170.79 238.87 L 173.57 239.65 L 176.35 240.21 L 179.14 241.00 L 181.92 244.21 L 184.70 247.06 L 187.49 249.95 L 190.27 256.04 L 193.05 262.34 L 195.84 262.11 L 198.62 262.78 L 201.40 263.25 L 204.19 262.60 L 206.97 263.66 L 209.75 263.67 L 212.54 261.28 L 215.32 258.50 L 218.11 256.30 L 220.89 253.89 L 223.67 249.67 L 226.46 247.33 L 229.24 247.46 L 232.02 245.96 L 234.81 245.41 L 237.59 244.97 L 240.37 244.95 L 243.16 244.37 L 245.94 243.87 L 248.72 243.80 L 251.51 244.87 L 254.29 243.77 L 257.07 242.46 L 259.86 242.69 L 262.64 244.95 L 265.43 247.89 L 268.21 250.56 L 270.99 251.52 L 273.78 253.75 L 276.56 256.31 L 279.34 258.21 L 282.13 259.48 L 284.91 262.05 L 287.69 263.94 L 290.48 265.58 L 293.26 265.02 L 296.04 266.45 L 298.83 268.79 L 301.61 269.88 L 304.39 271.71 L 307.18 274.51 L 309.96 273.89 L 312.75 274.51 L 315.53 275.20 L 318.31 275.15 L 321.10 275.58 L 323.88 275.73 L 326.66 276.24 L 329.45 278.06 L 332.23 278.62 L 335.01 278.46 L 337.80 278.63 L 340.58 278.89 L 343.36 278.18 L 346.15 279.25 L 348.93 279.87 L 351.71 280.94 L 354.50 282.57 L 357.28 284.75 L 360.07 285.72 L 362.85 287.61 L 365.63 288.16 L 368.42 288.49 L 371.20 288.79 L 373.98 287.63 L 376.77 286.50 L 379.55 287.63 L 382.33 287.94 L 385.12 286.75 L 387.90 286.15 L 390.68 285.89 L 393.47 286.58 L 396.25 286.95 L 399.03 287.09 L 401.82 287.68 L 404.60 287.60 L 407.39 287.15 L 410.17 287.37 L 412.95 287.76 L 415.74 288.39 L 418.52 288.53 L 421.30 287.78 L 424.09 287.72 L 426.87 286.62 L 429.65 285.81 L 432.44 285.01 L 435.22 285.05 L 438.00 285.04 L 440.79 285.61 L 443.57 285.62 L 446.35 285.23 L 449.14 284.84 L 451.92 285.09 L 454.71 285.06 L 457.49 285.58 L 460.27 286.65 L 463.06 286.58 L 465.84 286.46 L 468.62 285.65 L 471.41 284.86 L 474.19 284.19 L 476.97 284.08 L 479.76 284.57 L 482.54 285.37 L 485.32 284.92 L 488.11 285.44 L 490.89 286.10 L 493.67 286.29 L 496.46 285.68 L 499.24 284.38 L 502.03 284.35 L 504.81 283.81 L 507.59 283.01 L 510.38 283.02 L 513.16 282.29 L 515.94 281.81 L 518.73 281.96 L 521.51 281.92 L 524.29 280.47 L 527.08 279.69 L 529.86 277.62 L 532.64 278.09 L 535.43 278.15 L 538.21 277.83 L 540.99 277.47 L 543.78 276.77 L 546.56 276.39 L 549.35 276.17 L 552.13 275.66 L 554.91 275.66 L 557.70 276.28 L 560.48 275.77 L 563.26 276.21 " clip-path="url(#p6716cef48e)" style="fill: none; stroke: #0173b2; stroke-opacity: 0.5; stroke-width: 0.62; stroke-linecap: square"/>
   </g>
   <g id="line2d_54">
    <path d="M 48.31 199.80 L 51.09 196.82 L 53.88 193.78 L 56.66 192.65 L 59.44 193.39 L 62.23 194.96 L 65.01 197.05 L 67.79 199.93 L 70.58 204.35 L 73.36 212.09 L 76.15 223.65 L 78.93 241.53 L 81.71 264.93 L 84.50 286.45 L 87.28 302.83 L 90.06 304.45 L 92.85 292.36 L 95.63 291.61 L 98.41 292.34 L 101.20 289.44 L 103.98 285.32 L 106.76 269.32 L 109.55 250.36 L 112.33 237.73 L 115.11 228.97 L 117.90 227.57 L 120.68 228.41 L 123.47 229.58 L 126.25 229.15 L 129.03 233.03 L 131.82 238.80 L 134.60 240.25 L 137.38 243.39 L 140.17 248.54 L 142.95 249.63 L 145.73 249.47 L 148.52 250.61 L 151.30 250.04 L 154.08 248.62 L 156.87 251.85 L 159.65 258.13 L 162.43 264.70 L 165.22 271.80 L 168.00 279.69 L 170.79 286.73 L 173.57 292.90 L 176.35 293.94 L 179.14 293.83 L 181.92 293.45 L 184.70 292.67 L 187.49 293.17 L 190.27 293.34 L 193.05 293.84 L 195.84 294.04 L 198.62 289.86 L 201.40 282.61 L 204.19 277.64 L 206.97 273.72 L 209.75 272.79 L 212.54 270.74 L 215.32 262.66 L 218.11 256.71 L 220.89 253.07 L 223.67 251.15 L 226.46 251.30 L 229.24 251.23 L 232.02 250.46 L 234.81 250.16 L 237.59 248.47 L 240.37 247.51 L 243.16 247.75 L 245.94 246.06 L 248.72 244.12 L 251.51 244.06 L 254.29 246.95 L 257.07 253.14 L 259.86 258.75 L 262.64 258.84 L 265.43 258.57 L 268.21 260.08 L 270.99 260.00 L 273.78 258.68 L 276.56 258.71 L 279.34 259.95 L 282.13 261.78 L 284.91 263.82 L 287.69 263.84 L 290.48 264.75 L 293.26 267.48 L 296.04 268.89 L 298.83 271.11 L 301.61 272.61 L 304.39 273.50 L 307.18 271.75 L 309.96 271.59 L 312.75 273.07 L 315.53 276.65 L 318.31 278.96 L 321.10 280.32 L 323.88 280.06 L 326.66 280.54 L 329.45 278.86 L 332.23 277.25 L 335.01 276.03 L 337.80 275.85 L 340.58 276.27 L 343.36 276.09 L 346.15 275.23 L 348.93 274.86 L 351.71 273.86 L 354.50 272.70 L 357.28 272.75 L 360.07 273.50 L 362.85 273.20 L 365.63 273.26 L 368.42 275.32 L 371.20 277.26 L 373.98 278.66 L 376.77 280.81 L 379.55 281.74 L 382.33 282.23 L 385.12 282.80 L 387.90 282.30 L 390.68 282.32 L 393.47 282.81 L 396.25 284.48 L 399.03 283.94 L 401.82 283.87 L 404.60 285.05 L 407.39 284.21 L 410.17 282.31 L 412.95 282.54 L 415.74 282.46 L 418.52 284.19 L 421.30 284.87 L 424.09 285.72 L 426.87 286.39 L 429.65 286.33 L 432.44 286.61 L 435.22 287.61 L 438.00 287.86 L 440.79 287.48 L 443.57 287.76 L 446.35 287.34 L 449.14 288.21 L 451.92 288.61 L 454.71 288.48 L 457.49 289.37 L 460.27 289.03 L 463.06 289.13 L 465.84 290.61 L 468.62 290.10 L 471.41 288.88 L 474.19 287.70 L 476.97 287.31 L 479.76 286.28 L 482.54 285.67 L 485.32 285.81 L 488.11 286.73 L 490.89 286.59 L 493.67 287.04 L 496.46 287.77 L 499.24 287.64 L 502.03 287.87 L 504.81 287.20 L 507.59 286.58 L 510.38 286.87 L 513.16 285.95 L 515.94 286.02 L 518.73 285.67 L 521.51 284.76 L 524.29 283.78 L 527.08 282.98 L 529.86 282.83 L 532.64 282.65 L 535.43 282.28 L 538.21 280.72 L 540.99 278.19 L 543.78 277.76 L 546.56 277.66 L 549.35 276.73 L 552.13 276.66 L 554.91 276.92 L 557.70 276.83 L 560.48 275.64 L 563.26 274.84 " clip-path="url(#p6716cef48e)" style="fill: none; stroke: #0173b2; stroke-opacity: 0.5; stroke-width: 0.62; stroke-linecap: square"/>
   </g>
   <g id="line2d_55">
    <path d="M 48.31 199.87 L 51.09 197.48 L 53.88 195.50 L 56.66 196.59 L 59.44 198.08 L 62.23 199.57 L 65.01 201.18 L 67.79 203.04 L 70.58 204.89 L 73.36 205.62 L 76.15 205.06 L 78.93 209.72 L 81.71 215.46 L 84.50 221.89 L 87.28 229.68 L 90.06 238.46 L 92.85 242.00 L 95.63 236.30 L 98.41 230.40 L 101.20 224.27 L 103.98 219.11 L 106.76 212.84 L 109.55 210.49 L 112.33 210.96 L 115.11 210.35 L 117.90 211.52 L 120.68 215.77 L 123.47 220.00 L 126.25 228.05 L 129.03 231.64 L 131.82 227.85 L 134.60 222.60 L 137.38 222.55 L 140.17 224.33 L 142.95 224.91 L 145.73 225.32 L 148.52 226.06 L 151.30 224.14 L 154.08 223.44 L 156.87 222.52 L 159.65 219.75 L 162.43 219.85 L 165.22 220.41 L 168.00 219.15 L 170.79 217.63 L 173.57 218.12 L 176.35 219.63 L 179.14 221.82 L 181.92 224.48 L 184.70 226.93 L 187.49 230.93 L 190.27 229.23 L 193.05 227.80 L 195.84 228.20 L 198.62 228.51 L 201.40 233.01 L 204.19 240.28 L 206.97 247.09 L 209.75 254.72 L 212.54 259.41 L 215.32 265.13 L 218.11 270.79 L 220.89 270.64 L 223.67 267.77 L 226.46 266.11 L 229.24 265.89 L 232.02 266.05 L 234.81 268.38 L 237.59 273.50 L 240.37 276.93 L 243.16 278.71 L 245.94 279.44 L 248.72 279.10 L 251.51 280.33 L 254.29 281.20 L 257.07 282.23 L 259.86 282.05 L 262.64 280.88 L 265.43 279.04 L 268.21 275.52 L 270.99 274.16 L 273.78 273.79 L 276.56 274.22 L 279.34 273.97 L 282.13 276.32 L 284.91 277.33 L 287.69 277.11 L 290.48 277.50 L 293.26 278.79 L 296.04 278.71 L 298.83 278.59 L 301.61 276.85 L 304.39 274.20 L 307.18 272.18 L 309.96 273.04 L 312.75 273.62 L 315.53 272.71 L 318.31 269.86 L 321.10 269.05 L 323.88 268.88 L 326.66 268.72 L 329.45 269.11 L 332.23 269.89 L 335.01 270.44 L 337.80 271.02 L 340.58 271.54 L 343.36 272.22 L 346.15 273.95 L 348.93 274.07 L 351.71 273.48 L 354.50 273.49 L 357.28 274.91 L 360.07 275.91 L 362.85 277.70 L 365.63 279.29 L 368.42 280.38 L 371.20 280.07 L 373.98 280.20 L 376.77 279.09 L 379.55 277.37 L 382.33 277.14 L 385.12 277.18 L 387.90 277.19 L 390.68 276.91 L 393.47 277.12 L 396.25 277.48 L 399.03 278.31 L 401.82 279.29 L 404.60 280.42 L 407.39 281.96 L 410.17 284.26 L 412.95 285.40 L 415.74 287.20 L 418.52 288.13 L 421.30 288.45 L 424.09 287.93 L 426.87 288.97 L 429.65 288.06 L 432.44 287.95 L 435.22 288.09 L 438.00 288.44 L 440.79 288.11 L 443.57 287.93 L 446.35 289.17 L 449.14 289.68 L 451.92 288.83 L 454.71 288.16 L 457.49 287.82 L 460.27 288.27 L 463.06 289.04 L 465.84 288.97 L 468.62 288.53 L 471.41 288.72 L 474.19 288.41 L 476.97 287.61 L 479.76 286.66 L 482.54 286.38 L 485.32 286.68 L 488.11 287.14 L 490.89 287.15 L 493.67 286.88 L 496.46 287.71 L 499.24 286.39 L 502.03 285.78 L 504.81 285.18 L 507.59 284.55 L 510.38 284.82 L 513.16 284.12 L 515.94 282.87 L 518.73 282.12 L 521.51 281.38 L 524.29 281.62 L 527.08 280.53 L 529.86 279.24 L 532.64 278.74 L 535.43 277.62 L 538.21 277.95 L 540.99 278.24 L 543.78 278.10 L 546.56 277.65 L 549.35 277.15 L 552.13 276.31 L 554.91 275.05 L 557.70 274.71 L 560.48 273.77 L 563.26 273.73 " clip-path="url(#p6716cef48e)" style="fill: none; stroke: #0173b2; stroke-opacity: 0.5; stroke-width: 0.62; stroke-linecap: square"/>
   </g>
   <g id="line2d_56">
    <path d="M 48.31 200.12 L 51.09 197.58 L 53.88 196.01 L 56.66 198.43 L 59.44 200.02 L 62.23 202.18 L 65.01 205.32 L 67.79 210.32 L 70.58 218.01 L 73.36 227.56 L 76.15 238.95 L 78.93 257.03 L 81.71 266.67 L 84.50 270.64 L 87.28 274.64 L 90.06 273.47 L 92.85 271.07 L 95.63 262.39 L 98.41 256.70 L 101.20 256.61 L 103.98 252.11 L 106.76 247.04 L 109.55 242.80 L 112.33 243.53 L 115.11 246.47 L 117.90 250.47 L 120.68 253.75 L 123.47 252.83 L 126.25 249.65 L 129.03 241.55 L 131.82 231.88 L 134.60 220.59 L 137.38 215.42 L 140.17 212.78 L 142.95 210.38 L 145.73 210.26 L 148.52 210.77 L 151.30 211.43 L 154.08 212.25 L 156.87 212.91 L 159.65 213.56 L 162.43 215.48 L 165.22 217.75 L 168.00 218.79 L 170.79 220.29 L 173.57 223.84 L 176.35 228.20 L 179.14 232.02 L 181.92 233.67 L 184.70 233.80 L 187.49 230.33 L 190.27 225.06 L 193.05 222.38 L 195.84 222.10 L 198.62 220.92 L 201.40 220.31 L 204.19 220.99 L 206.97 222.92 L 209.75 226.20 L 212.54 229.83 L 215.32 232.67 L 218.11 235.26 L 220.89 240.47 L 223.67 244.25 L 226.46 245.55 L 229.24 246.11 L 232.02 247.27 L 234.81 249.66 L 237.59 251.69 L 240.37 253.09 L 243.16 255.57 L 245.94 259.18 L 248.72 263.61 L 251.51 264.61 L 254.29 267.61 L 257.07 270.02 L 259.86 271.62 L 262.64 270.67 L 265.43 267.69 L 268.21 264.88 L 270.99 262.84 L 273.78 261.03 L 276.56 259.42 L 279.34 258.26 L 282.13 258.93 L 284.91 259.76 L 287.69 260.04 L 290.48 260.78 L 293.26 263.64 L 296.04 265.68 L 298.83 267.35 L 301.61 266.59 L 304.39 265.95 L 307.18 265.77 L 309.96 266.22 L 312.75 267.52 L 315.53 267.10 L 318.31 265.81 L 321.10 265.65 L 323.88 267.88 L 326.66 269.96 L 329.45 272.06 L 332.23 273.60 L 335.01 273.91 L 337.80 274.56 L 340.58 276.21 L 343.36 276.75 L 346.15 276.56 L 348.93 279.01 L 351.71 279.88 L 354.50 280.79 L 357.28 282.09 L 360.07 281.32 L 362.85 279.12 L 365.63 278.27 L 368.42 278.04 L 371.20 278.24 L 373.98 278.28 L 376.77 278.70 L 379.55 280.58 L 382.33 282.04 L 385.12 281.96 L 387.90 282.08 L 390.68 282.19 L 393.47 282.38 L 396.25 283.00 L 399.03 284.22 L 401.82 285.15 L 404.60 285.90 L 407.39 287.18 L 410.17 287.95 L 412.95 287.15 L 415.74 285.78 L 418.52 285.10 L 421.30 285.32 L 424.09 284.35 L 426.87 284.58 L 429.65 285.80 L 432.44 286.07 L 435.22 286.65 L 438.00 287.75 L 440.79 288.22 L 443.57 288.67 L 446.35 288.12 L 449.14 287.11 L 451.92 287.89 L 454.71 288.04 L 457.49 286.91 L 460.27 287.33 L 463.06 288.44 L 465.84 289.78 L 468.62 289.75 L 471.41 289.92 L 474.19 289.88 L 476.97 289.11 L 479.76 288.15 L 482.54 287.42 L 485.32 287.27 L 488.11 287.13 L 490.89 286.33 L 493.67 286.52 L 496.46 286.80 L 499.24 285.79 L 502.03 285.31 L 504.81 285.48 L 507.59 284.13 L 510.38 284.70 L 513.16 283.73 L 515.94 282.91 L 518.73 282.00 L 521.51 280.85 L 524.29 280.27 L 527.08 279.94 L 529.86 280.26 L 532.64 280.38 L 535.43 279.79 L 538.21 278.95 L 540.99 278.78 L 543.78 279.30 L 546.56 279.21 L 549.35 278.21 L 552.13 278.30 L 554.91 277.31 L 557.70 276.03 L 560.48 275.69 L 563.26 274.84 " clip-path="url(#p6716cef48e)" style="fill: none; stroke: #0173b2; stroke-opacity: 0.5; stroke-width: 0.62; stroke-linecap: square"/>
   </g>
   <g id="line2d_57">
    <path d="M 48.31 199.89 L 51.09 196.63 L 53.88 195.14 L 56.66 198.27 L 59.44 199.69 L 62.23 201.39 L 65.01 204.06 L 67.79 208.40 L 70.58 214.58 L 73.36 222.46 L 76.15 234.03 L 78.93 251.50 L 81.71 256.10 L 84.50 246.35 L 87.28 239.41 L 90.06 243.23 L 92.85 252.85 L 95.63 260.73 L 98.41 263.91 L 101.20 266.05 L 103.98 264.99 L 106.76 260.91 L 109.55 262.28 L 112.33 263.70 L 115.11 260.61 L 117.90 258.68 L 120.68 259.28 L 123.47 254.26 L 126.25 244.38 L 129.03 233.97 L 131.82 226.61 L 134.60 220.39 L 137.38 219.26 L 140.17 222.23 L 142.95 223.79 L 145.73 225.28 L 148.52 225.89 L 151.30 226.47 L 154.08 227.13 L 156.87 229.54 L 159.65 230.86 L 162.43 231.34 L 165.22 232.74 L 168.00 233.46 L 170.79 234.41 L 173.57 237.30 L 176.35 238.80 L 179.14 239.88 L 181.92 245.24 L 184.70 253.96 L 187.49 256.90 L 190.27 254.84 L 193.05 252.73 L 195.84 255.49 L 198.62 264.35 L 201.40 272.87 L 204.19 279.66 L 206.97 283.96 L 209.75 286.86 L 212.54 282.80 L 215.32 277.22 L 218.11 273.17 L 220.89 272.82 L 223.67 270.64 L 226.46 269.76 L 229.24 268.60 L 232.02 267.84 L 234.81 265.03 L 237.59 260.00 L 240.37 257.81 L 243.16 255.83 L 245.94 255.90 L 248.72 256.28 L 251.51 253.30 L 254.29 249.22 L 257.07 246.86 L 259.86 245.81 L 262.64 243.62 L 265.43 243.21 L 268.21 244.55 L 270.99 245.84 L 273.78 247.61 L 276.56 249.73 L 279.34 251.43 L 282.13 253.88 L 284.91 254.44 L 287.69 256.12 L 290.48 260.33 L 293.26 263.44 L 296.04 265.14 L 298.83 267.27 L 301.61 271.28 L 304.39 276.71 L 307.18 280.47 L 309.96 281.82 L 312.75 283.33 L 315.53 283.33 L 318.31 281.29 L 321.10 279.66 L 323.88 278.24 L 326.66 276.17 L 329.45 274.27 L 332.23 274.16 L 335.01 275.94 L 337.80 275.95 L 340.58 275.93 L 343.36 276.60 L 346.15 277.02 L 348.93 277.06 L 351.71 276.36 L 354.50 274.74 L 357.28 274.38 L 360.07 273.99 L 362.85 273.95 L 365.63 274.06 L 368.42 273.83 L 371.20 274.74 L 373.98 276.38 L 376.77 277.43 L 379.55 278.66 L 382.33 279.31 L 385.12 280.15 L 387.90 280.71 L 390.68 281.39 L 393.47 282.43 L 396.25 281.31 L 399.03 280.29 L 401.82 280.51 L 404.60 280.98 L 407.39 283.04 L 410.17 285.44 L 412.95 285.72 L 415.74 284.75 L 418.52 285.08 L 421.30 286.16 L 424.09 286.31 L 426.87 286.06 L 429.65 287.34 L 432.44 287.83 L 435.22 287.90 L 438.00 287.34 L 440.79 287.21 L 443.57 288.32 L 446.35 288.81 L 449.14 289.34 L 451.92 288.46 L 454.71 289.27 L 457.49 289.82 L 460.27 290.56 L 463.06 290.98 L 465.84 290.04 L 468.62 288.48 L 471.41 287.76 L 474.19 287.18 L 476.97 286.31 L 479.76 285.02 L 482.54 283.98 L 485.32 284.29 L 488.11 284.78 L 490.89 285.99 L 493.67 286.87 L 496.46 287.20 L 499.24 287.90 L 502.03 289.10 L 504.81 289.68 L 507.59 289.50 L 510.38 289.12 L 513.16 287.62 L 515.94 286.90 L 518.73 287.52 L 521.51 287.47 L 524.29 288.37 L 527.08 288.47 L 529.86 286.60 L 532.64 285.29 L 535.43 283.63 L 538.21 281.92 L 540.99 280.94 L 543.78 280.78 L 546.56 279.77 L 549.35 278.49 L 552.13 277.07 L 554.91 277.03 L 557.70 276.66 L 560.48 276.12 L 563.26 275.89 " clip-path="url(#p6716cef48e)" style="fill: none; stroke: #0173b2; stroke-opacity: 0.5; stroke-width: 0.62; stroke-linecap: square"/>
   </g>
   <g id="line2d_58">
    <path d="M 48.31 200.10 L 51.09 196.65 L 53.88 198.27 L 56.66 200.89 L 59.44 201.25 L 62.23 204.33 L 65.01 207.39 L 67.79 211.09 L 70.58 235.45 L 73.36 252.51 L 76.15 263.49 L 78.93 295.95 L 81.71 317.54 L 84.50 322.35 L 87.28 316.07 L 90.06 298.19 L 92.85 286.03 L 95.63 278.04 L 98.41 271.49 L 101.20 258.09 L 103.98 233.85 L 106.76 221.20 L 109.55 216.47 L 112.33 214.50 L 115.11 211.24 L 117.90 210.81 L 120.68 213.26 L 123.47 217.55 L 126.25 223.29 L 129.03 226.80 L 131.82 232.00 L 134.60 239.81 L 137.38 242.39 L 140.17 245.39 L 142.95 244.08 L 145.73 241.80 L 148.52 239.88 L 151.30 240.82 L 154.08 244.58 L 156.87 247.32 L 159.65 250.88 L 162.43 252.17 L 165.22 251.52 L 168.00 249.60 L 170.79 242.57 L 173.57 238.64 L 176.35 236.62 L 179.14 235.29 L 181.92 233.89 L 184.70 235.17 L 187.49 238.37 L 190.27 240.87 L 193.05 241.17 L 195.84 242.27 L 198.62 242.67 L 201.40 244.52 L 204.19 245.43 L 206.97 244.64 L 209.75 244.58 L 212.54 246.49 L 215.32 249.65 L 218.11 253.01 L 220.89 256.04 L 223.67 260.10 L 226.46 264.00 L 229.24 267.87 L 232.02 268.33 L 234.81 266.09 L 237.59 265.72 L 240.37 264.82 L 243.16 265.71 L 245.94 271.35 L 248.72 274.33 L 251.51 273.31 L 254.29 273.27 L 257.07 272.85 L 259.86 269.77 L 262.64 264.90 L 265.43 261.25 L 268.21 258.44 L 270.99 255.06 L 273.78 250.28 L 276.56 250.04 L 279.34 252.05 L 282.13 254.67 L 284.91 256.97 L 287.69 258.25 L 290.48 260.65 L 293.26 263.65 L 296.04 265.43 L 298.83 266.45 L 301.61 267.31 L 304.39 267.10 L 307.18 268.65 L 309.96 271.23 L 312.75 273.59 L 315.53 274.79 L 318.31 275.31 L 321.10 273.94 L 323.88 272.64 L 326.66 271.21 L 329.45 269.98 L 332.23 269.82 L 335.01 269.73 L 337.80 270.16 L 340.58 271.75 L 343.36 272.46 L 346.15 272.30 L 348.93 273.37 L 351.71 275.89 L 354.50 277.16 L 357.28 276.71 L 360.07 277.25 L 362.85 277.88 L 365.63 278.92 L 368.42 280.06 L 371.20 280.16 L 373.98 279.49 L 376.77 279.46 L 379.55 278.70 L 382.33 277.52 L 385.12 276.89 L 387.90 278.04 L 390.68 277.90 L 393.47 277.84 L 396.25 277.18 L 399.03 276.84 L 401.82 278.41 L 404.60 279.11 L 407.39 279.70 L 410.17 281.28 L 412.95 282.77 L 415.74 281.87 L 418.52 282.05 L 421.30 283.07 L 424.09 283.28 L 426.87 282.96 L 429.65 283.33 L 432.44 283.54 L 435.22 284.23 L 438.00 284.72 L 440.79 284.92 L 443.57 284.30 L 446.35 283.01 L 449.14 283.08 L 451.92 283.96 L 454.71 284.19 L 457.49 284.23 L 460.27 283.97 L 463.06 285.01 L 465.84 285.04 L 468.62 284.39 L 471.41 284.61 L 474.19 284.68 L 476.97 285.38 L 479.76 286.08 L 482.54 286.14 L 485.32 286.61 L 488.11 286.58 L 490.89 286.41 L 493.67 286.22 L 496.46 286.30 L 499.24 285.07 L 502.03 284.18 L 504.81 283.48 L 507.59 283.57 L 510.38 283.91 L 513.16 283.88 L 515.94 282.13 L 518.73 282.10 L 521.51 283.56 L 524.29 283.83 L 527.08 282.91 L 529.86 282.58 L 532.64 282.14 L 535.43 282.99 L 538.21 282.51 L 540.99 282.69 L 543.78 282.33 L 546.56 281.00 L 549.35 280.01 L 552.13 281.03 L 554.91 282.32 L 557.70 281.02 L 560.48 280.02 L 563.26 279.51 " clip-path="url(#p6716cef48e)" style="fill: none; stroke: #0173b2; stroke-opacity: 0.5; stroke-width: 0.62; stroke-linecap: square"/>
   </g>
   <g id="line2d_59">
    <path d="M 48.31 199.98 L 51.09 197.66 L 53.88 195.74 L 56.66 197.43 L 59.44 199.13 L 62.23 199.96 L 65.01 202.50 L 67.79 205.69 L 70.58 209.40 L 73.36 217.74 L 76.15 223.27 L 78.93 222.37 L 81.71 230.49 L 84.50 239.51 L 87.28 242.20 L 90.06 238.34 L 92.85 234.12 L 95.63 227.22 L 98.41 222.95 L 101.20 218.32 L 103.98 216.99 L 106.76 217.85 L 109.55 221.49 L 112.33 223.92 L 115.11 223.25 L 117.90 221.99 L 120.68 222.62 L 123.47 223.00 L 126.25 224.54 L 129.03 224.19 L 131.82 219.98 L 134.60 216.05 L 137.38 213.71 L 140.17 211.37 L 142.95 212.36 L 145.73 216.15 L 148.52 217.44 L 151.30 218.50 L 154.08 220.38 L 156.87 222.96 L 159.65 224.71 L 162.43 225.12 L 165.22 227.08 L 168.00 229.68 L 170.79 232.22 L 173.57 232.99 L 176.35 232.14 L 179.14 234.17 L 181.92 234.69 L 184.70 236.46 L 187.49 239.47 L 190.27 244.72 L 193.05 251.98 L 195.84 259.60 L 198.62 263.60 L 201.40 262.20 L 204.19 259.87 L 206.97 254.79 L 209.75 247.17 L 212.54 239.18 L 215.32 235.92 L 218.11 237.53 L 220.89 238.40 L 223.67 236.66 L 226.46 238.27 L 229.24 242.27 L 232.02 245.26 L 234.81 247.69 L 237.59 249.72 L 240.37 250.15 L 243.16 248.59 L 245.94 249.00 L 248.72 251.31 L 251.51 253.48 L 254.29 254.57 L 257.07 256.14 L 259.86 256.35 L 262.64 256.34 L 265.43 255.36 L 268.21 256.73 L 270.99 257.79 L 273.78 254.72 L 276.56 252.24 L 279.34 251.32 L 282.13 250.63 L 284.91 247.29 L 287.69 245.76 L 290.48 247.39 L 293.26 249.41 L 296.04 252.46 L 298.83 254.32 L 301.61 253.67 L 304.39 254.48 L 307.18 255.67 L 309.96 256.89 L 312.75 259.68 L 315.53 263.51 L 318.31 267.52 L 321.10 269.69 L 323.88 273.24 L 326.66 275.95 L 329.45 276.20 L 332.23 277.60 L 335.01 279.82 L 337.80 281.64 L 340.58 282.52 L 343.36 282.92 L 346.15 284.08 L 348.93 284.67 L 351.71 284.73 L 354.50 283.38 L 357.28 281.44 L 360.07 280.78 L 362.85 281.09 L 365.63 279.91 L 368.42 279.60 L 371.20 279.14 L 373.98 277.98 L 376.77 277.65 L 379.55 278.21 L 382.33 279.81 L 385.12 280.49 L 387.90 282.37 L 390.68 283.39 L 393.47 284.71 L 396.25 285.47 L 399.03 286.25 L 401.82 286.81 L 404.60 287.82 L 407.39 287.27 L 410.17 287.61 L 412.95 287.26 L 415.74 286.63 L 418.52 285.77 L 421.30 285.04 L 424.09 286.69 L 426.87 287.09 L 429.65 287.51 L 432.44 287.62 L 435.22 287.37 L 438.00 287.92 L 440.79 287.49 L 443.57 287.67 L 446.35 288.38 L 449.14 288.37 L 451.92 289.43 L 454.71 289.26 L 457.49 288.47 L 460.27 288.53 L 463.06 289.54 L 465.84 289.32 L 468.62 289.28 L 471.41 287.97 L 474.19 287.35 L 476.97 286.81 L 479.76 286.32 L 482.54 286.56 L 485.32 287.21 L 488.11 288.09 L 490.89 287.20 L 493.67 287.37 L 496.46 287.23 L 499.24 286.56 L 502.03 286.66 L 504.81 287.15 L 507.59 286.32 L 510.38 285.23 L 513.16 284.15 L 515.94 284.12 L 518.73 282.80 L 521.51 281.74 L 524.29 281.22 L 527.08 281.14 L 529.86 281.22 L 532.64 281.17 L 535.43 281.06 L 538.21 279.53 L 540.99 278.38 L 543.78 279.07 L 546.56 277.92 L 549.35 278.11 L 552.13 277.40 L 554.91 276.81 L 557.70 277.13 L 560.48 276.59 L 563.26 276.16 " clip-path="url(#p6716cef48e)" style="fill: none; stroke: #0173b2; stroke-opacity: 0.5; stroke-width: 0.62; stroke-linecap: square"/>
   </g>
   <g id="line2d_60">
    <path d="M 48.31 200.08 L 51.09 198.20 L 53.88 196.99 L 56.66 197.11 L 59.44 198.81 L 62.23 200.36 L 65.01 202.23 L 67.79 206.01 L 70.58 212.00 L 73.36 222.11 L 76.15 237.19 L 78.93 261.35 L 81.71 289.08 L 84.50 305.83 L 87.28 304.61 L 90.06 292.59 L 92.85 282.16 L 95.63 270.67 L 98.41 261.28 L 101.20 253.36 L 103.98 249.67 L 106.76 247.94 L 109.55 245.45 L 112.33 240.50 L 115.11 233.70 L 117.90 226.91 L 120.68 225.59 L 123.47 228.23 L 126.25 229.60 L 129.03 227.63 L 131.82 229.16 L 134.60 231.45 L 137.38 228.51 L 140.17 227.07 L 142.95 230.19 L 145.73 229.79 L 148.52 229.24 L 151.30 227.97 L 154.08 226.59 L 156.87 225.28 L 159.65 225.29 L 162.43 226.84 L 165.22 227.12 L 168.00 227.91 L 170.79 230.28 L 173.57 233.35 L 176.35 234.40 L 179.14 234.01 L 181.92 232.64 L 184.70 233.74 L 187.49 235.76 L 190.27 234.30 L 193.05 231.69 L 195.84 231.55 L 198.62 229.58 L 201.40 227.16 L 204.19 226.29 L 206.97 228.12 L 209.75 231.27 L 212.54 229.49 L 215.32 226.46 L 218.11 225.68 L 220.89 226.69 L 223.67 229.49 L 226.46 231.68 L 229.24 236.53 L 232.02 242.67 L 234.81 245.21 L 237.59 247.38 L 240.37 248.28 L 243.16 247.98 L 245.94 247.14 L 248.72 247.67 L 251.51 251.33 L 254.29 255.02 L 257.07 257.90 L 259.86 259.57 L 262.64 260.58 L 265.43 263.54 L 268.21 268.08 L 270.99 273.38 L 273.78 278.43 L 276.56 280.72 L 279.34 282.64 L 282.13 282.47 L 284.91 281.14 L 287.69 282.61 L 290.48 284.04 L 293.26 284.07 L 296.04 282.68 L 298.83 281.21 L 301.61 279.43 L 304.39 276.27 L 307.18 272.16 L 309.96 267.94 L 312.75 265.71 L 315.53 264.27 L 318.31 264.49 L 321.10 264.70 L 323.88 264.89 L 326.66 264.74 L 329.45 264.54 L 332.23 265.62 L 335.01 266.82 L 337.80 267.92 L 340.58 268.16 L 343.36 268.24 L 346.15 269.02 L 348.93 269.62 L 351.71 269.68 L 354.50 271.10 L 357.28 272.14 L 360.07 272.32 L 362.85 273.53 L 365.63 273.59 L 368.42 272.29 L 371.20 272.30 L 373.98 272.96 L 376.77 274.03 L 379.55 275.93 L 382.33 277.36 L 385.12 279.23 L 387.90 279.10 L 390.68 279.46 L 393.47 280.77 L 396.25 281.82 L 399.03 283.13 L 401.82 283.15 L 404.60 282.42 L 407.39 283.67 L 410.17 284.73 L 412.95 284.74 L 415.74 286.63 L 418.52 286.97 L 421.30 287.35 L 424.09 288.26 L 426.87 288.06 L 429.65 289.04 L 432.44 289.83 L 435.22 289.68 L 438.00 288.46 L 440.79 287.64 L 443.57 288.43 L 446.35 288.84 L 449.14 288.48 L 451.92 288.81 L 454.71 289.35 L 457.49 290.63 L 460.27 291.34 L 463.06 291.49 L 465.84 291.16 L 468.62 290.65 L 471.41 290.87 L 474.19 290.92 L 476.97 291.39 L 479.76 291.00 L 482.54 290.84 L 485.32 290.80 L 488.11 290.24 L 490.89 289.94 L 493.67 289.14 L 496.46 289.22 L 499.24 288.67 L 502.03 287.78 L 504.81 287.85 L 507.59 288.53 L 510.38 287.15 L 513.16 285.05 L 515.94 283.91 L 518.73 283.32 L 521.51 283.66 L 524.29 282.38 L 527.08 281.64 L 529.86 281.32 L 532.64 280.22 L 535.43 280.25 L 538.21 279.66 L 540.99 278.71 L 543.78 278.32 L 546.56 278.93 L 549.35 278.79 L 552.13 278.08 L 554.91 277.75 L 557.70 277.26 L 560.48 276.12 L 563.26 274.53 " clip-path="url(#p6716cef48e)" style="fill: none; stroke: #0173b2; stroke-opacity: 0.5; stroke-width: 0.62; stroke-linecap: square"/>
   </g>
   <g id="line2d_61">
    <path d="M 48.31 199.88 L 51.09 196.67 L 53.88 195.17 L 56.66 196.86 L 59.44 196.97 L 62.23 197.24 L 65.01 200.85 L 67.79 198.07 L 70.58 195.63 L 73.36 203.18 L 76.15 204.89 L 78.93 214.09 L 81.71 223.09 L 84.50 230.76 L 87.28 236.99 L 90.06 242.09 L 92.85 247.70 L 95.63 253.22 L 98.41 250.51 L 101.20 246.82 L 103.98 244.20 L 106.76 239.60 L 109.55 235.32 L 112.33 235.20 L 115.11 236.90 L 117.90 238.33 L 120.68 233.04 L 123.47 226.25 L 126.25 222.51 L 129.03 221.50 L 131.82 224.37 L 134.60 225.93 L 137.38 222.76 L 140.17 221.07 L 142.95 222.35 L 145.73 223.84 L 148.52 224.09 L 151.30 223.34 L 154.08 223.66 L 156.87 225.78 L 159.65 228.15 L 162.43 230.60 L 165.22 232.52 L 168.00 234.24 L 170.79 234.59 L 173.57 232.52 L 176.35 234.26 L 179.14 235.51 L 181.92 233.51 L 184.70 231.92 L 187.49 232.85 L 190.27 236.69 L 193.05 239.38 L 195.84 241.77 L 198.62 244.75 L 201.40 245.21 L 204.19 249.62 L 206.97 258.06 L 209.75 262.37 L 212.54 264.10 L 215.32 262.66 L 218.11 258.80 L 220.89 256.06 L 223.67 255.94 L 226.46 256.64 L 229.24 257.90 L 232.02 260.92 L 234.81 264.37 L 237.59 265.81 L 240.37 266.41 L 243.16 266.21 L 245.94 263.98 L 248.72 265.67 L 251.51 268.25 L 254.29 267.01 L 257.07 266.14 L 259.86 266.57 L 262.64 265.53 L 265.43 263.90 L 268.21 262.66 L 270.99 259.33 L 273.78 257.24 L 276.56 256.11 L 279.34 254.97 L 282.13 251.84 L 284.91 251.33 L 287.69 252.49 L 290.48 255.50 L 293.26 258.52 L 296.04 260.38 L 298.83 258.65 L 301.61 255.42 L 304.39 253.30 L 307.18 253.93 L 309.96 255.54 L 312.75 255.80 L 315.53 257.35 L 318.31 260.22 L 321.10 260.85 L 323.88 261.90 L 326.66 263.73 L 329.45 266.04 L 332.23 267.48 L 335.01 268.53 L 337.80 269.31 L 340.58 270.04 L 343.36 270.90 L 346.15 270.69 L 348.93 270.65 L 351.71 271.65 L 354.50 272.64 L 357.28 272.40 L 360.07 272.75 L 362.85 272.15 L 365.63 273.12 L 368.42 274.46 L 371.20 275.40 L 373.98 277.33 L 376.77 279.12 L 379.55 279.93 L 382.33 281.16 L 385.12 281.79 L 387.90 282.55 L 390.68 282.19 L 393.47 281.86 L 396.25 282.98 L 399.03 283.46 L 401.82 283.04 L 404.60 283.49 L 407.39 285.00 L 410.17 286.05 L 412.95 286.08 L 415.74 287.24 L 418.52 286.62 L 421.30 285.81 L 424.09 286.42 L 426.87 286.78 L 429.65 287.78 L 432.44 289.09 L 435.22 290.02 L 438.00 289.90 L 440.79 289.46 L 443.57 289.46 L 446.35 289.14 L 449.14 289.84 L 451.92 290.76 L 454.71 290.24 L 457.49 289.80 L 460.27 289.81 L 463.06 289.65 L 465.84 287.65 L 468.62 285.99 L 471.41 286.50 L 474.19 286.68 L 476.97 286.46 L 479.76 286.08 L 482.54 285.28 L 485.32 285.64 L 488.11 286.06 L 490.89 284.43 L 493.67 283.77 L 496.46 283.40 L 499.24 283.85 L 502.03 284.38 L 504.81 284.71 L 507.59 284.13 L 510.38 283.66 L 513.16 283.89 L 515.94 283.85 L 518.73 284.60 L 521.51 283.94 L 524.29 283.26 L 527.08 282.97 L 529.86 282.86 L 532.64 281.97 L 535.43 280.77 L 538.21 279.75 L 540.99 278.89 L 543.78 280.11 L 546.56 280.13 L 549.35 279.18 L 552.13 279.27 L 554.91 279.31 L 557.70 277.87 L 560.48 276.95 L 563.26 275.46 " clip-path="url(#p6716cef48e)" style="fill: none; stroke: #0173b2; stroke-opacity: 0.5; stroke-width: 0.62; stroke-linecap: square"/>
   </g>
   <g id="line2d_62">
    <path d="M 48.31 199.99 L 51.09 197.44 L 53.88 195.47 L 56.66 195.95 L 59.44 197.61 L 62.23 198.92 L 65.01 200.57 L 67.79 202.98 L 70.58 207.86 L 73.36 214.11 L 76.15 222.83 L 78.93 234.08 L 81.71 246.37 L 84.50 252.61 L 87.28 257.75 L 90.06 262.72 L 92.85 262.99 L 95.63 260.56 L 98.41 261.12 L 101.20 261.39 L 103.98 259.73 L 106.76 253.65 L 109.55 246.51 L 112.33 238.51 L 115.11 236.63 L 117.90 239.91 L 120.68 244.01 L 123.47 249.66 L 126.25 254.42 L 129.03 256.85 L 131.82 259.12 L 134.60 257.26 L 137.38 253.57 L 140.17 250.88 L 142.95 245.38 L 145.73 241.92 L 148.52 240.74 L 151.30 243.77 L 154.08 243.61 L 156.87 245.63 L 159.65 248.40 L 162.43 249.93 L 165.22 249.27 L 168.00 246.41 L 170.79 245.50 L 173.57 245.98 L 176.35 243.50 L 179.14 240.24 L 181.92 238.40 L 184.70 236.94 L 187.49 233.63 L 190.27 232.65 L 193.05 233.80 L 195.84 235.25 L 198.62 235.02 L 201.40 232.40 L 204.19 231.10 L 206.97 232.35 L 209.75 236.73 L 212.54 240.58 L 215.32 242.41 L 218.11 248.71 L 220.89 255.79 L 223.67 263.61 L 226.46 267.42 L 229.24 269.76 L 232.02 274.16 L 234.81 278.72 L 237.59 281.56 L 240.37 284.38 L 243.16 287.53 L 245.94 290.00 L 248.72 292.60 L 251.51 289.70 L 254.29 285.80 L 257.07 284.70 L 259.86 281.52 L 262.64 277.55 L 265.43 271.92 L 268.21 267.85 L 270.99 265.33 L 273.78 263.58 L 276.56 263.30 L 279.34 262.22 L 282.13 260.78 L 284.91 261.63 L 287.69 262.43 L 290.48 264.93 L 293.26 267.89 L 296.04 270.16 L 298.83 270.81 L 301.61 272.55 L 304.39 276.92 L 307.18 280.17 L 309.96 281.95 L 312.75 283.14 L 315.53 284.03 L 318.31 283.11 L 321.10 281.25 L 323.88 279.84 L 326.66 279.45 L 329.45 278.22 L 332.23 278.31 L 335.01 279.01 L 337.80 279.20 L 340.58 279.46 L 343.36 279.82 L 346.15 280.08 L 348.93 281.67 L 351.71 283.05 L 354.50 283.90 L 357.28 284.39 L 360.07 284.41 L 362.85 284.92 L 365.63 283.91 L 368.42 282.33 L 371.20 281.66 L 373.98 281.34 L 376.77 280.52 L 379.55 281.19 L 382.33 282.31 L 385.12 283.86 L 387.90 287.26 L 390.68 289.55 L 393.47 290.57 L 396.25 291.14 L 399.03 290.86 L 401.82 290.48 L 404.60 288.91 L 407.39 288.66 L 410.17 287.80 L 412.95 287.58 L 415.74 289.07 L 418.52 289.79 L 421.30 289.34 L 424.09 289.24 L 426.87 289.81 L 429.65 289.68 L 432.44 289.51 L 435.22 289.80 L 438.00 290.82 L 440.79 290.71 L 443.57 289.53 L 446.35 289.38 L 449.14 289.78 L 451.92 290.32 L 454.71 291.00 L 457.49 291.55 L 460.27 292.23 L 463.06 292.01 L 465.84 292.36 L 468.62 292.83 L 471.41 292.21 L 474.19 291.61 L 476.97 290.56 L 479.76 289.70 L 482.54 289.59 L 485.32 289.97 L 488.11 290.45 L 490.89 289.93 L 493.67 289.12 L 496.46 288.96 L 499.24 289.43 L 502.03 289.61 L 504.81 289.54 L 507.59 288.44 L 510.38 286.97 L 513.16 285.92 L 515.94 285.51 L 518.73 286.22 L 521.51 286.35 L 524.29 285.47 L 527.08 285.87 L 529.86 285.19 L 532.64 284.54 L 535.43 284.03 L 538.21 283.27 L 540.99 282.46 L 543.78 282.56 L 546.56 281.58 L 549.35 279.77 L 552.13 279.74 L 554.91 279.52 L 557.70 278.26 L 560.48 277.23 L 563.26 276.98 " clip-path="url(#p6716cef48e)" style="fill: none; stroke: #0173b2; stroke-opacity: 0.5; stroke-width: 0.62; stroke-linecap: square"/>
   </g>
   <g id="line2d_63">
    <path d="M 48.31 199.63 L 51.09 195.54 L 53.88 193.14 L 56.66 196.14 L 59.44 198.45 L 62.23 201.59 L 65.01 205.71 L 67.79 210.72 L 70.58 219.64 L 73.36 227.94 L 76.15 237.31 L 78.93 252.35 L 81.71 262.56 L 84.50 274.92 L 87.28 297.25 L 90.06 300.04 L 92.85 291.53 L 95.63 279.65 L 98.41 269.75 L 101.20 261.29 L 103.98 256.56 L 106.76 253.81 L 109.55 250.29 L 112.33 250.22 L 115.11 254.91 L 117.90 259.56 L 120.68 261.44 L 123.47 263.39 L 126.25 267.39 L 129.03 269.85 L 131.82 271.47 L 134.60 271.02 L 137.38 272.01 L 140.17 272.20 L 142.95 270.80 L 145.73 270.78 L 148.52 270.99 L 151.30 269.36 L 154.08 265.52 L 156.87 262.46 L 159.65 258.37 L 162.43 255.42 L 165.22 252.36 L 168.00 253.69 L 170.79 251.06 L 173.57 247.33 L 176.35 245.30 L 179.14 243.36 L 181.92 240.24 L 184.70 237.63 L 187.49 235.36 L 190.27 236.09 L 193.05 240.78 L 195.84 244.40 L 198.62 245.64 L 201.40 245.03 L 204.19 243.63 L 206.97 242.11 L 209.75 242.01 L 212.54 240.91 L 215.32 243.89 L 218.11 251.39 L 220.89 257.58 L 223.67 261.03 L 226.46 260.41 L 229.24 259.79 L 232.02 257.61 L 234.81 253.88 L 237.59 249.54 L 240.37 244.09 L 243.16 241.89 L 245.94 241.08 L 248.72 241.85 L 251.51 242.50 L 254.29 241.91 L 257.07 241.77 L 259.86 244.19 L 262.64 245.57 L 265.43 245.87 L 268.21 248.11 L 270.99 252.69 L 273.78 258.61 L 276.56 263.48 L 279.34 265.34 L 282.13 265.70 L 284.91 266.15 L 287.69 264.93 L 290.48 264.34 L 293.26 266.39 L 296.04 268.71 L 298.83 269.18 L 301.61 269.50 L 304.39 268.98 L 307.18 268.67 L 309.96 268.51 L 312.75 267.58 L 315.53 266.20 L 318.31 265.54 L 321.10 263.28 L 323.88 261.77 L 326.66 262.01 L 329.45 264.06 L 332.23 265.13 L 335.01 265.44 L 337.80 266.48 L 340.58 268.39 L 343.36 268.85 L 346.15 269.58 L 348.93 269.75 L 351.71 270.90 L 354.50 273.10 L 357.28 276.09 L 360.07 278.60 L 362.85 279.69 L 365.63 280.86 L 368.42 280.54 L 371.20 280.38 L 373.98 281.93 L 376.77 283.14 L 379.55 282.81 L 382.33 282.90 L 385.12 284.89 L 387.90 285.71 L 390.68 286.28 L 393.47 286.95 L 396.25 286.88 L 399.03 287.67 L 401.82 288.46 L 404.60 288.68 L 407.39 288.55 L 410.17 289.27 L 412.95 289.63 L 415.74 288.07 L 418.52 287.82 L 421.30 287.77 L 424.09 287.78 L 426.87 286.80 L 429.65 287.12 L 432.44 287.58 L 435.22 287.88 L 438.00 287.77 L 440.79 288.11 L 443.57 287.34 L 446.35 287.31 L 449.14 287.05 L 451.92 286.55 L 454.71 286.32 L 457.49 286.60 L 460.27 286.81 L 463.06 287.73 L 465.84 287.24 L 468.62 286.48 L 471.41 286.11 L 474.19 285.68 L 476.97 285.17 L 479.76 284.16 L 482.54 283.73 L 485.32 283.52 L 488.11 283.70 L 490.89 284.71 L 493.67 285.34 L 496.46 286.08 L 499.24 285.40 L 502.03 285.80 L 504.81 285.23 L 507.59 283.89 L 510.38 284.11 L 513.16 284.08 L 515.94 283.64 L 518.73 282.28 L 521.51 280.40 L 524.29 280.75 L 527.08 281.46 L 529.86 280.12 L 532.64 279.12 L 535.43 279.28 L 538.21 279.38 L 540.99 279.72 L 543.78 279.68 L 546.56 279.20 L 549.35 279.36 L 552.13 278.39 L 554.91 277.04 L 557.70 276.37 L 560.48 275.87 L 563.26 276.02 " clip-path="url(#p6716cef48e)" style="fill: none; stroke: #0173b2; stroke-opacity: 0.5; stroke-width: 0.62; stroke-linecap: square"/>
   </g>
   <g id="line2d_64">
    <path d="M 48.31 200.11 L 51.09 197.29 L 53.88 195.13 L 56.66 197.41 L 59.44 199.27 L 62.23 200.85 L 65.01 204.06 L 67.79 208.13 L 70.58 214.36 L 73.36 223.81 L 76.15 235.37 L 78.93 253.80 L 81.71 270.81 L 84.50 287.90 L 87.28 295.63 L 90.06 288.93 L 92.85 281.09 L 95.63 274.06 L 98.41 266.00 L 101.20 260.37 L 103.98 255.39 L 106.76 248.76 L 109.55 238.72 L 112.33 231.79 L 115.11 229.25 L 117.90 231.04 L 120.68 231.43 L 123.47 234.01 L 126.25 239.06 L 129.03 241.16 L 131.82 238.32 L 134.60 236.26 L 137.38 235.51 L 140.17 235.47 L 142.95 237.89 L 145.73 243.71 L 148.52 249.10 L 151.30 252.22 L 154.08 256.61 L 156.87 260.29 L 159.65 262.36 L 162.43 264.22 L 165.22 264.06 L 168.00 263.76 L 170.79 262.00 L 173.57 263.02 L 176.35 264.87 L 179.14 262.80 L 181.92 261.80 L 184.70 259.73 L 187.49 256.55 L 190.27 251.22 L 193.05 247.22 L 195.84 243.41 L 198.62 240.38 L 201.40 239.88 L 204.19 241.24 L 206.97 242.50 L 209.75 243.93 L 212.54 245.12 L 215.32 246.86 L 218.11 249.44 L 220.89 249.46 L 223.67 249.41 L 226.46 249.90 L 229.24 249.46 L 232.02 249.08 L 234.81 250.20 L 237.59 248.99 L 240.37 246.43 L 243.16 244.14 L 245.94 243.36 L 248.72 243.19 L 251.51 244.08 L 254.29 244.62 L 257.07 245.68 L 259.86 243.92 L 262.64 240.56 L 265.43 240.64 L 268.21 245.07 L 270.99 247.76 L 273.78 250.44 L 276.56 254.70 L 279.34 259.36 L 282.13 261.76 L 284.91 262.55 L 287.69 263.93 L 290.48 264.32 L 293.26 263.73 L 296.04 265.90 L 298.83 265.98 L 301.61 267.26 L 304.39 267.78 L 307.18 269.50 L 309.96 269.48 L 312.75 269.12 L 315.53 267.15 L 318.31 267.61 L 321.10 267.69 L 323.88 266.78 L 326.66 267.52 L 329.45 266.76 L 332.23 265.92 L 335.01 266.78 L 337.80 267.28 L 340.58 269.35 L 343.36 271.59 L 346.15 273.93 L 348.93 276.79 L 351.71 277.47 L 354.50 279.08 L 357.28 279.34 L 360.07 278.76 L 362.85 279.41 L 365.63 279.24 L 368.42 278.99 L 371.20 280.34 L 373.98 282.16 L 376.77 282.49 L 379.55 282.78 L 382.33 283.13 L 385.12 285.03 L 387.90 285.67 L 390.68 285.94 L 393.47 286.20 L 396.25 286.19 L 399.03 284.95 L 401.82 284.35 L 404.60 285.17 L 407.39 286.44 L 410.17 284.99 L 412.95 284.99 L 415.74 286.13 L 418.52 286.19 L 421.30 285.98 L 424.09 286.23 L 426.87 285.91 L 429.65 286.86 L 432.44 286.85 L 435.22 286.94 L 438.00 287.22 L 440.79 289.02 L 443.57 290.96 L 446.35 291.44 L 449.14 290.34 L 451.92 289.91 L 454.71 290.41 L 457.49 290.77 L 460.27 291.46 L 463.06 290.60 L 465.84 288.71 L 468.62 289.20 L 471.41 289.33 L 474.19 288.71 L 476.97 288.88 L 479.76 289.16 L 482.54 288.80 L 485.32 287.42 L 488.11 286.06 L 490.89 286.06 L 493.67 285.54 L 496.46 286.18 L 499.24 286.38 L 502.03 285.11 L 504.81 284.72 L 507.59 285.56 L 510.38 285.95 L 513.16 284.72 L 515.94 283.69 L 518.73 283.81 L 521.51 282.21 L 524.29 281.38 L 527.08 282.05 L 529.86 282.11 L 532.64 282.09 L 535.43 282.88 L 538.21 283.34 L 540.99 282.92 L 543.78 282.71 L 546.56 282.05 L 549.35 281.20 L 552.13 280.49 L 554.91 278.61 L 557.70 277.80 L 560.48 277.63 L 563.26 277.38 " clip-path="url(#p6716cef48e)" style="fill: none; stroke: #0173b2; stroke-opacity: 0.5; stroke-width: 0.62; stroke-linecap: square"/>
   </g>
   <g id="line2d_65">
    <path d="M 48.31 199.85 L 51.09 196.23 L 53.88 195.75 L 56.66 199.32 L 59.44 200.97 L 62.23 204.03 L 65.01 207.30 L 67.79 211.07 L 70.58 224.71 L 73.36 235.20 L 76.15 249.79 L 78.93 263.22 L 81.71 270.43 L 84.50 269.67 L 87.28 266.09 L 90.06 263.30 L 92.85 262.30 L 95.63 258.98 L 98.41 256.85 L 101.20 251.93 L 103.98 247.19 L 106.76 245.45 L 109.55 243.62 L 112.33 245.34 L 115.11 248.21 L 117.90 251.68 L 120.68 255.17 L 123.47 260.29 L 126.25 262.37 L 129.03 259.97 L 131.82 252.97 L 134.60 243.57 L 137.38 234.97 L 140.17 228.41 L 142.95 222.84 L 145.73 220.07 L 148.52 220.10 L 151.30 220.85 L 154.08 220.29 L 156.87 222.23 L 159.65 223.45 L 162.43 224.33 L 165.22 226.20 L 168.00 228.79 L 170.79 230.37 L 173.57 232.85 L 176.35 235.44 L 179.14 237.66 L 181.92 240.36 L 184.70 246.02 L 187.49 251.87 L 190.27 255.22 L 193.05 261.80 L 195.84 268.54 L 198.62 270.22 L 201.40 264.64 L 204.19 260.05 L 206.97 264.89 L 209.75 266.66 L 212.54 260.36 L 215.32 257.00 L 218.11 255.51 L 220.89 256.11 L 223.67 255.77 L 226.46 255.75 L 229.24 256.05 L 232.02 256.02 L 234.81 253.38 L 237.59 250.14 L 240.37 249.70 L 243.16 251.23 L 245.94 254.59 L 248.72 256.99 L 251.51 260.75 L 254.29 264.60 L 257.07 266.21 L 259.86 265.72 L 262.64 265.73 L 265.43 266.38 L 268.21 268.25 L 270.99 268.07 L 273.78 265.85 L 276.56 264.58 L 279.34 264.49 L 282.13 262.50 L 284.91 260.25 L 287.69 258.67 L 290.48 258.63 L 293.26 258.15 L 296.04 256.36 L 298.83 255.75 L 301.61 255.61 L 304.39 258.58 L 307.18 262.19 L 309.96 264.90 L 312.75 266.91 L 315.53 271.02 L 318.31 275.83 L 321.10 279.40 L 323.88 280.87 L 326.66 281.99 L 329.45 283.37 L 332.23 282.72 L 335.01 282.20 L 337.80 282.30 L 340.58 281.58 L 343.36 281.34 L 346.15 283.98 L 348.93 284.24 L 351.71 283.09 L 354.50 283.49 L 357.28 283.83 L 360.07 283.96 L 362.85 283.17 L 365.63 281.93 L 368.42 281.60 L 371.20 282.14 L 373.98 282.08 L 376.77 282.74 L 379.55 283.51 L 382.33 284.65 L 385.12 286.94 L 387.90 287.55 L 390.68 286.98 L 393.47 287.68 L 396.25 287.86 L 399.03 287.59 L 401.82 287.57 L 404.60 287.73 L 407.39 288.30 L 410.17 288.90 L 412.95 289.19 L 415.74 289.49 L 418.52 289.43 L 421.30 289.20 L 424.09 287.79 L 426.87 285.96 L 429.65 284.58 L 432.44 283.53 L 435.22 283.72 L 438.00 284.08 L 440.79 283.75 L 443.57 282.79 L 446.35 282.68 L 449.14 283.04 L 451.92 283.83 L 454.71 284.48 L 457.49 284.51 L 460.27 285.54 L 463.06 286.38 L 465.84 286.49 L 468.62 287.17 L 471.41 288.68 L 474.19 288.21 L 476.97 286.79 L 479.76 285.95 L 482.54 285.75 L 485.32 284.82 L 488.11 284.57 L 490.89 285.90 L 493.67 286.21 L 496.46 286.82 L 499.24 288.01 L 502.03 287.06 L 504.81 285.61 L 507.59 285.11 L 510.38 284.23 L 513.16 283.82 L 515.94 284.63 L 518.73 282.93 L 521.51 282.46 L 524.29 283.09 L 527.08 284.15 L 529.86 283.75 L 532.64 282.44 L 535.43 282.32 L 538.21 283.14 L 540.99 282.76 L 543.78 281.19 L 546.56 280.31 L 549.35 279.58 L 552.13 279.28 L 554.91 279.61 L 557.70 279.37 L 560.48 277.05 L 563.26 275.39 " clip-path="url(#p6716cef48e)" style="fill: none; stroke: #0173b2; stroke-opacity: 0.5; stroke-width: 0.62; stroke-linecap: square"/>
   </g>
   <g id="line2d_66">
    <path d="M 48.31 199.92 L 51.09 198.05 L 53.88 196.64 L 56.66 196.37 L 59.44 195.34 L 62.23 197.07 L 65.01 199.13 L 67.79 200.69 L 70.58 203.28 L 73.36 206.14 L 76.15 209.30 L 78.93 216.76 L 81.71 224.50 L 84.50 233.74 L 87.28 235.06 L 90.06 233.81 L 92.85 236.11 L 95.63 240.69 L 98.41 240.00 L 101.20 236.00 L 103.98 231.39 L 106.76 228.27 L 109.55 227.01 L 112.33 226.80 L 115.11 224.80 L 117.90 223.57 L 120.68 226.77 L 123.47 232.91 L 126.25 230.75 L 129.03 226.57 L 131.82 224.64 L 134.60 225.29 L 137.38 227.37 L 140.17 228.56 L 142.95 228.97 L 145.73 230.99 L 148.52 233.20 L 151.30 235.33 L 154.08 236.72 L 156.87 238.38 L 159.65 240.56 L 162.43 243.82 L 165.22 245.74 L 168.00 244.76 L 170.79 242.76 L 173.57 240.89 L 176.35 238.57 L 179.14 235.45 L 181.92 232.61 L 184.70 230.74 L 187.49 227.92 L 190.27 227.63 L 193.05 227.66 L 195.84 226.87 L 198.62 224.41 L 201.40 222.88 L 204.19 220.77 L 206.97 220.86 L 209.75 221.58 L 212.54 223.05 L 215.32 227.78 L 218.11 234.80 L 220.89 241.63 L 223.67 245.95 L 226.46 251.32 L 229.24 253.17 L 232.02 254.27 L 234.81 255.14 L 237.59 256.00 L 240.37 256.34 L 243.16 254.95 L 245.94 254.40 L 248.72 255.19 L 251.51 253.78 L 254.29 253.88 L 257.07 253.36 L 259.86 251.47 L 262.64 254.46 L 265.43 260.47 L 268.21 261.23 L 270.99 261.16 L 273.78 263.15 L 276.56 264.47 L 279.34 264.97 L 282.13 263.66 L 284.91 263.76 L 287.69 263.61 L 290.48 263.15 L 293.26 264.52 L 296.04 265.11 L 298.83 265.45 L 301.61 267.06 L 304.39 268.87 L 307.18 270.52 L 309.96 272.62 L 312.75 272.77 L 315.53 274.26 L 318.31 275.10 L 321.10 272.89 L 323.88 272.32 L 326.66 274.15 L 329.45 275.08 L 332.23 274.93 L 335.01 275.15 L 337.80 276.15 L 340.58 276.78 L 343.36 277.33 L 346.15 279.61 L 348.93 280.62 L 351.71 280.70 L 354.50 280.16 L 357.28 280.74 L 360.07 280.87 L 362.85 281.34 L 365.63 280.90 L 368.42 281.55 L 371.20 282.09 L 373.98 282.05 L 376.77 281.23 L 379.55 281.85 L 382.33 282.09 L 385.12 282.09 L 387.90 284.43 L 390.68 286.21 L 393.47 287.02 L 396.25 286.48 L 399.03 286.38 L 401.82 286.15 L 404.60 286.35 L 407.39 286.58 L 410.17 286.77 L 412.95 287.63 L 415.74 288.42 L 418.52 287.82 L 421.30 287.29 L 424.09 285.66 L 426.87 286.04 L 429.65 286.51 L 432.44 287.37 L 435.22 287.29 L 438.00 287.03 L 440.79 286.32 L 443.57 286.12 L 446.35 286.08 L 449.14 287.30 L 451.92 287.80 L 454.71 288.59 L 457.49 288.13 L 460.27 286.70 L 463.06 285.94 L 465.84 286.46 L 468.62 287.05 L 471.41 286.51 L 474.19 285.38 L 476.97 286.18 L 479.76 287.50 L 482.54 287.39 L 485.32 287.46 L 488.11 287.32 L 490.89 287.43 L 493.67 287.88 L 496.46 288.45 L 499.24 287.83 L 502.03 287.42 L 504.81 286.80 L 507.59 285.61 L 510.38 284.92 L 513.16 284.53 L 515.94 284.61 L 518.73 283.40 L 521.51 282.30 L 524.29 281.59 L 527.08 280.58 L 529.86 280.51 L 532.64 279.81 L 535.43 278.31 L 538.21 276.83 L 540.99 276.88 L 543.78 276.77 L 546.56 276.65 L 549.35 276.46 L 552.13 276.34 L 554.91 276.88 L 557.70 275.83 L 560.48 275.04 L 563.26 274.97 " clip-path="url(#p6716cef48e)" style="fill: none; stroke: #0173b2; stroke-opacity: 0.5; stroke-width: 0.62; stroke-linecap: square"/>
   </g>
   <g id="line2d_67">
    <path d="M 48.31 200.03 L 51.09 197.90 L 53.88 195.96 L 56.66 195.71 L 59.44 196.18 L 62.23 198.35 L 65.01 199.57 L 67.79 202.64 L 70.58 207.03 L 73.36 213.20 L 76.15 221.51 L 78.93 237.16 L 81.71 254.10 L 84.50 272.45 L 87.28 282.62 L 90.06 285.45 L 92.85 280.54 L 95.63 272.30 L 98.41 262.75 L 101.20 256.01 L 103.98 250.87 L 106.76 246.49 L 109.55 245.89 L 112.33 244.06 L 115.11 244.36 L 117.90 249.53 L 120.68 250.83 L 123.47 253.75 L 126.25 254.15 L 129.03 253.19 L 131.82 255.23 L 134.60 254.21 L 137.38 251.71 L 140.17 248.16 L 142.95 242.38 L 145.73 237.74 L 148.52 233.36 L 151.30 231.96 L 154.08 232.66 L 156.87 234.95 L 159.65 235.43 L 162.43 237.07 L 165.22 238.44 L 168.00 239.25 L 170.79 237.96 L 173.57 232.77 L 176.35 230.05 L 179.14 231.12 L 181.92 233.28 L 184.70 235.22 L 187.49 236.33 L 190.27 236.64 L 193.05 236.80 L 195.84 237.07 L 198.62 236.71 L 201.40 238.68 L 204.19 243.21 L 206.97 248.80 L 209.75 255.05 L 212.54 256.14 L 215.32 250.93 L 218.11 244.93 L 220.89 241.14 L 223.67 238.62 L 226.46 238.18 L 229.24 237.64 L 232.02 238.24 L 234.81 237.15 L 237.59 237.42 L 240.37 238.17 L 243.16 238.05 L 245.94 238.99 L 248.72 239.06 L 251.51 236.68 L 254.29 235.19 L 257.07 235.95 L 259.86 238.27 L 262.64 242.71 L 265.43 247.37 L 268.21 250.15 L 270.99 255.25 L 273.78 260.80 L 276.56 263.37 L 279.34 266.19 L 282.13 267.61 L 284.91 268.43 L 287.69 267.61 L 290.48 265.96 L 293.26 263.21 L 296.04 261.36 L 298.83 259.97 L 301.61 259.25 L 304.39 260.03 L 307.18 261.91 L 309.96 263.49 L 312.75 263.35 L 315.53 264.03 L 318.31 265.01 L 321.10 267.70 L 323.88 269.78 L 326.66 270.55 L 329.45 271.25 L 332.23 271.75 L 335.01 273.29 L 337.80 276.32 L 340.58 277.20 L 343.36 277.51 L 346.15 277.22 L 348.93 276.91 L 351.71 276.10 L 354.50 276.98 L 357.28 277.92 L 360.07 279.23 L 362.85 281.11 L 365.63 283.02 L 368.42 284.21 L 371.20 285.60 L 373.98 285.96 L 376.77 286.22 L 379.55 287.25 L 382.33 287.85 L 385.12 288.65 L 387.90 289.54 L 390.68 288.95 L 393.47 287.14 L 396.25 286.60 L 399.03 286.16 L 401.82 286.63 L 404.60 288.30 L 407.39 289.13 L 410.17 289.01 L 412.95 289.33 L 415.74 290.42 L 418.52 290.72 L 421.30 289.37 L 424.09 288.89 L 426.87 288.47 L 429.65 288.55 L 432.44 290.01 L 435.22 290.29 L 438.00 290.78 L 440.79 292.24 L 443.57 292.50 L 446.35 291.04 L 449.14 291.24 L 451.92 290.90 L 454.71 290.40 L 457.49 289.12 L 460.27 288.83 L 463.06 289.69 L 465.84 288.75 L 468.62 288.19 L 471.41 288.78 L 474.19 289.05 L 476.97 288.99 L 479.76 288.96 L 482.54 288.89 L 485.32 288.02 L 488.11 287.33 L 490.89 286.35 L 493.67 286.51 L 496.46 286.12 L 499.24 285.34 L 502.03 284.88 L 504.81 284.95 L 507.59 284.84 L 510.38 283.72 L 513.16 283.94 L 515.94 283.28 L 518.73 283.69 L 521.51 283.73 L 524.29 281.87 L 527.08 281.94 L 529.86 282.99 L 532.64 282.82 L 535.43 283.11 L 538.21 283.50 L 540.99 283.96 L 543.78 281.97 L 546.56 280.33 L 549.35 279.85 L 552.13 279.74 L 554.91 278.55 L 557.70 277.95 L 560.48 277.79 L 563.26 277.64 " clip-path="url(#p6716cef48e)" style="fill: none; stroke: #0173b2; stroke-opacity: 0.5; stroke-width: 0.62; stroke-linecap: square"/>
   </g>
   <g id="line2d_68">
    <path d="M 48.32 199.51 L 49.20 198.91 L 50.08 198.15 L 50.97 197.38 L 51.85 196.73 L 52.73 196.29 L 53.61 196.13 L 54.5 196.31 L 55.38 196.79 L 56.26 197.41 L 57.14 198.06 L 58.02 198.69 L 58.91 199.28 L 59.79 199.86 L 60.67 200.46 L 61.55 201.16 L 62.44 201.97 L 63.32 202.90 L 64.20 203.90 L 65.08 205.02 L 65.97 206.30 L 66.85 207.79 L 67.73 209.47 L 68.61 211.31 L 69.5 213.29 L 70.38 215.42 L 71.26 217.71 L 72.14 220.20 L 73.02 222.89 L 73.91 225.75 L 74.79 228.75 L 75.67 231.91 L 76.55 235.34 L 77.44 239.09 L 78.32 243.05 L 79.20 246.88 L 80.08 250.27 L 80.97 253.08 L 81.85 255.31 L 82.73 257.06 L 83.61 258.40 L 84.5 259.37 L 85.38 260.08 L 86.26 260.59 L 87.14 260.92 L 88.02 261.03 L 88.91 260.88 L 89.79 260.50 L 90.67 259.95 L 91.55 259.30 L 92.44 258.55 L 93.32 257.71 L 94.20 256.80 L 95.08 255.86 L 95.97 254.91 L 96.85 253.97 L 97.73 253.05 L 98.61 252.16 L 99.5 251.29 L 100.38 250.46 L 101.26 249.66 L 102.14 248.90 L 103.02 248.18 L 103.91 247.48 L 104.79 246.82 L 105.67 246.17 L 106.55 245.52 L 107.44 244.89 L 108.32 244.34 L 109.20 243.92 L 110.08 243.64 L 110.97 243.42 L 111.85 243.23 L 112.73 243.06 L 113.61 242.95 L 114.5 242.92 L 115.38 242.97 L 116.26 243.11 L 117.14 243.31 L 118.02 243.58 L 118.91 243.90 L 119.79 244.23 L 120.67 244.55 L 121.55 244.84 L 122.44 245.07 L 123.32 245.23 L 124.20 245.33 L 125.08 245.37 L 125.97 245.36 L 126.85 245.32 L 127.73 245.26 L 128.61 245.18 L 129.5 245.09 L 130.38 244.97 L 131.26 244.82 L 132.14 244.63 L 133.02 244.36 L 133.91 244.02 L 134.79 243.62 L 135.67 243.19 L 136.55 242.75 L 137.44 242.35 L 138.32 242.01 L 139.20 241.75 L 140.08 241.56 L 140.97 241.43 L 141.85 241.34 L 142.73 241.28 L 143.61 241.27 L 144.5 241.30 L 145.38 241.37 L 146.26 241.45 L 147.14 241.53 L 148.02 241.59 L 148.91 241.65 L 149.79 241.69 L 150.67 241.71 L 151.55 241.69 L 152.44 241.66 L 153.32 241.62 L 154.20 241.60 L 155.08 241.61 L 155.97 241.64 L 156.85 241.69 L 157.73 241.76 L 158.61 241.85 L 159.5 241.96 L 160.38 242.08 L 161.26 242.18 L 162.14 242.27 L 163.02 242.34 L 163.91 242.41 L 164.79 242.47 L 165.67 242.56 L 166.55 242.66 L 167.44 242.77 L 168.32 242.87 L 169.20 242.92 L 170.08 242.93 L 170.97 242.90 L 171.85 242.86 L 172.73 242.84 L 173.61 242.86 L 174.5 242.90 L 175.38 242.96 L 176.26 243.05 L 177.14 243.17 L 178.02 243.33 L 178.91 243.50 L 179.79 243.67 L 180.67 243.85 L 181.55 244.03 L 182.44 244.21 L 183.32 244.41 L 184.20 244.63 L 185.08 244.87 L 185.97 245.11 L 186.85 245.35 L 187.73 245.53 L 188.61 245.67 L 189.5 245.78 L 190.38 245.89 L 191.26 246.01 L 192.14 246.16 L 193.02 246.32 L 193.91 246.50 L 194.79 246.67 L 195.67 246.85 L 196.55 247.03 L 197.44 247.20 L 198.32 247.35 L 199.20 247.49 L 200.08 247.62 L 200.97 247.74 L 201.85 247.85 L 202.73 247.97 L 203.61 248.08 L 204.5 248.20 L 205.38 248.31 L 206.26 248.42 L 207.14 248.53 L 208.02 248.63 L 208.91 248.74 L 209.79 248.85 L 210.67 248.95 L 211.55 249.07 L 212.44 249.19 L 213.32 249.36 L 214.20 249.57 L 215.08 249.82 L 215.97 250.08 L 216.85 250.35 L 217.73 250.61 L 218.61 250.88 L 219.5 251.14 L 220.38 251.42 L 221.26 251.71 L 222.14 252.01 L 223.02 252.32 L 223.91 252.63 L 224.79 252.94 L 225.67 253.24 L 226.55 253.54 L 227.44 253.82 L 228.32 254.05 L 229.20 254.24 L 230.08 254.40 L 230.97 254.55 L 231.85 254.70 L 232.73 254.85 L 233.61 255.00 L 234.5 255.16 L 235.38 255.31 L 236.26 255.47 L 237.14 255.62 L 238.02 255.78 L 238.91 255.94 L 239.79 256.10 L 240.67 256.26 L 241.55 256.42 L 242.44 256.60 L 243.32 256.80 L 244.20 257.01 L 245.08 257.22 L 245.97 257.44 L 246.85 257.66 L 247.73 257.88 L 248.61 258.10 L 249.5 258.30 L 250.38 258.48 L 251.26 258.63 L 252.14 258.77 L 253.02 258.91 L 253.91 259.04 L 254.79 259.17 L 255.67 259.30 L 256.55 259.43 L 257.44 259.55 L 258.32 259.67 L 259.20 259.78 L 260.08 259.88 L 260.97 259.99 L 261.85 260.09 L 262.73 260.20 L 263.61 260.30 L 264.5 260.40 L 265.38 260.50 L 266.26 260.59 L 267.14 260.68 L 268.02 260.77 L 268.91 260.86 L 269.79 260.95 L 270.67 261.04 L 271.55 261.13 L 272.44 261.23 L 273.32 261.34 L 274.20 261.45 L 275.08 261.57 L 275.97 261.68 L 276.85 261.79 L 277.73 261.91 L 278.61 262.02 L 279.5 262.12 L 280.38 262.22 L 281.26 262.31 L 282.14 262.40 L 283.02 262.49 L 283.91 262.58 L 284.79 262.67 L 285.67 262.77 L 286.55 262.90 L 287.44 263.06 L 288.32 263.26 L 289.20 263.47 L 290.08 263.69 L 290.97 263.91 L 291.85 264.13 L 292.73 264.35 L 293.61 264.57 L 294.5 264.78 L 295.38 264.98 L 296.26 265.17 L 297.14 265.37 L 298.02 265.56 L 298.91 265.76 L 299.79 265.95 L 300.67 266.15 L 301.55 266.37 L 302.44 266.60 L 303.32 266.84 L 304.20 267.08 L 305.08 267.33 L 305.97 267.58 L 306.85 267.82 L 307.73 268.06 L 308.61 268.29 L 309.5 268.50 L 310.38 268.68 L 311.26 268.86 L 312.14 269.04 L 313.02 269.22 L 313.91 269.39 L 314.79 269.57 L 315.67 269.74 L 316.55 269.91 L 317.44 270.07 L 318.32 270.23 L 319.20 270.39 L 320.08 270.55 L 320.97 270.71 L 321.85 270.87 L 322.73 271.03 L 323.61 271.18 L 324.5 271.34 L 325.38 271.49 L 326.26 271.64 L 327.14 271.79 L 328.02 271.94 L 328.91 272.09 L 329.79 272.24 L 330.67 272.40 L 331.55 272.56 L 332.44 272.73 L 333.32 272.91 L 334.20 273.09 L 335.08 273.26 L 335.97 273.44 L 336.85 273.62 L 337.73 273.81 L 338.61 274.01 L 339.5 274.23 L 340.38 274.45 L 341.26 274.66 L 342.14 274.85 L 343.02 275.02 L 343.91 275.19 L 344.79 275.35 L 345.67 275.51 L 346.55 275.67 L 347.44 275.83 L 348.32 275.99 L 349.20 276.14 L 350.08 276.30 L 350.97 276.47 L 351.85 276.63 L 352.73 276.79 L 353.61 276.96 L 354.5 277.13 L 355.38 277.31 L 356.26 277.49 L 357.14 277.68 L 358.02 277.86 L 358.91 278.04 L 359.79 278.22 L 360.67 278.40 L 361.55 278.57 L 362.44 278.75 L 363.32 278.92 L 364.20 279.09 L 365.08 279.26 L 365.97 279.43 L 366.85 279.60 L 367.73 279.76 L 368.61 279.93 L 369.5 280.09 L 370.38 280.25 L 371.26 280.41 L 372.14 280.57 L 373.02 280.72 L 373.91 280.88 L 374.79 281.03 L 375.67 281.18 L 376.55 281.33 L 377.44 281.48 L 378.32 281.62 L 379.20 281.77 L 380.08 281.91 L 380.97 282.05 L 381.85 282.19 L 382.73 282.33 L 383.61 282.46 L 384.5 282.60 L 385.38 282.73 L 386.26 282.86 L 387.14 282.99 L 388.02 283.12 L 388.91 283.25 L 389.79 283.38 L 390.67 283.50 L 391.55 283.62 L 392.44 283.74 L 393.32 283.86 L 394.20 283.98 L 395.08 284.10 L 395.97 284.21 L 396.85 284.33 L 397.73 284.44 L 398.61 284.55 L 399.5 284.66 L 400.38 284.76 L 401.26 284.87 L 402.14 284.97 L 403.02 285.07 L 403.91 285.18 L 404.79 285.27 L 405.67 285.37 L 406.55 285.47 L 407.44 285.56 L 408.32 285.66 L 409.20 285.75 L 410.08 285.84 L 410.97 285.93 L 411.85 286.01 L 412.73 286.10 L 413.61 286.18 L 414.5 286.27 L 415.38 286.35 L 416.26 286.43 L 417.14 286.51 L 418.02 286.58 L 418.91 286.66 L 419.79 286.73 L 420.67 286.80 L 421.55 286.87 L 422.44 286.94 L 423.32 287.01 L 424.20 287.08 L 425.08 287.14 L 425.97 287.20 L 426.85 287.26 L 427.73 287.32 L 428.61 287.38 L 429.5 287.44 L 430.38 287.50 L 431.26 287.55 L 432.14 287.60 L 433.02 287.65 L 433.91 287.70 L 434.79 287.75 L 435.67 287.79 L 436.55 287.83 L 437.44 287.87 L 438.32 287.91 L 439.20 287.94 L 440.08 287.98 L 440.97 288.01 L 441.85 288.04 L 442.73 288.07 L 443.61 288.10 L 444.5 288.12 L 445.38 288.15 L 446.26 288.17 L 447.14 288.19 L 448.02 288.21 L 448.91 288.23 L 449.79 288.25 L 450.67 288.26 L 451.55 288.28 L 452.44 288.29 L 453.32 288.30 L 454.20 288.31 L 455.08 288.32 L 455.97 288.31 L 456.85 288.30 L 457.73 288.28 L 458.61 288.26 L 459.5 288.24 L 460.38 288.22 L 461.26 288.19 L 462.14 288.16 L 463.02 288.13 L 463.91 288.10 L 464.79 288.07 L 465.67 288.04 L 466.55 288.01 L 467.44 287.97 L 468.32 287.93 L 469.20 287.90 L 470.08 287.85 L 470.97 287.81 L 471.85 287.77 L 472.73 287.73 L 473.61 287.68 L 474.5 287.63 L 475.38 287.58 L 476.26 287.54 L 477.14 287.48 L 478.02 287.43 L 478.91 287.38 L 479.79 287.32 L 480.67 287.27 L 481.55 287.21 L 482.44 287.15 L 483.32 287.09 L 484.20 287.02 L 485.08 286.96 L 485.97 286.89 L 486.85 286.83 L 487.73 286.76 L 488.61 286.69 L 489.5 286.61 L 490.38 286.54 L 491.26 286.46 L 492.14 286.39 L 493.02 286.31 L 493.91 286.23 L 494.79 286.15 L 495.67 286.07 L 496.55 285.99 L 497.44 285.90 L 498.32 285.81 L 499.20 285.73 L 500.08 285.64 L 500.97 285.55 L 501.85 285.46 L 502.73 285.36 L 503.61 285.27 L 504.5 285.18 L 505.38 285.08 L 506.26 284.98 L 507.14 284.88 L 508.02 284.78 L 508.91 284.68 L 509.79 284.57 L 510.67 284.47 L 511.55 284.36 L 512.44 284.26 L 513.32 284.15 L 514.20 284.03 L 515.08 283.92 L 515.97 283.80 L 516.85 283.69 L 517.73 283.57 L 518.61 283.45 L 519.5 283.33 L 520.38 283.20 L 521.26 283.08 L 522.14 282.95 L 523.02 282.83 L 523.91 282.70 L 524.79 282.57 L 525.67 282.44 L 526.55 282.30 L 527.44 282.17 L 528.32 282.03 L 529.20 281.90 L 530.08 281.76 L 530.97 281.62 L 531.85 281.48 L 532.73 281.34 L 533.61 281.20 L 534.5 281.05 L 535.38 280.91 L 536.26 280.76 L 537.14 280.61 L 538.02 280.47 L 538.91 280.32 L 539.79 280.17 L 540.67 280.01 L 541.55 279.86 L 542.44 279.70 L 543.32 279.55 L 544.20 279.39 L 545.08 279.23 L 545.97 279.07 L 546.85 278.91 L 547.73 278.75 L 548.61 278.58 L 549.5 278.42 L 550.38 278.25 L 551.26 278.08 L 552.14 277.91 L 553.02 277.74 L 553.91 277.57 L 554.79 277.40 L 555.67 277.22 L 556.55 277.05 L 557.44 276.87 L 558.32 276.70 L 559.20 276.52 L 560.08 276.34 L 560.97 276.19 L 561.85 276.08 L 562.73 276.02 " clip-path="url(#p6716cef48e)" style="fill: none; stroke: #0173b2; stroke-width: 1.7; stroke-linecap: square"/>
   </g>
   <g id="patch_6">
    <path d="M 48.32 388.08 L 48.32 62.70 " style="fill: none; stroke: #525252; stroke-width: 1.35; stroke-linejoin: miter; stroke-linecap: square"/>
   </g>
   <g id="patch_7">
    <path d="M 563.17 388.08 L 563.17 62.70 " style="fill: none; stroke: #525252; stroke-width: 1.35; stroke-linejoin: miter; stroke-linecap: square"/>
   </g>
   <g id="patch_8">
    <path d="M 48.32 388.08 L 563.17 388.08 " style="fill: none; stroke: #525252; stroke-width: 1.35; stroke-linejoin: miter; stroke-linecap: square"/>
   </g>
   <g id="patch_9">
    <path d="M 48.32 62.70 L 563.17 62.70 " style="fill: none; stroke: #525252; stroke-width: 1.35; stroke-linejoin: miter; stroke-linecap: square"/>
   </g>
   <g id="text_15">
    <g transform="translate(219.266019 28.352397) scale(0.12696 -0.12696)">
     <defs>
      <path id="DejaVuSans-5a" d="M 359 4666 L 4025 4666 L 4025 4184 L 1075 531 L 4097 531 L 4097 0 L 288 0 L 288 481 L 3238 4134 L 359 4134 L 359 4666 z " transform="scale(0.015625)"/>
      <path id="DejaVuSans-6f" d="M 1959 3097 Q 1497 3097 1228 2736 Q 959 2375 959 1747 Q 959 1119 1226 758 Q 1494 397 1959 397 Q 2419 397 2687 759 Q 2956 1122 2956 1747 Q 2956 2369 2687 2733 Q 2419 3097 1959 3097 z M 1959 3584 Q 2709 3584 3137 3096 Q 3566 2609 3566 1747 Q 3566 888 3137 398 Q 2709 -91 1959 -91 Q 1206 -91 779 398 Q 353 888 353 1747 Q 353 2609 779 3096 Q 1206 3584 1959 3584 z " transform="scale(0.015625)"/>
      <path id="DejaVuSans-65" d="M 3597 1894 L 3597 1613 L 953 1613 Q 991 1019 1311 708 Q 1631 397 2203 397 Q 2534 397 2845 478 Q 3156 559 3463 722 L 3463 178 Q 3153 47 2828 -22 Q 2503 -91 2169 -91 Q 1331 -91 842 396 Q 353 884 353 1716 Q 353 2575 817 3079 Q 1281 3584 2069 3584 Q 2775 3584 3186 3129 Q 3597 2675 3597 1894 z M 3022 2063 Q 3016 2534 2758 2815 Q 2500 3097 2075 3097 Q 1594 3097 1305 2825 Q 1016 2553 972 2059 L 3022 2063 z " transform="scale(0.015625)"/>
      <path id="DejaVuSans-74" d="M 1172 4494 L 1172 3500 L 2356 3500 L 2356 3053 L 1172 3053 L 1172 1153 Q 1172 725 1289 603 Q 1406 481 1766 481 L 2356 481 L 2356 0 L 1766 0 Q 1100 0 847 248 Q 594 497 594 1153 L 594 3053 L 172 3053 L 172 3500 L 594 3500 L 594 4494 L 1172 4494 z " transform="scale(0.015625)"/>
      <path id="DejaVuSans-4e" d="M 628 4666 L 1478 4666 L 3547 763 L 3547 4666 L 4159 4666 L 4159 0 L 3309 0 L 1241 3903 L 1241 0 L 628 0 L 628 4666 z " transform="scale(0.015625)"/>
     </defs>
     <use href="#DejaVuSans-5a"/>
     <use href="#DejaVuSans-6f" transform="translate(68.505859 0)"/>
     <use href="#DejaVuSans-6e" transform="translate(129.6875 0)"/>
     <use href="#DejaVuSans-61" transform="translate(193.066406 0)"/>
     <use href="#DejaVuSans-6c" transform="translate(254.345703 0)"/>
     <use href="#DejaVuSans-20" transform="translate(282.128906 0)"/>
     <use href="#DejaVuSans-6d" transform="translate(313.916016 0)"/>
     <use href="#DejaVuSans-65" transform="translate(411.328125 0)"/>
     <use href="#DejaVuSans-61" transform="translate(472.851562 0)"/>
     <use href="#DejaVuSans-6e" transform="translate(534.130859 0)"/>
     <use href="#DejaVuSans-20" transform="translate(597.509766 0)"/>
     <use href="#DejaVuSans-55" transform="translate(629.296875 0)"/>
     <use href="#DejaVuSans-31" transform="translate(702.490234 0)"/>
     <use href="#DejaVuSans-30" transform="translate(766.113281 0)"/>
     <use href="#DejaVuSans-68" transform="translate(829.736328 0)"/>
     <use href="#DejaVuSans-50" transform="translate(893.115234 0)"/>
     <use href="#DejaVuSans-61" transform="translate(948.917969 0)"/>
     <use href="#DejaVuSans-20" transform="translate(1010.197266 0)"/>
     <use href="#DejaVuSans-61" transform="translate(1041.984375 0)"/>
     <use href="#DejaVuSans-74" transform="translate(1103.263672 0)"/>
     <use href="#DejaVuSans-20" transform="translate(1142.472656 0)"/>
     <use href="#DejaVuSans-36" transform="translate(1174.259766 0)"/>
     <use href="#DejaVuSans-30" transform="translate(1237.882812 0)"/>
     <use href="#DejaVuSans-4e" transform="translate(1301.505859 0)"/>
    </g>
    <g transform="translate(171.3654 42.56914) scale(0.12696 -0.12696)">
     <defs>
      <path id="DejaVuSans-43" d="M 4122 4306 L 4122 3641 Q 3803 3938 3442 4084 Q 3081 4231 2675 4231 Q 1875 4231 1450 3742 Q 1025 3253 1025 2328 Q 1025 1406 1450 917 Q 1875 428 2675 428 Q 3081 428 3442 575 Q 3803 722 4122 1019 L 4122 359 Q 3791 134 3420 21 Q 3050 -91 2638 -91 Q 1578 -91 968 557 Q 359 1206 359 2328 Q 359 3453 968 4101 Q 1578 4750 2638 4750 Q 3056 4750 3426 4639 Q 3797 4528 4122 4306 z " transform="scale(0.015625)"/>
      <path id="DejaVuSans-33" d="M 2597 2516 Q 3050 2419 3304 2112 Q 3559 1806 3559 1356 Q 3559 666 3084 287 Q 2609 -91 1734 -91 Q 1441 -91 1130 -33 Q 819 25 488 141 L 488 750 Q 750 597 1062 519 Q 1375 441 1716 441 Q 2309 441 2620 675 Q 2931 909 2931 1356 Q 2931 1769 2642 2001 Q 2353 2234 1838 2234 L 1294 2234 L 1294 2753 L 1863 2753 Q 2328 2753 2575 2939 Q 2822 3125 2822 3475 Q 2822 3834 2567 4026 Q 2313 4219 1838 4219 Q 1578 4219 1281 4162 Q 984 4106 628 3988 L 628 4550 Q 988 4650 1302 4700 Q 1616 4750 1894 4750 Q 2613 4750 3031 4423 Q 3450 4097 3450 3541 Q 3450 3153 3228 2886 Q 3006 2619 2597 2516 z " transform="scale(0.015625)"/>
      <path id="DejaVuSans-53" d="M 3425 4513 L 3425 3897 Q 3066 4069 2747 4153 Q 2428 4238 2131 4238 Q 1616 4238 1336 4038 Q 1056 3838 1056 3469 Q 1056 3159 1242 3001 Q 1428 2844 1947 2747 L 2328 2669 Q 3034 2534 3370 2195 Q 3706 1856 3706 1288 Q 3706 609 3251 259 Q 2797 -91 1919 -91 Q 1588 -91 1214 -16 Q 841 59 441 206 L 441 856 Q 825 641 1194 531 Q 1563 422 1919 422 Q 2459 422 2753 634 Q 3047 847 3047 1241 Q 3047 1584 2836 1778 Q 2625 1972 2144 2069 L 1759 2144 Q 1053 2284 737 2584 Q 422 2884 422 3419 Q 422 4038 858 4394 Q 1294 4750 2059 4750 Q 2388 4750 2728 4690 Q 3069 4631 3425 4513 z " transform="scale(0.015625)"/>
      <path id="DejaVuSans-3a" d="M 750 794 L 1409 794 L 1409 0 L 750 0 L 750 794 z M 750 3309 L 1409 3309 L 1409 2516 L 750 2516 L 750 3309 z " transform="scale(0.015625)"/>
      <path id="DejaVuSans-45" d="M 628 4666 L 3578 4666 L 3578 4134 L 1259 4134 L 1259 2753 L 3481 2753 L 3481 2222 L 1259 2222 L 1259 531 L 3634 531 L 3634 0 L 628 0 L 628 4666 z " transform="scale(0.015625)"/>
      <path id="DejaVuSans-57" d="M 213 4666 L 850 4666 L 1831 722 L 2809 4666 L 3519 4666 L 4500 722 L 5478 4666 L 6119 4666 L 4947 0 L 4153 0 L 3169 4050 L 2175 0 L 1381 0 L 213 4666 z " transform="scale(0.015625)"/>
      <path id="DejaVuSans-46" d="M 628 4666 L 3309 4666 L 3309 4134 L 1259 4134 L 1259 2759 L 3109 2759 L 3109 2228 L 1259 2228 L 1259 0 L 628 0 L 628 4666 z " transform="scale(0.015625)"/>
      <path id="DejaVuSans-63" d="M 3122 3366 L 3122 2828 Q 2878 2963 2633 3030 Q 2388 3097 2138 3097 Q 1578 3097 1268 2742 Q 959 2388 959 1747 Q 959 1106 1268 751 Q 1578 397 2138 397 Q 2388 397 2633 464 Q 2878 531 3122 666 L 3122 134 Q 2881 22 2623 -34 Q 2366 -91 2075 -91 Q 1284 -91 818 406 Q 353 903 353 1747 Q 353 2603 823 3093 Q 1294 3584 2113 3584 Q 2378 3584 2631 3529 Q 2884 3475 3122 3366 z " transform="scale(0.015625)"/>
      <path id="DejaVuSans-69" d="M 603 3500 L 1178 3500 L 1178 0 L 603 0 L 603 3500 z M 603 4863 L 1178 4863 L 1178 4134 L 603 4134 L 603 4863 z " transform="scale(0.015625)"/>
      <path id="DejaVuSans-62" d="M 3116 1747 Q 3116 2381 2855 2742 Q 2594 3103 2138 3103 Q 1681 3103 1420 2742 Q 1159 2381 1159 1747 Q 1159 1113 1420 752 Q 1681 391 2138 391 Q 2594 391 2855 752 Q 3116 1113 3116 1747 z M 1159 2969 Q 1341 3281 1617 3432 Q 1894 3584 2278 3584 Q 2916 3584 3314 3078 Q 3713 2572 3713 1747 Q 3713 922 3314 415 Q 2916 -91 2278 -91 Q 1894 -91 1617 61 Q 1341 213 1159 525 L 1159 0 L 581 0 L 581 4863 L 1159 4863 L 1159 2969 z " transform="scale(0.015625)"/>
      <path id="DejaVuSans-66" d="M 2375 4863 L 2375 4384 L 1825 4384 Q 1516 4384 1395 4259 Q 1275 4134 1275 3809 L 1275 3500 L 2222 3500 L 2222 3053 L 1275 3053 L 1275 0 L 697 0 L 697 3053 L 147 3053 L 147 3500 L 697 3500 L 697 3744 Q 697 4328 969 4595 Q 1241 4863 1831 4863 L 2375 4863 z " transform="scale(0.015625)"/>
     </defs>
     <use href="#DejaVuSans-43"/>
     <use href="#DejaVuSans-33" transform="translate(69.824219 0)"/>
     <use href="#DejaVuSans-53" transform="translate(133.447266 0)"/>
     <use href="#DejaVuSans-3a" transform="translate(196.923828 0)"/>
     <use href="#DejaVuSans-20" transform="translate(230.615234 0)"/>
     <use href="#DejaVuSans-45" transform="translate(262.402344 0)"/>
     <use href="#DejaVuSans-43" transform="translate(325.585938 0)"/>
     <use href="#DejaVuSans-4d" transform="translate(395.410156 0)"/>
     <use href="#DejaVuSans-57" transform="translate(481.689453 0)"/>
     <use href="#DejaVuSans-46" transform="translate(580.566406 0)"/>
     <use href="#DejaVuSans-20" transform="translate(638.085938 0)"/>
     <use href="#DejaVuSans-63" transform="translate(669.873047 0)"/>
     <use href="#DejaVuSans-6f" transform="translate(724.853516 0)"/>
     <use href="#DejaVuSans-6e" transform="translate(786.035156 0)"/>
     <use href="#DejaVuSans-74" transform="translate(849.414062 0)"/>
     <use href="#DejaVuSans-72" transform="translate(888.623047 0)"/>
     <use href="#DejaVuSans-69" transform="translate(929.736328 0)"/>
     <use href="#DejaVuSans-62" transform="translate(957.519531 0)"/>
     <use href="#DejaVuSans-75" transform="translate(1020.996094 0)"/>
     <use href="#DejaVuSans-74" transform="translate(1084.375 0)"/>
     <use href="#DejaVuSans-69" transform="translate(1123.583984 0)"/>
     <use href="#DejaVuSans-6f" transform="translate(1151.367188 0)"/>
     <use href="#DejaVuSans-6e" transform="translate(1212.548828 0)"/>
     <use href="#DejaVuSans-20" transform="translate(1275.927734 0)"/>
     <use href="#DejaVuSans-66" transform="translate(1307.714844 0)"/>
     <use href="#DejaVuSans-72" transform="translate(1342.919922 0)"/>
     <use href="#DejaVuSans-6f" transform="translate(1381.783203 0)"/>
     <use href="#DejaVuSans-6d" transform="translate(1442.964844 0)"/>
     <use href="#DejaVuSans-20" transform="translate(1540.376953 0)"/>
     <use href="#DejaVuSans-31" transform="translate(1572.164062 0)"/>
     <use href="#DejaVuSans-20" transform="translate(1635.787109 0)"/>
     <use href="#DejaVuSans-46" transform="translate(1667.574219 0)"/>
     <use href="#DejaVuSans-65" transform="translate(1719.59375 0)"/>
     <use href="#DejaVuSans-62" transform="translate(1781.117188 0)"/>
     <use href="#DejaVuSans-20" transform="translate(1844.59375 0)"/>
     <use href="#DejaVuSans-32" transform="translate(1876.380859 0)"/>
     <use href="#DejaVuSans-30" transform="translate(1940.003906 0)"/>
     <use href="#DejaVuSans-32" transform="translate(2003.626953 0)"/>
     <use href="#DejaVuSans-36" transform="translate(2067.25 0)"/>
    </g>
    <g transform="translate(223.344609 56.785882) scale(0.12696 -0.12696)">
     <defs>
      <path id="DejaVuSans-64" d="M 2906 2969 L 2906 4863 L 3481 4863 L 3481 0 L 2906 0 L 2906 525 Q 2725 213 2448 61 Q 2172 -91 1784 -91 Q 1150 -91 751 415 Q 353 922 353 1747 Q 353 2572 751 3078 Q 1150 3584 1784 3584 Q 2172 3584 2448 3432 Q 2725 3281 2906 2969 z M 947 1747 Q 947 1113 1208 752 Q 1469 391 1925 391 Q 2381 391 2643 752 Q 2906 1113 2906 1747 Q 2906 2381 2643 2742 Q 2381 3103 1925 3103 Q 1469 3103 1208 2742 Q 947 2381 947 1747 z " transform="scale(0.015625)"/>
      <path id="DejaVuSans-39" d="M 703 97 L 703 672 Q 941 559 1184 500 Q 1428 441 1663 441 Q 2288 441 2617 861 Q 2947 1281 2994 2138 Q 2813 1869 2534 1725 Q 2256 1581 1919 1581 Q 1219 1581 811 2004 Q 403 2428 403 3163 Q 403 3881 828 4315 Q 1253 4750 1959 4750 Q 2769 4750 3195 4129 Q 3622 3509 3622 2328 Q 3622 1225 3098 567 Q 2575 -91 1691 -91 Q 1453 -91 1209 -44 Q 966 3 703 97 z M 1959 2075 Q 2384 2075 2632 2365 Q 2881 2656 2881 3163 Q 2881 3666 2632 3958 Q 2384 4250 1959 4250 Q 1534 4250 1286 3958 Q 1038 3666 1038 3163 Q 1038 2656 1286 2365 Q 1534 2075 1959 2075 z " transform="scale(0.015625)"/>
      <path id="DejaVuSans-2d" d="M 313 2009 L 1997 2009 L 1997 1497 L 313 1497 L 313 2009 z " transform="scale(0.015625)"/>
     </defs>
     <use href="#DejaVuSans-43"/>
     <use href="#DejaVuSans-6c" transform="translate(69.824219 0)"/>
     <use href="#DejaVuSans-69" transform="translate(97.607422 0)"/>
     <use href="#DejaVuSans-6d" transform="translate(125.390625 0)"/>
     <use href="#DejaVuSans-61" transform="translate(222.802734 0)"/>
     <use href="#DejaVuSans-74" transform="translate(284.082031 0)"/>
     <use href="#DejaVuSans-65" transform="translate(323.291016 0)"/>
     <use href="#DejaVuSans-20" transform="translate(384.814453 0)"/>
     <use href="#DejaVuSans-70" transform="translate(416.601562 0)"/>
     <use href="#DejaVuSans-65" transform="translate(480.078125 0)"/>
     <use href="#DejaVuSans-72" transform="translate(541.601562 0)"/>
     <use href="#DejaVuSans-69" transform="translate(582.714844 0)"/>
     <use href="#DejaVuSans-6f" transform="translate(610.498047 0)"/>
     <use href="#DejaVuSans-64" transform="translate(671.679688 0)"/>
     <use href="#DejaVuSans-20" transform="translate(735.15625 0)"/>
     <use href="#DejaVuSans-31" transform="translate(766.943359 0)"/>
     <use href="#DejaVuSans-39" transform="translate(830.566406 0)"/>
     <use href="#DejaVuSans-39" transform="translate(894.189453 0)"/>
     <use href="#DejaVuSans-33" transform="translate(957.8125 0)"/>
     <use href="#DejaVuSans-2d" transform="translate(1021.435547 0)"/>
     <use href="#DejaVuSans-32" transform="translate(1057.519531 0)"/>
     <use href="#DejaVuSans-30" transform="translate(1121.142578 0)"/>
     <use href="#DejaVuSans-31" transform="translate(1184.765625 0)"/>
     <use href="#DejaVuSans-36" transform="translate(1248.388672 0)"/>
    </g>
   </g>
   <g id="legend_1">
    <g id="patch_10">
     <path d="M 71.00 90.13 L 558.03 90.13 Q 559.50 90.13 559.50 88.66 L 559.50 67.84 Q 559.50 66.37 558.03 66.37 L 71.00 66.37 Q 69.54 66.37 69.54 67.84 L 69.54 88.66 Q 69.54 90.13 71.00 90.13 z " style="fill: #ffffff; opacity: 0.8; stroke: #cccccc; stroke-linejoin: miter"/>
    </g>
    <g id="patch_11">
     <path d="M 72.47 74.89 L 87.16 74.89 L 87.16 69.75 L 72.47 69.75 z " style="fill: #de8f05; fill-opacity: 0.5; stroke: #de8f05; stroke-opacity: 0.5; stroke-linejoin: miter"/>
    </g>
    <g id="text_16">
     <g transform="translate(93.03721 74.893318) scale(0.073425 -0.073425)">
      <use href="#DejaVuSans-4d"/>
      <use href="#DejaVuSans-6f" transform="translate(86.279297 0)"/>
      <use href="#DejaVuSans-64" transform="translate(147.460938 0)"/>
      <use href="#DejaVuSans-65" transform="translate(210.9375 0)"/>
      <use href="#DejaVuSans-6c" transform="translate(272.460938 0)"/>
      <use href="#DejaVuSans-20" transform="translate(300.244141 0)"/>
      <use href="#DejaVuSans-63" transform="translate(332.03125 0)"/>
      <use href="#DejaVuSans-6c" transform="translate(387.011719 0)"/>
      <use href="#DejaVuSans-69" transform="translate(414.794922 0)"/>
      <use href="#DejaVuSans-6d" transform="translate(442.578125 0)"/>
      <use href="#DejaVuSans-61" transform="translate(539.990234 0)"/>
      <use href="#DejaVuSans-74" transform="translate(601.269531 0)"/>
      <use href="#DejaVuSans-65" transform="translate(640.478516 0)"/>
      <use href="#DejaVuSans-20" transform="translate(702.001953 0)"/>
      <use href="#DejaVuSans-50" transform="translate(733.789062 0)"/>
      <use href="#DejaVuSans-31" transform="translate(794.091797 0)"/>
      <use href="#DejaVuSans-30" transform="translate(857.714844 0)"/>
      <use href="#DejaVuSans-2d" transform="translate(921.337891 0)"/>
      <use href="#DejaVuSans-50" transform="translate(957.421875 0)"/>
      <use href="#DejaVuSans-39" transform="translate(1017.724609 0)"/>
      <use href="#DejaVuSans-30" transform="translate(1081.347656 0)"/>
     </g>
    </g>
    <g id="patch_12">
     <path d="M 72.47 85.67 L 87.16 85.67 L 87.16 80.53 L 72.47 80.53 z " style="fill: #de8f05; fill-opacity: 0.7; stroke: #de8f05; stroke-opacity: 0.7; stroke-linejoin: miter"/>
    </g>
    <g id="text_17">
     <g transform="translate(93.03721 85.670761) scale(0.073425 -0.073425)">
      <defs>
       <path id="DejaVuSans-35" d="M 691 4666 L 3169 4666 L 3169 4134 L 1269 4134 L 1269 2991 Q 1406 3038 1543 3061 Q 1681 3084 1819 3084 Q 2600 3084 3056 2656 Q 3513 2228 3513 1497 Q 3513 744 3044 326 Q 2575 -91 1722 -91 Q 1428 -91 1123 -41 Q 819 9 494 109 L 494 744 Q 775 591 1075 516 Q 1375 441 1709 441 Q 2250 441 2565 725 Q 2881 1009 2881 1497 Q 2881 1984 2565 2268 Q 2250 2553 1709 2553 Q 1456 2553 1204 2497 Q 953 2441 691 2322 L 691 4666 z " transform="scale(0.015625)"/>
       <path id="DejaVuSans-37" d="M 525 4666 L 3525 4666 L 3525 4397 L 1831 0 L 1172 0 L 2766 4134 L 525 4134 L 525 4666 z " transform="scale(0.015625)"/>
      </defs>
      <use href="#DejaVuSans-4d"/>
      <use href="#DejaVuSans-6f" transform="translate(86.279297 0)"/>
      <use href="#DejaVuSans-64" transform="translate(147.460938 0)"/>
      <use href="#DejaVuSans-65" transform="translate(210.9375 0)"/>
      <use href="#DejaVuSans-6c" transform="translate(272.460938 0)"/>
      <use href="#DejaVuSans-20" transform="translate(300.244141 0)"/>
      <use href="#DejaVuSans-63" transform="translate(332.03125 0)"/>
      <use href="#DejaVuSans-6c" transform="translate(387.011719 0)"/>
      <use href="#DejaVuSans-69" transform="translate(414.794922 0)"/>
      <use href="#DejaVuSans-6d" transform="translate(442.578125 0)"/>
      <use href="#DejaVuSans-61" transform="translate(539.990234 0)"/>
      <use href="#DejaVuSans-74" transform="translate(601.269531 0)"/>
      <use href="#DejaVuSans-65" transform="translate(640.478516 0)"/>
      <use href="#DejaVuSans-20" transform="translate(702.001953 0)"/>
      <use href="#DejaVuSans-50" transform="translate(733.789062 0)"/>
      <use href="#DejaVuSans-32" transform="translate(794.091797 0)"/>
      <use href="#DejaVuSans-35" transform="translate(857.714844 0)"/>
      <use href="#DejaVuSans-2d" transform="translate(921.337891 0)"/>
      <use href="#DejaVuSans-50" transform="translate(957.421875 0)"/>
      <use href="#DejaVuSans-37" transform="translate(1017.724609 0)"/>
      <use href="#DejaVuSans-35" transform="translate(1081.347656 0)"/>
     </g>
    </g>
    <g id="line2d_69">
     <path d="M 191.27 72.32 L 198.62 72.32 L 205.96 72.32 " style="fill: none; stroke: #d55e00; stroke-width: 1.5; stroke-linecap: square"/>
    </g>
    <g id="text_18">
     <g transform="translate(211.836889 74.893318) scale(0.073425 -0.073425)">
      <use href="#DejaVuSans-4d"/>
      <use href="#DejaVuSans-6f" transform="translate(86.279297 0)"/>
      <use href="#DejaVuSans-64" transform="translate(147.460938 0)"/>
      <use href="#DejaVuSans-65" transform="translate(210.9375 0)"/>
      <use href="#DejaVuSans-6c" transform="translate(272.460938 0)"/>
      <use href="#DejaVuSans-20" transform="translate(300.244141 0)"/>
      <use href="#DejaVuSans-63" transform="translate(332.03125 0)"/>
      <use href="#DejaVuSans-6c" transform="translate(387.011719 0)"/>
      <use href="#DejaVuSans-69" transform="translate(414.794922 0)"/>
      <use href="#DejaVuSans-6d" transform="translate(442.578125 0)"/>
      <use href="#DejaVuSans-61" transform="translate(539.990234 0)"/>
      <use href="#DejaVuSans-74" transform="translate(601.269531 0)"/>
      <use href="#DejaVuSans-65" transform="translate(640.478516 0)"/>
      <use href="#DejaVuSans-20" transform="translate(702.001953 0)"/>
      <use href="#DejaVuSans-6d" transform="translate(733.789062 0)"/>
      <use href="#DejaVuSans-65" transform="translate(831.201172 0)"/>
      <use href="#DejaVuSans-61" transform="translate(892.724609 0)"/>
      <use href="#DejaVuSans-6e" transform="translate(954.003906 0)"/>
     </g>
    </g>
    <g id="patch_13">
     <path d="M 191.27 85.67 L 205.96 85.67 L 205.96 80.53 L 191.27 80.53 z " style="fill: #de8f05; fill-opacity: 0.3; stroke: #de8f05; stroke-opacity: 0.3; stroke-linejoin: miter"/>
    </g>
    <g id="text_19">
     <g transform="translate(211.836889 85.670761) scale(0.073425 -0.073425)">
      <defs>
       <path id="DejaVuSans-78" d="M 3513 3500 L 2247 1797 L 3578 0 L 2900 0 L 1881 1375 L 863 0 L 184 0 L 1544 1831 L 300 3500 L 978 3500 L 1906 2253 L 2834 3500 L 3513 3500 z " transform="scale(0.015625)"/>
      </defs>
      <use href="#DejaVuSans-4d"/>
      <use href="#DejaVuSans-6f" transform="translate(86.279297 0)"/>
      <use href="#DejaVuSans-64" transform="translate(147.460938 0)"/>
      <use href="#DejaVuSans-65" transform="translate(210.9375 0)"/>
      <use href="#DejaVuSans-6c" transform="translate(272.460938 0)"/>
      <use href="#DejaVuSans-20" transform="translate(300.244141 0)"/>
      <use href="#DejaVuSans-63" transform="translate(332.03125 0)"/>
      <use href="#DejaVuSans-6c" transform="translate(387.011719 0)"/>
      <use href="#DejaVuSans-69" transform="translate(414.794922 0)"/>
      <use href="#DejaVuSans-6d" transform="translate(442.578125 0)"/>
      <use href="#DejaVuSans-61" transform="translate(539.990234 0)"/>
      <use href="#DejaVuSans-74" transform="translate(601.269531 0)"/>
      <use href="#DejaVuSans-65" transform="translate(640.478516 0)"/>
      <use href="#DejaVuSans-20" transform="translate(702.001953 0)"/>
      <use href="#DejaVuSans-4d" transform="translate(733.789062 0)"/>
      <use href="#DejaVuSans-69" transform="translate(820.068359 0)"/>
      <use href="#DejaVuSans-6e" transform="translate(847.851562 0)"/>
      <use href="#DejaVuSans-2d" transform="translate(911.230469 0)"/>
      <use href="#DejaVuSans-4d" transform="translate(947.314453 0)"/>
      <use href="#DejaVuSans-61" transform="translate(1033.59375 0)"/>
      <use href="#DejaVuSans-78" transform="translate(1094.873047 0)"/>
     </g>
    </g>
    <g id="line2d_70">
     <path d="M 310.74 72.32 L 318.08 72.32 L 325.43 72.32 " style="fill: none; stroke: #0173b2; stroke-width: 1.5; stroke-linecap: square"/>
    </g>
    <g id="text_20">
     <g transform="translate(331.304278 74.893318) scale(0.073425 -0.073425)">
      <use href="#DejaVuSans-46"/>
      <use href="#DejaVuSans-6f" transform="translate(53.894531 0)"/>
      <use href="#DejaVuSans-72" transform="translate(115.076172 0)"/>
      <use href="#DejaVuSans-65" transform="translate(153.939453 0)"/>
      <use href="#DejaVuSans-63" transform="translate(215.462891 0)"/>
      <use href="#DejaVuSans-61" transform="translate(270.443359 0)"/>
      <use href="#DejaVuSans-73" transform="translate(331.722656 0)"/>
      <use href="#DejaVuSans-74" transform="translate(383.822266 0)"/>
      <use href="#DejaVuSans-20" transform="translate(423.03125 0)"/>
      <use href="#DejaVuSans-65" transform="translate(454.818359 0)"/>
      <use href="#DejaVuSans-6e" transform="translate(516.341797 0)"/>
      <use href="#DejaVuSans-73" transform="translate(579.720703 0)"/>
      <use href="#DejaVuSans-65" transform="translate(631.820312 0)"/>
      <use href="#DejaVuSans-6d" transform="translate(693.34375 0)"/>
      <use href="#DejaVuSans-62" transform="translate(790.755859 0)"/>
      <use href="#DejaVuSans-6c" transform="translate(854.232422 0)"/>
      <use href="#DejaVuSans-65" transform="translate(882.015625 0)"/>
      <use href="#DejaVuSans-20" transform="translate(943.539062 0)"/>
      <use href="#DejaVuSans-6d" transform="translate(975.326172 0)"/>
      <use href="#DejaVuSans-65" transform="translate(1072.738281 0)"/>
      <use href="#DejaVuSans-61" transform="translate(1134.261719 0)"/>
      <use href="#DejaVuSans-6e" transform="translate(1195.541016 0)"/>
     </g>
    </g>
    <g id="line2d_71">
     <path d="M 310.74 83.10 L 318.08 83.10 L 325.43 83.10 " style="fill: none; stroke: #0173b2; stroke-opacity: 0.5; stroke-width: 0.62; stroke-linecap: square"/>
    </g>
    <g id="text_21">
     <g transform="translate(331.304278 85.670761) scale(0.073425 -0.073425)">
      <use href="#DejaVuSans-46"/>
      <use href="#DejaVuSans-6f" transform="translate(53.894531 0)"/>
      <use href="#DejaVuSans-72" transform="translate(115.076172 0)"/>
      <use href="#DejaVuSans-65" transform="translate(153.939453 0)"/>
      <use href="#DejaVuSans-63" transform="translate(215.462891 0)"/>
      <use href="#DejaVuSans-61" transform="translate(270.443359 0)"/>
      <use href="#DejaVuSans-73" transform="translate(331.722656 0)"/>
      <use href="#DejaVuSans-74" transform="translate(383.822266 0)"/>
      <use href="#DejaVuSans-20" transform="translate(423.03125 0)"/>
      <use href="#DejaVuSans-65" transform="translate(454.818359 0)"/>
      <use href="#DejaVuSans-6e" transform="translate(516.341797 0)"/>
      <use href="#DejaVuSans-73" transform="translate(579.720703 0)"/>
      <use href="#DejaVuSans-65" transform="translate(631.820312 0)"/>
      <use href="#DejaVuSans-6d" transform="translate(693.34375 0)"/>
      <use href="#DejaVuSans-62" transform="translate(790.755859 0)"/>
      <use href="#DejaVuSans-6c" transform="translate(854.232422 0)"/>
      <use href="#DejaVuSans-65" transform="translate(882.015625 0)"/>
      <use href="#DejaVuSans-20" transform="translate(943.539062 0)"/>
      <use href="#DejaVuSans-6d" transform="translate(975.326172 0)"/>
      <use href="#DejaVuSans-65" transform="translate(1072.738281 0)"/>
      <use href="#DejaVuSans-6d" transform="translate(1134.261719 0)"/>
      <use href="#DejaVuSans-62" transform="translate(1231.673828 0)"/>
      <use href="#DejaVuSans-65" transform="translate(1295.150391 0)"/>
      <use href="#DejaVuSans-72" transform="translate(1356.673828 0)"/>
      <use href="#DejaVuSans-73" transform="translate(1397.787109 0)"/>
     </g>
    </g>
    <g id="line2d_72">
     <path d="M 451.93 72.32 L 459.27 72.32 L 466.61 72.32 " style="fill: none; stroke: #000000; stroke-width: 1.5; stroke-linecap: square"/>
    </g>
    <g id="text_22">
     <g transform="translate(472.492907 74.893318) scale(0.073425 -0.073425)">
      <defs>
       <path id="DejaVuSans-52" d="M 2841 2188 Q 3044 2119 3236 1894 Q 3428 1669 3622 1275 L 4263 0 L 3584 0 L 2988 1197 Q 2756 1666 2539 1819 Q 2322 1972 1947 1972 L 1259 1972 L 1259 0 L 628 0 L 628 4666 L 2053 4666 Q 2853 4666 3247 4331 Q 3641 3997 3641 3322 Q 3641 2881 3436 2590 Q 3231 2300 2841 2188 z M 1259 4147 L 1259 2491 L 2053 2491 Q 2509 2491 2742 2702 Q 2975 2913 2975 3322 Q 2975 3731 2742 3939 Q 2509 4147 2053 4147 L 1259 4147 z " transform="scale(0.015625)"/>
      </defs>
      <use href="#DejaVuSans-45"/>
      <use href="#DejaVuSans-52" transform="translate(63.183594 0)"/>
      <use href="#DejaVuSans-41" transform="translate(128.666016 0)"/>
      <use href="#DejaVuSans-35" transform="translate(197.074219 0)"/>
      <use href="#DejaVuSans-20" transform="translate(260.697266 0)"/>
      <use href="#DejaVuSans-64" transform="translate(292.484375 0)"/>
      <use href="#DejaVuSans-61" transform="translate(355.960938 0)"/>
      <use href="#DejaVuSans-69" transform="translate(417.240234 0)"/>
      <use href="#DejaVuSans-6c" transform="translate(445.023438 0)"/>
      <use href="#DejaVuSans-79" transform="translate(472.806641 0)"/>
      <use href="#DejaVuSans-20" transform="translate(531.986328 0)"/>
      <use href="#DejaVuSans-63" transform="translate(563.773438 0)"/>
      <use href="#DejaVuSans-6c" transform="translate(618.753906 0)"/>
      <use href="#DejaVuSans-69" transform="translate(646.537109 0)"/>
      <use href="#DejaVuSans-6d" transform="translate(674.320312 0)"/>
      <use href="#DejaVuSans-61" transform="translate(771.732422 0)"/>
      <use href="#DejaVuSans-74" transform="translate(833.011719 0)"/>
      <use href="#DejaVuSans-6f" transform="translate(872.220703 0)"/>
      <use href="#DejaVuSans-6c" transform="translate(933.402344 0)"/>
      <use href="#DejaVuSans-6f" transform="translate(961.185547 0)"/>
      <use href="#DejaVuSans-67" transform="translate(1022.367188 0)"/>
      <use href="#DejaVuSans-79" transform="translate(1085.84375 0)"/>
     </g>
    </g>
   </g>
  </g>
 </g>
 <defs>
  <clipPath id="p6716cef48e">
   <rect x="48.323529" y="62.705882" width="514.852941" height="325.382353"/>
  </clipPath>
 </defs>
</svg>

</div>
<svg id="footer" width="2000" height="260" viewBox="0 1540 2000 260" style="position:absolute;left:0;top:1540px;display:block">
<defs><linearGradient id="gC" x1="0" y1="0" x2="0" y2="1"><stop offset="0" stop-color="#78ADDF"/><stop offset="1" stop-color="#3A74AE"/></linearGradient><linearGradient id="gT" gradientUnits="userSpaceOnUse" x1="0" y1="1634" x2="0" y2="1683"><stop offset="0" stop-color="#1F4FA6"/><stop offset="0.45" stop-color="#1A3C80"/><stop offset="1" stop-color="#101C36"/></linearGradient></defs>
<rect x="70.0" y="1594.7" width="146.7" height="97.1" fill="#254A9E"/>
<g fill="#F6E52A"><polygon points="143.35,1605.49 144.56,1609.22 148.48,1609.22 145.31,1611.52 146.52,1615.25 143.35,1612.94 140.18,1615.25 141.39,1611.52 138.22,1609.22 142.14,1609.22"/><polygon points="159.53,1609.83 160.74,1613.55 164.66,1613.55 161.49,1615.86 162.70,1619.58 159.53,1617.28 156.36,1619.58 157.57,1615.86 154.40,1613.55 158.32,1613.55"/><polygon points="171.38,1621.67 172.59,1625.40 176.51,1625.40 173.34,1627.70 174.55,1631.43 171.38,1629.13 168.21,1631.43 169.42,1627.70 166.25,1625.40 170.17,1625.40"/><polygon points="175.72,1637.86 176.93,1641.58 180.85,1641.58 177.68,1643.89 178.89,1647.61 175.72,1645.31 172.55,1647.61 173.76,1643.89 170.59,1641.58 174.51,1641.58"/><polygon points="171.38,1654.04 172.59,1657.77 176.51,1657.77 173.34,1660.07 174.55,1663.80 171.38,1661.49 168.21,1663.80 169.42,1660.07 166.25,1657.77 170.17,1657.77"/><polygon points="159.53,1665.89 160.74,1669.61 164.66,1669.61 161.49,1671.92 162.70,1675.64 159.53,1673.34 156.36,1675.64 157.57,1671.92 154.40,1669.61 158.32,1669.61"/><polygon points="143.35,1670.22 144.56,1673.95 148.48,1673.95 145.31,1676.25 146.52,1679.98 143.35,1677.68 140.18,1679.98 141.39,1676.25 138.22,1673.95 142.14,1673.95"/><polygon points="127.17,1665.89 128.38,1669.61 132.30,1669.61 129.13,1671.92 130.34,1675.64 127.17,1673.34 124.00,1675.64 125.21,1671.92 122.04,1669.61 125.96,1669.61"/><polygon points="115.32,1654.04 116.53,1657.77 120.45,1657.77 117.28,1660.07 118.49,1663.80 115.32,1661.49 112.15,1663.80 113.36,1660.07 110.19,1657.77 114.11,1657.77"/><polygon points="110.98,1637.86 112.19,1641.58 116.11,1641.58 112.94,1643.89 114.15,1647.61 110.98,1645.31 107.81,1647.61 109.02,1643.89 105.85,1641.58 109.77,1641.58"/><polygon points="115.32,1621.67 116.53,1625.40 120.45,1625.40 117.28,1627.70 118.49,1631.43 115.32,1629.13 112.15,1631.43 113.36,1627.70 110.19,1625.40 114.11,1625.40"/><polygon points="127.17,1609.83 128.38,1613.55 132.30,1613.55 129.13,1615.86 130.34,1619.58 127.17,1617.28 124.00,1619.58 125.21,1615.86 122.04,1613.55 125.96,1613.55"/></g>
<g font-family="'Liberation Sans',sans-serif" font-weight="700" font-size="30.5" fill="#767C7D"><text x="259.9" y="1637.1">PROGRAMME OF</text><text x="259.9" y="1671.3">THE EUROPEAN UNION</text></g>
<path fill="url(#gC)" d="M780.56 1623.63A46.5 46.5 0 1 0 759.1 1683.86A42.67 42.67 0 1 1 780.56 1623.63Z"/>
<circle cx="864.64" cy="1653.56" r="7.56" fill="#FDC52F"/>
<g fill="none" stroke="url(#gT)" stroke-width="3.45" stroke-linecap="butt"><circle cx="747.04" cy="1656.80" r="12.48"/><path d="M768.40 1643.24V1682.84"/><circle cx="781.00" cy="1656.80" r="12.48"/><path d="M801.16 1656.80H826.12A12.48 12.48 0 1 0 823.20 1664.82"/><path d="M833.80 1643.24V1671.32M833.80 1657.40A12.48 12.48 0 0 1 846.28 1644.92h1.9"/><path d="M856.00 1671.32V1653.20A9.00 9.00 0 0 1 874.00 1653.20V1671.32"/><path d="M881.80 1643.24V1671.32"/><path d="M912.65 1650.56A12.48 12.48 0 1 0 912.65 1663.04"/><path d="M922.60 1643.24V1659.44A10.20 10.20 0 0 0 943.00 1659.44M943.00 1643.24V1671.32"/><path d="M964.00 1649.60C962.20 1643.00 951.40 1642.76 951.40 1650.80C951.40 1659.80 964.24 1654.40 964.24 1663.40C964.24 1672.04 952.00 1671.56 950.32 1664.60"/></g>
<circle cx="881.80" cy="1634.60" r="2.15" fill="#1F4FA6"/>
<path fill="#3C6CB0" d="M812.93 1691.20L806.81 1691.20L806.81 1680.78L812.93 1680.78L812.93 1681.85L808.08 1681.85L808.08 1685.21L812.63 1685.21L812.63 1686.28L808.08 1686.28L808.08 1690.12L812.93 1690.12L812.93 1691.20ZM816.34 1683.39L816.34 1688.46Q816.34 1689.41 816.80 1689.88Q817.26 1690.35 818.23 1690.35Q819.53 1690.35 820.12 1689.68Q820.72 1689.01 820.72 1687.49L820.72 1683.39L821.96 1683.39L821.96 1691.20L820.94 1691.20L820.76 1690.15L820.69 1690.15Q820.31 1690.73 819.63 1691.04Q818.95 1691.34 818.08 1691.34Q816.57 1691.34 815.83 1690.67Q815.08 1689.99 815.08 1688.50L815.08 1683.39L816.34 1683.39ZM828.36 1683.24Q828.91 1683.24 829.34 1683.33L829.17 1684.43Q828.66 1684.32 828.27 1684.32Q827.27 1684.32 826.56 1685.09Q825.85 1685.86 825.85 1687.01L825.85 1691.20L824.61 1691.20L824.61 1683.39L825.64 1683.39L825.78 1684.83L825.84 1684.83Q826.30 1684.07 826.94 1683.66Q827.59 1683.24 828.36 1683.24ZM837.68 1687.29Q837.68 1689.20 836.66 1690.27Q835.65 1691.34 833.86 1691.34Q832.76 1691.34 831.90 1690.85Q831.05 1690.36 830.58 1689.44Q830.12 1688.52 830.12 1687.29Q830.12 1685.38 831.12 1684.31Q832.13 1683.24 833.92 1683.24Q835.64 1683.24 836.66 1684.34Q837.68 1685.43 837.68 1687.29ZM831.41 1687.29Q831.41 1688.78 832.04 1689.57Q832.67 1690.35 833.89 1690.35Q835.12 1690.35 835.75 1689.57Q836.39 1688.79 836.39 1687.29Q836.39 1685.80 835.75 1685.02Q835.12 1684.25 833.88 1684.25Q832.66 1684.25 832.03 1685.01Q831.41 1685.78 831.41 1687.29ZM843.69 1691.34Q842.89 1691.34 842.22 1691.06Q841.56 1690.78 841.11 1690.19L841.02 1690.19Q841.11 1690.88 841.11 1691.49L841.11 1694.71L839.86 1694.71L839.86 1683.39L840.88 1683.39L841.05 1684.46L841.11 1684.46Q841.59 1683.81 842.23 1683.53Q842.86 1683.24 843.69 1683.24Q845.33 1683.24 846.22 1684.31Q847.11 1685.37 847.11 1687.29Q847.11 1689.21 846.20 1690.28Q845.30 1691.34 843.69 1691.34ZM843.51 1684.25Q842.25 1684.25 841.68 1684.91Q841.12 1685.57 841.11 1687.02L841.11 1687.29Q841.11 1688.93 841.68 1689.64Q842.26 1690.35 843.54 1690.35Q844.61 1690.35 845.21 1689.53Q845.81 1688.71 845.81 1687.27Q845.81 1685.81 845.21 1685.03Q844.61 1684.25 843.51 1684.25ZM852.76 1691.34Q850.94 1691.34 849.88 1690.29Q848.82 1689.23 848.82 1687.36Q848.82 1685.47 849.80 1684.36Q850.78 1683.24 852.44 1683.24Q853.98 1683.24 854.88 1684.21Q855.78 1685.18 855.78 1686.76L855.78 1687.51L850.12 1687.51Q850.15 1688.88 850.85 1689.60Q851.54 1690.31 852.80 1690.31Q854.13 1690.31 855.43 1689.78L855.43 1690.84Q854.77 1691.11 854.18 1691.23Q853.59 1691.34 852.76 1691.34ZM852.42 1684.24Q851.43 1684.24 850.84 1684.85Q850.25 1685.46 850.14 1686.54L854.45 1686.54Q854.45 1685.43 853.92 1684.83Q853.40 1684.24 852.42 1684.24ZM858.75 1680.78L858.87 1680.93Q858.67 1681.65 858.30 1682.59Q857.93 1683.54 857.54 1684.35L856.62 1684.35Q857.15 1682.32 857.39 1680.78L858.75 1680.78ZM865.67 1689.07Q865.67 1690.16 864.82 1690.75Q863.96 1691.34 862.42 1691.34Q860.78 1691.34 859.86 1690.85L859.86 1689.75Q860.46 1690.04 861.14 1690.20Q861.81 1690.37 862.45 1690.37Q863.42 1690.37 863.95 1690.07Q864.47 1689.77 864.47 1689.17Q864.47 1688.71 864.06 1688.39Q863.64 1688.06 862.43 1687.62Q861.28 1687.21 860.80 1686.91Q860.31 1686.61 860.08 1686.22Q859.84 1685.84 859.84 1685.31Q859.84 1684.35 860.66 1683.80Q861.48 1683.24 862.90 1683.24Q864.23 1683.24 865.50 1683.76L865.06 1684.72Q863.82 1684.24 862.81 1684.24Q861.93 1684.24 861.48 1684.50Q861.03 1684.76 861.03 1685.23Q861.03 1685.54 861.20 1685.76Q861.37 1685.98 861.74 1686.18Q862.12 1686.38 863.18 1686.76Q864.64 1687.26 865.16 1687.78Q865.67 1688.29 865.67 1689.07ZM875.17 1691.34Q873.35 1691.34 872.29 1690.29Q871.24 1689.23 871.24 1687.36Q871.24 1685.47 872.22 1684.36Q873.20 1683.24 874.85 1683.24Q876.39 1683.24 877.29 1684.21Q878.19 1685.18 878.19 1686.76L878.19 1687.51L872.53 1687.51Q872.57 1688.88 873.26 1689.60Q873.95 1690.31 875.22 1690.31Q876.54 1690.31 877.84 1689.78L877.84 1690.84Q877.18 1691.11 876.59 1691.23Q876.00 1691.34 875.17 1691.34ZM874.83 1684.24Q873.84 1684.24 873.25 1684.85Q872.66 1685.46 872.56 1686.54L876.86 1686.54Q876.86 1685.43 876.33 1684.83Q875.81 1684.24 874.83 1684.24ZM878.71 1683.39L880.04 1683.39L881.84 1687.84Q882.44 1689.37 882.58 1690.05L882.64 1690.05Q882.74 1689.68 883.05 1688.80Q883.36 1687.92 885.09 1683.39L886.42 1683.39L882.89 1692.28Q882.36 1693.60 881.66 1694.15Q880.96 1694.71 879.94 1694.71Q879.37 1694.71 878.81 1694.59L878.81 1693.64Q879.22 1693.72 879.73 1693.72Q881.02 1693.72 881.57 1692.35L882.03 1691.24L878.71 1683.39ZM891.23 1691.34Q889.41 1691.34 888.35 1690.29Q887.30 1689.23 887.30 1687.36Q887.30 1685.47 888.28 1684.36Q889.26 1683.24 890.91 1683.24Q892.46 1683.24 893.36 1684.21Q894.26 1685.18 894.26 1686.76L894.26 1687.51L888.59 1687.51Q888.63 1688.88 889.33 1689.60Q890.02 1690.31 891.28 1690.31Q892.61 1690.31 893.91 1689.78L893.91 1690.84Q893.25 1691.11 892.66 1691.23Q892.07 1691.34 891.23 1691.34ZM890.90 1684.24Q889.91 1684.24 889.32 1684.85Q888.73 1685.46 888.62 1686.54L892.92 1686.54Q892.92 1685.43 892.40 1684.83Q891.87 1684.24 890.90 1684.24ZM901.69 1689.07Q901.69 1690.16 900.84 1690.75Q899.98 1691.34 898.43 1691.34Q896.80 1691.34 895.88 1690.85L895.88 1689.75Q896.48 1690.04 897.15 1690.20Q897.83 1690.37 898.46 1690.37Q899.44 1690.37 899.96 1690.07Q900.49 1689.77 900.49 1689.17Q900.49 1688.71 900.07 1688.39Q899.66 1688.06 898.45 1687.62Q897.30 1687.21 896.81 1686.91Q896.33 1686.61 896.09 1686.22Q895.86 1685.84 895.86 1685.31Q895.86 1684.35 896.68 1683.80Q897.50 1683.24 898.92 1683.24Q900.25 1683.24 901.52 1683.76L901.08 1684.72Q899.84 1684.24 898.83 1684.24Q897.95 1684.24 897.49 1684.50Q897.04 1684.76 897.04 1685.23Q897.04 1685.54 897.21 1685.76Q897.38 1685.98 897.76 1686.18Q898.13 1686.38 899.20 1686.76Q900.66 1687.26 901.18 1687.78Q901.69 1688.29 901.69 1689.07ZM914.81 1687.29Q914.81 1689.20 913.80 1690.27Q912.79 1691.34 911.00 1691.34Q909.90 1691.34 909.04 1690.85Q908.19 1690.36 907.72 1689.44Q907.25 1688.52 907.25 1687.29Q907.25 1685.38 908.26 1684.31Q909.27 1683.24 911.05 1683.24Q912.78 1683.24 913.79 1684.34Q914.81 1685.43 914.81 1687.29ZM908.55 1687.29Q908.55 1688.78 909.17 1689.57Q909.81 1690.35 911.03 1690.35Q912.25 1690.35 912.89 1689.57Q913.52 1688.79 913.52 1687.29Q913.52 1685.80 912.89 1685.02Q912.25 1684.25 911.02 1684.25Q909.79 1684.25 909.17 1685.01Q908.55 1685.78 908.55 1687.29ZM922.63 1691.20L922.63 1686.14Q922.63 1685.19 922.17 1684.72Q921.71 1684.25 920.74 1684.25Q919.45 1684.25 918.85 1684.91Q918.24 1685.57 918.24 1687.10L918.24 1691.20L917.00 1691.20L917.00 1683.39L918.01 1683.39L918.21 1684.46L918.27 1684.46Q918.66 1683.88 919.35 1683.56Q920.04 1683.24 920.89 1683.24Q922.37 1683.24 923.12 1683.93Q923.88 1684.60 923.88 1686.10L923.88 1691.20L922.63 1691.20ZM936.73 1691.20L930.61 1691.20L930.61 1680.78L936.73 1680.78L936.73 1681.85L931.89 1681.85L931.89 1685.21L936.44 1685.21L936.44 1686.28L931.89 1686.28L931.89 1690.12L936.73 1690.12L936.73 1691.20ZM944.04 1691.20L943.79 1690.09L943.73 1690.09Q943.11 1690.82 942.50 1691.08Q941.89 1691.34 940.97 1691.34Q939.75 1691.34 939.06 1690.74Q938.36 1690.14 938.36 1689.04Q938.36 1686.67 942.35 1686.56L943.74 1686.52L943.74 1686.03Q943.74 1685.11 943.33 1684.67Q942.91 1684.24 941.99 1684.24Q940.97 1684.24 939.67 1684.83L939.29 1683.93Q939.89 1683.61 940.62 1683.44Q941.34 1683.26 942.07 1683.26Q943.54 1683.26 944.25 1683.88Q944.96 1684.50 944.96 1685.87L944.96 1691.20L944.04 1691.20ZM941.22 1690.37Q942.39 1690.37 943.05 1689.76Q943.71 1689.15 943.71 1688.06L943.71 1687.36L942.47 1687.41Q940.98 1687.46 940.33 1687.85Q939.67 1688.23 939.67 1689.05Q939.67 1689.70 940.08 1690.03Q940.49 1690.37 941.22 1690.37ZM951.28 1683.24Q951.83 1683.24 952.27 1683.33L952.09 1684.43Q951.58 1684.32 951.19 1684.32Q950.19 1684.32 949.48 1685.09Q948.77 1685.86 948.77 1687.01L948.77 1691.20L947.53 1691.20L947.53 1683.39L948.56 1683.39L948.70 1684.83L948.76 1684.83Q949.22 1684.07 949.86 1683.66Q950.51 1683.24 951.28 1683.24ZM956.46 1690.37Q956.79 1690.37 957.10 1690.32Q957.41 1690.27 957.59 1690.22L957.59 1691.13Q957.39 1691.22 956.99 1691.28Q956.60 1691.34 956.28 1691.34Q953.90 1691.34 953.90 1688.96L953.90 1684.31L952.72 1684.31L952.72 1683.74L953.90 1683.24L954.42 1681.58L955.14 1681.58L955.14 1683.39L957.53 1683.39L957.53 1684.31L955.14 1684.31L955.14 1688.91Q955.14 1689.61 955.49 1689.99Q955.85 1690.37 956.46 1690.37ZM964.86 1691.20L964.86 1686.14Q964.86 1685.19 964.40 1684.72Q963.95 1684.25 962.97 1684.25Q961.67 1684.25 961.07 1684.92Q960.48 1685.59 960.48 1687.11L960.48 1691.20L959.23 1691.20L959.23 1680.11L960.48 1680.11L960.48 1683.46Q960.48 1684.07 960.42 1684.47L960.49 1684.47Q960.86 1683.91 961.54 1683.58Q962.22 1683.26 963.09 1683.26Q964.60 1683.26 965.35 1683.94Q966.11 1684.62 966.11 1686.10L966.11 1691.20L964.86 1691.20Z"/>
<path fill="#8C1A3F" d="M1141 1623.25A46.65 46.65 0 1 0 1118.5 1684.3A42.66 42.66 0 1 1 1141 1623.25Z"/>
<path d="M1069.75 1644.55C1069.30 1640.20 1073.50 1637.05 1078.30 1637.05C1077.70 1629.25 1082.80 1623.70 1089.25 1623.25C1093.75 1622.95 1097.20 1624.90 1099.30 1627.90C1101.70 1621.45 1106.80 1617.40 1113.55 1617.40C1123.00 1617.40 1129.30 1625.20 1128.55 1635.55C1133.80 1635.55 1138.30 1639.30 1138.30 1644.55" fill="none" stroke="#8C1A3F" stroke-width="2.1"/>
<path fill="none" stroke="#8C1A3F" stroke-width="1.9" d="M1108.25 1652.20V1634.20A4.4 4.4 0 0 1 1117.05 1634.20V1652.20A7.6 7.6 0 1 1 1108.25 1652.20Z"/>
<circle cx="1112.65" cy="1657.75" r="4.3" fill="#8C1A3F"/><rect x="1110.95" y="1634.80" width="3.4" height="22.95" fill="#8C1A3F"/>
<path fill="#8C1A3F" d="M1159.43 1629.54L1159.43 1631.11Q1158.64 1630.41 1157.74 1630.06Q1156.85 1629.72 1155.84 1629.72Q1153.85 1629.72 1152.80 1630.87Q1151.74 1632.02 1151.74 1634.21Q1151.74 1636.38 1152.80 1637.54Q1153.85 1638.69 1155.84 1638.69Q1156.85 1638.69 1157.74 1638.34Q1158.64 1638.00 1159.43 1637.30L1159.43 1638.85Q1158.61 1639.38 1157.69 1639.65Q1156.77 1639.91 1155.75 1639.91Q1153.12 1639.91 1151.60 1638.39Q1150.09 1636.85 1150.09 1634.21Q1150.09 1631.55 1151.60 1630.02Q1153.12 1628.49 1155.75 1628.49Q1156.79 1628.49 1157.70 1628.75Q1158.62 1629.02 1159.43 1629.54ZM1161.79 1628.23L1163.22 1628.23L1163.22 1639.70L1161.79 1639.70L1161.79 1628.23ZM1166.20 1631.44L1167.63 1631.44L1167.63 1639.70L1166.20 1639.70L1166.20 1631.44ZM1166.20 1628.23L1167.63 1628.23L1167.63 1629.95L1166.20 1629.95L1166.20 1628.23ZM1177.38 1633.03Q1177.91 1632.11 1178.66 1631.68Q1179.40 1631.24 1180.41 1631.24Q1181.77 1631.24 1182.51 1632.15Q1183.24 1633.05 1183.24 1634.71L1183.24 1639.70L1181.81 1639.70L1181.81 1634.76Q1181.81 1633.57 1181.37 1633.00Q1180.92 1632.42 1180.02 1632.42Q1178.91 1632.42 1178.26 1633.12Q1177.62 1633.82 1177.62 1635.03L1177.62 1639.70L1176.18 1639.70L1176.18 1634.76Q1176.18 1633.57 1175.74 1632.99Q1175.30 1632.42 1174.38 1632.42Q1173.28 1632.42 1172.64 1633.13Q1172.00 1633.83 1172.00 1635.03L1172.00 1639.70L1170.56 1639.70L1170.56 1631.44L1172.00 1631.44L1172.00 1632.73Q1172.48 1631.97 1173.17 1631.60Q1173.85 1631.24 1174.79 1631.24Q1175.74 1631.24 1176.40 1631.70Q1177.06 1632.16 1177.38 1633.03ZM1190.04 1635.55Q1188.31 1635.55 1187.64 1635.92Q1186.97 1636.30 1186.97 1637.21Q1186.97 1637.93 1187.47 1638.36Q1187.98 1638.78 1188.83 1638.78Q1190.02 1638.78 1190.74 1637.98Q1191.46 1637.18 1191.46 1635.85L1191.46 1635.55L1190.04 1635.55ZM1192.89 1634.99L1192.89 1639.70L1191.46 1639.70L1191.46 1638.45Q1190.97 1639.20 1190.24 1639.56Q1189.51 1639.91 1188.45 1639.91Q1187.12 1639.91 1186.33 1639.20Q1185.55 1638.49 1185.55 1637.30Q1185.55 1635.90 1186.53 1635.20Q1187.51 1634.49 1189.46 1634.49L1191.46 1634.49L1191.46 1634.35Q1191.46 1633.42 1190.81 1632.90Q1190.16 1632.39 1188.99 1632.39Q1188.25 1632.39 1187.54 1632.56Q1186.83 1632.73 1186.18 1633.07L1186.18 1631.82Q1186.97 1631.53 1187.70 1631.39Q1188.44 1631.24 1189.14 1631.24Q1191.02 1631.24 1191.95 1632.17Q1192.89 1633.10 1192.89 1634.99ZM1197.24 1629.10L1197.24 1631.44L1200.17 1631.44L1200.17 1632.50L1197.24 1632.50L1197.24 1636.98Q1197.24 1637.99 1197.53 1638.28Q1197.82 1638.57 1198.71 1638.57L1200.17 1638.57L1200.17 1639.70L1198.71 1639.70Q1197.06 1639.70 1196.43 1639.11Q1195.80 1638.53 1195.80 1636.98L1195.80 1632.50L1194.75 1632.50L1194.75 1631.44L1195.80 1631.44L1195.80 1629.10L1197.24 1629.10ZM1209.48 1635.23L1209.48 1635.89L1202.92 1635.89Q1203.02 1637.30 1203.81 1638.03Q1204.60 1638.76 1206.02 1638.76Q1206.84 1638.76 1207.62 1638.57Q1208.39 1638.38 1209.15 1638.00L1209.15 1639.28Q1208.38 1639.59 1207.57 1639.75Q1206.77 1639.91 1205.94 1639.91Q1203.86 1639.91 1202.65 1638.77Q1201.43 1637.61 1201.43 1635.65Q1201.43 1633.62 1202.58 1632.44Q1203.73 1631.24 1205.69 1631.24Q1207.44 1631.24 1208.46 1632.32Q1209.48 1633.39 1209.48 1635.23ZM1208.06 1634.83Q1208.04 1633.72 1207.40 1633.06Q1206.76 1632.39 1205.71 1632.39Q1204.51 1632.39 1203.79 1633.03Q1203.08 1633.68 1202.97 1634.84L1208.06 1634.83Z"/>
<path fill="#8C1A3F" d="M1159.43 1647.94L1159.43 1649.51Q1158.64 1648.81 1157.74 1648.46Q1156.85 1648.12 1155.84 1648.12Q1153.85 1648.12 1152.80 1649.27Q1151.74 1650.42 1151.74 1652.61Q1151.74 1654.78 1152.80 1655.94Q1153.85 1657.09 1155.84 1657.09Q1156.85 1657.09 1157.74 1656.74Q1158.64 1656.40 1159.43 1655.70L1159.43 1657.25Q1158.61 1657.78 1157.69 1658.05Q1156.77 1658.31 1155.75 1658.31Q1153.12 1658.31 1151.60 1656.79Q1150.09 1655.25 1150.09 1652.61Q1150.09 1649.95 1151.60 1648.42Q1153.12 1646.89 1155.75 1646.89Q1156.79 1646.89 1157.70 1647.15Q1158.62 1647.42 1159.43 1647.94ZM1169.01 1653.11L1169.01 1658.10L1167.58 1658.10L1167.58 1653.16Q1167.58 1651.99 1167.10 1651.41Q1166.62 1650.82 1165.66 1650.82Q1164.50 1650.82 1163.84 1651.52Q1163.17 1652.22 1163.17 1653.43L1163.17 1658.10L1161.73 1658.10L1161.73 1646.63L1163.17 1646.63L1163.17 1651.13Q1163.68 1650.38 1164.37 1650.01Q1165.07 1649.64 1165.98 1649.64Q1167.47 1649.64 1168.24 1650.52Q1169.01 1651.40 1169.01 1653.11ZM1175.81 1653.95Q1174.08 1653.95 1173.41 1654.32Q1172.74 1654.70 1172.74 1655.61Q1172.74 1656.33 1173.24 1656.76Q1173.74 1657.18 1174.60 1657.18Q1175.79 1657.18 1176.51 1656.38Q1177.22 1655.58 1177.22 1654.25L1177.22 1653.95L1175.81 1653.95ZM1178.65 1653.39L1178.65 1658.10L1177.22 1658.10L1177.22 1656.85Q1176.74 1657.60 1176.01 1657.96Q1175.28 1658.31 1174.22 1658.31Q1172.89 1658.31 1172.10 1657.60Q1171.31 1656.89 1171.31 1655.70Q1171.31 1654.30 1172.29 1653.60Q1173.28 1652.89 1175.22 1652.89L1177.22 1652.89L1177.22 1652.75Q1177.22 1651.82 1176.58 1651.30Q1175.93 1650.79 1174.76 1650.79Q1174.01 1650.79 1173.31 1650.96Q1172.60 1651.13 1171.95 1651.47L1171.95 1650.22Q1172.73 1649.93 1173.47 1649.79Q1174.21 1649.64 1174.90 1649.64Q1176.79 1649.64 1177.72 1650.57Q1178.65 1651.50 1178.65 1653.39ZM1188.81 1653.11L1188.81 1658.10L1187.39 1658.10L1187.39 1653.16Q1187.39 1651.99 1186.90 1651.41Q1186.42 1650.82 1185.46 1650.82Q1184.31 1650.82 1183.64 1651.52Q1182.97 1652.22 1182.97 1653.43L1182.97 1658.10L1181.54 1658.10L1181.54 1649.84L1182.97 1649.84L1182.97 1651.13Q1183.48 1650.38 1184.18 1650.01Q1184.87 1649.64 1185.78 1649.64Q1187.28 1649.64 1188.04 1650.52Q1188.81 1651.40 1188.81 1653.11ZM1197.37 1653.87Q1197.37 1652.40 1196.73 1651.59Q1196.10 1650.78 1194.94 1650.78Q1193.79 1650.78 1193.15 1651.59Q1192.51 1652.40 1192.51 1653.87Q1192.51 1655.34 1193.15 1656.15Q1193.79 1656.97 1194.94 1656.97Q1196.10 1656.97 1196.73 1656.15Q1197.37 1655.34 1197.37 1653.87ZM1198.80 1657.08Q1198.80 1659.18 1197.82 1660.21Q1196.83 1661.24 1194.80 1661.24Q1194.05 1661.24 1193.38 1661.13Q1192.71 1661.03 1192.09 1660.81L1192.09 1659.49Q1192.71 1659.81 1193.33 1659.96Q1193.94 1660.12 1194.57 1660.12Q1195.98 1660.12 1196.68 1659.42Q1197.37 1658.73 1197.37 1657.32L1197.37 1656.65Q1196.93 1657.38 1196.24 1657.74Q1195.55 1658.10 1194.59 1658.10Q1192.99 1658.10 1192.02 1656.94Q1191.04 1655.79 1191.04 1653.87Q1191.04 1651.96 1192.02 1650.80Q1192.99 1649.64 1194.59 1649.64Q1195.55 1649.64 1196.24 1650.00Q1196.93 1650.37 1197.37 1651.10L1197.37 1649.84L1198.80 1649.84L1198.80 1657.08ZM1209.17 1653.63L1209.17 1654.29L1202.61 1654.29Q1202.70 1655.70 1203.50 1656.43Q1204.29 1657.16 1205.71 1657.16Q1206.53 1657.16 1207.31 1656.97Q1208.08 1656.78 1208.84 1656.40L1208.84 1657.68Q1208.07 1657.99 1207.26 1658.15Q1206.46 1658.31 1205.63 1658.31Q1203.55 1658.31 1202.34 1657.17Q1201.12 1656.01 1201.12 1654.05Q1201.12 1652.02 1202.27 1650.84Q1203.42 1649.64 1205.38 1649.64Q1207.13 1649.64 1208.15 1650.72Q1209.17 1651.79 1209.17 1653.63ZM1207.75 1653.23Q1207.73 1652.12 1207.09 1651.46Q1206.45 1650.79 1205.40 1650.79Q1204.20 1650.79 1203.48 1651.43Q1202.77 1652.08 1202.66 1653.24L1207.75 1653.23ZM1223.57 1647.45L1223.57 1648.91Q1222.68 1648.50 1221.89 1648.30Q1221.09 1648.10 1220.36 1648.10Q1219.08 1648.10 1218.38 1648.57Q1217.69 1649.04 1217.69 1649.92Q1217.69 1650.65 1218.15 1651.02Q1218.61 1651.39 1219.90 1651.62L1220.85 1651.80Q1222.60 1652.12 1223.43 1652.92Q1224.27 1653.72 1224.27 1655.06Q1224.27 1656.66 1223.14 1657.49Q1222.01 1658.31 1219.83 1658.31Q1219.01 1658.31 1218.08 1658.14Q1217.16 1657.96 1216.16 1657.61L1216.16 1656.08Q1217.12 1656.59 1218.03 1656.85Q1218.95 1657.10 1219.83 1657.10Q1221.17 1657.10 1221.90 1656.60Q1222.63 1656.10 1222.63 1655.17Q1222.63 1654.36 1222.11 1653.91Q1221.58 1653.45 1220.39 1653.22L1219.43 1653.04Q1217.68 1652.71 1216.90 1652.00Q1216.12 1651.30 1216.12 1650.03Q1216.12 1648.57 1217.20 1647.73Q1218.28 1646.89 1220.18 1646.89Q1220.99 1646.89 1221.84 1647.03Q1222.69 1647.17 1223.57 1647.45ZM1234.08 1653.63L1234.08 1654.29L1227.52 1654.29Q1227.61 1655.70 1228.41 1656.43Q1229.20 1657.16 1230.62 1657.16Q1231.44 1657.16 1232.21 1656.97Q1232.98 1656.78 1233.75 1656.40L1233.75 1657.68Q1232.98 1657.99 1232.17 1658.15Q1231.36 1658.31 1230.53 1658.31Q1228.45 1658.31 1227.24 1657.17Q1226.03 1656.01 1226.03 1654.05Q1226.03 1652.02 1227.18 1650.84Q1228.33 1649.64 1230.29 1649.64Q1232.04 1649.64 1233.06 1650.72Q1234.08 1651.79 1234.08 1653.63ZM1232.65 1653.23Q1232.64 1652.12 1232.00 1651.46Q1231.36 1650.79 1230.30 1650.79Q1229.11 1650.79 1228.39 1651.43Q1227.67 1652.08 1227.56 1653.24L1232.65 1653.23ZM1241.45 1651.11Q1241.21 1650.98 1240.93 1650.92Q1240.65 1650.85 1240.31 1650.85Q1239.10 1650.85 1238.45 1651.60Q1237.80 1652.35 1237.80 1653.75L1237.80 1658.10L1236.37 1658.10L1236.37 1649.84L1237.80 1649.84L1237.80 1651.13Q1238.25 1650.37 1238.97 1650.01Q1239.69 1649.64 1240.73 1649.64Q1240.87 1649.64 1241.05 1649.66Q1241.23 1649.68 1241.45 1649.72L1241.45 1651.11ZM1241.93 1649.84L1243.44 1649.84L1246.16 1656.77L1248.87 1649.84L1250.38 1649.84L1247.12 1658.10L1245.19 1658.10L1241.93 1649.84ZM1252.35 1649.84L1253.78 1649.84L1253.78 1658.10L1252.35 1658.10L1252.35 1649.84ZM1252.35 1646.63L1253.78 1646.63L1253.78 1648.35L1252.35 1648.35L1252.35 1646.63ZM1263.02 1650.16L1263.02 1651.43Q1262.41 1651.11 1261.80 1650.95Q1261.20 1650.79 1260.58 1650.79Q1259.19 1650.79 1258.42 1651.63Q1257.65 1652.47 1257.65 1653.98Q1257.65 1655.49 1258.42 1656.33Q1259.19 1657.16 1260.58 1657.16Q1261.20 1657.16 1261.80 1657.01Q1262.41 1656.85 1263.02 1656.53L1263.02 1657.78Q1262.42 1658.05 1261.78 1658.18Q1261.14 1658.31 1260.42 1658.31Q1258.46 1658.31 1257.30 1657.14Q1256.15 1655.97 1256.15 1653.98Q1256.15 1651.96 1257.31 1650.80Q1258.48 1649.64 1260.51 1649.64Q1261.17 1649.64 1261.80 1649.77Q1262.43 1649.90 1263.02 1650.16ZM1272.93 1653.63L1272.93 1654.29L1266.37 1654.29Q1266.46 1655.70 1267.26 1656.43Q1268.05 1657.16 1269.47 1657.16Q1270.29 1657.16 1271.06 1656.97Q1271.84 1656.78 1272.60 1656.40L1272.60 1657.68Q1271.83 1657.99 1271.02 1658.15Q1270.22 1658.31 1269.39 1658.31Q1267.31 1658.31 1266.09 1657.17Q1264.88 1656.01 1264.88 1654.05Q1264.88 1652.02 1266.03 1650.84Q1267.18 1649.64 1269.14 1649.64Q1270.89 1649.64 1271.91 1650.72Q1272.93 1651.79 1272.93 1653.63ZM1271.50 1653.23Q1271.49 1652.12 1270.85 1651.46Q1270.21 1650.79 1269.15 1650.79Q1267.96 1650.79 1267.24 1651.43Q1266.52 1652.08 1266.42 1653.24L1271.50 1653.23Z"/>
<path fill="#9B9B9B" d="M1154.17 1681.63L1154.17 1682.84Q1153.63 1682.53 1153.09 1682.38Q1152.55 1682.23 1152.00 1682.23Q1150.77 1682.23 1150.09 1683.03Q1149.41 1683.83 1149.41 1685.27Q1149.41 1686.71 1150.09 1687.51Q1150.77 1688.31 1152.00 1688.31Q1152.55 1688.31 1153.09 1688.16Q1153.63 1688.01 1154.17 1687.70L1154.17 1688.90Q1153.64 1689.15 1153.07 1689.28Q1152.51 1689.40 1151.87 1689.40Q1150.13 1689.40 1149.10 1688.29Q1148.08 1687.17 1148.08 1685.27Q1148.08 1683.34 1149.11 1682.24Q1150.15 1681.14 1151.95 1681.14Q1152.53 1681.14 1153.09 1681.26Q1153.65 1681.38 1154.17 1681.63ZM1156.37 1678.26L1157.64 1678.26L1157.64 1689.20L1156.37 1689.20L1156.37 1678.26ZM1160.28 1681.33L1161.55 1681.33L1161.55 1689.20L1160.28 1689.20L1160.28 1681.33ZM1160.28 1678.26L1161.55 1678.26L1161.55 1679.90L1160.28 1679.90L1160.28 1678.26ZM1170.19 1682.84Q1170.67 1681.96 1171.33 1681.55Q1171.99 1681.14 1172.88 1681.14Q1174.08 1681.14 1174.74 1682.00Q1175.39 1682.86 1175.39 1684.45L1175.39 1689.20L1174.12 1689.20L1174.12 1684.49Q1174.12 1683.36 1173.73 1682.81Q1173.33 1682.26 1172.53 1682.26Q1171.55 1682.26 1170.98 1682.93Q1170.41 1683.60 1170.41 1684.75L1170.41 1689.20L1169.13 1689.20L1169.13 1684.49Q1169.13 1683.35 1168.74 1682.81Q1168.35 1682.26 1167.53 1682.26Q1166.56 1682.26 1165.99 1682.93Q1165.42 1683.60 1165.42 1684.75L1165.42 1689.20L1164.15 1689.20L1164.15 1681.33L1165.42 1681.33L1165.42 1682.55Q1165.85 1681.82 1166.46 1681.48Q1167.06 1681.14 1167.89 1681.14Q1168.74 1681.14 1169.32 1681.57Q1169.91 1682.01 1170.19 1682.84ZM1181.42 1685.24Q1179.88 1685.24 1179.29 1685.60Q1178.70 1685.96 1178.70 1686.82Q1178.70 1687.51 1179.14 1687.92Q1179.59 1688.32 1180.35 1688.32Q1181.40 1688.32 1182.04 1687.56Q1182.67 1686.79 1182.67 1685.53L1182.67 1685.24L1181.42 1685.24ZM1183.94 1684.71L1183.94 1689.20L1182.67 1689.20L1182.67 1688.01Q1182.24 1688.72 1181.59 1689.06Q1180.95 1689.40 1180.01 1689.40Q1178.83 1689.40 1178.13 1688.73Q1177.43 1688.05 1177.43 1686.91Q1177.43 1685.58 1178.30 1684.90Q1179.17 1684.23 1180.90 1684.23L1182.67 1684.23L1182.67 1684.10Q1182.67 1683.21 1182.10 1682.72Q1181.53 1682.23 1180.49 1682.23Q1179.83 1682.23 1179.20 1682.39Q1178.57 1682.56 1178.00 1682.88L1178.00 1681.68Q1178.69 1681.41 1179.34 1681.27Q1180.00 1681.14 1180.62 1681.14Q1182.29 1681.14 1183.11 1682.02Q1183.94 1682.91 1183.94 1684.71ZM1187.80 1679.09L1187.80 1681.33L1190.40 1681.33L1190.40 1682.33L1187.80 1682.33L1187.80 1686.61Q1187.80 1687.57 1188.05 1687.84Q1188.31 1688.12 1189.10 1688.12L1190.40 1688.12L1190.40 1689.20L1189.10 1689.20Q1187.64 1689.20 1187.08 1688.64Q1186.52 1688.08 1186.52 1686.61L1186.52 1682.33L1185.60 1682.33L1185.60 1681.33L1186.52 1681.33L1186.52 1679.09L1187.80 1679.09ZM1198.65 1684.94L1198.65 1685.57L1192.84 1685.57Q1192.92 1686.91 1193.62 1687.61Q1194.33 1688.31 1195.59 1688.31Q1196.32 1688.31 1197.00 1688.12Q1197.68 1687.94 1198.36 1687.58L1198.36 1688.80Q1197.68 1689.09 1196.96 1689.25Q1196.25 1689.40 1195.51 1689.40Q1193.67 1689.40 1192.59 1688.31Q1191.52 1687.21 1191.52 1685.34Q1191.52 1683.41 1192.54 1682.27Q1193.56 1681.14 1195.29 1681.14Q1196.85 1681.14 1197.75 1682.16Q1198.65 1683.18 1198.65 1684.94ZM1197.39 1684.56Q1197.38 1683.50 1196.81 1682.87Q1196.24 1682.23 1195.31 1682.23Q1194.25 1682.23 1193.61 1682.84Q1192.97 1683.46 1192.88 1684.57L1197.39 1684.56ZM1200.91 1687.41L1202.36 1687.41L1202.36 1689.20L1200.91 1689.20L1200.91 1687.41ZM1210.75 1681.63L1210.75 1682.84Q1210.21 1682.53 1209.67 1682.38Q1209.14 1682.23 1208.59 1682.23Q1207.35 1682.23 1206.67 1683.03Q1205.99 1683.83 1205.99 1685.27Q1205.99 1686.71 1206.67 1687.51Q1207.35 1688.31 1208.59 1688.31Q1209.14 1688.31 1209.67 1688.16Q1210.21 1688.01 1210.75 1687.70L1210.75 1688.90Q1210.22 1689.15 1209.65 1689.28Q1209.09 1689.40 1208.45 1689.40Q1206.71 1689.40 1205.68 1688.29Q1204.66 1687.17 1204.66 1685.27Q1204.66 1683.34 1205.69 1682.24Q1206.73 1681.14 1208.53 1681.14Q1209.11 1681.14 1209.67 1681.26Q1210.23 1681.38 1210.75 1681.63ZM1215.93 1682.23Q1214.92 1682.23 1214.33 1683.04Q1213.73 1683.86 1213.73 1685.27Q1213.73 1686.68 1214.32 1687.49Q1214.91 1688.31 1215.93 1688.31Q1216.95 1688.31 1217.54 1687.49Q1218.13 1686.68 1218.13 1685.27Q1218.13 1683.87 1217.54 1683.05Q1216.95 1682.23 1215.93 1682.23ZM1215.93 1681.14Q1217.58 1681.14 1218.53 1682.23Q1219.47 1683.33 1219.47 1685.27Q1219.47 1687.20 1218.53 1688.30Q1217.58 1689.40 1215.93 1689.40Q1214.28 1689.40 1213.34 1688.30Q1212.40 1687.20 1212.40 1685.27Q1212.40 1683.33 1213.34 1682.23Q1214.28 1681.14 1215.93 1681.14ZM1222.79 1688.02L1222.79 1692.19L1221.52 1692.19L1221.52 1681.33L1222.79 1681.33L1222.79 1682.52Q1223.19 1681.82 1223.80 1681.48Q1224.41 1681.14 1225.25 1681.14Q1226.66 1681.14 1227.53 1682.27Q1228.41 1683.41 1228.41 1685.27Q1228.41 1687.13 1227.53 1688.27Q1226.66 1689.40 1225.25 1689.40Q1224.41 1689.40 1223.80 1689.06Q1223.19 1688.72 1222.79 1688.02ZM1227.10 1685.27Q1227.10 1683.84 1226.52 1683.03Q1225.95 1682.22 1224.94 1682.22Q1223.94 1682.22 1223.36 1683.03Q1222.79 1683.84 1222.79 1685.27Q1222.79 1686.70 1223.36 1687.51Q1223.94 1688.32 1224.94 1688.32Q1225.95 1688.32 1226.52 1687.51Q1227.10 1686.70 1227.10 1685.27ZM1237.09 1684.94L1237.09 1685.57L1231.28 1685.57Q1231.36 1686.91 1232.06 1687.61Q1232.77 1688.31 1234.03 1688.31Q1234.76 1688.31 1235.44 1688.12Q1236.12 1687.94 1236.80 1687.58L1236.80 1688.80Q1236.12 1689.09 1235.40 1689.25Q1234.69 1689.40 1233.95 1689.40Q1232.11 1689.40 1231.03 1688.31Q1229.96 1687.21 1229.96 1685.34Q1229.96 1683.41 1230.98 1682.27Q1232.00 1681.14 1233.73 1681.14Q1235.29 1681.14 1236.19 1682.16Q1237.09 1683.18 1237.09 1684.94ZM1235.83 1684.56Q1235.82 1683.50 1235.25 1682.87Q1234.68 1682.23 1233.75 1682.23Q1232.69 1682.23 1232.05 1682.84Q1231.41 1683.46 1231.32 1684.57L1235.83 1684.56ZM1243.63 1682.53Q1243.42 1682.41 1243.17 1682.35Q1242.92 1682.29 1242.62 1682.29Q1241.54 1682.29 1240.97 1683.00Q1240.39 1683.71 1240.39 1685.05L1240.39 1689.20L1239.12 1689.20L1239.12 1681.33L1240.39 1681.33L1240.39 1682.55Q1240.79 1681.83 1241.43 1681.48Q1242.07 1681.14 1242.99 1681.14Q1243.12 1681.14 1243.28 1681.15Q1243.44 1681.17 1243.63 1681.21L1243.63 1682.53ZM1251.12 1684.45L1251.12 1689.20L1249.85 1689.20L1249.85 1684.49Q1249.85 1683.37 1249.43 1682.82Q1249.00 1682.26 1248.15 1682.26Q1247.12 1682.26 1246.53 1682.93Q1245.94 1683.60 1245.94 1684.75L1245.94 1689.20L1244.67 1689.20L1244.67 1681.33L1245.94 1681.33L1245.94 1682.55Q1246.39 1681.84 1247.01 1681.49Q1247.62 1681.14 1248.43 1681.14Q1249.76 1681.14 1250.44 1681.98Q1251.12 1682.81 1251.12 1684.45ZM1253.64 1681.33L1254.91 1681.33L1254.91 1689.20L1253.64 1689.20L1253.64 1681.33ZM1253.64 1678.26L1254.91 1678.26L1254.91 1679.90L1253.64 1679.90L1253.64 1678.26ZM1263.10 1681.63L1263.10 1682.84Q1262.56 1682.53 1262.02 1682.38Q1261.48 1682.23 1260.93 1682.23Q1259.70 1682.23 1259.02 1683.03Q1258.34 1683.83 1258.34 1685.27Q1258.34 1686.71 1259.02 1687.51Q1259.70 1688.31 1260.93 1688.31Q1261.48 1688.31 1262.02 1688.16Q1262.56 1688.01 1263.10 1687.70L1263.10 1688.90Q1262.57 1689.15 1262.00 1689.28Q1261.43 1689.40 1260.79 1689.40Q1259.05 1689.40 1258.03 1688.29Q1257.00 1687.17 1257.00 1685.27Q1257.00 1683.34 1258.04 1682.24Q1259.07 1681.14 1260.88 1681.14Q1261.46 1681.14 1262.02 1681.26Q1262.57 1681.38 1263.10 1681.63ZM1265.17 1686.09L1265.17 1681.33L1266.43 1681.33L1266.43 1686.04Q1266.43 1687.16 1266.86 1687.72Q1267.28 1688.28 1268.14 1688.28Q1269.16 1688.28 1269.75 1687.61Q1270.35 1686.94 1270.35 1685.79L1270.35 1681.33L1271.62 1681.33L1271.62 1689.20L1270.35 1689.20L1270.35 1687.99Q1269.89 1688.71 1269.28 1689.06Q1268.67 1689.40 1267.87 1689.40Q1266.54 1689.40 1265.85 1688.56Q1265.17 1687.72 1265.17 1686.09ZM1268.35 1681.14L1268.35 1681.14ZM1279.13 1681.56L1279.13 1682.78Q1278.60 1682.50 1278.02 1682.36Q1277.44 1682.22 1276.82 1682.22Q1275.88 1682.22 1275.41 1682.51Q1274.94 1682.81 1274.94 1683.40Q1274.94 1683.85 1275.27 1684.11Q1275.61 1684.36 1276.63 1684.59L1277.06 1684.69Q1278.41 1684.99 1278.98 1685.53Q1279.54 1686.06 1279.54 1687.03Q1279.54 1688.12 1278.70 1688.77Q1277.85 1689.40 1276.36 1689.40Q1275.74 1689.40 1275.07 1689.28Q1274.40 1689.16 1273.66 1688.91L1273.66 1687.58Q1274.36 1687.95 1275.04 1688.14Q1275.72 1688.32 1276.39 1688.32Q1277.28 1688.32 1277.76 1688.01Q1278.24 1687.69 1278.24 1687.13Q1278.24 1686.60 1277.90 1686.32Q1277.55 1686.04 1276.37 1685.78L1275.93 1685.67Q1274.76 1685.42 1274.23 1684.89Q1273.71 1684.37 1273.71 1683.46Q1273.71 1682.34 1274.48 1681.74Q1275.25 1681.14 1276.67 1681.14Q1277.37 1681.14 1277.99 1681.24Q1278.61 1681.35 1279.13 1681.56ZM1281.74 1687.41L1283.19 1687.41L1283.19 1689.20L1281.74 1689.20L1281.74 1687.41ZM1292.62 1684.94L1292.62 1685.57L1286.81 1685.57Q1286.89 1686.91 1287.59 1687.61Q1288.30 1688.31 1289.56 1688.31Q1290.28 1688.31 1290.97 1688.12Q1291.65 1687.94 1292.33 1687.58L1292.33 1688.80Q1291.65 1689.09 1290.93 1689.25Q1290.22 1689.40 1289.48 1689.40Q1287.64 1689.40 1286.56 1688.31Q1285.49 1687.21 1285.49 1685.34Q1285.49 1683.41 1286.51 1682.27Q1287.53 1681.14 1289.26 1681.14Q1290.81 1681.14 1291.72 1682.16Q1292.62 1683.18 1292.62 1684.94ZM1291.36 1684.56Q1291.35 1683.50 1290.78 1682.87Q1290.21 1682.23 1289.27 1682.23Q1288.22 1682.23 1287.58 1682.84Q1286.94 1683.46 1286.85 1684.57L1291.36 1684.56ZM1294.57 1686.09L1294.57 1681.33L1295.84 1681.33L1295.84 1686.04Q1295.84 1687.16 1296.26 1687.72Q1296.69 1688.28 1297.54 1688.28Q1298.56 1688.28 1299.16 1687.61Q1299.75 1686.94 1299.75 1685.79L1299.75 1681.33L1301.02 1681.33L1301.02 1689.20L1299.75 1689.20L1299.75 1687.99Q1299.29 1688.71 1298.69 1689.06Q1298.08 1689.40 1297.27 1689.40Q1295.95 1689.40 1295.26 1688.56Q1294.57 1687.72 1294.57 1686.09ZM1297.75 1681.14L1297.75 1681.14Z"/>
<text x="1383.2" y="1648.4" font-family="'Liberation Sans',sans-serif" font-size="13.8" fill="#3A70B5" textLength="124" lengthAdjust="spacingAndGlyphs">IMPLEMENTED BY</text>
<g fill="#326EB4"><circle cx="1572.6" cy="1643.5" r="32.7"/><circle cx="1599.9" cy="1643.5" r="32.7"/></g>
<g fill="#fff"><circle cx="1573.2" cy="1643.5" r="14.4"/><circle cx="1600.2" cy="1643.5" r="14.4"/><rect x="1535" y="1637.5" width="38.2" height="12"/><rect x="1600.2" y="1637.5" width="36" height="12"/></g>
<rect x="1539.9" y="1640.1" width="27.9" height="6.8" fill="#326EB4"/>
<text x="1639.6" y="1670.8" font-family="'Liberation Sans',sans-serif" font-weight="700" font-size="77.5" fill="#326EB4" stroke="#326EB4" stroke-width="1.3" textLength="295.5" lengthAdjust="spacingAndGlyphs">ECMWF</text>
</svg>
<div id="txt" aria-hidden="false"><span style="left:560px;top:56px;width:960px;font-size:40px;text-align:center;">Zonal mean U10hPa at 60N</span><span style="left:560px;top:104px;width:960px;font-size:40px;text-align:center;">C3S: ECMWF contribution from 1 Feb 2026</span><span style="left:560px;top:151px;width:960px;font-size:40px;text-align:center;">Climate period 1993-2016</span><span style="left:40px;top:193px;width:100px;font-size:34px;text-align:right;">80</span><span style="left:40px;top:363px;width:100px;font-size:34px;text-align:right;">60</span><span style="left:40px;top:533px;width:100px;font-size:34px;text-align:right;">40</span><span style="left:40px;top:704px;width:100px;font-size:34px;text-align:right;">20</span><span style="left:40px;top:874px;width:100px;font-size:34px;text-align:right;">0</span><span style="left:40px;top:1044px;width:100px;font-size:34px;text-align:right;">−20</span><span style="left:40px;top:1214px;width:100px;font-size:34px;text-align:right;">−40</span><span style="left:299px;top:1338px;width:250px;font-size:34px;text-align:center;">01 Mar 2026</span><span style="left:593px;top:1338px;width:250px;font-size:34px;text-align:center;">01 Apr 2026</span><span style="left:877px;top:1338px;width:250px;font-size:34px;text-align:center;">01 May 2026</span><span style="left:1170px;top:1338px;width:250px;font-size:34px;text-align:center;">01 Jun 2026</span><span style="left:1454px;top:1338px;width:250px;font-size:34px;text-align:center;">01 Jul 2026</span><span style="left:1747px;top:1338px;width:250px;font-size:34px;text-align:center;">01 Aug 2026</span><span style="left:-95px;top:745px;width:250px;font-size:34px;text-align:center;transform:rotate(-90deg);">U10hPa (m/s)</span><span style="left:316px;top:232px;font-size:24px;">Model climate P10-P90</span><span style="left:316px;top:269px;font-size:24px;">Model climate P25-P75</span><span style="left:720px;top:232px;font-size:24px;">Model climate mean</span><span style="left:720px;top:269px;font-size:24px;">Model climate Min-Max</span><span style="left:1127px;top:232px;font-size:24px;">Forecast ensemble mean</span><span style="left:1127px;top:269px;font-size:24px;">Forecast ensemble members</span><span style="left:1608px;top:232px;font-size:24px;">ERA5 daily climatology</span><span style="left:690px;top:1640px;width:280px;font-size:34px;">Copernicus</span><span style="left:806px;top:1677px;width:170px;font-size:14px;">Europe’s eyes on Earth</span><span style="left:1149px;top:1626px;width:160px;font-size:14px;">Climate</span><span style="left:1149px;top:1644px;width:160px;font-size:14px;">Change Service</span><span style="left:1148px;top:1676px;width:170px;font-size:14px;">climate.copernicus.eu</span></div>
</div>
</body></html>
